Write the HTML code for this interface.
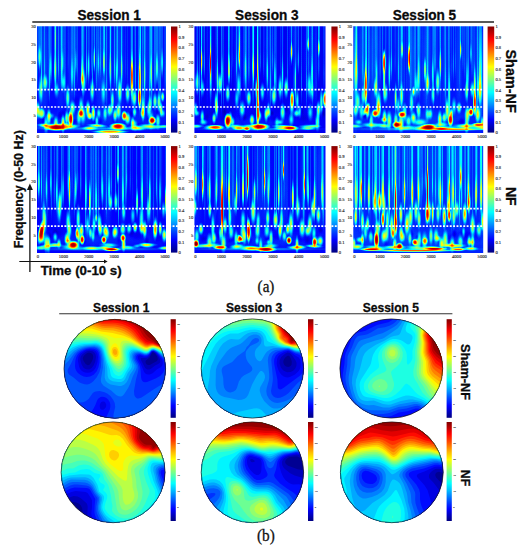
<!DOCTYPE html>
<html><head><meta charset="utf-8"><title>Figure</title>
<style>html,body{margin:0;padding:0;background:#fff;}body{width:529px;height:550px;overflow:hidden;font-family:"Liberation Sans",sans-serif;}svg{display:block;}text{font-family:"Liberation Sans",sans-serif;}.b{font-weight:bold;fill:#0a0a0a;stroke:#0a0a0a;stroke-width:0.3px;}.s{font-family:"Liberation Serif",serif;fill:#111;stroke:#111;stroke-width:.3px;}.t{font-family:"Liberation Serif",serif;fill:#222;font-size:4.6px;stroke:#333;stroke-width:.12px;}</style>
</head><body>
<svg width="529" height="550" viewBox="0 0 529 550">
<defs>
<radialGradient id="gw"><stop offset="0" stop-color="#fff" stop-opacity="1"/><stop offset="0.15" stop-color="#fff" stop-opacity="0.93"/><stop offset="0.3" stop-color="#fff" stop-opacity="0.76"/><stop offset="0.45" stop-color="#fff" stop-opacity="0.53"/><stop offset="0.6" stop-color="#fff" stop-opacity="0.32"/><stop offset="0.75" stop-color="#fff" stop-opacity="0.15"/><stop offset="0.9" stop-color="#fff" stop-opacity="0.04"/><stop offset="1" stop-color="#fff" stop-opacity="0"/></radialGradient>
<radialGradient id="gk"><stop offset="0" stop-color="#000" stop-opacity="1"/><stop offset="0.15" stop-color="#000" stop-opacity="0.93"/><stop offset="0.3" stop-color="#000" stop-opacity="0.76"/><stop offset="0.45" stop-color="#000" stop-opacity="0.53"/><stop offset="0.6" stop-color="#000" stop-opacity="0.32"/><stop offset="0.75" stop-color="#000" stop-opacity="0.15"/><stop offset="0.9" stop-color="#000" stop-opacity="0.04"/><stop offset="1" stop-color="#000" stop-opacity="0"/></radialGradient>
<radialGradient id="fw"><stop offset="0" stop-color="#fff" stop-opacity="1"/><stop offset="0.28" stop-color="#fff" stop-opacity="0.96"/><stop offset="0.42" stop-color="#fff" stop-opacity="0.82"/><stop offset="0.56" stop-color="#fff" stop-opacity="0.58"/><stop offset="0.7" stop-color="#fff" stop-opacity="0.34"/><stop offset="0.84" stop-color="#fff" stop-opacity="0.14"/><stop offset="1" stop-color="#fff" stop-opacity="0"/></radialGradient>
<radialGradient id="fk"><stop offset="0" stop-color="#000" stop-opacity="1"/><stop offset="0.28" stop-color="#000" stop-opacity="0.96"/><stop offset="0.42" stop-color="#000" stop-opacity="0.82"/><stop offset="0.56" stop-color="#000" stop-opacity="0.58"/><stop offset="0.7" stop-color="#000" stop-opacity="0.34"/><stop offset="0.84" stop-color="#000" stop-opacity="0.14"/><stop offset="1" stop-color="#000" stop-opacity="0"/></radialGradient>
<radialGradient id="tw"><stop offset="0" stop-color="#fff" stop-opacity="1"/><stop offset="0.55" stop-color="#fff" stop-opacity="0.96"/><stop offset="0.75" stop-color="#fff" stop-opacity="0.75"/><stop offset="0.88" stop-color="#fff" stop-opacity="0.4"/><stop offset="0.96" stop-color="#fff" stop-opacity="0.12"/><stop offset="1" stop-color="#fff" stop-opacity="0"/></radialGradient>
<radialGradient id="tk"><stop offset="0" stop-color="#000" stop-opacity="1"/><stop offset="0.55" stop-color="#000" stop-opacity="0.96"/><stop offset="0.75" stop-color="#000" stop-opacity="0.75"/><stop offset="0.88" stop-color="#000" stop-opacity="0.4"/><stop offset="0.96" stop-color="#000" stop-opacity="0.12"/><stop offset="1" stop-color="#000" stop-opacity="0"/></radialGradient>
<linearGradient id="cb" x1="0" y1="0" x2="0" y2="1"><stop offset="0" stop-color="rgb(128,0,0)"/><stop offset="0.06" stop-color="rgb(191,0,0)"/><stop offset="0.12" stop-color="rgb(255,0,0)"/><stop offset="0.19" stop-color="rgb(255,64,0)"/><stop offset="0.25" stop-color="rgb(255,128,0)"/><stop offset="0.31" stop-color="rgb(255,191,0)"/><stop offset="0.38" stop-color="rgb(255,255,0)"/><stop offset="0.44" stop-color="rgb(191,255,64)"/><stop offset="0.5" stop-color="rgb(128,255,128)"/><stop offset="0.56" stop-color="rgb(64,255,191)"/><stop offset="0.62" stop-color="rgb(0,255,255)"/><stop offset="0.69" stop-color="rgb(0,191,255)"/><stop offset="0.75" stop-color="rgb(0,128,255)"/><stop offset="0.81" stop-color="rgb(0,64,255)"/><stop offset="0.88" stop-color="rgb(0,0,255)"/><stop offset="0.94" stop-color="rgb(0,0,191)"/><stop offset="1" stop-color="rgb(0,0,128)"/></linearGradient>
<filter id="jet" x="-5%" y="-5%" width="110%" height="110%" color-interpolation-filters="sRGB"><feGaussianBlur stdDeviation="0.35"/><feComponentTransfer><feFuncR type="table" tableValues="0.000 0.000 0.000 0.000 0.000 0.000 0.000 0.000 0.000 0.000 0.000 0.000 0.000 0.125 0.250 0.375 0.500 0.625 0.750 0.875 1.000 1.000 1.000 1.000 1.000 1.000 1.000 1.000 1.000 0.875 0.750 0.625 0.500"/><feFuncG type="table" tableValues="0.000 0.000 0.000 0.000 0.000 0.125 0.250 0.375 0.500 0.625 0.750 0.875 1.000 1.000 1.000 1.000 1.000 1.000 1.000 1.000 1.000 0.875 0.750 0.625 0.500 0.375 0.250 0.125 0.000 0.000 0.000 0.000 0.000"/><feFuncB type="table" tableValues="0.500 0.625 0.750 0.875 1.000 1.000 1.000 1.000 1.000 1.000 1.000 1.000 1.000 0.875 0.750 0.625 0.500 0.375 0.250 0.125 0.000 0.000 0.000 0.000 0.000 0.000 0.000 0.000 0.000 0.000 0.000 0.000 0.000"/></feComponentTransfer></filter>
<filter id="jett" x="-5%" y="-5%" width="110%" height="110%" color-interpolation-filters="sRGB"><feGaussianBlur stdDeviation="2.2"/><feComponentTransfer><feFuncR type="discrete" tableValues="0.000 0.000 0.000 0.000 0.000 0.000 0.000 0.000 0.043 0.226 0.409 0.591 0.774 0.957 1.000 1.000 1.000 1.000 1.000 0.946 0.763 0.580"/><feFuncG type="discrete" tableValues="0.000 0.000 0.000 0.129 0.311 0.494 0.677 0.860 1.000 1.000 1.000 1.000 1.000 1.000 0.860 0.677 0.494 0.311 0.129 0.000 0.000 0.000"/><feFuncB type="discrete" tableValues="0.580 0.763 0.946 1.000 1.000 1.000 1.000 1.000 0.957 0.774 0.591 0.409 0.226 0.043 0.000 0.000 0.000 0.000 0.000 0.000 0.000 0.000"/></feComponentTransfer><feGaussianBlur stdDeviation="0.5"/></filter>
<filter id="b2" x="-30%" y="-30%" width="160%" height="160%"><feGaussianBlur stdDeviation="2"/></filter>
<filter id="b3" x="-30%" y="-30%" width="160%" height="160%"><feGaussianBlur stdDeviation="3"/></filter>
<filter id="b4" x="-30%" y="-30%" width="160%" height="160%"><feGaussianBlur stdDeviation="4"/></filter>
<filter id="b5" x="-30%" y="-30%" width="160%" height="160%"><feGaussianBlur stdDeviation="5"/></filter>
<filter id="b6" x="-30%" y="-30%" width="160%" height="160%"><feGaussianBlur stdDeviation="6"/></filter>
<filter id="b8" x="-30%" y="-30%" width="160%" height="160%"><feGaussianBlur stdDeviation="8"/></filter>
<clipPath id="cs0"><rect x="37" y="26.3" width="129" height="106.7"/></clipPath>
<clipPath id="cs1"><rect x="194.4" y="26.3" width="131.1" height="106.7"/></clipPath>
<clipPath id="cs2"><rect x="353.3" y="26.3" width="129.9" height="106.7"/></clipPath>
<clipPath id="cs3"><rect x="37" y="146" width="129" height="107"/></clipPath>
<clipPath id="cs4"><rect x="194.4" y="146" width="131.1" height="107"/></clipPath>
<clipPath id="cs5"><rect x="353.3" y="146" width="129.9" height="107"/></clipPath>
<clipPath id="ct0"><ellipse cx="114.85" cy="368.8" rx="50.75" ry="49.4"/></clipPath>
<clipPath id="ct1"><ellipse cx="252.4" cy="368.5" rx="51.2" ry="49.6"/></clipPath>
<clipPath id="ct2"><ellipse cx="391.3" cy="368.5" rx="51.4" ry="49.6"/></clipPath>
<clipPath id="ct3"><ellipse cx="113.1" cy="472.3" rx="52" ry="50.4"/></clipPath>
<clipPath id="ct4"><ellipse cx="252.4" cy="472.3" rx="51.2" ry="50.4"/></clipPath>
<clipPath id="ct5"><ellipse cx="391.8" cy="472.3" rx="51.4" ry="50.4"/></clipPath>
</defs>
<rect width="529" height="550" fill="#fff"/>
<line x1="32.3" y1="22" x2="494" y2="22" stroke="#222" stroke-width="1.5"/>
<g clip-path="url(#cs0)"><g filter="url(#jet)">
<rect x="31" y="20.3" width="141" height="118.7" fill="rgb(34,34,34)"/>
<ellipse cx="44.29" cy="58.31" rx="6.24" ry="80.03" fill="url(#fw)" opacity="0.06"/>
<ellipse cx="60.63" cy="58.31" rx="6.03" ry="80.03" fill="url(#fw)" opacity="0.04"/>
<ellipse cx="72.23" cy="58.31" rx="6.05" ry="80.03" fill="url(#fw)" opacity="0.05"/>
<ellipse cx="98.16" cy="58.31" rx="4.38" ry="80.03" fill="url(#fw)" opacity="0.03"/>
<ellipse cx="102.96" cy="58.31" rx="7.24" ry="80.03" fill="url(#fw)" opacity="0.05"/>
<ellipse cx="118.3" cy="58.31" rx="7.93" ry="80.03" fill="url(#fw)" opacity="0.06"/>
<ellipse cx="144.29" cy="58.31" rx="6.46" ry="80.03" fill="url(#fw)" opacity="0.03"/>
<ellipse cx="150.12" cy="58.31" rx="6.11" ry="80.03" fill="url(#fw)" opacity="0.02"/>
<ellipse cx="37.58" cy="29.69" rx="0.62" ry="67.82" fill="url(#tw)" opacity="0.06"/>
<ellipse cx="37.58" cy="73.77" rx="0.92" ry="22.38" fill="url(#gw)" opacity="0.05"/>
<ellipse cx="41.42" cy="30.07" rx="0.86" ry="75.34" fill="url(#tw)" opacity="0.12"/>
<ellipse cx="41.42" cy="79.04" rx="1.29" ry="24.86" fill="url(#gw)" opacity="0.11"/>
<ellipse cx="44.68" cy="29.29" rx="0.83" ry="59.89" fill="url(#tw)" opacity="0.1"/>
<ellipse cx="44.68" cy="68.22" rx="1.24" ry="19.76" fill="url(#gw)" opacity="0.09"/>
<ellipse cx="49.28" cy="30.21" rx="1.02" ry="78.22" fill="url(#tw)" opacity="0.14"/>
<ellipse cx="49.28" cy="81.06" rx="1.53" ry="25.81" fill="url(#gw)" opacity="0.13"/>
<ellipse cx="50.25" cy="28.85" rx="0.74" ry="51.01" fill="url(#tw)" opacity="0.05"/>
<ellipse cx="50.25" cy="62.01" rx="1.12" ry="16.83" fill="url(#gw)" opacity="0.05"/>
<ellipse cx="54.71" cy="29.53" rx="1.02" ry="64.51" fill="url(#tw)" opacity="0.07"/>
<ellipse cx="54.71" cy="71.46" rx="1.53" ry="21.29" fill="url(#gw)" opacity="0.07"/>
<ellipse cx="58.37" cy="29.15" rx="0.6" ry="56.97" fill="url(#tw)" opacity="0.12"/>
<ellipse cx="58.37" cy="66.18" rx="0.9" ry="18.8" fill="url(#gw)" opacity="0.11"/>
<ellipse cx="61.3" cy="29.55" rx="1.09" ry="64.98" fill="url(#tw)" opacity="0.08"/>
<ellipse cx="61.3" cy="71.78" rx="1.64" ry="21.44" fill="url(#gw)" opacity="0.07"/>
<ellipse cx="61.8" cy="29.28" rx="0.99" ry="59.53" fill="url(#tw)" opacity="0.1"/>
<ellipse cx="61.8" cy="67.97" rx="1.48" ry="19.64" fill="url(#gw)" opacity="0.09"/>
<ellipse cx="64.91" cy="30.32" rx="1.08" ry="80.37" fill="url(#tw)" opacity="0.07"/>
<ellipse cx="64.91" cy="82.56" rx="1.62" ry="26.52" fill="url(#gw)" opacity="0.06"/>
<ellipse cx="68.08" cy="28.83" rx="0.65" ry="50.57" fill="url(#tw)" opacity="0.06"/>
<ellipse cx="68.08" cy="61.7" rx="0.98" ry="16.69" fill="url(#gw)" opacity="0.05"/>
<ellipse cx="73.23" cy="29.66" rx="0.88" ry="67.11" fill="url(#tw)" opacity="0.05"/>
<ellipse cx="73.23" cy="73.28" rx="1.32" ry="22.15" fill="url(#gw)" opacity="0.05"/>
<ellipse cx="74.44" cy="30.07" rx="0.67" ry="75.49" fill="url(#tw)" opacity="0.11"/>
<ellipse cx="74.44" cy="79.14" rx="1" ry="24.91" fill="url(#gw)" opacity="0.1"/>
<ellipse cx="77.29" cy="29.28" rx="0.71" ry="59.53" fill="url(#tw)" opacity="0.08"/>
<ellipse cx="77.29" cy="67.97" rx="1.06" ry="19.64" fill="url(#gw)" opacity="0.07"/>
<ellipse cx="82.98" cy="30.59" rx="0.75" ry="85.78" fill="url(#tw)" opacity="0.12"/>
<ellipse cx="82.98" cy="86.35" rx="1.13" ry="28.31" fill="url(#gw)" opacity="0.11"/>
<ellipse cx="83.72" cy="30.07" rx="1.03" ry="75.41" fill="url(#tw)" opacity="0.07"/>
<ellipse cx="83.72" cy="79.09" rx="1.54" ry="24.88" fill="url(#gw)" opacity="0.07"/>
<ellipse cx="86.45" cy="29.25" rx="0.71" ry="59.04" fill="url(#tw)" opacity="0.14"/>
<ellipse cx="86.45" cy="67.63" rx="1.06" ry="19.48" fill="url(#gw)" opacity="0.13"/>
<ellipse cx="91.59" cy="28.86" rx="0.75" ry="51.15" fill="url(#tw)" opacity="0.07"/>
<ellipse cx="91.59" cy="62.1" rx="1.12" ry="16.88" fill="url(#gw)" opacity="0.06"/>
<ellipse cx="92.56" cy="29.98" rx="0.72" ry="73.68" fill="url(#tw)" opacity="0.09"/>
<ellipse cx="92.56" cy="77.87" rx="1.08" ry="24.31" fill="url(#gw)" opacity="0.09"/>
<ellipse cx="96.5" cy="29.73" rx="1.08" ry="68.66" fill="url(#tw)" opacity="0.08"/>
<ellipse cx="96.5" cy="74.36" rx="1.62" ry="22.66" fill="url(#gw)" opacity="0.07"/>
<ellipse cx="100.19" cy="29.03" rx="0.69" ry="54.59" fill="url(#tw)" opacity="0.12"/>
<ellipse cx="100.19" cy="64.52" rx="1.04" ry="18.02" fill="url(#gw)" opacity="0.11"/>
<ellipse cx="104.29" cy="29.11" rx="0.72" ry="56.12" fill="url(#tw)" opacity="0.12"/>
<ellipse cx="104.29" cy="65.58" rx="1.09" ry="18.52" fill="url(#gw)" opacity="0.11"/>
<ellipse cx="106.84" cy="30.73" rx="0.7" ry="88.57" fill="url(#tw)" opacity="0.13"/>
<ellipse cx="106.84" cy="88.3" rx="1.05" ry="29.23" fill="url(#gw)" opacity="0.12"/>
<ellipse cx="110.35" cy="28.92" rx="0.81" ry="52.45" fill="url(#tw)" opacity="0.1"/>
<ellipse cx="110.35" cy="63.01" rx="1.22" ry="17.31" fill="url(#gw)" opacity="0.09"/>
<ellipse cx="110.83" cy="30.2" rx="0.72" ry="78.09" fill="url(#tw)" opacity="0.13"/>
<ellipse cx="110.83" cy="80.96" rx="1.08" ry="25.77" fill="url(#gw)" opacity="0.12"/>
<ellipse cx="114.58" cy="29.33" rx="0.9" ry="60.54" fill="url(#tw)" opacity="0.12"/>
<ellipse cx="114.58" cy="68.68" rx="1.35" ry="19.98" fill="url(#gw)" opacity="0.11"/>
<ellipse cx="117.4" cy="29.19" rx="0.63" ry="57.76" fill="url(#tw)" opacity="0.11"/>
<ellipse cx="117.4" cy="66.73" rx="0.95" ry="19.06" fill="url(#gw)" opacity="0.1"/>
<ellipse cx="121.65" cy="29.3" rx="0.91" ry="59.97" fill="url(#tw)" opacity="0.12"/>
<ellipse cx="121.65" cy="68.28" rx="1.36" ry="19.79" fill="url(#gw)" opacity="0.11"/>
<ellipse cx="125.82" cy="29.28" rx="0.61" ry="59.5" fill="url(#tw)" opacity="0.05"/>
<ellipse cx="125.82" cy="67.95" rx="0.91" ry="19.64" fill="url(#gw)" opacity="0.05"/>
<ellipse cx="127.44" cy="29.49" rx="0.69" ry="63.75" fill="url(#tw)" opacity="0.04"/>
<ellipse cx="127.44" cy="70.93" rx="1.03" ry="21.04" fill="url(#gw)" opacity="0.03"/>
<ellipse cx="130.9" cy="30.6" rx="0.78" ry="86.04" fill="url(#tw)" opacity="0.04"/>
<ellipse cx="130.9" cy="86.53" rx="1.17" ry="28.39" fill="url(#gw)" opacity="0.04"/>
<ellipse cx="135.23" cy="29.95" rx="0.95" ry="72.96" fill="url(#tw)" opacity="0.1"/>
<ellipse cx="135.23" cy="77.37" rx="1.42" ry="24.08" fill="url(#gw)" opacity="0.09"/>
<ellipse cx="135.72" cy="30.64" rx="0.61" ry="86.86" fill="url(#tw)" opacity="0.03"/>
<ellipse cx="135.72" cy="87.1" rx="0.91" ry="28.66" fill="url(#gw)" opacity="0.03"/>
<ellipse cx="140.51" cy="30.06" rx="0.61" ry="75.17" fill="url(#tw)" opacity="0.13"/>
<ellipse cx="140.51" cy="78.92" rx="0.92" ry="24.81" fill="url(#gw)" opacity="0.12"/>
<ellipse cx="142.91" cy="30.83" rx="0.76" ry="90.67" fill="url(#tw)" opacity="0.11"/>
<ellipse cx="142.91" cy="89.77" rx="1.14" ry="29.92" fill="url(#gw)" opacity="0.1"/>
<ellipse cx="144.73" cy="30.62" rx="0.97" ry="86.44" fill="url(#tw)" opacity="0.09"/>
<ellipse cx="144.73" cy="86.8" rx="1.45" ry="28.52" fill="url(#gw)" opacity="0.08"/>
<ellipse cx="149.84" cy="30.65" rx="1" ry="87.07" fill="url(#tw)" opacity="0.11"/>
<ellipse cx="149.84" cy="87.25" rx="1.49" ry="28.73" fill="url(#gw)" opacity="0.1"/>
<ellipse cx="151.72" cy="30.56" rx="1.05" ry="85.19" fill="url(#tw)" opacity="0.1"/>
<ellipse cx="151.72" cy="85.94" rx="1.58" ry="28.11" fill="url(#gw)" opacity="0.1"/>
<ellipse cx="155" cy="29.92" rx="1.03" ry="72.46" fill="url(#tw)" opacity="0.12"/>
<ellipse cx="155" cy="77.02" rx="1.55" ry="23.91" fill="url(#gw)" opacity="0.11"/>
<ellipse cx="158.71" cy="30" rx="0.89" ry="74" fill="url(#tw)" opacity="0.07"/>
<ellipse cx="158.71" cy="78.1" rx="1.34" ry="24.42" fill="url(#gw)" opacity="0.07"/>
<ellipse cx="160.1" cy="30.58" rx="1.1" ry="85.56" fill="url(#tw)" opacity="0.1"/>
<ellipse cx="160.1" cy="86.2" rx="1.64" ry="28.24" fill="url(#gw)" opacity="0.09"/>
<ellipse cx="165.17" cy="29.94" rx="0.97" ry="72.81" fill="url(#tw)" opacity="0.07"/>
<ellipse cx="165.17" cy="77.27" rx="1.45" ry="24.03" fill="url(#gw)" opacity="0.07"/>
<ellipse cx="43.31" cy="120.26" rx="2.67" ry="5.38" fill="url(#gk)" opacity="0.31"/>
<ellipse cx="59.95" cy="115.68" rx="2.96" ry="5.25" fill="url(#gk)" opacity="0.42"/>
<ellipse cx="74.47" cy="121.31" rx="3.01" ry="3.53" fill="url(#gk)" opacity="0.38"/>
<ellipse cx="89.72" cy="112.12" rx="2.84" ry="5.76" fill="url(#gk)" opacity="0.46"/>
<ellipse cx="100.67" cy="120.94" rx="3.15" ry="5.16" fill="url(#gk)" opacity="0.35"/>
<ellipse cx="114.84" cy="119.85" rx="4.33" ry="5.7" fill="url(#gk)" opacity="0.4"/>
<ellipse cx="131.36" cy="113.58" rx="2.77" ry="4.74" fill="url(#gk)" opacity="0.51"/>
<ellipse cx="149.5" cy="118.63" rx="4.4" ry="4.19" fill="url(#gk)" opacity="0.34"/>
<ellipse cx="158.13" cy="113.05" rx="2.93" ry="4.53" fill="url(#gk)" opacity="0.46"/>
<ellipse cx="40.75" cy="89.86" rx="3.21" ry="17.86" fill="url(#gw)" opacity="0.36"/>
<ellipse cx="45.15" cy="82.59" rx="3.25" ry="10.33" fill="url(#gw)" opacity="0.43"/>
<ellipse cx="56.51" cy="89.7" rx="3.15" ry="10.15" fill="url(#gw)" opacity="0.28"/>
<ellipse cx="63.22" cy="82.42" rx="3.2" ry="11.9" fill="url(#gw)" opacity="0.29"/>
<ellipse cx="67.71" cy="97.9" rx="2.74" ry="15.04" fill="url(#gw)" opacity="0.41"/>
<ellipse cx="81.07" cy="106.33" rx="3.02" ry="11.59" fill="url(#gw)" opacity="0.37"/>
<ellipse cx="83.89" cy="82.06" rx="2.77" ry="15.71" fill="url(#gw)" opacity="0.29"/>
<ellipse cx="92.18" cy="90.64" rx="3.04" ry="14.16" fill="url(#gw)" opacity="0.4"/>
<ellipse cx="103.44" cy="91.86" rx="3.15" ry="17.25" fill="url(#gw)" opacity="0.27"/>
<ellipse cx="112.37" cy="100.28" rx="2.36" ry="13.63" fill="url(#gw)" opacity="0.41"/>
<ellipse cx="119.79" cy="91.43" rx="2.88" ry="17.03" fill="url(#gw)" opacity="0.45"/>
<ellipse cx="127.64" cy="93.66" rx="2.98" ry="11.64" fill="url(#gw)" opacity="0.43"/>
<ellipse cx="134.27" cy="98.21" rx="3.06" ry="11.71" fill="url(#gw)" opacity="0.47"/>
<ellipse cx="143.09" cy="106.81" rx="2.84" ry="16.33" fill="url(#gw)" opacity="0.33"/>
<ellipse cx="150.14" cy="103.7" rx="2.62" ry="10.66" fill="url(#gw)" opacity="0.36"/>
<ellipse cx="155" cy="101.46" rx="2.78" ry="10.23" fill="url(#gw)" opacity="0.45"/>
<ellipse cx="158.9" cy="102.27" rx="2.41" ry="12.68" fill="url(#gw)" opacity="0.45"/>
<ellipse cx="37.76" cy="110.09" rx="3.03" ry="10.34" fill="url(#gw)" opacity="0.57"/>
<ellipse cx="46.08" cy="124.55" rx="2.99" ry="11.69" fill="url(#gw)" opacity="0.35"/>
<ellipse cx="48.94" cy="116.95" rx="2.66" ry="10.37" fill="url(#gw)" opacity="0.51"/>
<ellipse cx="55.93" cy="122.69" rx="3.1" ry="7.87" fill="url(#gw)" opacity="0.43"/>
<ellipse cx="63.04" cy="123.73" rx="2.53" ry="11.1" fill="url(#gw)" opacity="0.61"/>
<ellipse cx="66.69" cy="117.79" rx="2.52" ry="9.22" fill="url(#gw)" opacity="0.47"/>
<ellipse cx="72.5" cy="107.9" rx="3.75" ry="9.1" fill="url(#gw)" opacity="0.44"/>
<ellipse cx="78.93" cy="117.6" rx="2.99" ry="10.15" fill="url(#gw)" opacity="0.34"/>
<ellipse cx="82.9" cy="114.9" rx="3.73" ry="11.54" fill="url(#gw)" opacity="0.4"/>
<ellipse cx="87.92" cy="109.7" rx="2.89" ry="10.89" fill="url(#gw)" opacity="0.59"/>
<ellipse cx="93.31" cy="113.15" rx="2.51" ry="9.71" fill="url(#gw)" opacity="0.6"/>
<ellipse cx="96.82" cy="121.53" rx="2.24" ry="7.16" fill="url(#gw)" opacity="0.39"/>
<ellipse cx="105.19" cy="113.23" rx="2.77" ry="9.72" fill="url(#gw)" opacity="0.35"/>
<ellipse cx="110.8" cy="109.62" rx="3.02" ry="7.5" fill="url(#gw)" opacity="0.38"/>
<ellipse cx="115.1" cy="115.31" rx="2.8" ry="8.48" fill="url(#gw)" opacity="0.48"/>
<ellipse cx="118.48" cy="111.1" rx="3.21" ry="9.83" fill="url(#gw)" opacity="0.48"/>
<ellipse cx="127.58" cy="118.49" rx="3.57" ry="7.4" fill="url(#gw)" opacity="0.54"/>
<ellipse cx="132.73" cy="123.77" rx="2.71" ry="7.89" fill="url(#gw)" opacity="0.6"/>
<ellipse cx="134.92" cy="125.5" rx="3.62" ry="6.8" fill="url(#gw)" opacity="0.39"/>
<ellipse cx="143.03" cy="112.1" rx="2.36" ry="10.99" fill="url(#gw)" opacity="0.45"/>
<ellipse cx="148.75" cy="109.68" rx="2.84" ry="10.11" fill="url(#gw)" opacity="0.33"/>
<ellipse cx="150.96" cy="119.77" rx="3.66" ry="11.81" fill="url(#gw)" opacity="0.35"/>
<ellipse cx="157.97" cy="121.14" rx="3" ry="10.11" fill="url(#gw)" opacity="0.38"/>
<ellipse cx="161" cy="109.32" rx="2.26" ry="9.31" fill="url(#gw)" opacity="0.47"/>
<ellipse cx="45.15" cy="125.54" rx="9.29" ry="2.44" fill="url(#gw)" opacity="0.56" transform="rotate(5.88 45.15 125.54)"/>
<ellipse cx="64.62" cy="125.35" rx="8.43" ry="3.34" fill="url(#gw)" opacity="0.47" transform="rotate(3.18 64.62 125.35)"/>
<ellipse cx="70.35" cy="126.74" rx="11.61" ry="2.72" fill="url(#gw)" opacity="0.5" transform="rotate(-5.84 70.35 126.74)"/>
<ellipse cx="90.05" cy="128.15" rx="9.27" ry="2.74" fill="url(#gw)" opacity="0.53" transform="rotate(-1.14 90.05 128.15)"/>
<ellipse cx="97.13" cy="125.61" rx="11.59" ry="2.22" fill="url(#gw)" opacity="0.57" transform="rotate(3.62 97.13 125.61)"/>
<ellipse cx="118.77" cy="128.21" rx="12.41" ry="2.69" fill="url(#gw)" opacity="0.5" transform="rotate(0.05 118.77 128.21)"/>
<ellipse cx="137.09" cy="128" rx="9.81" ry="3.29" fill="url(#gw)" opacity="0.54" transform="rotate(3.34 137.09 128)"/>
<ellipse cx="149.01" cy="126.51" rx="14.28" ry="3.26" fill="url(#gw)" opacity="0.52" transform="rotate(3.21 149.01 126.51)"/>
<ellipse cx="162.63" cy="126.51" rx="13.06" ry="2.28" fill="url(#gw)" opacity="0.44" transform="rotate(-0.37 162.63 126.51)"/>
<ellipse cx="39.59" cy="30.38" rx="1.74" ry="45.55" fill="url(#tw)" opacity="0.11"/>
<ellipse cx="39.59" cy="57.27" rx="2.45" ry="14.75" fill="url(#gw)" opacity="0.34"/>
<ellipse cx="50.82" cy="31.91" rx="1.3" ry="61.62" fill="url(#tw)" opacity="0.07"/>
<ellipse cx="50.82" cy="68.3" rx="1.84" ry="19.95" fill="url(#gw)" opacity="0.21"/>
<ellipse cx="55.41" cy="32.17" rx="1.3" ry="64.3" fill="url(#tw)" opacity="0.13"/>
<ellipse cx="55.41" cy="70.13" rx="1.84" ry="20.82" fill="url(#gw)" opacity="0.38"/>
<ellipse cx="55.41" cy="39.31" rx="1" ry="30.62" fill="url(#gw)" opacity="0.3"/>
<ellipse cx="62.56" cy="31.14" rx="1.52" ry="53.59" fill="url(#tw)" opacity="0.06"/>
<ellipse cx="62.56" cy="62.79" rx="2.14" ry="17.35" fill="url(#gw)" opacity="0.19"/>
<ellipse cx="72" cy="32.68" rx="1.3" ry="69.66" fill="url(#tw)" opacity="0.07"/>
<ellipse cx="72" cy="73.81" rx="1.84" ry="22.56" fill="url(#gw)" opacity="0.21"/>
<ellipse cx="75.83" cy="31.14" rx="1.08" ry="53.59" fill="url(#tw)" opacity="0.06"/>
<ellipse cx="75.83" cy="62.79" rx="1.53" ry="17.35" fill="url(#gw)" opacity="0.17"/>
<ellipse cx="82.21" cy="32.68" rx="1.3" ry="69.66" fill="url(#tw)" opacity="0.13"/>
<ellipse cx="82.21" cy="73.81" rx="1.84" ry="22.56" fill="url(#gw)" opacity="0.38"/>
<ellipse cx="82.21" cy="78.86" rx="1.99" ry="7.66" fill="url(#gw)" opacity="0.45"/>
<ellipse cx="88.59" cy="31.66" rx="1.3" ry="58.94" fill="url(#tw)" opacity="0.08"/>
<ellipse cx="88.59" cy="66.46" rx="1.84" ry="19.09" fill="url(#gw)" opacity="0.26"/>
<ellipse cx="94.2" cy="30.63" rx="0.87" ry="48.23" fill="url(#tw)" opacity="0.14"/>
<ellipse cx="94.2" cy="59.11" rx="1.22" ry="15.62" fill="url(#gw)" opacity="0.42"/>
<ellipse cx="98.28" cy="31.14" rx="1.08" ry="53.59" fill="url(#tw)" opacity="0.06"/>
<ellipse cx="98.28" cy="62.79" rx="1.53" ry="17.35" fill="url(#gw)" opacity="0.19"/>
<ellipse cx="103.9" cy="31.14" rx="0.87" ry="53.59" fill="url(#tw)" opacity="0.15"/>
<ellipse cx="103.9" cy="62.79" rx="1.22" ry="17.35" fill="url(#gw)" opacity="0.47"/>
<ellipse cx="110.27" cy="32.17" rx="1.52" ry="64.3" fill="url(#tw)" opacity="0.07"/>
<ellipse cx="110.27" cy="70.13" rx="2.14" ry="20.82" fill="url(#gw)" opacity="0.21"/>
<ellipse cx="116.65" cy="32.68" rx="1.08" ry="69.66" fill="url(#tw)" opacity="0.07"/>
<ellipse cx="116.65" cy="73.81" rx="1.53" ry="22.56" fill="url(#gw)" opacity="0.21"/>
<ellipse cx="121.76" cy="32.17" rx="1.08" ry="64.3" fill="url(#tw)" opacity="0.06"/>
<ellipse cx="121.76" cy="70.13" rx="1.53" ry="20.82" fill="url(#gw)" opacity="0.19"/>
<ellipse cx="131.96" cy="33.7" rx="1.52" ry="80.38" fill="url(#tw)" opacity="0.15"/>
<ellipse cx="131.96" cy="81.16" rx="2.14" ry="26.03" fill="url(#gw)" opacity="0.47"/>
<ellipse cx="131.96" cy="75.03" rx="1.66" ry="17.86" fill="url(#gw)" opacity="0.55"/>
<ellipse cx="139.62" cy="34.21" rx="1.52" ry="85.74" fill="url(#tw)" opacity="0.15"/>
<ellipse cx="139.62" cy="84.83" rx="2.14" ry="27.76" fill="url(#gw)" opacity="0.47"/>
<ellipse cx="139.62" cy="98" rx="2.14" ry="12.5" fill="url(#fw)" opacity="0.7"/>
<ellipse cx="144.72" cy="32.68" rx="1.08" ry="69.66" fill="url(#tw)" opacity="0.08"/>
<ellipse cx="144.72" cy="73.81" rx="1.53" ry="22.56" fill="url(#gw)" opacity="0.26"/>
<ellipse cx="151.1" cy="32.42" rx="1.08" ry="66.98" fill="url(#tw)" opacity="0.11"/>
<ellipse cx="151.1" cy="71.97" rx="1.53" ry="21.69" fill="url(#gw)" opacity="0.34"/>
<ellipse cx="156.97" cy="31.91" rx="1.08" ry="61.62" fill="url(#tw)" opacity="0.13"/>
<ellipse cx="156.97" cy="68.3" rx="1.53" ry="19.95" fill="url(#gw)" opacity="0.38"/>
<ellipse cx="162.07" cy="31.14" rx="1.3" ry="53.59" fill="url(#tw)" opacity="0.08"/>
<ellipse cx="162.07" cy="62.79" rx="1.84" ry="17.35" fill="url(#gw)" opacity="0.26"/>
<ellipse cx="162.58" cy="96.72" rx="2.32" ry="6.38" fill="url(#gw)" opacity="0.5"/>
<ellipse cx="101.34" cy="118.41" rx="99.52" ry="15.31" fill="url(#gw)" opacity="0.04"/>
<ellipse cx="101.34" cy="128.62" rx="92.88" ry="2.55" fill="url(#gw)" opacity="0.16"/>
<ellipse cx="63.07" cy="113.31" rx="5.97" ry="6.38" fill="url(#gk)" opacity="0.27"/>
<ellipse cx="94.96" cy="122.24" rx="8.29" ry="3.83" fill="url(#gk)" opacity="0.22"/>
<ellipse cx="137.07" cy="124.79" rx="9.95" ry="3.06" fill="url(#gk)" opacity="0.27"/>
<ellipse cx="158.76" cy="126.07" rx="6.63" ry="2.55" fill="url(#gk)" opacity="0.22"/>
<ellipse cx="75.83" cy="100.55" rx="4.98" ry="6.38" fill="url(#gk)" opacity="0.22"/>
<ellipse cx="55.41" cy="126.58" rx="23.22" ry="4.59" fill="url(#gw)" opacity="0.3"/>
<ellipse cx="98.79" cy="113.31" rx="2.65" ry="6.38" fill="url(#gw)" opacity="0.3"/>
<ellipse cx="109" cy="110.76" rx="2.65" ry="7.66" fill="url(#gw)" opacity="0.3"/>
<ellipse cx="134.52" cy="112.03" rx="2.65" ry="6.38" fill="url(#gw)" opacity="0.4"/>
<ellipse cx="142.17" cy="113.31" rx="2.65" ry="5.1" fill="url(#gw)" opacity="0.35"/>
<ellipse cx="162.58" cy="113.31" rx="3.32" ry="5.1" fill="url(#gw)" opacity="0.3"/>
<ellipse cx="50.31" cy="115.86" rx="4.98" ry="3.83" fill="url(#gw)" opacity="0.25"/>
<ellipse cx="131.96" cy="72.48" rx="1.33" ry="28.07" fill="url(#gw)" opacity="0.5"/>
<ellipse cx="139.62" cy="75.03" rx="1.33" ry="30.62" fill="url(#gw)" opacity="0.5"/>
<ellipse cx="41.38" cy="113.31" rx="4.29" ry="6.43" fill="url(#fw)" opacity="0.5"/>
<ellipse cx="56.69" cy="127.34" rx="13.57" ry="3.93" fill="url(#fw)" opacity="0.95"/>
<ellipse cx="70.72" cy="118.92" rx="3.22" ry="10" fill="url(#fw)" opacity="0.9"/>
<ellipse cx="80.93" cy="113.31" rx="3.22" ry="5" fill="url(#fw)" opacity="0.85"/>
<ellipse cx="89.86" cy="115.86" rx="2.86" ry="4.29" fill="url(#fw)" opacity="0.55"/>
<ellipse cx="117.93" cy="126.07" rx="9.29" ry="3.57" fill="url(#fw)" opacity="0.9"/>
<ellipse cx="124.31" cy="115.86" rx="3.22" ry="5.72" fill="url(#fw)" opacity="0.8"/>
<ellipse cx="152.38" cy="120.45" rx="4.29" ry="4.64" fill="url(#fw)" opacity="0.92"/>
<ellipse cx="110.27" cy="131.68" rx="19.65" ry="2.14" fill="url(#fw)" opacity="0.7"/>
</g></g>
<g clip-path="url(#cs1)"><g filter="url(#jet)">
<rect x="188.4" y="20.3" width="143.1" height="118.7" fill="rgb(28,28,28)"/>
<ellipse cx="210.1" cy="58.31" rx="4.56" ry="80.03" fill="url(#fw)" opacity="0.02"/>
<ellipse cx="227.15" cy="58.31" rx="4.74" ry="80.03" fill="url(#fw)" opacity="0.02"/>
<ellipse cx="237.85" cy="58.31" rx="5.38" ry="80.03" fill="url(#fw)" opacity="0.06"/>
<ellipse cx="247.36" cy="58.31" rx="7.84" ry="80.03" fill="url(#fw)" opacity="0.03"/>
<ellipse cx="269.8" cy="58.31" rx="7.73" ry="80.03" fill="url(#fw)" opacity="0.05"/>
<ellipse cx="291.48" cy="58.31" rx="6.83" ry="80.03" fill="url(#fw)" opacity="0.02"/>
<ellipse cx="307.17" cy="58.31" rx="6.36" ry="80.03" fill="url(#fw)" opacity="0.03"/>
<ellipse cx="312.23" cy="58.31" rx="7.4" ry="80.03" fill="url(#fw)" opacity="0.04"/>
<ellipse cx="197.33" cy="29.91" rx="1.08" ry="72.19" fill="url(#tw)" opacity="0.11"/>
<ellipse cx="197.33" cy="76.83" rx="1.62" ry="23.82" fill="url(#gw)" opacity="0.1"/>
<ellipse cx="199.7" cy="30.74" rx="0.73" ry="88.85" fill="url(#tw)" opacity="0.1"/>
<ellipse cx="199.7" cy="88.49" rx="1.09" ry="29.32" fill="url(#gw)" opacity="0.09"/>
<ellipse cx="201.62" cy="30.09" rx="1.08" ry="75.79" fill="url(#tw)" opacity="0.11"/>
<ellipse cx="201.62" cy="79.36" rx="1.62" ry="25.01" fill="url(#gw)" opacity="0.1"/>
<ellipse cx="204.21" cy="29.1" rx="0.93" ry="55.91" fill="url(#tw)" opacity="0.12"/>
<ellipse cx="204.21" cy="65.44" rx="1.4" ry="18.45" fill="url(#gw)" opacity="0.11"/>
<ellipse cx="207.04" cy="30.67" rx="0.62" ry="87.5" fill="url(#tw)" opacity="0.09"/>
<ellipse cx="207.04" cy="87.55" rx="0.92" ry="28.87" fill="url(#gw)" opacity="0.08"/>
<ellipse cx="211.59" cy="30.11" rx="0.8" ry="76.23" fill="url(#tw)" opacity="0.09"/>
<ellipse cx="211.59" cy="79.66" rx="1.21" ry="25.15" fill="url(#gw)" opacity="0.08"/>
<ellipse cx="215.99" cy="29.94" rx="0.79" ry="72.88" fill="url(#tw)" opacity="0.06"/>
<ellipse cx="215.99" cy="77.32" rx="1.18" ry="24.05" fill="url(#gw)" opacity="0.06"/>
<ellipse cx="217.18" cy="29.63" rx="0.87" ry="66.52" fill="url(#tw)" opacity="0.09"/>
<ellipse cx="217.18" cy="72.86" rx="1.31" ry="21.95" fill="url(#gw)" opacity="0.09"/>
<ellipse cx="221.47" cy="30.83" rx="0.64" ry="90.54" fill="url(#tw)" opacity="0.09"/>
<ellipse cx="221.47" cy="89.68" rx="0.97" ry="29.88" fill="url(#gw)" opacity="0.08"/>
<ellipse cx="223.6" cy="30.68" rx="0.8" ry="87.69" fill="url(#tw)" opacity="0.08"/>
<ellipse cx="223.6" cy="87.68" rx="1.2" ry="28.94" fill="url(#gw)" opacity="0.07"/>
<ellipse cx="228.59" cy="28.91" rx="0.8" ry="52.14" fill="url(#tw)" opacity="0.09"/>
<ellipse cx="228.59" cy="62.8" rx="1.2" ry="17.21" fill="url(#gw)" opacity="0.08"/>
<ellipse cx="231.53" cy="29.45" rx="0.87" ry="62.92" fill="url(#tw)" opacity="0.05"/>
<ellipse cx="231.53" cy="70.34" rx="1.31" ry="20.76" fill="url(#gw)" opacity="0.04"/>
<ellipse cx="232.88" cy="28.78" rx="0.7" ry="49.59" fill="url(#tw)" opacity="0.07"/>
<ellipse cx="232.88" cy="61.02" rx="1.04" ry="16.37" fill="url(#gw)" opacity="0.06"/>
<ellipse cx="236.65" cy="29.13" rx="0.92" ry="56.62" fill="url(#tw)" opacity="0.12"/>
<ellipse cx="236.65" cy="65.93" rx="1.39" ry="18.68" fill="url(#gw)" opacity="0.11"/>
<ellipse cx="240.27" cy="30.47" rx="0.81" ry="83.36" fill="url(#tw)" opacity="0.04"/>
<ellipse cx="240.27" cy="84.65" rx="1.21" ry="27.51" fill="url(#gw)" opacity="0.03"/>
<ellipse cx="244.1" cy="29.76" rx="1.02" ry="69.29" fill="url(#tw)" opacity="0.08"/>
<ellipse cx="244.1" cy="74.8" rx="1.53" ry="22.87" fill="url(#gw)" opacity="0.07"/>
<ellipse cx="245.98" cy="30.29" rx="1.1" ry="79.76" fill="url(#tw)" opacity="0.09"/>
<ellipse cx="245.98" cy="82.13" rx="1.64" ry="26.32" fill="url(#gw)" opacity="0.09"/>
<ellipse cx="248.94" cy="29.46" rx="0.92" ry="63.11" fill="url(#tw)" opacity="0.11"/>
<ellipse cx="248.94" cy="70.48" rx="1.38" ry="20.83" fill="url(#gw)" opacity="0.1"/>
<ellipse cx="253.03" cy="30.71" rx="0.9" ry="88.25" fill="url(#tw)" opacity="0.12"/>
<ellipse cx="253.03" cy="88.08" rx="1.36" ry="29.12" fill="url(#gw)" opacity="0.11"/>
<ellipse cx="253.76" cy="29.43" rx="0.92" ry="62.55" fill="url(#tw)" opacity="0.08"/>
<ellipse cx="253.76" cy="70.09" rx="1.38" ry="20.64" fill="url(#gw)" opacity="0.08"/>
<ellipse cx="257.36" cy="29.27" rx="0.82" ry="59.5" fill="url(#tw)" opacity="0.1"/>
<ellipse cx="257.36" cy="67.95" rx="1.23" ry="19.63" fill="url(#gw)" opacity="0.1"/>
<ellipse cx="260.08" cy="28.95" rx="0.78" ry="53.06" fill="url(#tw)" opacity="0.13"/>
<ellipse cx="260.08" cy="63.44" rx="1.16" ry="17.51" fill="url(#gw)" opacity="0.12"/>
<ellipse cx="263.75" cy="29.09" rx="1.03" ry="55.73" fill="url(#tw)" opacity="0.06"/>
<ellipse cx="263.75" cy="65.31" rx="1.55" ry="18.39" fill="url(#gw)" opacity="0.05"/>
<ellipse cx="267.06" cy="29.14" rx="0.83" ry="56.88" fill="url(#tw)" opacity="0.04"/>
<ellipse cx="267.06" cy="66.12" rx="1.25" ry="18.77" fill="url(#gw)" opacity="0.04"/>
<ellipse cx="270.39" cy="30.48" rx="1.06" ry="83.62" fill="url(#tw)" opacity="0.11"/>
<ellipse cx="270.39" cy="84.83" rx="1.59" ry="27.59" fill="url(#gw)" opacity="0.1"/>
<ellipse cx="272.56" cy="28.77" rx="1.02" ry="49.42" fill="url(#tw)" opacity="0.07"/>
<ellipse cx="272.56" cy="60.9" rx="1.54" ry="16.31" fill="url(#gw)" opacity="0.06"/>
<ellipse cx="276.19" cy="30.3" rx="0.79" ry="80.04" fill="url(#tw)" opacity="0.08"/>
<ellipse cx="276.19" cy="82.33" rx="1.19" ry="26.41" fill="url(#gw)" opacity="0.08"/>
<ellipse cx="280.92" cy="29.19" rx="0.72" ry="57.86" fill="url(#tw)" opacity="0.08"/>
<ellipse cx="280.92" cy="66.8" rx="1.09" ry="19.09" fill="url(#gw)" opacity="0.07"/>
<ellipse cx="282.63" cy="29.04" rx="0.93" ry="54.75" fill="url(#tw)" opacity="0.04"/>
<ellipse cx="282.63" cy="64.62" rx="1.4" ry="18.07" fill="url(#gw)" opacity="0.03"/>
<ellipse cx="287.7" cy="29.77" rx="0.63" ry="69.3" fill="url(#tw)" opacity="0.1"/>
<ellipse cx="287.7" cy="74.81" rx="0.94" ry="22.87" fill="url(#gw)" opacity="0.09"/>
<ellipse cx="289.93" cy="28.76" rx="0.84" ry="49.29" fill="url(#tw)" opacity="0.03"/>
<ellipse cx="289.93" cy="60.8" rx="1.27" ry="16.27" fill="url(#gw)" opacity="0.03"/>
<ellipse cx="293.56" cy="30.8" rx="0.92" ry="90.08" fill="url(#tw)" opacity="0.03"/>
<ellipse cx="293.56" cy="89.35" rx="1.37" ry="29.73" fill="url(#gw)" opacity="0.03"/>
<ellipse cx="296.93" cy="29" rx="0.87" ry="53.98" fill="url(#tw)" opacity="0.06"/>
<ellipse cx="296.93" cy="64.09" rx="1.3" ry="17.81" fill="url(#gw)" opacity="0.05"/>
<ellipse cx="298.48" cy="28.72" rx="1.01" ry="48.4" fill="url(#tw)" opacity="0.12"/>
<ellipse cx="298.48" cy="60.18" rx="1.51" ry="15.97" fill="url(#gw)" opacity="0.11"/>
<ellipse cx="301.71" cy="30.41" rx="0.69" ry="82.27" fill="url(#tw)" opacity="0.1"/>
<ellipse cx="301.71" cy="83.89" rx="1.03" ry="27.15" fill="url(#gw)" opacity="0.09"/>
<ellipse cx="306.44" cy="30.51" rx="0.78" ry="84.23" fill="url(#tw)" opacity="0.09"/>
<ellipse cx="306.44" cy="85.26" rx="1.17" ry="27.8" fill="url(#gw)" opacity="0.08"/>
<ellipse cx="308.37" cy="29.04" rx="0.74" ry="54.81" fill="url(#tw)" opacity="0.05"/>
<ellipse cx="308.37" cy="64.66" rx="1.11" ry="18.09" fill="url(#gw)" opacity="0.05"/>
<ellipse cx="312.51" cy="30.44" rx="0.95" ry="82.9" fill="url(#tw)" opacity="0.09"/>
<ellipse cx="312.51" cy="84.33" rx="1.42" ry="27.36" fill="url(#gw)" opacity="0.08"/>
<ellipse cx="316.05" cy="30.57" rx="0.8" ry="85.33" fill="url(#tw)" opacity="0.05"/>
<ellipse cx="316.05" cy="86.03" rx="1.2" ry="28.16" fill="url(#gw)" opacity="0.05"/>
<ellipse cx="318.51" cy="29.12" rx="0.93" ry="56.34" fill="url(#tw)" opacity="0.07"/>
<ellipse cx="318.51" cy="65.74" rx="1.39" ry="18.59" fill="url(#gw)" opacity="0.07"/>
<ellipse cx="319.76" cy="29.2" rx="0.79" ry="58.09" fill="url(#tw)" opacity="0.04"/>
<ellipse cx="319.76" cy="66.96" rx="1.18" ry="19.17" fill="url(#gw)" opacity="0.03"/>
<ellipse cx="323.99" cy="29.89" rx="0.68" ry="71.82" fill="url(#tw)" opacity="0.13"/>
<ellipse cx="323.99" cy="76.57" rx="1.01" ry="23.7" fill="url(#gw)" opacity="0.12"/>
<ellipse cx="207" cy="117.19" rx="3.55" ry="5.42" fill="url(#gk)" opacity="0.31"/>
<ellipse cx="222.78" cy="118.32" rx="4.11" ry="5.56" fill="url(#gk)" opacity="0.32"/>
<ellipse cx="224.5" cy="111.81" rx="3.51" ry="5.85" fill="url(#gk)" opacity="0.53"/>
<ellipse cx="244.1" cy="117.5" rx="3.98" ry="4.33" fill="url(#gk)" opacity="0.54"/>
<ellipse cx="266.39" cy="118.83" rx="4.3" ry="5.5" fill="url(#gk)" opacity="0.46"/>
<ellipse cx="271.91" cy="113.13" rx="2.98" ry="3.64" fill="url(#gk)" opacity="0.53"/>
<ellipse cx="286.15" cy="109.83" rx="3.13" ry="3.76" fill="url(#gk)" opacity="0.41"/>
<ellipse cx="301.21" cy="111.77" rx="3.45" ry="4.54" fill="url(#gk)" opacity="0.39"/>
<ellipse cx="322.78" cy="113.45" rx="3.58" ry="5.69" fill="url(#gk)" opacity="0.54"/>
<ellipse cx="197.13" cy="82.82" rx="3.34" ry="14.11" fill="url(#gw)" opacity="0.3"/>
<ellipse cx="202.62" cy="87.9" rx="2.57" ry="11.11" fill="url(#gw)" opacity="0.26"/>
<ellipse cx="216.21" cy="102.79" rx="2.34" ry="13.85" fill="url(#gw)" opacity="0.45"/>
<ellipse cx="219.92" cy="83.56" rx="2.61" ry="13.05" fill="url(#gw)" opacity="0.48"/>
<ellipse cx="227.78" cy="93.54" rx="2.96" ry="10.39" fill="url(#gw)" opacity="0.42"/>
<ellipse cx="236.7" cy="98.96" rx="2.63" ry="12.29" fill="url(#gw)" opacity="0.25"/>
<ellipse cx="238.7" cy="85.74" rx="2.74" ry="16.23" fill="url(#gw)" opacity="0.3"/>
<ellipse cx="248.82" cy="98.07" rx="2.96" ry="10.16" fill="url(#gw)" opacity="0.48"/>
<ellipse cx="256.93" cy="89.55" rx="2.49" ry="15.51" fill="url(#gw)" opacity="0.48"/>
<ellipse cx="262.41" cy="91.98" rx="2.87" ry="11.4" fill="url(#gw)" opacity="0.35"/>
<ellipse cx="273.92" cy="96.03" rx="3.19" ry="12.09" fill="url(#gw)" opacity="0.47"/>
<ellipse cx="280.22" cy="87.56" rx="2.84" ry="15.46" fill="url(#gw)" opacity="0.39"/>
<ellipse cx="286.18" cy="87.93" rx="2.86" ry="12.84" fill="url(#gw)" opacity="0.45"/>
<ellipse cx="291.8" cy="106.87" rx="2.9" ry="11.82" fill="url(#gw)" opacity="0.35"/>
<ellipse cx="297.3" cy="100.64" rx="2.26" ry="14.84" fill="url(#gw)" opacity="0.33"/>
<ellipse cx="309.31" cy="85.03" rx="3.02" ry="15.71" fill="url(#gw)" opacity="0.31"/>
<ellipse cx="311.88" cy="91.32" rx="2.98" ry="12.09" fill="url(#gw)" opacity="0.25"/>
<ellipse cx="321.43" cy="102.49" rx="2.39" ry="17.53" fill="url(#gw)" opacity="0.38"/>
<ellipse cx="195.57" cy="109.21" rx="2.79" ry="8.86" fill="url(#gw)" opacity="0.33"/>
<ellipse cx="202.3" cy="116.48" rx="2.61" ry="8.67" fill="url(#gw)" opacity="0.4"/>
<ellipse cx="214.05" cy="117.87" rx="2.57" ry="7.08" fill="url(#gw)" opacity="0.51"/>
<ellipse cx="216.62" cy="109.63" rx="2.31" ry="10.96" fill="url(#gw)" opacity="0.43"/>
<ellipse cx="230.26" cy="118.75" rx="2.74" ry="8.58" fill="url(#gw)" opacity="0.48"/>
<ellipse cx="232.5" cy="121.96" rx="2.85" ry="6.25" fill="url(#gw)" opacity="0.37"/>
<ellipse cx="242.18" cy="110.05" rx="3.65" ry="11.56" fill="url(#gw)" opacity="0.42"/>
<ellipse cx="251.97" cy="119.91" rx="3.06" ry="6.95" fill="url(#gw)" opacity="0.54"/>
<ellipse cx="259.36" cy="115.59" rx="2.82" ry="6.44" fill="url(#gw)" opacity="0.45"/>
<ellipse cx="266.18" cy="114.45" rx="2.66" ry="9.68" fill="url(#gw)" opacity="0.49"/>
<ellipse cx="268.47" cy="112.51" rx="3.23" ry="6.25" fill="url(#gw)" opacity="0.5"/>
<ellipse cx="276.81" cy="122.49" rx="2.93" ry="6.99" fill="url(#gw)" opacity="0.29"/>
<ellipse cx="282.63" cy="112.11" rx="3.41" ry="10.76" fill="url(#gw)" opacity="0.45"/>
<ellipse cx="291.32" cy="119.44" rx="3.37" ry="8.2" fill="url(#gw)" opacity="0.3"/>
<ellipse cx="299.78" cy="111.42" rx="2.5" ry="8.34" fill="url(#gw)" opacity="0.3"/>
<ellipse cx="310.19" cy="112.48" rx="3.64" ry="10.42" fill="url(#gw)" opacity="0.28"/>
<ellipse cx="317.48" cy="122.07" rx="3.04" ry="11.31" fill="url(#gw)" opacity="0.41"/>
<ellipse cx="318.4" cy="110.11" rx="2.7" ry="11.15" fill="url(#gw)" opacity="0.5"/>
<ellipse cx="196.12" cy="126.3" rx="8.78" ry="2.47" fill="url(#gw)" opacity="0.44" transform="rotate(-1.03 196.12 126.3)"/>
<ellipse cx="211.15" cy="127.45" rx="9.69" ry="3.27" fill="url(#gw)" opacity="0.47" transform="rotate(-0.84 211.15 127.45)"/>
<ellipse cx="234.69" cy="126.29" rx="9.8" ry="2.35" fill="url(#gw)" opacity="0.42" transform="rotate(-3.19 234.69 126.29)"/>
<ellipse cx="248.81" cy="126.32" rx="12.95" ry="2.53" fill="url(#gw)" opacity="0.37" transform="rotate(-2.34 248.81 126.32)"/>
<ellipse cx="258.39" cy="128.4" rx="9.4" ry="2.45" fill="url(#gw)" opacity="0.39" transform="rotate(-2.96 258.39 128.4)"/>
<ellipse cx="281.22" cy="128.48" rx="9.59" ry="2.26" fill="url(#gw)" opacity="0.47" transform="rotate(1.02 281.22 128.48)"/>
<ellipse cx="283.43" cy="126.56" rx="13.38" ry="2.2" fill="url(#gw)" opacity="0.53" transform="rotate(2.22 283.43 126.56)"/>
<ellipse cx="307.82" cy="126.82" rx="11.25" ry="2.82" fill="url(#gw)" opacity="0.38" transform="rotate(0.17 307.82 126.82)"/>
<ellipse cx="314.42" cy="126.2" rx="8.31" ry="2.39" fill="url(#gw)" opacity="0.36" transform="rotate(0.49 314.42 126.2)"/>
<ellipse cx="201.7" cy="30.89" rx="0.87" ry="50.91" fill="url(#tw)" opacity="0.18"/>
<ellipse cx="201.7" cy="60.95" rx="1.22" ry="16.48" fill="url(#gw)" opacity="0.53"/>
<ellipse cx="210.37" cy="31.4" rx="0.87" ry="56.26" fill="url(#tw)" opacity="0.21"/>
<ellipse cx="210.37" cy="64.62" rx="1.22" ry="18.22" fill="url(#gw)" opacity="0.64"/>
<ellipse cx="210.37" cy="62.28" rx="1" ry="15.31" fill="url(#gw)" opacity="0.4"/>
<ellipse cx="210.37" cy="33.7" rx="1.08" ry="80.38" fill="url(#tw)" opacity="0.07"/>
<ellipse cx="210.37" cy="81.16" rx="1.53" ry="26.03" fill="url(#gw)" opacity="0.21"/>
<ellipse cx="217.52" cy="33.7" rx="1.08" ry="80.38" fill="url(#tw)" opacity="0.09"/>
<ellipse cx="217.52" cy="81.16" rx="1.53" ry="26.03" fill="url(#gw)" opacity="0.27"/>
<ellipse cx="222.11" cy="32.42" rx="1.08" ry="66.98" fill="url(#tw)" opacity="0.07"/>
<ellipse cx="222.11" cy="71.97" rx="1.53" ry="21.69" fill="url(#gw)" opacity="0.21"/>
<ellipse cx="229" cy="32.17" rx="0.87" ry="64.3" fill="url(#tw)" opacity="0.18"/>
<ellipse cx="229" cy="70.13" rx="1.22" ry="20.82" fill="url(#gw)" opacity="0.53"/>
<ellipse cx="229" cy="72.48" rx="1" ry="7.66" fill="url(#gw)" opacity="0.3"/>
<ellipse cx="239.21" cy="30.38" rx="0.87" ry="45.55" fill="url(#tw)" opacity="0.21"/>
<ellipse cx="239.21" cy="57.27" rx="1.22" ry="14.75" fill="url(#gw)" opacity="0.64"/>
<ellipse cx="245.59" cy="31.91" rx="1.08" ry="61.62" fill="url(#tw)" opacity="0.08"/>
<ellipse cx="245.59" cy="68.3" rx="1.53" ry="19.95" fill="url(#gw)" opacity="0.23"/>
<ellipse cx="253.24" cy="31.66" rx="1.08" ry="58.94" fill="url(#tw)" opacity="0.14"/>
<ellipse cx="253.24" cy="66.46" rx="1.53" ry="19.09" fill="url(#gw)" opacity="0.42"/>
<ellipse cx="257.83" cy="34.46" rx="0.87" ry="88.42" fill="url(#tw)" opacity="0.21"/>
<ellipse cx="257.83" cy="86.67" rx="1.22" ry="28.63" fill="url(#gw)" opacity="0.64"/>
<ellipse cx="257.83" cy="110.76" rx="2.14" ry="21.43" fill="url(#fw)" opacity="0.8"/>
<ellipse cx="267.27" cy="32.68" rx="1.08" ry="69.66" fill="url(#tw)" opacity="0.08"/>
<ellipse cx="267.27" cy="73.81" rx="1.53" ry="22.56" fill="url(#gw)" opacity="0.23"/>
<ellipse cx="274.93" cy="33.19" rx="1.08" ry="75.02" fill="url(#tw)" opacity="0.09"/>
<ellipse cx="274.93" cy="77.48" rx="1.53" ry="24.29" fill="url(#gw)" opacity="0.27"/>
<ellipse cx="282.58" cy="33.19" rx="1.08" ry="75.02" fill="url(#tw)" opacity="0.08"/>
<ellipse cx="282.58" cy="77.48" rx="1.53" ry="24.29" fill="url(#gw)" opacity="0.23"/>
<ellipse cx="291.52" cy="29.61" rx="1.08" ry="37.51" fill="url(#tw)" opacity="0.18"/>
<ellipse cx="291.52" cy="51.76" rx="1.53" ry="12.15" fill="url(#gw)" opacity="0.53"/>
<ellipse cx="292.03" cy="99.27" rx="2.5" ry="10.72" fill="url(#fw)" opacity="0.7"/>
<ellipse cx="295.34" cy="33.7" rx="1.08" ry="80.38" fill="url(#tw)" opacity="0.11"/>
<ellipse cx="295.34" cy="81.16" rx="1.53" ry="26.03" fill="url(#gw)" opacity="0.32"/>
<ellipse cx="308.1" cy="28.59" rx="0.87" ry="26.79" fill="url(#tw)" opacity="0.18"/>
<ellipse cx="308.1" cy="44.41" rx="1.22" ry="8.68" fill="url(#gw)" opacity="0.53"/>
<ellipse cx="311.93" cy="32.68" rx="1.08" ry="69.66" fill="url(#tw)" opacity="0.08"/>
<ellipse cx="311.93" cy="73.81" rx="1.53" ry="22.56" fill="url(#gw)" opacity="0.23"/>
<ellipse cx="318.82" cy="29.1" rx="1.08" ry="32.15" fill="url(#tw)" opacity="0.16"/>
<ellipse cx="318.82" cy="48.09" rx="1.53" ry="10.41" fill="url(#gw)" opacity="0.48"/>
<ellipse cx="325.2" cy="99.27" rx="2.86" ry="10" fill="url(#fw)" opacity="0.8"/>
<ellipse cx="258.34" cy="122.24" rx="99.52" ry="11.48" fill="url(#gw)" opacity="0.04"/>
<ellipse cx="258.34" cy="129.13" rx="92.88" ry="2.3" fill="url(#gw)" opacity="0.16"/>
<ellipse cx="243.03" cy="115.86" rx="8.29" ry="6.38" fill="url(#gk)" opacity="0.22"/>
<ellipse cx="273.65" cy="118.41" rx="6.63" ry="5.1" fill="url(#gk)" opacity="0.22"/>
<ellipse cx="304.27" cy="118.41" rx="8.29" ry="6.38" fill="url(#gk)" opacity="0.22"/>
<ellipse cx="212.41" cy="113.31" rx="6.63" ry="6.38" fill="url(#gk)" opacity="0.22"/>
<ellipse cx="203.48" cy="122.24" rx="4.98" ry="3.83" fill="url(#gw)" opacity="0.3"/>
<ellipse cx="197.1" cy="113.31" rx="3.32" ry="3.83" fill="url(#gw)" opacity="0.28"/>
<ellipse cx="280.03" cy="122.24" rx="4.64" ry="3.57" fill="url(#gw)" opacity="0.28"/>
<ellipse cx="296.62" cy="113.31" rx="3.98" ry="4.59" fill="url(#gw)" opacity="0.4"/>
<ellipse cx="308.1" cy="128.62" rx="9.95" ry="2.04" fill="url(#gw)" opacity="0.35"/>
<ellipse cx="268.55" cy="108.21" rx="1.99" ry="7.66" fill="url(#gw)" opacity="0.25"/>
<ellipse cx="257.83" cy="75.03" rx="1" ry="48.48" fill="url(#gw)" opacity="0.45"/>
<ellipse cx="210.37" cy="59.72" rx="1" ry="28.07" fill="url(#gw)" opacity="0.4"/>
<ellipse cx="239.21" cy="46.97" rx="1" ry="20.41" fill="url(#gw)" opacity="0.4"/>
<ellipse cx="227.72" cy="120.96" rx="3.93" ry="8.57" fill="url(#fw)" opacity="0.97"/>
<ellipse cx="216.24" cy="127.34" rx="9.29" ry="2.86" fill="url(#fw)" opacity="0.75"/>
<ellipse cx="239.21" cy="128.11" rx="7.86" ry="2.5" fill="url(#fw)" opacity="0.65"/>
<ellipse cx="246.86" cy="128.62" rx="4.29" ry="2.5" fill="url(#fw)" opacity="0.8"/>
<ellipse cx="259.62" cy="126.58" rx="11.43" ry="3.57" fill="url(#fw)" opacity="0.92"/>
<ellipse cx="290.24" cy="128.11" rx="9.29" ry="2.86" fill="url(#fw)" opacity="0.88"/>
</g></g>
<g clip-path="url(#cs2)"><g filter="url(#jet)">
<rect x="347.3" y="20.3" width="141.9" height="118.7" fill="rgb(37,37,37)"/>
<ellipse cx="362.56" cy="58.31" rx="6.53" ry="80.03" fill="url(#fw)" opacity="0.05"/>
<ellipse cx="374.04" cy="58.31" rx="6.61" ry="80.03" fill="url(#fw)" opacity="0.06"/>
<ellipse cx="400.53" cy="58.31" rx="4.75" ry="80.03" fill="url(#fw)" opacity="0.05"/>
<ellipse cx="412.03" cy="58.31" rx="6.01" ry="80.03" fill="url(#fw)" opacity="0.06"/>
<ellipse cx="426.83" cy="58.31" rx="5.78" ry="80.03" fill="url(#fw)" opacity="0.06"/>
<ellipse cx="444.81" cy="58.31" rx="5.21" ry="80.03" fill="url(#fw)" opacity="0.03"/>
<ellipse cx="458.78" cy="58.31" rx="4.21" ry="80.03" fill="url(#fw)" opacity="0.04"/>
<ellipse cx="478.91" cy="58.31" rx="5.7" ry="80.03" fill="url(#fw)" opacity="0.05"/>
<ellipse cx="356.17" cy="28.95" rx="0.94" ry="53.02" fill="url(#tw)" opacity="0.09"/>
<ellipse cx="356.17" cy="63.41" rx="1.41" ry="17.5" fill="url(#gw)" opacity="0.08"/>
<ellipse cx="356.57" cy="29.16" rx="0.74" ry="57.12" fill="url(#tw)" opacity="0.14"/>
<ellipse cx="356.57" cy="66.28" rx="1.11" ry="18.85" fill="url(#gw)" opacity="0.12"/>
<ellipse cx="362.26" cy="29.39" rx="0.66" ry="61.74" fill="url(#tw)" opacity="0.11"/>
<ellipse cx="362.26" cy="69.52" rx="0.99" ry="20.38" fill="url(#gw)" opacity="0.1"/>
<ellipse cx="363.33" cy="29.82" rx="0.6" ry="70.41" fill="url(#tw)" opacity="0.06"/>
<ellipse cx="363.33" cy="75.59" rx="0.9" ry="23.23" fill="url(#gw)" opacity="0.05"/>
<ellipse cx="366.61" cy="28.94" rx="0.69" ry="52.71" fill="url(#tw)" opacity="0.07"/>
<ellipse cx="366.61" cy="63.2" rx="1.04" ry="17.4" fill="url(#gw)" opacity="0.07"/>
<ellipse cx="368.87" cy="29.9" rx="0.97" ry="71.9" fill="url(#tw)" opacity="0.12"/>
<ellipse cx="368.87" cy="76.63" rx="1.46" ry="23.73" fill="url(#gw)" opacity="0.11"/>
<ellipse cx="372.24" cy="29.38" rx="0.66" ry="61.53" fill="url(#tw)" opacity="0.05"/>
<ellipse cx="372.24" cy="69.37" rx="0.99" ry="20.3" fill="url(#gw)" opacity="0.04"/>
<ellipse cx="375.13" cy="29.11" rx="0.7" ry="56.25" fill="url(#tw)" opacity="0.06"/>
<ellipse cx="375.13" cy="65.67" rx="1.05" ry="18.56" fill="url(#gw)" opacity="0.05"/>
<ellipse cx="380.06" cy="29.46" rx="0.84" ry="63.3" fill="url(#tw)" opacity="0.08"/>
<ellipse cx="380.06" cy="70.61" rx="1.26" ry="20.89" fill="url(#gw)" opacity="0.07"/>
<ellipse cx="382.8" cy="28.85" rx="0.75" ry="51.01" fill="url(#tw)" opacity="0.11"/>
<ellipse cx="382.8" cy="62.01" rx="1.13" ry="16.83" fill="url(#gw)" opacity="0.11"/>
<ellipse cx="385.72" cy="28.94" rx="0.99" ry="52.75" fill="url(#tw)" opacity="0.07"/>
<ellipse cx="385.72" cy="63.23" rx="1.49" ry="17.41" fill="url(#gw)" opacity="0.07"/>
<ellipse cx="390.02" cy="29.65" rx="0.87" ry="66.95" fill="url(#tw)" opacity="0.03"/>
<ellipse cx="390.02" cy="73.16" rx="1.31" ry="22.09" fill="url(#gw)" opacity="0.03"/>
<ellipse cx="391.39" cy="29.05" rx="0.95" ry="54.98" fill="url(#tw)" opacity="0.13"/>
<ellipse cx="391.39" cy="64.79" rx="1.43" ry="18.14" fill="url(#gw)" opacity="0.12"/>
<ellipse cx="395.04" cy="28.89" rx="0.62" ry="51.75" fill="url(#tw)" opacity="0.1"/>
<ellipse cx="395.04" cy="62.52" rx="0.93" ry="17.08" fill="url(#gw)" opacity="0.09"/>
<ellipse cx="398.46" cy="29.6" rx="0.83" ry="66.03" fill="url(#tw)" opacity="0.11"/>
<ellipse cx="398.46" cy="72.52" rx="1.25" ry="21.79" fill="url(#gw)" opacity="0.1"/>
<ellipse cx="401.26" cy="30.75" rx="1.04" ry="89.06" fill="url(#tw)" opacity="0.06"/>
<ellipse cx="401.26" cy="88.64" rx="1.56" ry="29.39" fill="url(#gw)" opacity="0.05"/>
<ellipse cx="404.28" cy="30.41" rx="0.8" ry="82.29" fill="url(#tw)" opacity="0.03"/>
<ellipse cx="404.28" cy="83.9" rx="1.2" ry="27.16" fill="url(#gw)" opacity="0.03"/>
<ellipse cx="406.88" cy="30.22" rx="0.69" ry="78.39" fill="url(#tw)" opacity="0.04"/>
<ellipse cx="406.88" cy="81.17" rx="1.04" ry="25.87" fill="url(#gw)" opacity="0.04"/>
<ellipse cx="410.9" cy="30.32" rx="0.91" ry="80.48" fill="url(#tw)" opacity="0.06"/>
<ellipse cx="410.9" cy="82.64" rx="1.37" ry="26.56" fill="url(#gw)" opacity="0.06"/>
<ellipse cx="415.05" cy="30.43" rx="0.82" ry="82.57" fill="url(#tw)" opacity="0.12"/>
<ellipse cx="415.05" cy="84.1" rx="1.23" ry="27.25" fill="url(#gw)" opacity="0.11"/>
<ellipse cx="418.02" cy="29.95" rx="0.98" ry="73.05" fill="url(#tw)" opacity="0.12"/>
<ellipse cx="418.02" cy="77.44" rx="1.46" ry="24.11" fill="url(#gw)" opacity="0.11"/>
<ellipse cx="419.83" cy="30.24" rx="0.91" ry="78.8" fill="url(#tw)" opacity="0.12"/>
<ellipse cx="419.83" cy="81.46" rx="1.37" ry="26" fill="url(#gw)" opacity="0.11"/>
<ellipse cx="422.05" cy="29.95" rx="0.74" ry="72.91" fill="url(#tw)" opacity="0.04"/>
<ellipse cx="422.05" cy="77.34" rx="1.1" ry="24.06" fill="url(#gw)" opacity="0.04"/>
<ellipse cx="426.21" cy="30.73" rx="0.69" ry="88.57" fill="url(#tw)" opacity="0.05"/>
<ellipse cx="426.21" cy="88.3" rx="1.04" ry="29.23" fill="url(#gw)" opacity="0.05"/>
<ellipse cx="427.75" cy="29.92" rx="0.99" ry="72.5" fill="url(#tw)" opacity="0.13"/>
<ellipse cx="427.75" cy="77.05" rx="1.48" ry="23.92" fill="url(#gw)" opacity="0.12"/>
<ellipse cx="433.7" cy="30.7" rx="0.6" ry="88.1" fill="url(#tw)" opacity="0.1"/>
<ellipse cx="433.7" cy="87.97" rx="0.91" ry="29.07" fill="url(#gw)" opacity="0.09"/>
<ellipse cx="434.99" cy="29" rx="1.01" ry="53.91" fill="url(#tw)" opacity="0.13"/>
<ellipse cx="434.99" cy="64.04" rx="1.51" ry="17.79" fill="url(#gw)" opacity="0.12"/>
<ellipse cx="436.93" cy="30.39" rx="0.99" ry="81.79" fill="url(#tw)" opacity="0.03"/>
<ellipse cx="436.93" cy="83.56" rx="1.49" ry="26.99" fill="url(#gw)" opacity="0.03"/>
<ellipse cx="440.61" cy="30.41" rx="0.78" ry="82.13" fill="url(#tw)" opacity="0.04"/>
<ellipse cx="440.61" cy="83.79" rx="1.17" ry="27.1" fill="url(#gw)" opacity="0.04"/>
<ellipse cx="445.28" cy="30.31" rx="1.08" ry="80.23" fill="url(#tw)" opacity="0.12"/>
<ellipse cx="445.28" cy="82.46" rx="1.63" ry="26.47" fill="url(#gw)" opacity="0.11"/>
<ellipse cx="448.67" cy="30.54" rx="0.6" ry="84.83" fill="url(#tw)" opacity="0.03"/>
<ellipse cx="448.67" cy="85.68" rx="0.9" ry="27.99" fill="url(#gw)" opacity="0.03"/>
<ellipse cx="451.09" cy="29.41" rx="0.66" ry="62.2" fill="url(#tw)" opacity="0.07"/>
<ellipse cx="451.09" cy="69.84" rx="1" ry="20.53" fill="url(#gw)" opacity="0.06"/>
<ellipse cx="453.32" cy="29.13" rx="0.82" ry="56.65" fill="url(#tw)" opacity="0.08"/>
<ellipse cx="453.32" cy="65.95" rx="1.24" ry="18.69" fill="url(#gw)" opacity="0.08"/>
<ellipse cx="455.62" cy="28.91" rx="0.66" ry="52.29" fill="url(#tw)" opacity="0.05"/>
<ellipse cx="455.62" cy="62.91" rx="1" ry="17.26" fill="url(#gw)" opacity="0.05"/>
<ellipse cx="459.74" cy="29.86" rx="1" ry="71.27" fill="url(#tw)" opacity="0.04"/>
<ellipse cx="459.74" cy="76.19" rx="1.5" ry="23.52" fill="url(#gw)" opacity="0.04"/>
<ellipse cx="462.97" cy="28.75" rx="0.72" ry="49.01" fill="url(#tw)" opacity="0.1"/>
<ellipse cx="462.97" cy="60.61" rx="1.08" ry="16.17" fill="url(#gw)" opacity="0.09"/>
<ellipse cx="464.89" cy="29.24" rx="0.78" ry="58.8" fill="url(#tw)" opacity="0.07"/>
<ellipse cx="464.89" cy="67.46" rx="1.17" ry="19.4" fill="url(#gw)" opacity="0.06"/>
<ellipse cx="468.68" cy="29.66" rx="0.6" ry="67.18" fill="url(#tw)" opacity="0.12"/>
<ellipse cx="468.68" cy="73.33" rx="0.91" ry="22.17" fill="url(#gw)" opacity="0.11"/>
<ellipse cx="472.01" cy="29.18" rx="0.96" ry="57.59" fill="url(#tw)" opacity="0.06"/>
<ellipse cx="472.01" cy="66.62" rx="1.44" ry="19.01" fill="url(#gw)" opacity="0.06"/>
<ellipse cx="474.05" cy="29.44" rx="1.09" ry="62.77" fill="url(#tw)" opacity="0.05"/>
<ellipse cx="474.05" cy="70.24" rx="1.63" ry="20.71" fill="url(#gw)" opacity="0.04"/>
<ellipse cx="477.38" cy="30.74" rx="0.92" ry="88.84" fill="url(#tw)" opacity="0.13"/>
<ellipse cx="477.38" cy="88.49" rx="1.38" ry="29.32" fill="url(#gw)" opacity="0.12"/>
<ellipse cx="481.13" cy="29.21" rx="0.62" ry="58.15" fill="url(#tw)" opacity="0.12"/>
<ellipse cx="481.13" cy="67.01" rx="0.93" ry="19.19" fill="url(#gw)" opacity="0.11"/>
<ellipse cx="364.77" cy="116.13" rx="4.08" ry="4.46" fill="url(#gk)" opacity="0.52"/>
<ellipse cx="368.85" cy="117.51" rx="2.88" ry="4" fill="url(#gk)" opacity="0.52"/>
<ellipse cx="388.37" cy="119.93" rx="3.07" ry="5.33" fill="url(#gk)" opacity="0.53"/>
<ellipse cx="405.65" cy="112.53" rx="3.84" ry="5.88" fill="url(#gk)" opacity="0.5"/>
<ellipse cx="417.44" cy="114.64" rx="2.7" ry="5.42" fill="url(#gk)" opacity="0.34"/>
<ellipse cx="428.62" cy="109.95" rx="2.83" ry="4.46" fill="url(#gk)" opacity="0.42"/>
<ellipse cx="442.43" cy="114.96" rx="4.02" ry="3.74" fill="url(#gk)" opacity="0.33"/>
<ellipse cx="461.87" cy="121.1" rx="4.34" ry="4.92" fill="url(#gk)" opacity="0.32"/>
<ellipse cx="481.38" cy="122.24" rx="4.3" ry="4.83" fill="url(#gk)" opacity="0.4"/>
<ellipse cx="357.78" cy="102.03" rx="3.39" ry="13.95" fill="url(#gw)" opacity="0.38"/>
<ellipse cx="363.31" cy="95.62" rx="2.85" ry="12.26" fill="url(#gw)" opacity="0.36"/>
<ellipse cx="375.58" cy="87.83" rx="2.5" ry="12.44" fill="url(#gw)" opacity="0.46"/>
<ellipse cx="378.54" cy="102.96" rx="3.31" ry="17.01" fill="url(#gw)" opacity="0.45"/>
<ellipse cx="385.35" cy="93.32" rx="3.19" ry="11.97" fill="url(#gw)" opacity="0.4"/>
<ellipse cx="398.16" cy="105.69" rx="2.62" ry="10.95" fill="url(#gw)" opacity="0.26"/>
<ellipse cx="401.57" cy="95.8" rx="2.54" ry="16.59" fill="url(#gw)" opacity="0.41"/>
<ellipse cx="411.53" cy="102.96" rx="2.59" ry="15.2" fill="url(#gw)" opacity="0.34"/>
<ellipse cx="416.64" cy="84.72" rx="3.15" ry="17.2" fill="url(#gw)" opacity="0.26"/>
<ellipse cx="427.55" cy="83.38" rx="2.7" ry="12.53" fill="url(#gw)" opacity="0.48"/>
<ellipse cx="433.02" cy="94.86" rx="2.63" ry="12.04" fill="url(#gw)" opacity="0.31"/>
<ellipse cx="437.83" cy="82.15" rx="2.86" ry="15.91" fill="url(#gw)" opacity="0.42"/>
<ellipse cx="446.98" cy="107.09" rx="2.29" ry="13.45" fill="url(#gw)" opacity="0.33"/>
<ellipse cx="454.01" cy="106.39" rx="3.06" ry="11.05" fill="url(#gw)" opacity="0.29"/>
<ellipse cx="466.47" cy="91.32" rx="2.56" ry="12.37" fill="url(#gw)" opacity="0.33"/>
<ellipse cx="472.42" cy="89.76" rx="2.91" ry="10.51" fill="url(#gw)" opacity="0.38"/>
<ellipse cx="480.02" cy="89.97" rx="3.24" ry="17.43" fill="url(#gw)" opacity="0.41"/>
<ellipse cx="355.53" cy="110.4" rx="3.2" ry="7.73" fill="url(#gw)" opacity="0.37"/>
<ellipse cx="361.59" cy="111.02" rx="3.22" ry="10.56" fill="url(#gw)" opacity="0.32"/>
<ellipse cx="367.55" cy="110.87" rx="2.74" ry="10.34" fill="url(#gw)" opacity="0.61"/>
<ellipse cx="371.24" cy="121.08" rx="2.75" ry="11.64" fill="url(#gw)" opacity="0.37"/>
<ellipse cx="378.55" cy="108.89" rx="3.1" ry="10.46" fill="url(#gw)" opacity="0.59"/>
<ellipse cx="384.51" cy="117.36" rx="2.84" ry="9.78" fill="url(#gw)" opacity="0.51"/>
<ellipse cx="389.08" cy="120.34" rx="3.39" ry="11.62" fill="url(#gw)" opacity="0.51"/>
<ellipse cx="395.93" cy="120.82" rx="2.81" ry="10.81" fill="url(#gw)" opacity="0.43"/>
<ellipse cx="401.09" cy="123.34" rx="3.63" ry="11.46" fill="url(#gw)" opacity="0.53"/>
<ellipse cx="404.71" cy="112.63" rx="3.22" ry="11.36" fill="url(#gw)" opacity="0.43"/>
<ellipse cx="408.56" cy="121.13" rx="3.66" ry="7.24" fill="url(#gw)" opacity="0.36"/>
<ellipse cx="413.45" cy="117.4" rx="3.53" ry="7.49" fill="url(#gw)" opacity="0.56"/>
<ellipse cx="418.5" cy="111.19" rx="3.07" ry="10.55" fill="url(#gw)" opacity="0.47"/>
<ellipse cx="427.38" cy="113.91" rx="2.8" ry="9.13" fill="url(#gw)" opacity="0.32"/>
<ellipse cx="430.16" cy="113.76" rx="3.25" ry="7.18" fill="url(#gw)" opacity="0.39"/>
<ellipse cx="439.85" cy="119.2" rx="2.86" ry="10.7" fill="url(#gw)" opacity="0.53"/>
<ellipse cx="444.32" cy="117.53" rx="3.18" ry="6.58" fill="url(#gw)" opacity="0.45"/>
<ellipse cx="447.44" cy="112.04" rx="2.78" ry="11.32" fill="url(#gw)" opacity="0.39"/>
<ellipse cx="451.34" cy="113.46" rx="2.47" ry="6.14" fill="url(#gw)" opacity="0.59"/>
<ellipse cx="459.1" cy="107.87" rx="3.05" ry="7.04" fill="url(#gw)" opacity="0.46"/>
<ellipse cx="466.66" cy="125.14" rx="2.84" ry="10.7" fill="url(#gw)" opacity="0.47"/>
<ellipse cx="467.4" cy="114.66" rx="3.5" ry="10.67" fill="url(#gw)" opacity="0.54"/>
<ellipse cx="477.72" cy="114.29" rx="3.32" ry="10.91" fill="url(#gw)" opacity="0.6"/>
<ellipse cx="482.5" cy="123.23" rx="2.74" ry="8.27" fill="url(#gw)" opacity="0.51"/>
<ellipse cx="355.03" cy="126.15" rx="10.6" ry="2.45" fill="url(#gw)" opacity="0.4" transform="rotate(1.83 355.03 126.15)"/>
<ellipse cx="372.2" cy="125.21" rx="13.59" ry="3.34" fill="url(#gw)" opacity="0.41" transform="rotate(2.22 372.2 125.21)"/>
<ellipse cx="383.37" cy="125.82" rx="9.15" ry="2.97" fill="url(#gw)" opacity="0.49" transform="rotate(3.86 383.37 125.82)"/>
<ellipse cx="406.12" cy="127.82" rx="14.12" ry="2.9" fill="url(#gw)" opacity="0.41" transform="rotate(-4.05 406.12 127.82)"/>
<ellipse cx="423.4" cy="128.06" rx="12.52" ry="3.34" fill="url(#gw)" opacity="0.55" transform="rotate(-1.17 423.4 128.06)"/>
<ellipse cx="428.15" cy="126.59" rx="14.42" ry="3.27" fill="url(#gw)" opacity="0.35" transform="rotate(-5.91 428.15 126.59)"/>
<ellipse cx="446.35" cy="128.4" rx="14.15" ry="3.2" fill="url(#gw)" opacity="0.37" transform="rotate(-3.53 446.35 128.4)"/>
<ellipse cx="465.5" cy="126.64" rx="10.23" ry="3.35" fill="url(#gw)" opacity="0.35" transform="rotate(-0.16 465.5 126.64)"/>
<ellipse cx="481.5" cy="127.61" rx="14.22" ry="2.53" fill="url(#gw)" opacity="0.49" transform="rotate(5.75 481.5 127.61)"/>
<ellipse cx="356.1" cy="32.68" rx="1.95" ry="69.66" fill="url(#tw)" opacity="0.09"/>
<ellipse cx="356.1" cy="73.81" rx="2.76" ry="22.56" fill="url(#gw)" opacity="0.27"/>
<ellipse cx="365.8" cy="33.7" rx="1.3" ry="80.38" fill="url(#tw)" opacity="0.16"/>
<ellipse cx="365.8" cy="81.16" rx="1.84" ry="26.03" fill="url(#gw)" opacity="0.49"/>
<ellipse cx="365.8" cy="87.79" rx="2.14" ry="21.43" fill="url(#fw)" opacity="0.6"/>
<ellipse cx="376.52" cy="33.19" rx="1.3" ry="75.02" fill="url(#tw)" opacity="0.08"/>
<ellipse cx="376.52" cy="77.48" rx="1.84" ry="24.29" fill="url(#gw)" opacity="0.24"/>
<ellipse cx="384.17" cy="62.28" rx="1.79" ry="14.29" fill="url(#fw)" opacity="0.8"/>
<ellipse cx="384.17" cy="77.59" rx="1.66" ry="28.07" fill="url(#gw)" opacity="0.5"/>
<ellipse cx="389.28" cy="32.68" rx="1.08" ry="69.66" fill="url(#tw)" opacity="0.08"/>
<ellipse cx="389.28" cy="73.81" rx="1.53" ry="22.56" fill="url(#gw)" opacity="0.24"/>
<ellipse cx="395.65" cy="98" rx="1.66" ry="17.86" fill="url(#gw)" opacity="0.5"/>
<ellipse cx="402.03" cy="29.36" rx="0.87" ry="34.83" fill="url(#tw)" opacity="0.18"/>
<ellipse cx="402.03" cy="49.92" rx="1.22" ry="11.28" fill="url(#gw)" opacity="0.54"/>
<ellipse cx="409.18" cy="30.89" rx="1.08" ry="50.91" fill="url(#tw)" opacity="0.19"/>
<ellipse cx="409.18" cy="60.95" rx="1.53" ry="16.48" fill="url(#gw)" opacity="0.59"/>
<ellipse cx="409.18" cy="57.17" rx="1.43" ry="16.08" fill="url(#fw)" opacity="0.7"/>
<ellipse cx="413.52" cy="91.62" rx="1.99" ry="6.38" fill="url(#gw)" opacity="0.55"/>
<ellipse cx="418.62" cy="32.68" rx="1.08" ry="69.66" fill="url(#tw)" opacity="0.08"/>
<ellipse cx="418.62" cy="73.81" rx="1.53" ry="22.56" fill="url(#gw)" opacity="0.24"/>
<ellipse cx="425" cy="69.93" rx="1.66" ry="15.31" fill="url(#gw)" opacity="0.5"/>
<ellipse cx="432.65" cy="32.68" rx="1.08" ry="69.66" fill="url(#tw)" opacity="0.08"/>
<ellipse cx="432.65" cy="73.81" rx="1.53" ry="22.56" fill="url(#gw)" opacity="0.24"/>
<ellipse cx="440.31" cy="31.4" rx="1.08" ry="56.26" fill="url(#tw)" opacity="0.14"/>
<ellipse cx="440.31" cy="64.62" rx="1.53" ry="18.22" fill="url(#gw)" opacity="0.44"/>
<ellipse cx="449.24" cy="35.74" rx="1.3" ry="101.81" fill="url(#tw)" opacity="0.1"/>
<ellipse cx="449.24" cy="95.86" rx="1.84" ry="32.97" fill="url(#gw)" opacity="0.29"/>
<ellipse cx="460.72" cy="29.36" rx="0.87" ry="34.83" fill="url(#tw)" opacity="0.16"/>
<ellipse cx="460.72" cy="49.92" rx="1.22" ry="11.28" fill="url(#gw)" opacity="0.49"/>
<ellipse cx="467.1" cy="33.7" rx="1.3" ry="80.38" fill="url(#tw)" opacity="0.08"/>
<ellipse cx="467.1" cy="81.16" rx="1.84" ry="26.03" fill="url(#gw)" opacity="0.24"/>
<ellipse cx="474.76" cy="87.79" rx="1.66" ry="28.07" fill="url(#gw)" opacity="0.55"/>
<ellipse cx="474.76" cy="103.1" rx="2.14" ry="14.29" fill="url(#fw)" opacity="0.8"/>
<ellipse cx="479.86" cy="33.7" rx="1.52" ry="80.38" fill="url(#tw)" opacity="0.09"/>
<ellipse cx="479.86" cy="81.16" rx="2.14" ry="26.03" fill="url(#gw)" opacity="0.27"/>
<ellipse cx="470.93" cy="29.87" rx="1.08" ry="40.19" fill="url(#tw)" opacity="0.06"/>
<ellipse cx="470.93" cy="53.6" rx="1.53" ry="13.01" fill="url(#gw)" opacity="0.2"/>
<ellipse cx="422.45" cy="119.69" rx="99.52" ry="14.03" fill="url(#gw)" opacity="0.04"/>
<ellipse cx="417.34" cy="129.13" rx="92.88" ry="2.3" fill="url(#gw)" opacity="0.16"/>
<ellipse cx="453.07" cy="129.13" rx="43.12" ry="2.04" fill="url(#gw)" opacity="0.4"/>
<ellipse cx="414.79" cy="113.31" rx="7.3" ry="5.61" fill="url(#gk)" opacity="0.22"/>
<ellipse cx="460.72" cy="122.24" rx="8.29" ry="3.83" fill="url(#gk)" opacity="0.22"/>
<ellipse cx="379.07" cy="126.07" rx="6.63" ry="2.55" fill="url(#gk)" opacity="0.22"/>
<ellipse cx="358.66" cy="122.24" rx="4.64" ry="3.57" fill="url(#gw)" opacity="0.3"/>
<ellipse cx="384.17" cy="119.69" rx="3.98" ry="3.06" fill="url(#gw)" opacity="0.5"/>
<ellipse cx="366.31" cy="109.48" rx="2.86" ry="7.86" fill="url(#fw)" opacity="0.6" transform="rotate(25 366.31 109.48)"/>
<ellipse cx="375.24" cy="113.31" rx="3.93" ry="4.64" fill="url(#fw)" opacity="0.85"/>
<ellipse cx="396.93" cy="124.79" rx="5.36" ry="3.93" fill="url(#fw)" opacity="0.97"/>
<ellipse cx="402.03" cy="114.58" rx="4.64" ry="3.93" fill="url(#fw)" opacity="0.88"/>
<ellipse cx="428.83" cy="127.34" rx="9.65" ry="3.93" fill="url(#fw)" opacity="0.97"/>
<ellipse cx="440.31" cy="128.62" rx="8.93" ry="2.14" fill="url(#fw)" opacity="0.7"/>
<ellipse cx="450.52" cy="119.69" rx="3.22" ry="7.86" fill="url(#fw)" opacity="0.88"/>
<ellipse cx="470.93" cy="112.03" rx="3.22" ry="5" fill="url(#fw)" opacity="0.9"/>
<ellipse cx="478.58" cy="124.79" rx="7.86" ry="2.5" fill="url(#fw)" opacity="0.8"/>
<ellipse cx="355.59" cy="75.03" rx="3.32" ry="66.34" fill="url(#gw)" opacity="0.22"/>
<ellipse cx="480.62" cy="75.03" rx="2.99" ry="66.34" fill="url(#gw)" opacity="0.22"/>
<ellipse cx="419.9" cy="122.24" rx="9.95" ry="4.59" fill="url(#gw)" opacity="0.35"/>
<ellipse cx="441.58" cy="124.79" rx="8.29" ry="3.57" fill="url(#gw)" opacity="0.4"/>
<ellipse cx="465.83" cy="126.07" rx="16.59" ry="3.06" fill="url(#gw)" opacity="0.4"/>
<ellipse cx="458.17" cy="129.38" rx="33.17" ry="1.53" fill="url(#gw)" opacity="0.5"/>
</g></g>
<g clip-path="url(#cs3)"><g filter="url(#jet)">
<rect x="31" y="140" width="141" height="119" fill="rgb(32,32,32)"/>
<ellipse cx="43.59" cy="178.1" rx="6.17" ry="80.25" fill="url(#fw)" opacity="0.05"/>
<ellipse cx="55.97" cy="178.1" rx="4.9" ry="80.25" fill="url(#fw)" opacity="0.02"/>
<ellipse cx="71.13" cy="178.1" rx="4.04" ry="80.25" fill="url(#fw)" opacity="0.03"/>
<ellipse cx="93.66" cy="178.1" rx="7.96" ry="80.25" fill="url(#fw)" opacity="0.05"/>
<ellipse cx="107.6" cy="178.1" rx="5.62" ry="80.25" fill="url(#fw)" opacity="0.05"/>
<ellipse cx="122.88" cy="178.1" rx="4.29" ry="80.25" fill="url(#fw)" opacity="0.05"/>
<ellipse cx="143.7" cy="178.1" rx="4.45" ry="80.25" fill="url(#fw)" opacity="0.02"/>
<ellipse cx="151.4" cy="178.1" rx="7.84" ry="80.25" fill="url(#fw)" opacity="0.02"/>
<ellipse cx="38.92" cy="149.23" rx="0.62" ry="64.67" fill="url(#tw)" opacity="0.13"/>
<ellipse cx="38.92" cy="191.27" rx="0.93" ry="21.34" fill="url(#gw)" opacity="0.12"/>
<ellipse cx="41.54" cy="148.96" rx="0.69" ry="59.21" fill="url(#tw)" opacity="0.13"/>
<ellipse cx="41.54" cy="187.45" rx="1.04" ry="19.54" fill="url(#gw)" opacity="0.12"/>
<ellipse cx="43.9" cy="150.16" rx="0.94" ry="83.1" fill="url(#tw)" opacity="0.04"/>
<ellipse cx="43.9" cy="204.17" rx="1.41" ry="27.42" fill="url(#gw)" opacity="0.03"/>
<ellipse cx="47.55" cy="149.98" rx="0.96" ry="79.7" fill="url(#tw)" opacity="0.03"/>
<ellipse cx="47.55" cy="201.79" rx="1.44" ry="26.3" fill="url(#gw)" opacity="0.03"/>
<ellipse cx="51.29" cy="149.76" rx="1.02" ry="75.14" fill="url(#tw)" opacity="0.07"/>
<ellipse cx="51.29" cy="198.6" rx="1.52" ry="24.8" fill="url(#gw)" opacity="0.06"/>
<ellipse cx="54.17" cy="149.38" rx="0.72" ry="67.65" fill="url(#tw)" opacity="0.09"/>
<ellipse cx="54.17" cy="193.35" rx="1.07" ry="22.32" fill="url(#gw)" opacity="0.08"/>
<ellipse cx="57.87" cy="150.16" rx="0.77" ry="83.23" fill="url(#tw)" opacity="0.1"/>
<ellipse cx="57.87" cy="204.26" rx="1.16" ry="27.47" fill="url(#gw)" opacity="0.1"/>
<ellipse cx="61.08" cy="148.89" rx="0.68" ry="57.7" fill="url(#tw)" opacity="0.03"/>
<ellipse cx="61.08" cy="186.39" rx="1.02" ry="19.04" fill="url(#gw)" opacity="0.03"/>
<ellipse cx="61.62" cy="149.57" rx="0.92" ry="71.4" fill="url(#tw)" opacity="0.11"/>
<ellipse cx="61.62" cy="195.98" rx="1.39" ry="23.56" fill="url(#gw)" opacity="0.1"/>
<ellipse cx="67.7" cy="148.65" rx="0.7" ry="52.92" fill="url(#tw)" opacity="0.07"/>
<ellipse cx="67.7" cy="183.05" rx="1.05" ry="17.46" fill="url(#gw)" opacity="0.06"/>
<ellipse cx="68.76" cy="148.53" rx="0.9" ry="50.69" fill="url(#tw)" opacity="0.12"/>
<ellipse cx="68.76" cy="181.48" rx="1.36" ry="16.73" fill="url(#gw)" opacity="0.11"/>
<ellipse cx="72.12" cy="148.67" rx="0.91" ry="53.39" fill="url(#tw)" opacity="0.04"/>
<ellipse cx="72.12" cy="183.37" rx="1.37" ry="17.62" fill="url(#gw)" opacity="0.03"/>
<ellipse cx="74.41" cy="149.73" rx="1.02" ry="74.67" fill="url(#tw)" opacity="0.1"/>
<ellipse cx="74.41" cy="198.27" rx="1.53" ry="24.64" fill="url(#gw)" opacity="0.09"/>
<ellipse cx="77.83" cy="148.42" rx="0.74" ry="48.44" fill="url(#tw)" opacity="0.1"/>
<ellipse cx="77.83" cy="179.91" rx="1.1" ry="15.98" fill="url(#gw)" opacity="0.09"/>
<ellipse cx="80.84" cy="148.82" rx="0.91" ry="56.39" fill="url(#tw)" opacity="0.1"/>
<ellipse cx="80.84" cy="185.48" rx="1.37" ry="18.61" fill="url(#gw)" opacity="0.1"/>
<ellipse cx="85.65" cy="150.46" rx="0.74" ry="89.28" fill="url(#tw)" opacity="0.12"/>
<ellipse cx="85.65" cy="208.49" rx="1.11" ry="29.46" fill="url(#gw)" opacity="0.11"/>
<ellipse cx="86.95" cy="150.26" rx="0.86" ry="85.17" fill="url(#tw)" opacity="0.04"/>
<ellipse cx="86.95" cy="205.62" rx="1.28" ry="28.11" fill="url(#gw)" opacity="0.03"/>
<ellipse cx="91.06" cy="149.02" rx="0.84" ry="60.31" fill="url(#tw)" opacity="0.09"/>
<ellipse cx="91.06" cy="188.22" rx="1.27" ry="19.9" fill="url(#gw)" opacity="0.08"/>
<ellipse cx="93.21" cy="150.43" rx="0.87" ry="88.5" fill="url(#tw)" opacity="0.07"/>
<ellipse cx="93.21" cy="207.95" rx="1.31" ry="29.21" fill="url(#gw)" opacity="0.07"/>
<ellipse cx="95.58" cy="149.81" rx="1.07" ry="76.28" fill="url(#tw)" opacity="0.06"/>
<ellipse cx="95.58" cy="199.4" rx="1.61" ry="25.17" fill="url(#gw)" opacity="0.05"/>
<ellipse cx="98.66" cy="150.36" rx="0.93" ry="87.18" fill="url(#tw)" opacity="0.08"/>
<ellipse cx="98.66" cy="207.03" rx="1.39" ry="28.77" fill="url(#gw)" opacity="0.07"/>
<ellipse cx="101.76" cy="149" rx="0.99" ry="60.07" fill="url(#tw)" opacity="0.13"/>
<ellipse cx="101.76" cy="188.05" rx="1.48" ry="19.82" fill="url(#gw)" opacity="0.12"/>
<ellipse cx="106.21" cy="149.91" rx="0.72" ry="78.17" fill="url(#tw)" opacity="0.12"/>
<ellipse cx="106.21" cy="200.72" rx="1.08" ry="25.8" fill="url(#gw)" opacity="0.11"/>
<ellipse cx="109.36" cy="149.29" rx="0.74" ry="65.8" fill="url(#tw)" opacity="0.04"/>
<ellipse cx="109.36" cy="192.06" rx="1.1" ry="21.71" fill="url(#gw)" opacity="0.03"/>
<ellipse cx="111.14" cy="148.9" rx="0.73" ry="58.07" fill="url(#tw)" opacity="0.13"/>
<ellipse cx="111.14" cy="186.65" rx="1.09" ry="19.16" fill="url(#gw)" opacity="0.12"/>
<ellipse cx="115.62" cy="149.1" rx="0.76" ry="62.08" fill="url(#tw)" opacity="0.09"/>
<ellipse cx="115.62" cy="189.45" rx="1.14" ry="20.49" fill="url(#gw)" opacity="0.08"/>
<ellipse cx="118.38" cy="150.36" rx="0.64" ry="87.19" fill="url(#tw)" opacity="0.13"/>
<ellipse cx="118.38" cy="207.03" rx="0.96" ry="28.77" fill="url(#gw)" opacity="0.12"/>
<ellipse cx="122.81" cy="149.23" rx="1" ry="64.5" fill="url(#tw)" opacity="0.1"/>
<ellipse cx="122.81" cy="191.15" rx="1.5" ry="21.29" fill="url(#gw)" opacity="0.1"/>
<ellipse cx="125.96" cy="149.37" rx="0.94" ry="67.37" fill="url(#tw)" opacity="0.11"/>
<ellipse cx="125.96" cy="193.16" rx="1.42" ry="22.23" fill="url(#gw)" opacity="0.1"/>
<ellipse cx="126.75" cy="148.42" rx="0.97" ry="48.37" fill="url(#tw)" opacity="0.1"/>
<ellipse cx="126.75" cy="179.86" rx="1.45" ry="15.96" fill="url(#gw)" opacity="0.1"/>
<ellipse cx="130.1" cy="148.68" rx="0.71" ry="53.69" fill="url(#tw)" opacity="0.09"/>
<ellipse cx="130.1" cy="183.58" rx="1.06" ry="17.72" fill="url(#gw)" opacity="0.08"/>
<ellipse cx="132.79" cy="149.25" rx="0.66" ry="64.9" fill="url(#tw)" opacity="0.03"/>
<ellipse cx="132.79" cy="191.43" rx="0.99" ry="21.42" fill="url(#gw)" opacity="0.03"/>
<ellipse cx="136.83" cy="148.68" rx="0.75" ry="53.64" fill="url(#tw)" opacity="0.1"/>
<ellipse cx="136.83" cy="183.55" rx="1.13" ry="17.7" fill="url(#gw)" opacity="0.09"/>
<ellipse cx="141.18" cy="149.88" rx="0.94" ry="77.64" fill="url(#tw)" opacity="0.1"/>
<ellipse cx="141.18" cy="200.35" rx="1.41" ry="25.62" fill="url(#gw)" opacity="0.09"/>
<ellipse cx="142.42" cy="149.8" rx="0.76" ry="76.09" fill="url(#tw)" opacity="0.09"/>
<ellipse cx="142.42" cy="199.27" rx="1.14" ry="25.11" fill="url(#gw)" opacity="0.09"/>
<ellipse cx="147.01" cy="148.66" rx="1" ry="53.16" fill="url(#tw)" opacity="0.03"/>
<ellipse cx="147.01" cy="183.21" rx="1.5" ry="17.54" fill="url(#gw)" opacity="0.03"/>
<ellipse cx="147.62" cy="150.24" rx="0.88" ry="84.86" fill="url(#tw)" opacity="0.04"/>
<ellipse cx="147.62" cy="205.4" rx="1.32" ry="28" fill="url(#gw)" opacity="0.03"/>
<ellipse cx="153.49" cy="150.42" rx="0.81" ry="88.46" fill="url(#tw)" opacity="0.05"/>
<ellipse cx="153.49" cy="207.92" rx="1.22" ry="29.19" fill="url(#gw)" opacity="0.04"/>
<ellipse cx="156.44" cy="149" rx="0.72" ry="59.91" fill="url(#tw)" opacity="0.12"/>
<ellipse cx="156.44" cy="187.93" rx="1.09" ry="19.77" fill="url(#gw)" opacity="0.11"/>
<ellipse cx="157.24" cy="150.11" rx="0.8" ry="82.26" fill="url(#tw)" opacity="0.06"/>
<ellipse cx="157.24" cy="203.58" rx="1.2" ry="27.14" fill="url(#gw)" opacity="0.05"/>
<ellipse cx="161.88" cy="149.37" rx="0.69" ry="67.43" fill="url(#tw)" opacity="0.05"/>
<ellipse cx="161.88" cy="193.2" rx="1.03" ry="22.25" fill="url(#gw)" opacity="0.04"/>
<ellipse cx="165.66" cy="149.88" rx="0.99" ry="77.63" fill="url(#tw)" opacity="0.08"/>
<ellipse cx="165.66" cy="200.34" rx="1.49" ry="25.62" fill="url(#gw)" opacity="0.07"/>
<ellipse cx="49.58" cy="235.83" rx="3.26" ry="4.64" fill="url(#gk)" opacity="0.5"/>
<ellipse cx="55.33" cy="231.94" rx="4.17" ry="4.7" fill="url(#gk)" opacity="0.46"/>
<ellipse cx="68.16" cy="229.99" rx="2.95" ry="4.57" fill="url(#gk)" opacity="0.31"/>
<ellipse cx="83.91" cy="241.57" rx="3.37" ry="3.51" fill="url(#gk)" opacity="0.5"/>
<ellipse cx="98.66" cy="231.68" rx="3.78" ry="5.16" fill="url(#gk)" opacity="0.38"/>
<ellipse cx="118.85" cy="240.7" rx="3.18" ry="4.74" fill="url(#gk)" opacity="0.3"/>
<ellipse cx="131.48" cy="233.21" rx="3.8" ry="5.4" fill="url(#gk)" opacity="0.39"/>
<ellipse cx="146.9" cy="241.56" rx="2.84" ry="5.49" fill="url(#gk)" opacity="0.42"/>
<ellipse cx="165.19" cy="230.4" rx="3.27" ry="3.91" fill="url(#gk)" opacity="0.36"/>
<ellipse cx="43.75" cy="215.27" rx="2.63" ry="17.7" fill="url(#gw)" opacity="0.26"/>
<ellipse cx="44.73" cy="221.36" rx="2.87" ry="16.66" fill="url(#gw)" opacity="0.37"/>
<ellipse cx="59.34" cy="210.16" rx="2.47" ry="17.07" fill="url(#gw)" opacity="0.38"/>
<ellipse cx="59.99" cy="201.9" rx="2.22" ry="15.84" fill="url(#gw)" opacity="0.41"/>
<ellipse cx="68.21" cy="222.1" rx="3.13" ry="15.05" fill="url(#gw)" opacity="0.39"/>
<ellipse cx="78.24" cy="219.42" rx="2.67" ry="17.42" fill="url(#gw)" opacity="0.4"/>
<ellipse cx="87.64" cy="225.41" rx="3.38" ry="14.26" fill="url(#gw)" opacity="0.28"/>
<ellipse cx="94.1" cy="225.23" rx="2.45" ry="12.04" fill="url(#gw)" opacity="0.32"/>
<ellipse cx="99.47" cy="222.5" rx="2.84" ry="10.68" fill="url(#gw)" opacity="0.38"/>
<ellipse cx="110.58" cy="202.32" rx="2.44" ry="10.11" fill="url(#gw)" opacity="0.42"/>
<ellipse cx="115.92" cy="201.99" rx="2.5" ry="11.54" fill="url(#gw)" opacity="0.39"/>
<ellipse cx="123.71" cy="212.45" rx="2.6" ry="10.31" fill="url(#gw)" opacity="0.33"/>
<ellipse cx="132.87" cy="215.44" rx="2.91" ry="11.27" fill="url(#gw)" opacity="0.26"/>
<ellipse cx="141.43" cy="219.96" rx="2.99" ry="17.7" fill="url(#gw)" opacity="0.33"/>
<ellipse cx="148.79" cy="209.05" rx="2.92" ry="17.25" fill="url(#gw)" opacity="0.36"/>
<ellipse cx="155.49" cy="227" rx="2.79" ry="11.91" fill="url(#gw)" opacity="0.49"/>
<ellipse cx="163.53" cy="210.01" rx="2.53" ry="10.18" fill="url(#gw)" opacity="0.27"/>
<ellipse cx="42.26" cy="237.49" rx="3.45" ry="7.44" fill="url(#gw)" opacity="0.57"/>
<ellipse cx="46.17" cy="243.24" rx="2.98" ry="11.51" fill="url(#gw)" opacity="0.49"/>
<ellipse cx="48.53" cy="243.85" rx="2.68" ry="11.54" fill="url(#gw)" opacity="0.48"/>
<ellipse cx="55.28" cy="236.77" rx="2.8" ry="6.47" fill="url(#gw)" opacity="0.33"/>
<ellipse cx="58.95" cy="243.75" rx="2.76" ry="6.14" fill="url(#gw)" opacity="0.44"/>
<ellipse cx="67.29" cy="238.86" rx="3.66" ry="8.1" fill="url(#gw)" opacity="0.61"/>
<ellipse cx="69.31" cy="230.2" rx="2.98" ry="9.88" fill="url(#gw)" opacity="0.45"/>
<ellipse cx="78.84" cy="237.25" rx="2.2" ry="8.34" fill="url(#gw)" opacity="0.51"/>
<ellipse cx="81.39" cy="230.7" rx="3.23" ry="8.76" fill="url(#gw)" opacity="0.62"/>
<ellipse cx="90.49" cy="232.91" rx="2.25" ry="7.07" fill="url(#gw)" opacity="0.45"/>
<ellipse cx="93.03" cy="235.18" rx="2.34" ry="7.8" fill="url(#gw)" opacity="0.44"/>
<ellipse cx="100.18" cy="229.43" rx="3.21" ry="8.28" fill="url(#gw)" opacity="0.55"/>
<ellipse cx="105.16" cy="230.8" rx="3.33" ry="8.22" fill="url(#gw)" opacity="0.57"/>
<ellipse cx="106.99" cy="233.02" rx="3.03" ry="7.76" fill="url(#gw)" opacity="0.44"/>
<ellipse cx="115.35" cy="231.66" rx="3.57" ry="7.71" fill="url(#gw)" opacity="0.53"/>
<ellipse cx="122.79" cy="229.13" rx="3.6" ry="7.05" fill="url(#gw)" opacity="0.46"/>
<ellipse cx="123.64" cy="244.2" rx="2.7" ry="9.09" fill="url(#gw)" opacity="0.61"/>
<ellipse cx="129.16" cy="228.74" rx="3.31" ry="6.27" fill="url(#gw)" opacity="0.36"/>
<ellipse cx="135.12" cy="227.52" rx="2.75" ry="6.34" fill="url(#gw)" opacity="0.6"/>
<ellipse cx="141.87" cy="227.89" rx="3.4" ry="7.43" fill="url(#gw)" opacity="0.58"/>
<ellipse cx="144.69" cy="229.53" rx="2.79" ry="10.94" fill="url(#gw)" opacity="0.6"/>
<ellipse cx="155.06" cy="231.07" rx="2.8" ry="11.12" fill="url(#gw)" opacity="0.56"/>
<ellipse cx="160.3" cy="228.8" rx="2.26" ry="8.41" fill="url(#gw)" opacity="0.57"/>
<ellipse cx="164.32" cy="234.87" rx="3.29" ry="8.66" fill="url(#gw)" opacity="0.57"/>
<ellipse cx="41.12" cy="247.79" rx="9.07" ry="2.91" fill="url(#gw)" opacity="0.43" transform="rotate(-1.95 41.12 247.79)"/>
<ellipse cx="55.16" cy="245.09" rx="8.66" ry="3.01" fill="url(#gw)" opacity="0.52" transform="rotate(1.9 55.16 245.09)"/>
<ellipse cx="71.86" cy="247.18" rx="13.56" ry="3.38" fill="url(#gw)" opacity="0.45" transform="rotate(2.97 71.86 247.18)"/>
<ellipse cx="91.63" cy="248.14" rx="12.69" ry="2.47" fill="url(#gw)" opacity="0.55" transform="rotate(0.72 91.63 248.14)"/>
<ellipse cx="104.96" cy="247.76" rx="9.45" ry="2.29" fill="url(#gw)" opacity="0.55" transform="rotate(2 104.96 247.76)"/>
<ellipse cx="108.91" cy="245.15" rx="10.96" ry="2.98" fill="url(#gw)" opacity="0.38" transform="rotate(2.34 108.91 245.15)"/>
<ellipse cx="127.93" cy="247.4" rx="9.91" ry="2.48" fill="url(#gw)" opacity="0.39" transform="rotate(2.24 127.93 247.4)"/>
<ellipse cx="146.26" cy="245.24" rx="8.79" ry="3.2" fill="url(#gw)" opacity="0.42" transform="rotate(5.14 146.26 245.24)"/>
<ellipse cx="165.67" cy="248.01" rx="8.97" ry="2.32" fill="url(#gw)" opacity="0.56" transform="rotate(-1 165.67 248.01)"/>
<ellipse cx="38.83" cy="151.14" rx="1.3" ry="53.59" fill="url(#tw)" opacity="0.1"/>
<ellipse cx="38.83" cy="182.79" rx="1.84" ry="17.35" fill="url(#gw)" opacity="0.29"/>
<ellipse cx="46.48" cy="151.91" rx="1.08" ry="61.62" fill="url(#tw)" opacity="0.08"/>
<ellipse cx="46.48" cy="188.3" rx="1.53" ry="19.95" fill="url(#gw)" opacity="0.24"/>
<ellipse cx="50.82" cy="151.14" rx="1.08" ry="53.59" fill="url(#tw)" opacity="0.07"/>
<ellipse cx="50.82" cy="182.79" rx="1.53" ry="17.35" fill="url(#gw)" opacity="0.22"/>
<ellipse cx="56.69" cy="152.68" rx="1.08" ry="69.66" fill="url(#tw)" opacity="0.08"/>
<ellipse cx="56.69" cy="193.81" rx="1.53" ry="22.56" fill="url(#gw)" opacity="0.24"/>
<ellipse cx="63.07" cy="152.17" rx="1.08" ry="64.3" fill="url(#tw)" opacity="0.07"/>
<ellipse cx="63.07" cy="190.13" rx="1.53" ry="20.82" fill="url(#gw)" opacity="0.22"/>
<ellipse cx="69.45" cy="152.42" rx="1.08" ry="66.98" fill="url(#tw)" opacity="0.16"/>
<ellipse cx="69.45" cy="191.97" rx="1.53" ry="21.69" fill="url(#gw)" opacity="0.49"/>
<ellipse cx="69.45" cy="182.28" rx="1.33" ry="14.03" fill="url(#gw)" opacity="0.4"/>
<ellipse cx="75.83" cy="151.91" rx="1.08" ry="61.62" fill="url(#tw)" opacity="0.11"/>
<ellipse cx="75.83" cy="188.3" rx="1.53" ry="19.95" fill="url(#gw)" opacity="0.34"/>
<ellipse cx="86.03" cy="152.68" rx="1.08" ry="69.66" fill="url(#tw)" opacity="0.08"/>
<ellipse cx="86.03" cy="193.81" rx="1.53" ry="22.56" fill="url(#gw)" opacity="0.24"/>
<ellipse cx="89.86" cy="201.41" rx="1.33" ry="25.52" fill="url(#gw)" opacity="0.65"/>
<ellipse cx="96.24" cy="153.7" rx="1.08" ry="80.38" fill="url(#tw)" opacity="0.08"/>
<ellipse cx="96.24" cy="201.16" rx="1.53" ry="26.03" fill="url(#gw)" opacity="0.24"/>
<ellipse cx="96.24" cy="218" rx="1.66" ry="5.1" fill="url(#gw)" opacity="0.45"/>
<ellipse cx="102.62" cy="152.17" rx="1.08" ry="64.3" fill="url(#tw)" opacity="0.07"/>
<ellipse cx="102.62" cy="190.13" rx="1.53" ry="20.82" fill="url(#gw)" opacity="0.22"/>
<ellipse cx="109" cy="152.42" rx="1.08" ry="66.98" fill="url(#tw)" opacity="0.08"/>
<ellipse cx="109" cy="191.97" rx="1.53" ry="21.69" fill="url(#gw)" opacity="0.24"/>
<ellipse cx="117.93" cy="149.87" rx="0.87" ry="40.19" fill="url(#tw)" opacity="0.18"/>
<ellipse cx="117.93" cy="173.6" rx="1.22" ry="13.01" fill="url(#gw)" opacity="0.54"/>
<ellipse cx="123.03" cy="152.93" rx="1.08" ry="72.34" fill="url(#tw)" opacity="0.07"/>
<ellipse cx="123.03" cy="195.65" rx="1.53" ry="23.42" fill="url(#gw)" opacity="0.22"/>
<ellipse cx="137.07" cy="202.69" rx="1.66" ry="17.86" fill="url(#gw)" opacity="0.5"/>
<ellipse cx="142.17" cy="152.68" rx="1.08" ry="69.66" fill="url(#tw)" opacity="0.08"/>
<ellipse cx="142.17" cy="193.81" rx="1.53" ry="22.56" fill="url(#gw)" opacity="0.24"/>
<ellipse cx="149.83" cy="152.68" rx="1.08" ry="69.66" fill="url(#tw)" opacity="0.11"/>
<ellipse cx="149.83" cy="193.81" rx="1.53" ry="22.56" fill="url(#gw)" opacity="0.34"/>
<ellipse cx="160.03" cy="152.68" rx="1.08" ry="69.66" fill="url(#tw)" opacity="0.08"/>
<ellipse cx="160.03" cy="193.81" rx="1.53" ry="22.56" fill="url(#gw)" opacity="0.24"/>
<ellipse cx="166.16" cy="200.14" rx="1.66" ry="17.86" fill="url(#gw)" opacity="0.7"/>
<ellipse cx="101.34" cy="239.69" rx="99.52" ry="12.76" fill="url(#gw)" opacity="0.04"/>
<ellipse cx="101.34" cy="249.13" rx="92.88" ry="2.3" fill="url(#gw)" opacity="0.16"/>
<ellipse cx="57.97" cy="233.31" rx="7.3" ry="6.38" fill="url(#gk)" opacity="0.22"/>
<ellipse cx="93.69" cy="233.31" rx="5.97" ry="5.61" fill="url(#gk)" opacity="0.22"/>
<ellipse cx="137.07" cy="235.86" rx="9.95" ry="6.38" fill="url(#gk)" opacity="0.22"/>
<ellipse cx="157.48" cy="238.41" rx="8.29" ry="5.1" fill="url(#gk)" opacity="0.19"/>
<ellipse cx="68.17" cy="240.96" rx="3.98" ry="3.06" fill="url(#gw)" opacity="0.5"/>
<ellipse cx="147.27" cy="244.79" rx="11.61" ry="2.3" fill="url(#gw)" opacity="0.4"/>
<ellipse cx="47.76" cy="246.07" rx="8.29" ry="2.3" fill="url(#gw)" opacity="0.4"/>
<ellipse cx="137.07" cy="246.07" rx="4.98" ry="2.3" fill="url(#gw)" opacity="0.25"/>
<ellipse cx="114.1" cy="233.31" rx="2.65" ry="6.38" fill="url(#gw)" opacity="0.3"/>
<ellipse cx="41.38" cy="232.03" rx="3.57" ry="13.57" fill="url(#fw)" opacity="0.95" transform="rotate(10 41.38 232.03)"/>
<ellipse cx="73.28" cy="244.79" rx="6.79" ry="4.64" fill="url(#fw)" opacity="0.97"/>
<ellipse cx="82.21" cy="239.69" rx="2.86" ry="5.72" fill="url(#fw)" opacity="0.88"/>
<ellipse cx="77.1" cy="233.31" rx="2.14" ry="7.14" fill="url(#fw)" opacity="0.7"/>
<ellipse cx="103.9" cy="239.69" rx="3.22" ry="4.64" fill="url(#fw)" opacity="0.9"/>
<ellipse cx="123.03" cy="237.9" rx="3.22" ry="4.64" fill="url(#fw)" opacity="0.85"/>
<ellipse cx="111.55" cy="249.38" rx="9.65" ry="2.14" fill="url(#fw)" opacity="0.95"/>
</g></g>
<g clip-path="url(#cs4)"><g filter="url(#jet)">
<rect x="188.4" y="140" width="143.1" height="119" fill="rgb(33,33,33)"/>
<ellipse cx="195.88" cy="178.1" rx="7.8" ry="80.25" fill="url(#fw)" opacity="0.03"/>
<ellipse cx="222.9" cy="178.1" rx="7.36" ry="80.25" fill="url(#fw)" opacity="0.05"/>
<ellipse cx="232.12" cy="178.1" rx="5.41" ry="80.25" fill="url(#fw)" opacity="0.05"/>
<ellipse cx="259.39" cy="178.1" rx="6.65" ry="80.25" fill="url(#fw)" opacity="0.04"/>
<ellipse cx="266.31" cy="178.1" rx="5.62" ry="80.25" fill="url(#fw)" opacity="0.05"/>
<ellipse cx="283.37" cy="178.1" rx="6.14" ry="80.25" fill="url(#fw)" opacity="0.05"/>
<ellipse cx="303.09" cy="178.1" rx="4.16" ry="80.25" fill="url(#fw)" opacity="0.03"/>
<ellipse cx="320.68" cy="178.1" rx="6.28" ry="80.25" fill="url(#fw)" opacity="0.05"/>
<ellipse cx="194.56" cy="150.01" rx="0.85" ry="80.12" fill="url(#tw)" opacity="0.06"/>
<ellipse cx="194.56" cy="202.08" rx="1.28" ry="26.44" fill="url(#gw)" opacity="0.05"/>
<ellipse cx="198.13" cy="149.06" rx="0.81" ry="61.23" fill="url(#tw)" opacity="0.11"/>
<ellipse cx="198.13" cy="188.86" rx="1.21" ry="20.21" fill="url(#gw)" opacity="0.1"/>
<ellipse cx="203.23" cy="149.07" rx="1.07" ry="61.44" fill="url(#tw)" opacity="0.04"/>
<ellipse cx="203.23" cy="189.01" rx="1.6" ry="20.28" fill="url(#gw)" opacity="0.04"/>
<ellipse cx="204.9" cy="150.21" rx="0.83" ry="84.2" fill="url(#tw)" opacity="0.05"/>
<ellipse cx="204.9" cy="204.94" rx="1.25" ry="27.79" fill="url(#gw)" opacity="0.05"/>
<ellipse cx="207.58" cy="149.05" rx="0.82" ry="61.06" fill="url(#tw)" opacity="0.09"/>
<ellipse cx="207.58" cy="188.75" rx="1.23" ry="20.15" fill="url(#gw)" opacity="0.08"/>
<ellipse cx="210.41" cy="149.41" rx="0.81" ry="68.25" fill="url(#tw)" opacity="0.11"/>
<ellipse cx="210.41" cy="193.78" rx="1.21" ry="22.52" fill="url(#gw)" opacity="0.1"/>
<ellipse cx="215.01" cy="150.31" rx="1.01" ry="86.28" fill="url(#tw)" opacity="0.04"/>
<ellipse cx="215.01" cy="206.39" rx="1.51" ry="28.47" fill="url(#gw)" opacity="0.04"/>
<ellipse cx="217.04" cy="149.05" rx="0.95" ry="60.92" fill="url(#tw)" opacity="0.12"/>
<ellipse cx="217.04" cy="188.64" rx="1.42" ry="20.1" fill="url(#gw)" opacity="0.11"/>
<ellipse cx="220.21" cy="149.37" rx="0.81" ry="67.46" fill="url(#tw)" opacity="0.04"/>
<ellipse cx="220.21" cy="193.22" rx="1.21" ry="22.26" fill="url(#gw)" opacity="0.04"/>
<ellipse cx="224.01" cy="148.67" rx="0.87" ry="53.49" fill="url(#tw)" opacity="0.08"/>
<ellipse cx="224.01" cy="183.44" rx="1.31" ry="17.65" fill="url(#gw)" opacity="0.08"/>
<ellipse cx="226.32" cy="148.78" rx="0.84" ry="55.61" fill="url(#tw)" opacity="0.09"/>
<ellipse cx="226.32" cy="184.93" rx="1.25" ry="18.35" fill="url(#gw)" opacity="0.08"/>
<ellipse cx="229.6" cy="149.96" rx="1" ry="79.26" fill="url(#tw)" opacity="0.14"/>
<ellipse cx="229.6" cy="201.48" rx="1.5" ry="26.16" fill="url(#gw)" opacity="0.12"/>
<ellipse cx="232.97" cy="149.61" rx="0.95" ry="72.19" fill="url(#tw)" opacity="0.08"/>
<ellipse cx="232.97" cy="196.54" rx="1.43" ry="23.82" fill="url(#gw)" opacity="0.07"/>
<ellipse cx="236.98" cy="148.84" rx="0.96" ry="56.71" fill="url(#tw)" opacity="0.03"/>
<ellipse cx="236.98" cy="185.7" rx="1.43" ry="18.71" fill="url(#gw)" opacity="0.03"/>
<ellipse cx="239.12" cy="149.28" rx="1.07" ry="65.51" fill="url(#tw)" opacity="0.09"/>
<ellipse cx="239.12" cy="191.86" rx="1.61" ry="21.62" fill="url(#gw)" opacity="0.08"/>
<ellipse cx="243.24" cy="148.94" rx="1.07" ry="58.75" fill="url(#tw)" opacity="0.05"/>
<ellipse cx="243.24" cy="187.13" rx="1.6" ry="19.39" fill="url(#gw)" opacity="0.05"/>
<ellipse cx="246.03" cy="149.36" rx="0.95" ry="67.22" fill="url(#tw)" opacity="0.1"/>
<ellipse cx="246.03" cy="193.05" rx="1.42" ry="22.18" fill="url(#gw)" opacity="0.09"/>
<ellipse cx="249.48" cy="149.6" rx="1.09" ry="72.05" fill="url(#tw)" opacity="0.03"/>
<ellipse cx="249.48" cy="196.43" rx="1.64" ry="23.78" fill="url(#gw)" opacity="0.03"/>
<ellipse cx="252.44" cy="149.78" rx="0.84" ry="75.65" fill="url(#tw)" opacity="0.06"/>
<ellipse cx="252.44" cy="198.95" rx="1.26" ry="24.96" fill="url(#gw)" opacity="0.05"/>
<ellipse cx="254.99" cy="150.28" rx="0.7" ry="85.55" fill="url(#tw)" opacity="0.04"/>
<ellipse cx="254.99" cy="205.88" rx="1.05" ry="28.23" fill="url(#gw)" opacity="0.04"/>
<ellipse cx="257.47" cy="148.88" rx="0.96" ry="57.62" fill="url(#tw)" opacity="0.09"/>
<ellipse cx="257.47" cy="186.33" rx="1.43" ry="19.01" fill="url(#gw)" opacity="0.08"/>
<ellipse cx="262.47" cy="148.85" rx="1.07" ry="56.92" fill="url(#tw)" opacity="0.08"/>
<ellipse cx="262.47" cy="185.84" rx="1.61" ry="18.78" fill="url(#gw)" opacity="0.07"/>
<ellipse cx="264.4" cy="149.32" rx="0.74" ry="66.39" fill="url(#tw)" opacity="0.07"/>
<ellipse cx="264.4" cy="192.48" rx="1.1" ry="21.91" fill="url(#gw)" opacity="0.06"/>
<ellipse cx="267.53" cy="149.1" rx="1.03" ry="62.08" fill="url(#tw)" opacity="0.07"/>
<ellipse cx="267.53" cy="189.45" rx="1.55" ry="20.49" fill="url(#gw)" opacity="0.07"/>
<ellipse cx="269.49" cy="148.46" rx="0.82" ry="49.22" fill="url(#tw)" opacity="0.11"/>
<ellipse cx="269.49" cy="180.46" rx="1.23" ry="16.24" fill="url(#gw)" opacity="0.1"/>
<ellipse cx="274.79" cy="150.16" rx="0.93" ry="83.23" fill="url(#tw)" opacity="0.11"/>
<ellipse cx="274.79" cy="204.26" rx="1.39" ry="27.47" fill="url(#gw)" opacity="0.1"/>
<ellipse cx="276.4" cy="150.25" rx="0.78" ry="84.92" fill="url(#tw)" opacity="0.12"/>
<ellipse cx="276.4" cy="205.44" rx="1.17" ry="28.02" fill="url(#gw)" opacity="0.11"/>
<ellipse cx="281.8" cy="149.98" rx="0.81" ry="79.6" fill="url(#tw)" opacity="0.09"/>
<ellipse cx="281.8" cy="201.72" rx="1.22" ry="26.27" fill="url(#gw)" opacity="0.08"/>
<ellipse cx="284.05" cy="149.17" rx="0.64" ry="63.37" fill="url(#tw)" opacity="0.08"/>
<ellipse cx="284.05" cy="190.36" rx="0.96" ry="20.91" fill="url(#gw)" opacity="0.08"/>
<ellipse cx="287.05" cy="150.37" rx="0.8" ry="87.37" fill="url(#tw)" opacity="0.03"/>
<ellipse cx="287.05" cy="207.16" rx="1.21" ry="28.83" fill="url(#gw)" opacity="0.03"/>
<ellipse cx="290.27" cy="149.63" rx="0.67" ry="72.61" fill="url(#tw)" opacity="0.06"/>
<ellipse cx="290.27" cy="196.83" rx="1" ry="23.96" fill="url(#gw)" opacity="0.05"/>
<ellipse cx="293.08" cy="150.53" rx="0.86" ry="90.6" fill="url(#tw)" opacity="0.06"/>
<ellipse cx="293.08" cy="209.42" rx="1.29" ry="29.9" fill="url(#gw)" opacity="0.06"/>
<ellipse cx="296.31" cy="149.42" rx="0.63" ry="68.45" fill="url(#tw)" opacity="0.09"/>
<ellipse cx="296.31" cy="193.92" rx="0.95" ry="22.59" fill="url(#gw)" opacity="0.08"/>
<ellipse cx="297.48" cy="149.69" rx="0.86" ry="73.87" fill="url(#tw)" opacity="0.13"/>
<ellipse cx="297.48" cy="197.71" rx="1.29" ry="24.38" fill="url(#gw)" opacity="0.12"/>
<ellipse cx="302.65" cy="149.9" rx="1.01" ry="78.06" fill="url(#tw)" opacity="0.03"/>
<ellipse cx="302.65" cy="200.64" rx="1.52" ry="25.76" fill="url(#gw)" opacity="0.03"/>
<ellipse cx="303.87" cy="150.53" rx="1.03" ry="90.53" fill="url(#tw)" opacity="0.13"/>
<ellipse cx="303.87" cy="209.37" rx="1.55" ry="29.87" fill="url(#gw)" opacity="0.12"/>
<ellipse cx="307.06" cy="148.95" rx="0.99" ry="59.03" fill="url(#tw)" opacity="0.13"/>
<ellipse cx="307.06" cy="187.32" rx="1.48" ry="19.48" fill="url(#gw)" opacity="0.12"/>
<ellipse cx="310.14" cy="149.58" rx="0.63" ry="71.59" fill="url(#tw)" opacity="0.1"/>
<ellipse cx="310.14" cy="196.11" rx="0.95" ry="23.62" fill="url(#gw)" opacity="0.09"/>
<ellipse cx="315.53" cy="149.3" rx="0.77" ry="66" fill="url(#tw)" opacity="0.07"/>
<ellipse cx="315.53" cy="192.2" rx="1.15" ry="21.78" fill="url(#gw)" opacity="0.07"/>
<ellipse cx="316.49" cy="150.16" rx="0.88" ry="83.18" fill="url(#tw)" opacity="0.04"/>
<ellipse cx="316.49" cy="204.23" rx="1.32" ry="27.45" fill="url(#gw)" opacity="0.03"/>
<ellipse cx="322.35" cy="150.16" rx="0.75" ry="83.12" fill="url(#tw)" opacity="0.04"/>
<ellipse cx="322.35" cy="204.19" rx="1.13" ry="27.43" fill="url(#gw)" opacity="0.04"/>
<ellipse cx="323.29" cy="150.25" rx="1.07" ry="84.92" fill="url(#tw)" opacity="0.11"/>
<ellipse cx="323.29" cy="205.44" rx="1.61" ry="28.02" fill="url(#gw)" opacity="0.1"/>
<ellipse cx="203.49" cy="238.81" rx="4.21" ry="3.85" fill="url(#gk)" opacity="0.38"/>
<ellipse cx="219.66" cy="235.6" rx="4.04" ry="5.94" fill="url(#gk)" opacity="0.48"/>
<ellipse cx="232.13" cy="238.75" rx="4.35" ry="3.75" fill="url(#gk)" opacity="0.31"/>
<ellipse cx="249.63" cy="240.41" rx="3.82" ry="4.64" fill="url(#gk)" opacity="0.37"/>
<ellipse cx="267" cy="238.51" rx="4.47" ry="5.15" fill="url(#gk)" opacity="0.51"/>
<ellipse cx="270.59" cy="238.73" rx="2.69" ry="4.32" fill="url(#gk)" opacity="0.41"/>
<ellipse cx="289.42" cy="242.22" rx="3.76" ry="3.77" fill="url(#gk)" opacity="0.5"/>
<ellipse cx="307.43" cy="240.12" rx="4.37" ry="5.45" fill="url(#gk)" opacity="0.43"/>
<ellipse cx="320.62" cy="230.17" rx="3.25" ry="4.52" fill="url(#gk)" opacity="0.48"/>
<ellipse cx="194.88" cy="206.92" rx="2.49" ry="11.6" fill="url(#gw)" opacity="0.42"/>
<ellipse cx="209.78" cy="210.07" rx="2.28" ry="10.14" fill="url(#gw)" opacity="0.49"/>
<ellipse cx="212.86" cy="226.99" rx="2.5" ry="17.79" fill="url(#gw)" opacity="0.38"/>
<ellipse cx="225.07" cy="225.58" rx="2.68" ry="10.71" fill="url(#gw)" opacity="0.46"/>
<ellipse cx="229.76" cy="217.99" rx="2.37" ry="16.71" fill="url(#gw)" opacity="0.39"/>
<ellipse cx="235.41" cy="203.57" rx="2.23" ry="13.59" fill="url(#gw)" opacity="0.33"/>
<ellipse cx="243.05" cy="220.58" rx="3.11" ry="13.56" fill="url(#gw)" opacity="0.36"/>
<ellipse cx="253.22" cy="211.52" rx="3.38" ry="16.12" fill="url(#gw)" opacity="0.51"/>
<ellipse cx="258.18" cy="221.34" rx="2.71" ry="12.03" fill="url(#gw)" opacity="0.33"/>
<ellipse cx="267.75" cy="218.31" rx="2.51" ry="10.77" fill="url(#gw)" opacity="0.45"/>
<ellipse cx="275.59" cy="220.19" rx="3.24" ry="11.33" fill="url(#gw)" opacity="0.54"/>
<ellipse cx="281.46" cy="220.73" rx="2.48" ry="16.08" fill="url(#gw)" opacity="0.39"/>
<ellipse cx="290.98" cy="224.25" rx="3.12" ry="16.07" fill="url(#gw)" opacity="0.53"/>
<ellipse cx="297.82" cy="208.08" rx="3.19" ry="14.67" fill="url(#gw)" opacity="0.37"/>
<ellipse cx="309.94" cy="224.61" rx="3.16" ry="13.69" fill="url(#gw)" opacity="0.5"/>
<ellipse cx="313.15" cy="209.08" rx="3.18" ry="14.85" fill="url(#gw)" opacity="0.49"/>
<ellipse cx="318.37" cy="215.07" rx="2.7" ry="10.32" fill="url(#gw)" opacity="0.51"/>
<ellipse cx="196.87" cy="236.04" rx="3.12" ry="9.73" fill="url(#gw)" opacity="0.36"/>
<ellipse cx="200.95" cy="229.1" rx="3.22" ry="7.02" fill="url(#gw)" opacity="0.53"/>
<ellipse cx="209.64" cy="240.93" rx="3.77" ry="9.11" fill="url(#gw)" opacity="0.48"/>
<ellipse cx="213.95" cy="238.31" rx="3.03" ry="7.55" fill="url(#gw)" opacity="0.53"/>
<ellipse cx="220.42" cy="233.62" rx="2.36" ry="9.52" fill="url(#gw)" opacity="0.39"/>
<ellipse cx="223.5" cy="243.26" rx="3.47" ry="11.72" fill="url(#gw)" opacity="0.49"/>
<ellipse cx="231.14" cy="231.82" rx="3.2" ry="9.3" fill="url(#gw)" opacity="0.38"/>
<ellipse cx="236.12" cy="238.92" rx="2.49" ry="10.69" fill="url(#gw)" opacity="0.4"/>
<ellipse cx="242.96" cy="232.36" rx="3.62" ry="10.49" fill="url(#gw)" opacity="0.41"/>
<ellipse cx="244.43" cy="236.52" rx="2.79" ry="9.65" fill="url(#gw)" opacity="0.47"/>
<ellipse cx="249.2" cy="232.6" rx="3.07" ry="10.15" fill="url(#gw)" opacity="0.39"/>
<ellipse cx="257.48" cy="230.92" rx="3.4" ry="9.78" fill="url(#gw)" opacity="0.41"/>
<ellipse cx="260.68" cy="245.24" rx="2.48" ry="9.4" fill="url(#gw)" opacity="0.37"/>
<ellipse cx="266.92" cy="230.7" rx="3.59" ry="9.09" fill="url(#gw)" opacity="0.35"/>
<ellipse cx="271.09" cy="238.22" rx="2.59" ry="10.64" fill="url(#gw)" opacity="0.5"/>
<ellipse cx="279.98" cy="230.54" rx="2.55" ry="10.73" fill="url(#gw)" opacity="0.62"/>
<ellipse cx="284.4" cy="235.79" rx="2.98" ry="6.66" fill="url(#gw)" opacity="0.37"/>
<ellipse cx="287.77" cy="229.12" rx="2.76" ry="7.01" fill="url(#gw)" opacity="0.61"/>
<ellipse cx="297.02" cy="244.89" rx="2.24" ry="10.89" fill="url(#gw)" opacity="0.55"/>
<ellipse cx="302.12" cy="228.28" rx="3.75" ry="11.92" fill="url(#gw)" opacity="0.51"/>
<ellipse cx="307.52" cy="230.98" rx="3.55" ry="6.54" fill="url(#gw)" opacity="0.5"/>
<ellipse cx="313.96" cy="233.03" rx="2.93" ry="9.98" fill="url(#gw)" opacity="0.32"/>
<ellipse cx="315.64" cy="241.69" rx="3.73" ry="6.81" fill="url(#gw)" opacity="0.37"/>
<ellipse cx="320.27" cy="241.02" rx="3.77" ry="6.2" fill="url(#gw)" opacity="0.55"/>
<ellipse cx="202.55" cy="245.83" rx="12.78" ry="2.78" fill="url(#gw)" opacity="0.4" transform="rotate(-3.27 202.55 245.83)"/>
<ellipse cx="212.78" cy="245.36" rx="10.65" ry="3.02" fill="url(#gw)" opacity="0.37" transform="rotate(-0.08 212.78 245.36)"/>
<ellipse cx="237.13" cy="246.62" rx="8.72" ry="3.14" fill="url(#gw)" opacity="0.56" transform="rotate(-4.71 237.13 246.62)"/>
<ellipse cx="249.98" cy="248.26" rx="13.02" ry="3.33" fill="url(#gw)" opacity="0.54" transform="rotate(2.45 249.98 248.26)"/>
<ellipse cx="254.7" cy="248.35" rx="13.96" ry="2.62" fill="url(#gw)" opacity="0.48" transform="rotate(2.58 254.7 248.35)"/>
<ellipse cx="270.14" cy="246.2" rx="9.48" ry="3.24" fill="url(#gw)" opacity="0.43" transform="rotate(-4.75 270.14 246.2)"/>
<ellipse cx="294.79" cy="247.75" rx="9.41" ry="2.2" fill="url(#gw)" opacity="0.46" transform="rotate(4.51 294.79 247.75)"/>
<ellipse cx="298.86" cy="246.74" rx="8.04" ry="2.63" fill="url(#gw)" opacity="0.49" transform="rotate(3.12 298.86 246.74)"/>
<ellipse cx="313.77" cy="246.17" rx="10.62" ry="2.22" fill="url(#gw)" opacity="0.54" transform="rotate(3.06 313.77 246.17)"/>
<ellipse cx="195.83" cy="151.14" rx="1.3" ry="53.59" fill="url(#tw)" opacity="0.17"/>
<ellipse cx="195.83" cy="182.79" rx="1.84" ry="17.35" fill="url(#gw)" opacity="0.51"/>
<ellipse cx="202.72" cy="151.4" rx="1.08" ry="56.26" fill="url(#tw)" opacity="0.23"/>
<ellipse cx="202.72" cy="184.62" rx="1.53" ry="18.22" fill="url(#gw)" opacity="0.7"/>
<ellipse cx="209.35" cy="152.17" rx="1.08" ry="64.3" fill="url(#tw)" opacity="0.15"/>
<ellipse cx="209.35" cy="190.13" rx="1.53" ry="20.82" fill="url(#gw)" opacity="0.45"/>
<ellipse cx="216.24" cy="152.42" rx="1.08" ry="66.98" fill="url(#tw)" opacity="0.11"/>
<ellipse cx="216.24" cy="191.97" rx="1.53" ry="21.69" fill="url(#gw)" opacity="0.32"/>
<ellipse cx="222.11" cy="155.23" rx="1.08" ry="96.45" fill="url(#tw)" opacity="0.25"/>
<ellipse cx="222.11" cy="212.18" rx="1.53" ry="31.23" fill="url(#gw)" opacity="0.76"/>
<ellipse cx="222.11" cy="207.79" rx="1.79" ry="35.72" fill="url(#fw)" opacity="0.7"/>
<ellipse cx="229" cy="152.68" rx="1.08" ry="69.66" fill="url(#tw)" opacity="0.19"/>
<ellipse cx="229" cy="193.81" rx="1.53" ry="22.56" fill="url(#gw)" opacity="0.57"/>
<ellipse cx="236.65" cy="152.42" rx="1.08" ry="66.98" fill="url(#tw)" opacity="0.15"/>
<ellipse cx="236.65" cy="191.97" rx="1.53" ry="21.69" fill="url(#gw)" opacity="0.45"/>
<ellipse cx="243.03" cy="152.17" rx="1.08" ry="64.3" fill="url(#tw)" opacity="0.19"/>
<ellipse cx="243.03" cy="190.13" rx="1.53" ry="20.82" fill="url(#gw)" opacity="0.57"/>
<ellipse cx="247.63" cy="151.14" rx="1.08" ry="53.59" fill="url(#tw)" opacity="0.27"/>
<ellipse cx="247.63" cy="182.79" rx="1.53" ry="17.35" fill="url(#gw)" opacity="0.83"/>
<ellipse cx="247.63" cy="169.52" rx="1.43" ry="17.86" fill="url(#fw)" opacity="0.6"/>
<ellipse cx="248.65" cy="230.76" rx="2.14" ry="14.29" fill="url(#fw)" opacity="0.8"/>
<ellipse cx="254.52" cy="192.48" rx="1.66" ry="17.86" fill="url(#gw)" opacity="0.5"/>
<ellipse cx="264.72" cy="150.89" rx="0.87" ry="50.91" fill="url(#tw)" opacity="0.21"/>
<ellipse cx="264.72" cy="180.95" rx="1.22" ry="16.48" fill="url(#gw)" opacity="0.64"/>
<ellipse cx="268.55" cy="152.42" rx="1.08" ry="66.98" fill="url(#tw)" opacity="0.11"/>
<ellipse cx="268.55" cy="191.97" rx="1.53" ry="21.69" fill="url(#gw)" opacity="0.32"/>
<ellipse cx="278.76" cy="152.68" rx="1.08" ry="69.66" fill="url(#tw)" opacity="0.15"/>
<ellipse cx="278.76" cy="193.81" rx="1.53" ry="22.56" fill="url(#gw)" opacity="0.45"/>
<ellipse cx="283.35" cy="149.36" rx="0.87" ry="34.83" fill="url(#tw)" opacity="0.25"/>
<ellipse cx="283.35" cy="169.92" rx="1.22" ry="11.28" fill="url(#gw)" opacity="0.76"/>
<ellipse cx="292.79" cy="197.59" rx="1.66" ry="20.41" fill="url(#gw)" opacity="0.6"/>
<ellipse cx="304.27" cy="151.4" rx="0.87" ry="56.26" fill="url(#tw)" opacity="0.23"/>
<ellipse cx="304.27" cy="184.62" rx="1.22" ry="18.22" fill="url(#gw)" opacity="0.7"/>
<ellipse cx="308.1" cy="152.42" rx="1.08" ry="66.98" fill="url(#tw)" opacity="0.11"/>
<ellipse cx="308.1" cy="191.97" rx="1.53" ry="21.69" fill="url(#gw)" opacity="0.32"/>
<ellipse cx="314.48" cy="153.19" rx="1.08" ry="75.02" fill="url(#tw)" opacity="0.15"/>
<ellipse cx="314.48" cy="197.48" rx="1.53" ry="24.29" fill="url(#gw)" opacity="0.45"/>
<ellipse cx="322.14" cy="152.42" rx="1.3" ry="66.98" fill="url(#tw)" opacity="0.12"/>
<ellipse cx="322.14" cy="191.97" rx="1.84" ry="21.69" fill="url(#gw)" opacity="0.36"/>
<ellipse cx="258.34" cy="240.96" rx="99.52" ry="11.48" fill="url(#gw)" opacity="0.04"/>
<ellipse cx="258.34" cy="249.13" rx="92.88" ry="2.04" fill="url(#gw)" opacity="0.16"/>
<ellipse cx="209.86" cy="238.41" rx="6.63" ry="5.1" fill="url(#gk)" opacity="0.22"/>
<ellipse cx="230.28" cy="240.96" rx="5.97" ry="3.83" fill="url(#gk)" opacity="0.22"/>
<ellipse cx="276.21" cy="237.14" rx="8.29" ry="5.61" fill="url(#gk)" opacity="0.22"/>
<ellipse cx="301.72" cy="238.41" rx="7.3" ry="5.61" fill="url(#gk)" opacity="0.22"/>
<ellipse cx="207.31" cy="246.07" rx="6.63" ry="2.04" fill="url(#gw)" opacity="0.3"/>
<ellipse cx="257.07" cy="240.96" rx="2.65" ry="5.1" fill="url(#gw)" opacity="0.3"/>
<ellipse cx="299.17" cy="247.34" rx="9.95" ry="1.79" fill="url(#gw)" opacity="0.3"/>
<ellipse cx="268.55" cy="242.24" rx="2.65" ry="3.83" fill="url(#gw)" opacity="0.3"/>
<ellipse cx="222.11" cy="195.03" rx="1.33" ry="43.38" fill="url(#gw)" opacity="0.42"/>
<ellipse cx="247.63" cy="174.62" rx="1.33" ry="28.07" fill="url(#gw)" opacity="0.45"/>
<ellipse cx="247.63" cy="228.21" rx="1.33" ry="15.31" fill="url(#gw)" opacity="0.45"/>
<ellipse cx="195.83" cy="244.03" rx="2.86" ry="2.86" fill="url(#fw)" opacity="0.9"/>
<ellipse cx="240.48" cy="238.41" rx="2.5" ry="5" fill="url(#fw)" opacity="0.8" transform="rotate(-35 240.48 238.41)"/>
<ellipse cx="195.83" cy="243.52" rx="3.93" ry="4.64" fill="url(#fw)" opacity="0.97"/>
<ellipse cx="220.07" cy="247.34" rx="7.86" ry="2.5" fill="url(#fw)" opacity="0.85"/>
<ellipse cx="239.21" cy="239.69" rx="2.86" ry="3.57" fill="url(#fw)" opacity="0.7"/>
<ellipse cx="266" cy="249.38" rx="11.43" ry="2.86" fill="url(#fw)" opacity="0.97"/>
<ellipse cx="288.96" cy="240.45" rx="3.22" ry="4.64" fill="url(#fw)" opacity="0.97"/>
<ellipse cx="314.48" cy="242.24" rx="2.86" ry="5.72" fill="url(#fw)" opacity="0.85"/>
</g></g>
<g clip-path="url(#cs5)"><g filter="url(#jet)">
<rect x="347.3" y="140" width="141.9" height="119" fill="rgb(41,41,41)"/>
<ellipse cx="354.45" cy="178.1" rx="5.74" ry="80.25" fill="url(#fw)" opacity="0.03"/>
<ellipse cx="376.77" cy="178.1" rx="5.02" ry="80.25" fill="url(#fw)" opacity="0.05"/>
<ellipse cx="394.88" cy="178.1" rx="6.98" ry="80.25" fill="url(#fw)" opacity="0.06"/>
<ellipse cx="410.05" cy="178.1" rx="5.87" ry="80.25" fill="url(#fw)" opacity="0.03"/>
<ellipse cx="430.98" cy="178.1" rx="4.28" ry="80.25" fill="url(#fw)" opacity="0.03"/>
<ellipse cx="437.2" cy="178.1" rx="6.91" ry="80.25" fill="url(#fw)" opacity="0.04"/>
<ellipse cx="458.92" cy="178.1" rx="6.11" ry="80.25" fill="url(#fw)" opacity="0.05"/>
<ellipse cx="482.87" cy="178.1" rx="5.48" ry="80.25" fill="url(#fw)" opacity="0.06"/>
<ellipse cx="355.4" cy="148.85" rx="1.09" ry="56.94" fill="url(#tw)" opacity="0.14"/>
<ellipse cx="355.4" cy="185.86" rx="1.63" ry="18.79" fill="url(#gw)" opacity="0.13"/>
<ellipse cx="357.19" cy="149.03" rx="0.75" ry="60.61" fill="url(#tw)" opacity="0.11"/>
<ellipse cx="357.19" cy="188.43" rx="1.13" ry="20" fill="url(#gw)" opacity="0.11"/>
<ellipse cx="359.79" cy="150.28" rx="1.09" ry="85.66" fill="url(#tw)" opacity="0.17"/>
<ellipse cx="359.79" cy="205.96" rx="1.63" ry="28.27" fill="url(#gw)" opacity="0.16"/>
<ellipse cx="364.5" cy="149.27" rx="0.76" ry="65.42" fill="url(#tw)" opacity="0.11"/>
<ellipse cx="364.5" cy="191.8" rx="1.13" ry="21.59" fill="url(#gw)" opacity="0.1"/>
<ellipse cx="365.16" cy="149.3" rx="0.84" ry="65.91" fill="url(#tw)" opacity="0.07"/>
<ellipse cx="365.16" cy="192.14" rx="1.26" ry="21.75" fill="url(#gw)" opacity="0.06"/>
<ellipse cx="369.99" cy="150.22" rx="0.65" ry="84.46" fill="url(#tw)" opacity="0.12"/>
<ellipse cx="369.99" cy="205.12" rx="0.97" ry="27.87" fill="url(#gw)" opacity="0.11"/>
<ellipse cx="372.27" cy="149.19" rx="0.79" ry="63.85" fill="url(#tw)" opacity="0.11"/>
<ellipse cx="372.27" cy="190.7" rx="1.18" ry="21.07" fill="url(#gw)" opacity="0.1"/>
<ellipse cx="376.68" cy="150.37" rx="0.69" ry="87.43" fill="url(#tw)" opacity="0.18"/>
<ellipse cx="376.68" cy="207.2" rx="1.04" ry="28.85" fill="url(#gw)" opacity="0.16"/>
<ellipse cx="379.31" cy="150.33" rx="0.74" ry="86.58" fill="url(#tw)" opacity="0.16"/>
<ellipse cx="379.31" cy="206.61" rx="1.11" ry="28.57" fill="url(#gw)" opacity="0.14"/>
<ellipse cx="381.59" cy="149.51" rx="0.62" ry="70.26" fill="url(#tw)" opacity="0.11"/>
<ellipse cx="381.59" cy="195.18" rx="0.93" ry="23.19" fill="url(#gw)" opacity="0.1"/>
<ellipse cx="383.34" cy="149.14" rx="1.03" ry="62.85" fill="url(#tw)" opacity="0.09"/>
<ellipse cx="383.34" cy="189.99" rx="1.55" ry="20.74" fill="url(#gw)" opacity="0.08"/>
<ellipse cx="388.18" cy="149.26" rx="0.66" ry="65.18" fill="url(#tw)" opacity="0.1"/>
<ellipse cx="388.18" cy="191.63" rx="0.99" ry="21.51" fill="url(#gw)" opacity="0.09"/>
<ellipse cx="389.22" cy="149.9" rx="0.94" ry="77.97" fill="url(#tw)" opacity="0.07"/>
<ellipse cx="389.22" cy="200.58" rx="1.41" ry="25.73" fill="url(#gw)" opacity="0.07"/>
<ellipse cx="392.22" cy="148.62" rx="0.87" ry="52.43" fill="url(#tw)" opacity="0.15"/>
<ellipse cx="392.22" cy="182.7" rx="1.3" ry="17.3" fill="url(#gw)" opacity="0.13"/>
<ellipse cx="394.93" cy="150.17" rx="1.06" ry="83.42" fill="url(#tw)" opacity="0.14"/>
<ellipse cx="394.93" cy="204.4" rx="1.58" ry="27.53" fill="url(#gw)" opacity="0.13"/>
<ellipse cx="399.36" cy="148.54" rx="0.97" ry="50.82" fill="url(#tw)" opacity="0.06"/>
<ellipse cx="399.36" cy="181.57" rx="1.46" ry="16.77" fill="url(#gw)" opacity="0.06"/>
<ellipse cx="402.84" cy="149.44" rx="1.09" ry="68.74" fill="url(#tw)" opacity="0.07"/>
<ellipse cx="402.84" cy="194.12" rx="1.63" ry="22.69" fill="url(#gw)" opacity="0.06"/>
<ellipse cx="404.13" cy="149.91" rx="0.73" ry="78.29" fill="url(#tw)" opacity="0.07"/>
<ellipse cx="404.13" cy="200.81" rx="1.1" ry="25.84" fill="url(#gw)" opacity="0.06"/>
<ellipse cx="407.24" cy="148.77" rx="0.98" ry="55.35" fill="url(#tw)" opacity="0.06"/>
<ellipse cx="407.24" cy="184.74" rx="1.46" ry="18.26" fill="url(#gw)" opacity="0.06"/>
<ellipse cx="409.89" cy="148.93" rx="0.67" ry="58.63" fill="url(#tw)" opacity="0.08"/>
<ellipse cx="409.89" cy="187.04" rx="1.01" ry="19.35" fill="url(#gw)" opacity="0.07"/>
<ellipse cx="412.55" cy="149.25" rx="0.66" ry="64.94" fill="url(#tw)" opacity="0.06"/>
<ellipse cx="412.55" cy="191.46" rx="0.99" ry="21.43" fill="url(#gw)" opacity="0.05"/>
<ellipse cx="418.02" cy="148.76" rx="0.88" ry="55.13" fill="url(#tw)" opacity="0.16"/>
<ellipse cx="418.02" cy="184.59" rx="1.31" ry="18.19" fill="url(#gw)" opacity="0.15"/>
<ellipse cx="421" cy="149.61" rx="0.86" ry="72.15" fill="url(#tw)" opacity="0.09"/>
<ellipse cx="421" cy="196.51" rx="1.29" ry="23.81" fill="url(#gw)" opacity="0.08"/>
<ellipse cx="422.43" cy="148.64" rx="1.05" ry="52.78" fill="url(#tw)" opacity="0.08"/>
<ellipse cx="422.43" cy="182.95" rx="1.57" ry="17.42" fill="url(#gw)" opacity="0.08"/>
<ellipse cx="425.16" cy="148.45" rx="0.74" ry="49.04" fill="url(#tw)" opacity="0.14"/>
<ellipse cx="425.16" cy="180.33" rx="1.11" ry="16.18" fill="url(#gw)" opacity="0.13"/>
<ellipse cx="427.35" cy="149.18" rx="0.86" ry="63.69" fill="url(#tw)" opacity="0.15"/>
<ellipse cx="427.35" cy="190.58" rx="1.29" ry="21.02" fill="url(#gw)" opacity="0.13"/>
<ellipse cx="432.55" cy="148.85" rx="0.7" ry="57" fill="url(#tw)" opacity="0.14"/>
<ellipse cx="432.55" cy="185.9" rx="1.05" ry="18.81" fill="url(#gw)" opacity="0.12"/>
<ellipse cx="435.64" cy="149.18" rx="0.88" ry="63.65" fill="url(#tw)" opacity="0.11"/>
<ellipse cx="435.64" cy="190.55" rx="1.31" ry="21" fill="url(#gw)" opacity="0.1"/>
<ellipse cx="438.74" cy="149.28" rx="1.01" ry="65.53" fill="url(#tw)" opacity="0.13"/>
<ellipse cx="438.74" cy="191.87" rx="1.52" ry="21.63" fill="url(#gw)" opacity="0.12"/>
<ellipse cx="440.93" cy="149.05" rx="0.66" ry="60.99" fill="url(#tw)" opacity="0.06"/>
<ellipse cx="440.93" cy="188.69" rx="0.99" ry="20.13" fill="url(#gw)" opacity="0.06"/>
<ellipse cx="442.72" cy="149.6" rx="0.71" ry="71.97" fill="url(#tw)" opacity="0.17"/>
<ellipse cx="442.72" cy="196.38" rx="1.07" ry="23.75" fill="url(#gw)" opacity="0.16"/>
<ellipse cx="447.4" cy="149.92" rx="1.05" ry="78.5" fill="url(#tw)" opacity="0.12"/>
<ellipse cx="447.4" cy="200.95" rx="1.57" ry="25.9" fill="url(#gw)" opacity="0.11"/>
<ellipse cx="449.99" cy="150.27" rx="0.75" ry="85.34" fill="url(#tw)" opacity="0.07"/>
<ellipse cx="449.99" cy="205.74" rx="1.13" ry="28.16" fill="url(#gw)" opacity="0.07"/>
<ellipse cx="451.85" cy="150.51" rx="0.92" ry="90.25" fill="url(#tw)" opacity="0.15"/>
<ellipse cx="451.85" cy="209.17" rx="1.38" ry="29.78" fill="url(#gw)" opacity="0.14"/>
<ellipse cx="455.29" cy="149.92" rx="1.01" ry="78.32" fill="url(#tw)" opacity="0.18"/>
<ellipse cx="455.29" cy="200.82" rx="1.52" ry="25.84" fill="url(#gw)" opacity="0.16"/>
<ellipse cx="459.46" cy="150.16" rx="0.82" ry="83.21" fill="url(#tw)" opacity="0.14"/>
<ellipse cx="459.46" cy="204.25" rx="1.24" ry="27.46" fill="url(#gw)" opacity="0.13"/>
<ellipse cx="461.67" cy="149.56" rx="0.97" ry="71.18" fill="url(#tw)" opacity="0.12"/>
<ellipse cx="461.67" cy="195.83" rx="1.46" ry="23.49" fill="url(#gw)" opacity="0.11"/>
<ellipse cx="465.17" cy="149.37" rx="1.05" ry="67.34" fill="url(#tw)" opacity="0.12"/>
<ellipse cx="465.17" cy="193.13" rx="1.57" ry="22.22" fill="url(#gw)" opacity="0.11"/>
<ellipse cx="467.88" cy="148.69" rx="1.07" ry="53.89" fill="url(#tw)" opacity="0.06"/>
<ellipse cx="467.88" cy="183.72" rx="1.61" ry="17.78" fill="url(#gw)" opacity="0.05"/>
<ellipse cx="469.62" cy="149.86" rx="1.01" ry="77.12" fill="url(#tw)" opacity="0.09"/>
<ellipse cx="469.62" cy="199.99" rx="1.51" ry="25.45" fill="url(#gw)" opacity="0.08"/>
<ellipse cx="472.65" cy="150.27" rx="0.84" ry="85.39" fill="url(#tw)" opacity="0.06"/>
<ellipse cx="472.65" cy="205.77" rx="1.26" ry="28.18" fill="url(#gw)" opacity="0.06"/>
<ellipse cx="476.9" cy="149.03" rx="1.09" ry="60.52" fill="url(#tw)" opacity="0.09"/>
<ellipse cx="476.9" cy="188.37" rx="1.64" ry="19.97" fill="url(#gw)" opacity="0.09"/>
<ellipse cx="480.09" cy="149.72" rx="0.62" ry="74.42" fill="url(#tw)" opacity="0.07"/>
<ellipse cx="480.09" cy="198.1" rx="0.93" ry="24.56" fill="url(#gw)" opacity="0.06"/>
<ellipse cx="481.17" cy="148.83" rx="0.85" ry="56.69" fill="url(#tw)" opacity="0.13"/>
<ellipse cx="481.17" cy="185.68" rx="1.27" ry="18.71" fill="url(#gw)" opacity="0.12"/>
<ellipse cx="366.36" cy="229.72" rx="3.1" ry="4.93" fill="url(#gk)" opacity="0.45"/>
<ellipse cx="372.42" cy="233.03" rx="2.86" ry="5.56" fill="url(#gk)" opacity="0.4"/>
<ellipse cx="385.16" cy="240.78" rx="4.06" ry="5.7" fill="url(#gk)" opacity="0.44"/>
<ellipse cx="410.86" cy="234.73" rx="4.3" ry="5.9" fill="url(#gk)" opacity="0.45"/>
<ellipse cx="418.36" cy="237.51" rx="3.89" ry="4.11" fill="url(#gk)" opacity="0.55"/>
<ellipse cx="436.01" cy="241.46" rx="4.22" ry="3.98" fill="url(#gk)" opacity="0.31"/>
<ellipse cx="443.58" cy="239.72" rx="4.4" ry="4.1" fill="url(#gk)" opacity="0.39"/>
<ellipse cx="454.44" cy="233.92" rx="2.8" ry="5.1" fill="url(#gk)" opacity="0.45"/>
<ellipse cx="481.95" cy="230.99" rx="3.07" ry="4.07" fill="url(#gk)" opacity="0.46"/>
<ellipse cx="355.7" cy="217.33" rx="2.21" ry="11.69" fill="url(#gw)" opacity="0.56"/>
<ellipse cx="362.46" cy="221.74" rx="2.38" ry="14.28" fill="url(#gw)" opacity="0.47"/>
<ellipse cx="367.64" cy="224.31" rx="2.4" ry="10.42" fill="url(#gw)" opacity="0.5"/>
<ellipse cx="374.31" cy="202.43" rx="2.32" ry="13.07" fill="url(#gw)" opacity="0.52"/>
<ellipse cx="379.63" cy="201.97" rx="3.33" ry="12.36" fill="url(#gw)" opacity="0.69"/>
<ellipse cx="384.03" cy="205.73" rx="2.42" ry="17.87" fill="url(#gw)" opacity="0.48"/>
<ellipse cx="387.44" cy="220.94" rx="2.57" ry="17.73" fill="url(#gw)" opacity="0.44"/>
<ellipse cx="391.69" cy="226.16" rx="2.73" ry="16.17" fill="url(#gw)" opacity="0.49"/>
<ellipse cx="400.88" cy="214.3" rx="2.35" ry="13.88" fill="url(#gw)" opacity="0.57"/>
<ellipse cx="407.11" cy="224.73" rx="3.3" ry="15.65" fill="url(#gw)" opacity="0.63"/>
<ellipse cx="410.51" cy="217.11" rx="3.08" ry="14.08" fill="url(#gw)" opacity="0.52"/>
<ellipse cx="415.99" cy="211.05" rx="2.67" ry="13.68" fill="url(#gw)" opacity="0.47"/>
<ellipse cx="419.04" cy="219.28" rx="2.41" ry="12.04" fill="url(#gw)" opacity="0.49"/>
<ellipse cx="426.71" cy="212.21" rx="2.37" ry="15.25" fill="url(#gw)" opacity="0.61"/>
<ellipse cx="429.11" cy="211.79" rx="2.54" ry="15.05" fill="url(#gw)" opacity="0.55"/>
<ellipse cx="438.07" cy="213.75" rx="2.51" ry="11.73" fill="url(#gw)" opacity="0.42"/>
<ellipse cx="444.35" cy="216.86" rx="2.62" ry="14.72" fill="url(#gw)" opacity="0.68"/>
<ellipse cx="448.65" cy="206.24" rx="2.31" ry="13.07" fill="url(#gw)" opacity="0.65"/>
<ellipse cx="453.81" cy="216.42" rx="2.21" ry="15.3" fill="url(#gw)" opacity="0.49"/>
<ellipse cx="456.83" cy="209.47" rx="2.66" ry="10.24" fill="url(#gw)" opacity="0.45"/>
<ellipse cx="464.78" cy="213.98" rx="2.99" ry="13.5" fill="url(#gw)" opacity="0.7"/>
<ellipse cx="468.76" cy="202.81" rx="2.51" ry="11.98" fill="url(#gw)" opacity="0.68"/>
<ellipse cx="472.59" cy="226.71" rx="3.35" ry="15.76" fill="url(#gw)" opacity="0.51"/>
<ellipse cx="482.82" cy="221.86" rx="2.67" ry="14.2" fill="url(#gw)" opacity="0.56"/>
<ellipse cx="353.92" cy="243.18" rx="2.29" ry="6.49" fill="url(#gw)" opacity="0.53"/>
<ellipse cx="362.42" cy="239.85" rx="2.28" ry="8.32" fill="url(#gw)" opacity="0.58"/>
<ellipse cx="365.56" cy="230.81" rx="2.63" ry="11.22" fill="url(#gw)" opacity="0.4"/>
<ellipse cx="370.83" cy="236.33" rx="3.04" ry="8.31" fill="url(#gw)" opacity="0.37"/>
<ellipse cx="377.65" cy="227.91" rx="3.67" ry="10.13" fill="url(#gw)" opacity="0.48"/>
<ellipse cx="383.92" cy="236.25" rx="3.66" ry="9.13" fill="url(#gw)" opacity="0.55"/>
<ellipse cx="386.5" cy="234.38" rx="3.09" ry="10.73" fill="url(#gw)" opacity="0.37"/>
<ellipse cx="394.75" cy="244.3" rx="2.67" ry="8.77" fill="url(#gw)" opacity="0.5"/>
<ellipse cx="401.16" cy="233.79" rx="2.9" ry="10.55" fill="url(#gw)" opacity="0.55"/>
<ellipse cx="402.76" cy="236.95" rx="3.17" ry="6.28" fill="url(#gw)" opacity="0.43"/>
<ellipse cx="409.88" cy="237.33" rx="2.47" ry="9.84" fill="url(#gw)" opacity="0.44"/>
<ellipse cx="416.99" cy="243.47" rx="3.34" ry="6.68" fill="url(#gw)" opacity="0.45"/>
<ellipse cx="419.3" cy="239.64" rx="2.71" ry="10.96" fill="url(#gw)" opacity="0.4"/>
<ellipse cx="424.51" cy="241.42" rx="3.53" ry="11.71" fill="url(#gw)" opacity="0.37"/>
<ellipse cx="431" cy="235.83" rx="2.62" ry="10.74" fill="url(#gw)" opacity="0.43"/>
<ellipse cx="436.03" cy="236.44" rx="3.3" ry="9.85" fill="url(#gw)" opacity="0.41"/>
<ellipse cx="441.81" cy="243.43" rx="3.48" ry="7.96" fill="url(#gw)" opacity="0.56"/>
<ellipse cx="445.4" cy="239.6" rx="3.57" ry="11.69" fill="url(#gw)" opacity="0.54"/>
<ellipse cx="452.1" cy="244.36" rx="3.22" ry="10.08" fill="url(#gw)" opacity="0.48"/>
<ellipse cx="460.46" cy="240.93" rx="3.6" ry="8.81" fill="url(#gw)" opacity="0.43"/>
<ellipse cx="463.57" cy="232.57" rx="2.35" ry="6.7" fill="url(#gw)" opacity="0.46"/>
<ellipse cx="469.25" cy="240.71" rx="2.67" ry="7.31" fill="url(#gw)" opacity="0.54"/>
<ellipse cx="472.55" cy="241.61" rx="2.56" ry="9.1" fill="url(#gw)" opacity="0.58"/>
<ellipse cx="479.01" cy="230.18" rx="3.53" ry="8.97" fill="url(#gw)" opacity="0.42"/>
<ellipse cx="357.29" cy="246.84" rx="8.25" ry="3.35" fill="url(#gw)" opacity="0.56" transform="rotate(-3.36 357.29 246.84)"/>
<ellipse cx="375.57" cy="247.87" rx="13.19" ry="3.05" fill="url(#gw)" opacity="0.51" transform="rotate(4.7 375.57 247.87)"/>
<ellipse cx="392.38" cy="247.22" rx="11.91" ry="2.31" fill="url(#gw)" opacity="0.49" transform="rotate(-0.38 392.38 247.22)"/>
<ellipse cx="399.06" cy="247.06" rx="8.03" ry="2.68" fill="url(#gw)" opacity="0.59" transform="rotate(-0 399.06 247.06)"/>
<ellipse cx="415.82" cy="247.66" rx="13.2" ry="2.62" fill="url(#gw)" opacity="0.36" transform="rotate(4.92 415.82 247.66)"/>
<ellipse cx="430.76" cy="248.36" rx="13.67" ry="3.1" fill="url(#gw)" opacity="0.6" transform="rotate(-0.56 430.76 248.36)"/>
<ellipse cx="449.52" cy="245.31" rx="11.78" ry="2.54" fill="url(#gw)" opacity="0.55" transform="rotate(-0.3 449.52 245.31)"/>
<ellipse cx="456.78" cy="246.05" rx="11.13" ry="2.69" fill="url(#gw)" opacity="0.49" transform="rotate(-2.6 456.78 246.05)"/>
<ellipse cx="470.78" cy="248.52" rx="8.59" ry="2.49" fill="url(#gw)" opacity="0.57" transform="rotate(1.77 470.78 248.52)"/>
<ellipse cx="356.1" cy="153.19" rx="1.95" ry="75.02" fill="url(#tw)" opacity="0.12"/>
<ellipse cx="356.1" cy="197.48" rx="2.76" ry="24.29" fill="url(#gw)" opacity="0.37"/>
<ellipse cx="361.21" cy="152.42" rx="1.08" ry="66.98" fill="url(#tw)" opacity="0.22"/>
<ellipse cx="361.21" cy="191.97" rx="1.53" ry="21.69" fill="url(#gw)" opacity="0.68"/>
<ellipse cx="361.21" cy="186.1" rx="1.33" ry="10.21" fill="url(#gw)" opacity="0.35"/>
<ellipse cx="368.86" cy="152.68" rx="1.3" ry="69.66" fill="url(#tw)" opacity="0.16"/>
<ellipse cx="368.86" cy="193.81" rx="1.84" ry="22.56" fill="url(#gw)" opacity="0.49"/>
<ellipse cx="375.24" cy="153.19" rx="1.08" ry="75.02" fill="url(#tw)" opacity="0.18"/>
<ellipse cx="375.24" cy="197.48" rx="1.53" ry="24.29" fill="url(#gw)" opacity="0.55"/>
<ellipse cx="382.9" cy="152.42" rx="1.08" ry="66.98" fill="url(#tw)" opacity="0.18"/>
<ellipse cx="382.9" cy="191.97" rx="1.53" ry="21.69" fill="url(#gw)" opacity="0.55"/>
<ellipse cx="382.9" cy="219.27" rx="2.14" ry="10" fill="url(#fw)" opacity="0.75"/>
<ellipse cx="389.28" cy="153.19" rx="1.08" ry="75.02" fill="url(#tw)" opacity="0.12"/>
<ellipse cx="389.28" cy="197.48" rx="1.53" ry="24.29" fill="url(#gw)" opacity="0.37"/>
<ellipse cx="395.65" cy="153.7" rx="1.08" ry="80.38" fill="url(#tw)" opacity="0.24"/>
<ellipse cx="395.65" cy="201.16" rx="1.53" ry="26.03" fill="url(#gw)" opacity="0.74"/>
<ellipse cx="395.65" cy="223.1" rx="2.14" ry="15" fill="url(#fw)" opacity="0.85"/>
<ellipse cx="404.59" cy="152.42" rx="1.08" ry="66.98" fill="url(#tw)" opacity="0.18"/>
<ellipse cx="404.59" cy="191.97" rx="1.53" ry="21.69" fill="url(#gw)" opacity="0.55"/>
<ellipse cx="412.24" cy="152.68" rx="1.3" ry="69.66" fill="url(#tw)" opacity="0.17"/>
<ellipse cx="412.24" cy="193.81" rx="1.84" ry="22.56" fill="url(#gw)" opacity="0.52"/>
<ellipse cx="418.62" cy="152.68" rx="1.3" ry="69.66" fill="url(#tw)" opacity="0.15"/>
<ellipse cx="418.62" cy="193.81" rx="1.84" ry="22.56" fill="url(#gw)" opacity="0.47"/>
<ellipse cx="427.55" cy="153.19" rx="1.08" ry="75.02" fill="url(#tw)" opacity="0.24"/>
<ellipse cx="427.55" cy="197.48" rx="1.53" ry="24.29" fill="url(#gw)" opacity="0.74"/>
<ellipse cx="427.55" cy="182.28" rx="1.43" ry="17.86" fill="url(#fw)" opacity="0.6"/>
<ellipse cx="427.55" cy="215.45" rx="2.14" ry="8.93" fill="url(#fw)" opacity="0.7"/>
<ellipse cx="432.65" cy="212.9" rx="1.66" ry="15.31" fill="url(#gw)" opacity="0.6"/>
<ellipse cx="440.31" cy="152.93" rx="1.3" ry="72.34" fill="url(#tw)" opacity="0.16"/>
<ellipse cx="440.31" cy="195.65" rx="1.84" ry="23.42" fill="url(#gw)" opacity="0.49"/>
<ellipse cx="449.24" cy="152.17" rx="1.08" ry="64.3" fill="url(#tw)" opacity="0.22"/>
<ellipse cx="449.24" cy="190.13" rx="1.53" ry="20.82" fill="url(#gw)" opacity="0.68"/>
<ellipse cx="449.24" cy="215.45" rx="2.14" ry="7.86" fill="url(#fw)" opacity="0.8"/>
<ellipse cx="453.07" cy="152.68" rx="1.08" ry="69.66" fill="url(#tw)" opacity="0.17"/>
<ellipse cx="453.07" cy="193.81" rx="1.53" ry="22.56" fill="url(#gw)" opacity="0.52"/>
<ellipse cx="460.72" cy="150.38" rx="1.08" ry="45.55" fill="url(#tw)" opacity="0.22"/>
<ellipse cx="460.72" cy="177.27" rx="1.53" ry="14.75" fill="url(#gw)" opacity="0.68"/>
<ellipse cx="468.38" cy="152.68" rx="1.08" ry="69.66" fill="url(#tw)" opacity="0.18"/>
<ellipse cx="468.38" cy="193.81" rx="1.53" ry="22.56" fill="url(#gw)" opacity="0.55"/>
<ellipse cx="476.03" cy="152.93" rx="1.3" ry="72.34" fill="url(#tw)" opacity="0.15"/>
<ellipse cx="476.03" cy="195.65" rx="1.84" ry="23.42" fill="url(#gw)" opacity="0.47"/>
<ellipse cx="481.14" cy="152.93" rx="1.3" ry="72.34" fill="url(#tw)" opacity="0.15"/>
<ellipse cx="481.14" cy="195.65" rx="1.84" ry="23.42" fill="url(#gw)" opacity="0.47"/>
<ellipse cx="417.34" cy="239.69" rx="99.52" ry="14.03" fill="url(#gw)" opacity="0.04"/>
<ellipse cx="417.34" cy="249.13" rx="92.88" ry="2.04" fill="url(#gw)" opacity="0.16"/>
<ellipse cx="368.86" cy="230.76" rx="5.97" ry="5.61" fill="url(#gk)" opacity="0.22"/>
<ellipse cx="386.72" cy="243.52" rx="4.64" ry="3.83" fill="url(#gk)" opacity="0.22"/>
<ellipse cx="408.41" cy="233.31" rx="4.98" ry="6.38" fill="url(#gk)" opacity="0.22"/>
<ellipse cx="449.24" cy="238.41" rx="5.97" ry="6.38" fill="url(#gk)" opacity="0.24"/>
<ellipse cx="463.27" cy="233.31" rx="4.98" ry="5.61" fill="url(#gk)" opacity="0.19"/>
<ellipse cx="359.93" cy="239.69" rx="4.64" ry="3.57" fill="url(#gw)" opacity="0.4"/>
<ellipse cx="437.76" cy="238.41" rx="3.98" ry="3.83" fill="url(#gw)" opacity="0.45"/>
<ellipse cx="470.93" cy="242.24" rx="4.64" ry="3.06" fill="url(#gw)" opacity="0.35"/>
<ellipse cx="425" cy="240.96" rx="3.57" ry="4.29" fill="url(#fw)" opacity="0.6"/>
<ellipse cx="465.83" cy="235.86" rx="24.88" ry="8.93" fill="url(#gk)" opacity="0.3"/>
<ellipse cx="395.65" cy="202.69" rx="1.33" ry="33.17" fill="url(#gw)" opacity="0.5"/>
<ellipse cx="427.55" cy="189.93" rx="1.33" ry="33.17" fill="url(#gw)" opacity="0.5"/>
<ellipse cx="414.79" cy="250.66" rx="48.23" ry="1.43" fill="url(#fw)" opacity="0.75"/>
<ellipse cx="376.52" cy="239.69" rx="3.22" ry="10.72" fill="url(#fw)" opacity="0.97"/>
<ellipse cx="371.41" cy="249.38" rx="12.86" ry="1.79" fill="url(#fw)" opacity="0.88"/>
<ellipse cx="399.48" cy="246.07" rx="3.93" ry="3.93" fill="url(#fw)" opacity="0.92"/>
<ellipse cx="393.1" cy="233.31" rx="2.14" ry="6.43" fill="url(#fw)" opacity="0.7"/>
<ellipse cx="414.79" cy="242.24" rx="3.22" ry="3.93" fill="url(#fw)" opacity="0.85"/>
<ellipse cx="435.21" cy="248.87" rx="12.86" ry="1.79" fill="url(#fw)" opacity="0.9"/>
<ellipse cx="458.17" cy="249.38" rx="8.93" ry="1.79" fill="url(#fw)" opacity="0.75"/>
</g></g>
<rect x="171" y="26.5" width="6.4" height="106.1" fill="url(#cb)"/>
<rect x="171" y="146.1" width="6.4" height="106.5" fill="url(#cb)"/>
<rect x="331.4" y="26.5" width="6.2" height="106.1" fill="url(#cb)"/>
<rect x="331.4" y="146.1" width="6.2" height="106.5" fill="url(#cb)"/>
<rect x="487.6" y="26.5" width="6.6" height="106.1" fill="url(#cb)"/>
<rect x="487.6" y="146.1" width="6.6" height="106.5" fill="url(#cb)"/>
<line x1="37.4" y1="89.6" x2="483.2" y2="89.6" stroke="#fff" stroke-width="1.7" stroke-dasharray="1.9 1.48"/>
<line x1="37.4" y1="107" x2="483.2" y2="107" stroke="#fff" stroke-width="1.7" stroke-dasharray="1.9 1.48"/>
<line x1="37.4" y1="208.6" x2="483.2" y2="208.6" stroke="#fff" stroke-width="1.7" stroke-dasharray="1.9 1.48"/>
<line x1="37.4" y1="226.2" x2="483.2" y2="226.2" stroke="#fff" stroke-width="1.7" stroke-dasharray="1.9 1.48"/>
<text class="t" x="178.6" y="28.1">1</text>
<text class="t" x="178.6" y="38.71">0.9</text>
<text class="t" x="178.6" y="49.32">0.8</text>
<text class="t" x="178.6" y="59.93">0.7</text>
<text class="t" x="178.6" y="70.54">0.6</text>
<text class="t" x="178.6" y="81.15">0.5</text>
<text class="t" x="178.6" y="91.76">0.4</text>
<text class="t" x="178.6" y="102.37">0.3</text>
<text class="t" x="178.6" y="112.98">0.2</text>
<text class="t" x="178.6" y="123.59">0.1</text>
<text class="t" x="178.6" y="134.2">0</text>
<text class="t" x="178.6" y="147.7">1</text>
<text class="t" x="178.6" y="158.35">0.9</text>
<text class="t" x="178.6" y="169">0.8</text>
<text class="t" x="178.6" y="179.65">0.7</text>
<text class="t" x="178.6" y="190.3">0.6</text>
<text class="t" x="178.6" y="200.95">0.5</text>
<text class="t" x="178.6" y="211.6">0.4</text>
<text class="t" x="178.6" y="222.25">0.3</text>
<text class="t" x="178.6" y="232.9">0.2</text>
<text class="t" x="178.6" y="243.55">0.1</text>
<text class="t" x="178.6" y="254.2">0</text>
<text class="t" x="338.8" y="28.1">1</text>
<text class="t" x="338.8" y="38.71">0.9</text>
<text class="t" x="338.8" y="49.32">0.8</text>
<text class="t" x="338.8" y="59.93">0.7</text>
<text class="t" x="338.8" y="70.54">0.6</text>
<text class="t" x="338.8" y="81.15">0.5</text>
<text class="t" x="338.8" y="91.76">0.4</text>
<text class="t" x="338.8" y="102.37">0.3</text>
<text class="t" x="338.8" y="112.98">0.2</text>
<text class="t" x="338.8" y="123.59">0.1</text>
<text class="t" x="338.8" y="134.2">0</text>
<text class="t" x="338.8" y="147.7">1</text>
<text class="t" x="338.8" y="158.35">0.9</text>
<text class="t" x="338.8" y="169">0.8</text>
<text class="t" x="338.8" y="179.65">0.7</text>
<text class="t" x="338.8" y="190.3">0.6</text>
<text class="t" x="338.8" y="200.95">0.5</text>
<text class="t" x="338.8" y="211.6">0.4</text>
<text class="t" x="338.8" y="222.25">0.3</text>
<text class="t" x="338.8" y="232.9">0.2</text>
<text class="t" x="338.8" y="243.55">0.1</text>
<text class="t" x="338.8" y="254.2">0</text>
<text class="t" x="495.4" y="28.1">1</text>
<text class="t" x="495.4" y="38.71">0.9</text>
<text class="t" x="495.4" y="49.32">0.8</text>
<text class="t" x="495.4" y="59.93">0.7</text>
<text class="t" x="495.4" y="70.54">0.6</text>
<text class="t" x="495.4" y="81.15">0.5</text>
<text class="t" x="495.4" y="91.76">0.4</text>
<text class="t" x="495.4" y="102.37">0.3</text>
<text class="t" x="495.4" y="112.98">0.2</text>
<text class="t" x="495.4" y="123.59">0.1</text>
<text class="t" x="495.4" y="134.2">0</text>
<text class="t" x="495.4" y="147.7">1</text>
<text class="t" x="495.4" y="158.35">0.9</text>
<text class="t" x="495.4" y="169">0.8</text>
<text class="t" x="495.4" y="179.65">0.7</text>
<text class="t" x="495.4" y="190.3">0.6</text>
<text class="t" x="495.4" y="200.95">0.5</text>
<text class="t" x="495.4" y="211.6">0.4</text>
<text class="t" x="495.4" y="222.25">0.3</text>
<text class="t" x="495.4" y="232.9">0.2</text>
<text class="t" x="495.4" y="243.55">0.1</text>
<text class="t" x="495.4" y="254.2">0</text>
<text class="t" x="35.8" y="28.1" text-anchor="end">30</text>
<text class="t" x="35.8" y="45.88" text-anchor="end">25</text>
<text class="t" x="35.8" y="63.67" text-anchor="end">20</text>
<text class="t" x="35.8" y="81.45" text-anchor="end">15</text>
<text class="t" x="35.8" y="99.23" text-anchor="end">10</text>
<text class="t" x="35.8" y="117.02" text-anchor="end">5</text>
<text class="t" x="38" y="137.6" text-anchor="middle">0</text>
<text class="t" x="63.4" y="137.6" text-anchor="middle">1000</text>
<text class="t" x="88.8" y="137.6" text-anchor="middle">2000</text>
<text class="t" x="114.2" y="137.6" text-anchor="middle">3000</text>
<text class="t" x="139.6" y="137.6" text-anchor="middle">4000</text>
<text class="t" x="165" y="137.6" text-anchor="middle">5000</text>
<text class="t" x="193.2" y="28.1" text-anchor="end">30</text>
<text class="t" x="193.2" y="45.88" text-anchor="end">25</text>
<text class="t" x="193.2" y="63.67" text-anchor="end">20</text>
<text class="t" x="193.2" y="81.45" text-anchor="end">15</text>
<text class="t" x="193.2" y="99.23" text-anchor="end">10</text>
<text class="t" x="193.2" y="117.02" text-anchor="end">5</text>
<text class="t" x="195.4" y="137.6" text-anchor="middle">0</text>
<text class="t" x="221.22" y="137.6" text-anchor="middle">1000</text>
<text class="t" x="247.04" y="137.6" text-anchor="middle">2000</text>
<text class="t" x="272.86" y="137.6" text-anchor="middle">3000</text>
<text class="t" x="298.68" y="137.6" text-anchor="middle">4000</text>
<text class="t" x="324.5" y="137.6" text-anchor="middle">5000</text>
<text class="t" x="352.1" y="28.1" text-anchor="end">30</text>
<text class="t" x="352.1" y="45.88" text-anchor="end">25</text>
<text class="t" x="352.1" y="63.67" text-anchor="end">20</text>
<text class="t" x="352.1" y="81.45" text-anchor="end">15</text>
<text class="t" x="352.1" y="99.23" text-anchor="end">10</text>
<text class="t" x="352.1" y="117.02" text-anchor="end">5</text>
<text class="t" x="354.3" y="137.6" text-anchor="middle">0</text>
<text class="t" x="379.88" y="137.6" text-anchor="middle">1000</text>
<text class="t" x="405.46" y="137.6" text-anchor="middle">2000</text>
<text class="t" x="431.04" y="137.6" text-anchor="middle">3000</text>
<text class="t" x="456.62" y="137.6" text-anchor="middle">4000</text>
<text class="t" x="482.2" y="137.6" text-anchor="middle">5000</text>
<text class="t" x="35.8" y="147.8" text-anchor="end">30</text>
<text class="t" x="35.8" y="165.63" text-anchor="end">25</text>
<text class="t" x="35.8" y="183.47" text-anchor="end">20</text>
<text class="t" x="35.8" y="201.3" text-anchor="end">15</text>
<text class="t" x="35.8" y="219.13" text-anchor="end">10</text>
<text class="t" x="35.8" y="236.97" text-anchor="end">5</text>
<text class="t" x="38" y="257.6" text-anchor="middle">0</text>
<text class="t" x="63.4" y="257.6" text-anchor="middle">1000</text>
<text class="t" x="88.8" y="257.6" text-anchor="middle">2000</text>
<text class="t" x="114.2" y="257.6" text-anchor="middle">3000</text>
<text class="t" x="139.6" y="257.6" text-anchor="middle">4000</text>
<text class="t" x="165" y="257.6" text-anchor="middle">5000</text>
<text class="t" x="193.2" y="147.8" text-anchor="end">30</text>
<text class="t" x="193.2" y="165.63" text-anchor="end">25</text>
<text class="t" x="193.2" y="183.47" text-anchor="end">20</text>
<text class="t" x="193.2" y="201.3" text-anchor="end">15</text>
<text class="t" x="193.2" y="219.13" text-anchor="end">10</text>
<text class="t" x="193.2" y="236.97" text-anchor="end">5</text>
<text class="t" x="195.4" y="257.6" text-anchor="middle">0</text>
<text class="t" x="221.22" y="257.6" text-anchor="middle">1000</text>
<text class="t" x="247.04" y="257.6" text-anchor="middle">2000</text>
<text class="t" x="272.86" y="257.6" text-anchor="middle">3000</text>
<text class="t" x="298.68" y="257.6" text-anchor="middle">4000</text>
<text class="t" x="324.5" y="257.6" text-anchor="middle">5000</text>
<text class="t" x="352.1" y="147.8" text-anchor="end">30</text>
<text class="t" x="352.1" y="165.63" text-anchor="end">25</text>
<text class="t" x="352.1" y="183.47" text-anchor="end">20</text>
<text class="t" x="352.1" y="201.3" text-anchor="end">15</text>
<text class="t" x="352.1" y="219.13" text-anchor="end">10</text>
<text class="t" x="352.1" y="236.97" text-anchor="end">5</text>
<text class="t" x="354.3" y="257.6" text-anchor="middle">0</text>
<text class="t" x="379.88" y="257.6" text-anchor="middle">1000</text>
<text class="t" x="405.46" y="257.6" text-anchor="middle">2000</text>
<text class="t" x="431.04" y="257.6" text-anchor="middle">3000</text>
<text class="t" x="456.62" y="257.6" text-anchor="middle">4000</text>
<text class="t" x="482.2" y="257.6" text-anchor="middle">5000</text>
<text class="b" x="77.4" y="19.6" font-size="14.6" textLength="63.5" lengthAdjust="spacingAndGlyphs">Session 1</text>
<text class="b" x="235.1" y="19.6" font-size="14.6" textLength="63.5" lengthAdjust="spacingAndGlyphs">Session 3</text>
<text class="b" x="392.7" y="19.6" font-size="14.6" textLength="63.5" lengthAdjust="spacingAndGlyphs">Session 5</text>
<g transform="translate(505.6 49.5) rotate(90)">
<text class="b" x="0" y="0" font-size="14.6" textLength="63.2" lengthAdjust="spacingAndGlyphs">Sham-NF</text>
</g>
<g transform="translate(506.4 186.9) rotate(90)">
<text class="b" x="0" y="0" font-size="14.6" textLength="18.8" lengthAdjust="spacingAndGlyphs">NF</text>
</g>
<path d="M29.9 272V187" stroke="#111" stroke-width="1.3" fill="none"/>
<path d="M29.9 183.6l-3 6.4h6z" fill="#111"/>
<path d="M19.3 261.5H104.5" stroke="#111" stroke-width="1.2" fill="none"/>
<path d="M107.6 261.5l-3.6-2v4z" fill="#111"/>
<g transform="translate(23.4 248.2) rotate(-90)">
<text class="b" x="0" y="0" font-size="13.6" textLength="118" lengthAdjust="spacingAndGlyphs">Frequency (0-50 Hz)</text>
</g>
<text class="b" x="40.7" y="274.6" font-size="12.8" textLength="81" lengthAdjust="spacingAndGlyphs">Time (0-10 s)</text>
<text class="s" x="257.6" y="292.4" font-size="16.5" textLength="16.8" lengthAdjust="spacingAndGlyphs">(a)</text>
<line x1="59.2" y1="313.7" x2="452.4" y2="313.7" stroke="#333" stroke-width="1.1"/>
<text class="b" x="93.1" y="312" font-size="12.6" textLength="56.3" lengthAdjust="spacingAndGlyphs">Session 1</text>
<text class="b" x="226" y="312" font-size="12.6" textLength="56.3" lengthAdjust="spacingAndGlyphs">Session 3</text>
<text class="b" x="362.7" y="312" font-size="12.6" textLength="56.3" lengthAdjust="spacingAndGlyphs">Session 5</text>
<g clip-path="url(#ct0)">
<ellipse cx="114.8" cy="368.8" rx="51.8" ry="50.4" fill="rgb(0,0,147)"/>
<path fill="rgb(0,0,186)" fill-rule="evenodd" d="M120.1 419.5l-10.5 0l-0.5-0.5l-3 0l-0.5-0.6l-2 0l-0.5-0.5l-2 0l-0.5-0.5l-1 0l-0.5-0.5l-2.5-0.5l-0.5-0.5l-1 0l-2.5-1.5l-5.5-2.4l-2.5-2l-0.5 0l-1.5-1.5l-0.5 0l-4.5-4l-4.6-5.1l0-0.5l-3-4l-0.5-1.5l-1-1l-1-2.5l-0.5-0.5l0-1l-1-1.5l-0.5-2.5l-0.5-0.5l0-1l-0.5-0.5l0-1l-0.5-0.5l0-2l-0.5-0.5l0-2.5l-0.5-0.5l0-13.5l0.5-0.5l0-2.5l0.5-0.5l0-1.5l0.5-0.5l0-1.5l0.5-0.5l0-1l0.5-0.5l0-1l1-1.5l0-1l1.5-2.5l1.5-3.5l1-1l0-0.5l1-1l0-0.5l1-1l-0.1-0.5l2-2l0-0.5l6.2-6.2l0.5 0l2-2l0.5 0l2.5-2l0.5 0l1-1l3.5-1.5l3.5-2l1 0l0.5-0.5l1 0l0.5-0.5l1 0l0.5-0.5l1 0l0.5-0.5l3.5-0.5l0.5-0.5l2.5 0l0.5-0.5l14.5 0l0.5 0.5l2.5 0l0.5 0.5l1.5 0l0.5 0.5l1.5 0l0.5 0.5l1 0l0.5 0.5l2.5 0.5l0.5 0.5l1 0l2.5 1.5l4.5 2l2.5 2l0.5 0l1 1l0.5 0l2 2l0.5 0l6.2 6.2l0 0.5l2 2l0 0.5l3 4l2.5 5.5l0.5 0.5l0 1l1 1.5l0.4 2.5l0.5 0.5l0 1.5l0.5 0.5l0 1.5l0.5 0.5l0 2.5l0.5 0.5l0 13.5l-0.5 0.5l0 2.5l-0.5 0.5l0 2l-0.5 0.5l0 1l-0.5 0.5l0 1l-0.5 0.5l-0.5 2.5l-1 1.5l0 1l-0.5 0.5l-1 2.5l-1 1l-0.5 1.5l-1 1l0 0.5l-1 1l0 0.5l-1 1l0 0.5l-6.1 6.6l-0.5 0l-2.5 2.5l-0.5 0l-1.5 1.5l-0.5 0l-1 1l-0.5 0l-1 1l-3.5 1.5l-4.5 2.5l-1 0l-0.5 0.5l-1 0l-0.5 0.5l-1 0l-0.5 0.5l-1 0l-0.5 0.5l-2 0l-0.5 0.5l-2 0l-0.5 0.5l-3 0zM149.7 364.9l6.9-3.6l1.1-1.4l0-2l-0.8-2l-1.8-2.4l-1.5-1.1l-1-0.1l-0.5 0.4l-2.5 4.7l-3.6 3l-0.5 1l0.2 1.5l1 1.5l1.4 0.7zM89.2 364.9l1.4-1.4l1.5-2.6l0.9-2.5l0.2-2l-0.3-1.5l-0.8-1.2l-1.4-0.8l-1.6-0.3l-2 0.4l-2.5 1.9l-1.5 2l-0.3 1.5l0.8 2.6l2 2.9l2 1.4z"/>
<path fill="rgb(0,0,226)" fill-rule="evenodd" d="M120.1 419.5l-10.5-0.1l-0.5-0.5l-3 0l-0.5-0.5l-2 0l-0.5-0.5l-2 0l-0.5-0.5l-1 0l-0.5-0.5l-2.5-0.5l-0.5-0.5l-1 0l-2.5-1.5l-5.5-2.5l-2.5-2l-0.5 0l-1.5-1.5l-0.5 0l-4.5-4l-1.5-1.5l0-0.5l-3-3l-0.1-0.5l-3-4l-0.5-1.5l-1-1l-1-2.5l-0.5-0.5l0-1l-1-1.5l-0.5-2.5l-0.5-0.5l0-1l-0.5-0.5l0-1l-0.5-0.5l0-2l-0.5-0.5l0-2.5l-0.5-0.5l0-13.5l0.5-0.5l0-2.5l0.5-0.5l0-1.5l0.5-0.5l0-1.5l0.5-0.5l0-1l0.5-0.5l0-1l1-1.5l0-1l1.5-2.5l1.5-3.5l1-1l0-0.5l1-1l0-0.5l1-1l0-0.5l2-2l0-0.5l6.1-6.2l0.5 0l2-2l0.5 0l2.5-2l0.5 0l1-1l3.5-1.5l3.5-2l1 0l0.5-0.5l1 0l0.5-0.5l1 0l0.5-0.5l1 0l0.5-0.5l3.5-0.5l0.5-0.5l2.5 0l0.5-0.5l14.5 0l0.5 0.5l2.5 0l0.5 0.5l1.5 0l0.5 0.5l1.5 0l0.5 0.5l1 0l0.5 0.5l2.5 0.5l0.5 0.5l1 0l2.5 1.5l4.5 2l2.5 2l0.5 0l1 1l0.5 0l2 2l0.5 0l6.2 6.2l0 0.5l2 2l0 0.5l3 4l2.5 5.5l0.5 0.5l0 1l0.9 1.5l0.5 2.5l0.5 0.5l0 1.5l0.5 0.5l0 1.5l0.5 0.5l-0.1 2.5l0.6 0.5l-0.1 13.5l-0.5 0.5l0 2.5l-0.5 0.5l0.1 2l-0.6 0.5l0.1 1l-0.5 0.5l0 1l-0.5 0.5l-0.5 2.5l-1 1.5l0 1l-0.5 0.5l-1 2.5l-1 1l-0.5 1.5l-1 1l0 0.5l-1 1l0 0.5l-1 1l0 0.5l-6.1 6.6l-0.5 0l-2.5 2.5l-0.5 0l-1.5 1.5l-0.5 0l-1 1l-0.5 0l-1 1l-3.5 1.5l-4.5 2.5l-1 0l-0.5 0.5l-1 0l-0.5 0.5l-1 0l-0.5 0.5l-1 0l-0.5 0.5l-2 0l-0.5 0.5l-2 0l-0.5 0.5l-3 0zM89.2 369.4l2.4-1.3l2-2.5l1.7-4.2l0.7-4.5l-0.4-2.5l-1.2-2l-1.8-1.1l-3.5-0.5l-2.7 0.6l-3.7 2.5l-2 2.5l-0.5 2.5l1.2 5l1.9 3.5l1.3 1.1l1.5 0.8zM149.5 369.4l2.1-1.1l3.5-2.9l4-2l0.9-1l0.3-1l-0.5-2.5l-2.1-3.5l-2.2-2.5l-2.4-1.3l-1.2 0.3l-2.3 3.8l-2 1.7l-2.5 0.7l-4-0.2l-0.5 0.5l0.6 2l3.9 7.6l2 1.4z"/>
<path fill="rgb(0,10,255)" fill-rule="evenodd" d="M120.1 419.4l-10.5 0l-0.5-0.5l-3 0l-0.5-0.5l-2 0l-0.5-0.5l-2 0l-0.5-0.5l-1 0l-0.5-0.5l-2.5-0.5l-0.5-0.5l-1 0l-2.5-1.5l-5.5-2.5l-2.5-2l-0.5 0l-1.5-1.5l-0.5 0l-4.5-4l-1.5-1.5l0-0.5l-3-3l0-0.5l-3-4l-0.5-1.5l-1-1l-1-2.5l-0.5-0.5l0-1l-1-1.5l-0.5-2.5l-0.5-0.5l0-1l-0.5-0.5l0-1l-0.5-0.5l0-2l-0.5-0.5l0-2.5l-0.5-0.5l-0.1-13.5l0.5-0.5l0-2.5l0.5-0.5l0-1.5l0.5-0.5l0-1.5l0.5-0.5l0-1l0.5-0.5l0-1l1-1.5l0-1l1.5-2.5l1.5-3.5l1-1l0-0.5l1-1l0-0.5l1-1l0-0.5l2-2l0-0.5l6.1-6.2l0.5 0l2-2l0.5 0l2.5-2l0.5 0l1-1l3.5-1.5l3.5-2l1 0l0.5-0.5l1 0l0.5-0.5l1 0l0.5-0.5l1 0l0.5-0.5l3.5-0.5l0.5-0.5l2.5 0l0.5-0.5l14.5 0l0.5 0.5l2.5 0l0.5 0.5l1.5 0l0.5 0.5l1.5 0l0.5 0.5l1 0l0.5 0.5l2.5 0.5l0.5 0.5l1 0l2.5 1.5l4.5 2l1 1l0.5 0l2.5 2l0.5 0l2 2l0.5 0l6.2 6.2l0 0.5l2 2l0 0.5l3 4l2.5 5.5l0.5 0.5l-0.1 1l1 1.5l0.5 2.5l0.5 0.5l0 1.5l0.5 0.5l0 1.5l0.5 0.5l-0.1 2.5l0.5 0.5l0 13.5l-0.5 0.5l0 2.5l-0.5 0.5l0 2l-0.5 0.5l0 1l-0.5 0.5l0 1l-0.5 0.5l-0.5 2.5l-1 1.5l0 1l-0.5 0.5l-1 2.5l-1 1l-0.5 1.5l-1 1l0 0.5l-1 1l0 0.5l-1 1l0 0.5l-6 6.5l-0.5 0l-2.5 2.5l-0.5 0l-1.5 1.5l-0.5 0l-1 1l-0.5 0l-1 1l-3.5 1.5l-4.5 2.5l-1 0l-0.5 0.5l-1 0l-0.5 0.5l-1 0l-0.5 0.5l-1 0l-0.5 0.5l-2 0l-0.5 0.5l-2 0l-0.5 0.5l-3 0zM90.1 372.4l3-1.5l1.5-1.6l1.2-1.9l1.7-5.5l0.5-5l-0.7-3.5l-1.7-2.5l-2.5-1l-4-0.3l-2 0.3l-2 0.7l-4.5 3l-1.4 1.8l-0.8 1.5l-0.5 3.5l1.3 6.5l0.9 2l1.3 1.5l1.7 1.3l2 0.8l2.5 0.2zM149.8 374.4l2.8-1.2l4.5-4l4-2.3l1.2-1.5l0.5-2l-0.2-2.5l-1.4-2.5l-4.8-5.5l-1.8-1.3l-1.5-0.5l-1.5 0.5l-2.5 3.5l-2 1.3l-3 0.3l-4-1.5l-1.5 0.5l-0.8 1.2l0.3 2.1l2.7 4.9l3.3 8.1l1 1.3l1.5 1l1.5 0.3zM103.8 409.4l1.9-2l0.5-1.5l0-1.5l-1.1-2.1l-1-0.7l-1.5-0.1l-1.5 0.8l-0.8 1.1l-0.5 1.5l0 2l0.4 1.5l0.9 1l1.5 0.4z"/>
<path fill="rgb(0,49,255)" fill-rule="evenodd" d="M120.1 419.4l-10.5 0l-0.5-0.5l-3 0l-0.4-0.5l4.1-9l0.5-2.5l0-2.5l-0.6-2.5l-1.6-2.5l-2-1.7l-2-0.8l-2-0.2l-1.5 0.3l-2.5 1.7l-1 1.7l-1.7 4.5l-1.8 3.6l-3.4 4.9l-3.1-1.5l-2.5-2l-0.5 0l-1.5-1.5l-0.5 0l-4.5-4l-1.5-1.5l0-0.5l-3-3l0-0.5l-3-4l-0.5-1.5l-1-1l-1-2.5l-0.5-0.5l0-1l-1-1.5l-0.5-2.5l-0.5-0.5l0-1l-0.5-0.5l0-1l-0.5-0.5l0-2l-0.5-0.5l0-2.5l-0.5-0.5l0-13.5l0.5-0.5l-0.1-2.5l0.5-0.5l0-1.5l0.5-0.5l0-1.5l0.5-0.5l0-1l0.5-0.5l0-1l1-1.5l0-1l1.5-2.5l1.5-3.5l1-1l0-0.5l1-1l0-0.5l1-1l0-0.5l2-2l0-0.5l6.1-6.1l0.5 0l2-2.1l0.5 0l2.5-2l0.5 0l1-1l3.5-1.5l3.5-2l1 0l0.5-0.5l1 0l0.5-0.5l1 0l0.5-0.5l1 0l0.5-0.5l3.5-0.5l0.5-0.5l2.5 0l0.5-0.5l14.5 0l0.5 0.5l2.5 0l0.5 0.5l1.5 0l0.5 0.5l1.5 0l0.5 0.5l1 0l0.5 0.5l2.5 0.5l0.5 0.5l1 0l2.5 1.5l4.5 2l1 1l0.5 0l2.5 2l0.5 0l2 2l0.5 0l6.2 6.2l0 0.5l2 2l0 0.5l1 1l0 0.5l1 1l0 0.5l1 1l2.5 5.5l0.5 0.5l-0.1 1l1 1.5l0.5 2.5l0.5 0.5l0 1.5l0.5 0.5l-0.1 1.5l0.5 0.5l0 2.5l0.5 0.5l0 13.5l-0.5 0.5l0 2.5l-0.5 0.5l0 2l-0.5 0.5l0 1l-0.5 0.5l0 1l-0.5 0.5l-0.5 2.5l-1 1.5l0 1l-0.5 0.5l-1 2.5l-1 1l-0.5 1.5l-1 1l0 0.5l-1 1l0 0.5l-1 1l0 0.5l-6 6.5l-0.5 0l-2.5 2.5l-0.5 0l-1.5 1.5l-0.5 0l-1 1l-0.5 0l-1 1l-3.5 1.5l-4.5 2.5l-1 0l-0.5 0.5l-1 0l-0.5 0.5l-1 0l-0.5 0.5l-1 0l-0.5 0.5l-2 0l-0.5 0.5l-2 0l-0.5 0.5l-3 0zM90.1 376.4l3.5-1.7l3-3.3l1.8-4l1.1-5l0.1-5.5l-1-4.5l-0.8-1.5l-1.2-1.2l-3-1l-4-0.2l-2.9 0.4l-2.7 1l-3.4 1.9l-2 1.6l-1.5 2l-1.1 2.5l-0.7 3l-0.3 5l0.3 2.5l1.1 2.5l1.5 2l2.7 2.2l3 1.4l3 0.4zM147.1 381.9l8.5-3.3l4.5-2.6l3-3.2l1.8-4.4l0.2-4.5l-0.6-2.5l-0.9-2l-6.4-6.5l-2-1.5l-1.6-0.7l-1 0l-1 0.4l-2.5 3.2l-2 1.3l-2.5 0.2l-4-1.4l-1.5-0.2l-1.9 0.7l-1 1.5l0.1 2.5l2.8 5l0.9 2.5l0.6 3.5l0.5 7.7l0.5 2.1l1 1.5l1 0.7l1.5 0.3z"/>
<path fill="rgb(0,88,255)" fill-rule="evenodd" d="M120.1 419.4l-6.6 0l0-5l1.7-7.5l-0.5-4l-1.4-3l-2.7-3.6l-3-2.6l-3-1.5l-5-1.2l-4 0.4l-1.5 0.7l-1.5 1.2l-4 5.8l-3 2.2l-2.5 0.9l-2.5 0.4l-3.5-0.2l-1.5-0.5l-2.5-2.5l0-0.5l-3-4l-0.5-1.5l-1-1l-1-2.5l-0.5-0.5l0-1l-1-1.5l-0.5-2.5l-0.5-0.5l0-1l-0.5-0.5l0-1l-0.5-0.5l0-2l-0.5-0.5l0-2.5l-0.5-0.5l0-13.5l0.5-0.5l0-2.5l0.5-0.5l0-1.5l0.5-0.5l0-1.5l0.5-0.5l-0.1-1l0.5-0.5l0-1l1-1.5l0-1l1.5-2.5l1.5-3.5l1-1l0-0.5l1-1l0-0.5l1-1l0-0.5l2-2l0-0.5l6.1-6.1l0.5 0l2-2l0.5 0l2.5-2l0.5 0l1-1l3.5-1.6l3.5-2l1 0l0.5-0.5l1 0l0.5-0.5l1 0l0.5-0.5l1 0l0.5-0.5l3.5-0.5l0.5-0.5l2.5 0l0.5-0.5l14.5 0l0.5 0.5l2.5 0l0.5 0.5l1.5 0l0.5 0.5l1.5 0l0.5 0.5l1 0l0.5 0.5l2.5 0.5l0.5 0.5l1 0l2.5 1.5l4.5 2l1 1l0.5 0l2.5 2l0.5 0l2 2l0.5 0l6.2 6.2l0 0.5l2 2l0 0.5l1 1l0 0.5l1 1l0 0.5l1 1l2.4 5.5l0.5 0.5l0 1l1 1.5l0.5 2.5l0.5 0.5l-0.1 1.5l0.5 0.5l0 1.5l0.5 0.5l0 2.6l-1.2-2.1l-1.8-2l-6.4-5.5l-3.1-1.5l-2 0.3l-3 3.3l-2 1l-2 0l-4-1.4l-2-0.2l-2 0.4l-1.4 1.1l-0.7 1.5l0.2 2l0.7 2l2.4 4l0.7 3.5l-0.4 3.5l-2.1 8l-2 11.5l0.3 4l0.8 1.8l1 1.1l1 0.6l1.5 0.2l3-1l11.5-7.9l8-4.9l2.5-2.4l2-2.9l0 1.4l-0.5 0.5l0 1l-0.5 0.5l0 1l-0.5 0.5l-0.5 2.5l-1 1.5l0 1l-0.5 0.5l-1 2.5l-1 1l-0.5 1.5l-1 1l0 0.5l-1 1l0 0.5l-1 1l0 0.5l-6 6.5l-0.5 0l-2.5 2.5l-0.5 0l-1.5 1.5l-0.5 0l-1 1l-0.5 0l-1 1l-3.5 1.5l-4.5 2.5l-1 0l-0.5 0.5l-1 0l-0.5 0.5l-1 0l-0.5 0.5l-1 0l-0.5 0.5l-2 0l-0.5 0.5l-2 0l-0.5 0.5l-3 0zM89.2 383.9l1.9-1l2-1.5l3.5-3.9l2.7-5.1l1.6-5.5l0.3-8l-1.1-6.4l-1-2.1l-1-1.2l-1.5-1l-2-0.6l-5 0l-4 0.6l-4.5 1.8l-3.5 2.2l-1.6 1.7l-1.7 2.5l-3.2 7l-3.1 5.5l-0.4 1.5l0.2 2l1.2 2l4.6 3.2l5.5 4.6l3 1.4l2.5 0.7l2.5 0.1zM166.6 362.7l-0.3-0.8l0.3 0z"/>
<path fill="rgb(0,128,255)" fill-rule="evenodd" d="M121.1 396.4l-2.5-0.1l-2.5-1.2l-4.9-4.7l-7.6-4.7l-2.2-2.8l-0.5-2l0-2l2.1-11.5l-0.4-8.5l-0.8-4.5l-1-3.5l-1.3-2l-1.9-1.5l-3.5-0.8l-7 0.3l-3.5 0.8l-5.3 2.2l-3.8 3l-5.9 7.8l-5.5 5.2l0-4l0.5-0.5l0-2.5l0.5-0.5l0-1.5l0.5-0.5l0-1.5l0.5-0.5l0-1l0.5-0.5l0-1l1-1.5l0-1l1.4-2.5l1.5-3.5l1-1l0-0.5l1-1l0-0.5l1-1l0-0.5l2-2l0-0.5l6.1-6.1l0.5 0l2-2l0.5 0l2.5-2l0.5 0l1-1l3.5-1.5l3.5-2.1l1 0l0.5-0.5l1 0l0.5-0.5l1 0l0.5-0.5l1 0l0.5-0.5l3.5-0.5l0.5-0.5l2.5 0l0.5-0.5l14.5 0l0.5 0.5l2.5 0l0.5 0.5l3.5 0.5l0.5 0.5l1 0l0.5 0.5l2.5 0.5l0.5 0.5l1 0l2.5 1.5l4.5 2l1 1l0.5 0l2.5 2l0.5 0l2 2l0.5 0l6.2 6.2l0 0.5l2 2l0 0.5l1 1l0 0.5l2 2.5l2.4 5.5l0.5 0.5l0 1l1 1.5l0.5 2.5l0.4 0.5l0 1.5l0.5 0.5l0 1.8l-8.2-6.8l-2.3-1.4l-1.5-0.5l-2.2 0.4l-2.8 3l-2 0.9l-2 0l-4-1.4l-2.5-0.4l-2.5 0.4l-1.5 0.9l-0.9 1.6l-0.1 2.5l0.8 2.5l2.7 5l0.1 2l-0.5 2l-3.5 7l-2.4 7l-2.2 4.5l-4 6.4l-1.5 1.4zM166.1 359.4l-0.4-0.5l0.4 0z"/>
<path fill="rgb(0,167,255)" fill-rule="evenodd" d="M121.1 386l-2 0l-8.5-1.6l-3-1.6l-2-2.3l-0.9-3.1l0.4-9.5l-1.6-11l-1.2-5l-1-2.5l-1.2-1.6l-2-1.4l-3.5-0.8l-7.5 0.4l-3 0.5l-5.5 1.7l-4.7 2.7l-5.8 6.1l-4.5 3.5l0-1.6l0.5-0.5l0-1.5l0.5-0.5l0-1.5l0.5-0.5l0-1l0.5-0.5l0-1l1-1.5l0-1l1.5-2.5l1.4-3.5l1-1l0-0.5l1-1l0-0.5l1-1l0-0.5l2-2l0-0.5l6.1-6.1l0.5 0l2-2l0.5 0l2.5-2l0.5 0l1-1l3.5-1.5l3.5-2l1 0l0.5-0.6l1 0l0.5-0.5l1 0l0.5-0.5l1 0l0.5-0.5l3.5-0.5l0.5-0.5l2.5 0l0.5-0.5l14.5 0l0.5 0.5l2.5 0l0.5 0.5l1.5 0l0.5 0.5l1.5 0l0.5 0.5l1 0l0.5 0.5l2.5 0.5l0.5 0.5l1 0l2.5 1.5l4.5 2l1 1l0.5 0l2.5 2l0.5 0l2 2l0.5 0l6.2 6.2l0 0.5l2 2l0 0.5l1 1l0 0.5l2 2.5l2.4 5.5l0.5 0.5l0 1l1 1.5l0 1l0.5 0.5l-0.1 1l0.5 0.5l0 1.5l0.5 0.5l0 0.6l-8.1-6.1l-1.9-1.1l-2-0.6l-1.5 0l-1 0.5l-2.5 2.6l-2 1l-2-0.1l-4.5-1.6l-2.5-0.4l-3 0.2l-1.8 1l-1.1 2l-0.1 2.5l0.7 3l2.3 5l-0.3 2.5l-1.2 2.3l-3.1 4.2l-1.9 5.1l-1.5 2.8l-2.5 2.5z"/>
<path fill="rgb(0,206,255)" fill-rule="evenodd" d="M121.1 381.9l-3 0.2l-5.5-0.9l-2.5-1.2l-1.5-1.6l-0.9-2.5l-0.5-8l-4.1-16.7l-1.5-3.3l-1.4-1.5l-1.6-1l-2-0.6l-2-0.2l-8 0.4l-8.5 1.8l-2.8 1.1l-2.5 1.5l-8.2 6.5l0-1l0.5-0.5l0-1l0.5-0.5l0-1l1-1.5l0-1l1.5-2.5l1.5-3.5l1-1l0-0.5l0.9-1l0-0.5l1-1l0-0.5l2-2l0-0.5l6.1-6.1l0.5 0l2-2l0.5 0l2.5-2l0.5 0l1-1l3.5-1.5l3.5-2l1 0l0.5-0.5l1 0l0.5-0.5l1 0l0.5-0.5l1-0.1l0.5-0.5l3.5-0.5l0.5-0.5l2.5 0l0.5-0.5l14.5 0l0.5 0.5l2.5 0l0.5 0.5l3.5 0.5l0.5 0.5l1 0l0.5 0.5l2.5 0.5l0.5 0.5l1 0l2.5 1.5l4.5 2l1 1l0.5 0l1 1l0.5 0l1 1l0.5 0l2 2l0.5 0l6.2 6.2l0 0.5l2 2l0 0.5l1 1l0 0.5l2 2.5l2.4 5.5l0.5 0.5l0 1l1 1.5l0.4 2.5l0.5 0.5l0 1.2l-8-5.4l-3.5-1.4l-2.5 0.5l-2.5 2.5l-2 0.9l-2-0.1l-5-1.8l-3-0.6l-3 0.1l-2.1 1.1l-1.2 2l-0.3 2.5l0.5 3l1.4 5l0 2.5l-1 2l-3.1 4l-2.7 6.2l-1.7 1.8z"/>
<path fill="rgb(0,245,255)" fill-rule="evenodd" d="M120.6 379l-2.5 0.1l-3-0.5l-2.5-1.2l-1.4-1.5l-0.6-1.9l-0.9-5.1l-2.7-7l-3.5-12.5l-1.7-3l-2.7-2l-2.5-0.8l-2.5-0.1l-9.5 0.6l-6 0.9l-5.5 1.9l-7 4.5l0.5-1l0-1l1.5-2.5l1.5-3.5l1-1l0-0.5l1-1l0-0.5l1-1l0-0.5l5.4-6l5.1-4.6l0.5 0l2.5-2l0.5 0l1-1l3.5-1.5l3.5-2l1 0l0.5-0.5l1 0l0.5-0.5l1 0l0.5-0.5l1 0l0.5-0.5l3.5-0.5l0.5-0.5l2.5 0l0.5-0.6l14.5 0l0.5 0.5l2.5 0l0.5 0.5l1.5 0l0.5 0.5l1.5 0l0.5 0.5l1 0l0.5 0.5l2.5 0.5l0.5 0.5l1 0l2.5 1.5l4.5 2l1 1l0.5 0l2.5 2l0.5 0l2 2l0.5 0l6.2 6.2l0 0.5l2 2l0 0.5l1 1l0 0.5l2 2.5l2.4 5.5l0.5 0.5l0 1l1 1.5l-0.1 1l0.5 0.5l0 1l0.5 0.9l-7.8-4.9l-3.2-1.3l-1.5-0.1l-1.4 0.4l-3.1 2.8l-2 0.5l-2-0.3l-4.5-1.8l-3.5-0.8l-3-0.3l-2 0.6l-1.8 1.8l-0.7 2.5l0.1 3l1.1 6.5l-0.3 2.5l-3.7 6l-2.2 4.5l-1.5 1.5z"/>
<path fill="rgb(29,255,226)" fill-rule="evenodd" d="M118.6 375.9l-3-0.9l-1.9-2.1l-2-5l-3.7-6.5l-4.3-14l-1.6-2.3l-2-1.5l-2.5-0.9l-2.5-0.3l-5 0.5l-5.5-0.1l-4.5 0.4l-6 1.2l-6 2.7l0-0.7l1-1.5l0.5-1.5l1-1l0-0.5l1-1l0-0.5l1-1l0-0.5l2-2l0-0.5l6-6.1l0.5 0l2-2l0.5 0l2.5-2l0.5 0l1-1l3.5-1.5l3.5-2l1 0l0.5-0.5l1 0l0.5-0.5l1 0l0.5-0.5l1 0l0.5-0.5l3.5-0.5l0.5-0.5l2.5 0l0.5-0.5l14.5 0l0.5 0.5l2.5 0l0.5 0.5l1.5 0l0.5 0.5l1.5 0l0.5 0.5l1 0l0.5 0.5l2.5 0.5l0.5 0.5l1-0.1l2.5 1.5l4.5 2l2.5 2l0.5 0l1 1l0.5 0l2 2l0.5 0l6.2 6.2l0 0.5l2 2l0 0.5l3 4l2.4 5.5l0.5 0.5l0 1l0.9 1.5l0.5 2.3l-7.4-4.3l-3.1-1.2l-1.5 0l-1.5 0.4l-3 2.6l-2 0.5l-2-0.4l-5-2l-4-1.2l-3-0.3l-2 0.4l-2 1.7l-0.9 2.5l0 3l0.7 7l-0.7 3.5l-5.1 7.9l-1.5 1.2z"/>
<path fill="rgb(69,255,186)" fill-rule="evenodd" d="M120.1 372l-2 0.2l-2-1.1l-5.7-7.7l-2.3-4.8l-3.7-12.2l-1.8-2.5l-2-1.5l-2.5-0.9l-2.5-0.4l-6 0.5l-8-0.2l-5.5 0.5l-6.5 1.8l0-0.3l1-1l0-0.5l1-1l0-0.5l1-1l0-0.5l2-2l0-0.5l6-6.1l0.5 0l2-2l0.5 0l2.5-2l0.5 0l1-1l3.5-1.5l3.5-2l1 0l0.5-0.5l1 0l0.5-0.5l1 0l0.5-0.5l1 0l0.5-0.5l3.5-0.5l0.5-0.5l2.5 0l0.5-0.5l14.5 0l0.5 0.5l2.5 0l0.5 0.5l3.5 0.5l0.5 0.5l1 0l0.5 0.5l2.5 0.5l0.5 0.5l1 0l2.5 1.5l4.5 2l2.5 2l0.5 0l1 1l0.5 0l2 2l0.5 0l6.1 6.1l0 0.5l2 2l0 0.5l3 4l2.5 5.5l0.5 0.5l0 1l0.9 1.5l0 1.4l-7.2-3.9l-2.8-1l-1.5-0.1l-1.5 0.4l-3 2.5l-2 0.5l-2-0.5l-6-2.5l-4.5-1.5l-2.5-0.3l-2.1 0.5l-2.1 1.5l-1.1 2.5l-0.1 2.5l0.5 8l-0.6 3.3l-2.5 4.2l-1.5 1.6zM164.6 353.6l-0.3-0.2z"/>
<path fill="rgb(108,255,147)" fill-rule="evenodd" d="M119.1 369l-1.5-0.4l-1.5-1l-3.5-3.5l-2-2.6l-2.9-6.6l-2.4-9.5l-1.7-2.4l-2-1.5l-3-1.3l-3-0.4l-6.5 0.3l-10-0.4l-7.5 1l0-0.3l3-3.5l0-0.5l6-6l0.5 0l2-2.1l0.5 0l2.5-2l0.5 0l1-1l3.5-1.5l3.5-2l1 0l0.5-0.5l1 0l0.5-0.5l1 0l0.5-0.5l1 0l0.5-0.5l3.5-0.5l0.5-0.5l2.5 0l0.5-0.5l14.5 0l0.5 0.5l2.5 0l0.5 0.5l3.5 0.5l0.5 0.5l1 0l0.5 0.5l2.5 0.5l0.5 0.5l1 0l2.5 1.5l4.5 2l2.5 2l0.5 0l1 1l0.5 0l2 2l0.5 0l6.1 6.1l0 0.5l2 2l0 0.5l3 4l2.5 5.5l0.5 0.5l-0.1 1l1 1.5l0 0.8l-7-3.6l-3-1l-3 0.3l-3.5 2.5l-1.5 0.2l-2.5-0.7l-10.5-4.4l-2.5-0.3l-2.5 0.3l-1.5 0.7l-1 1l-1.3 2.7l0.3 9.5l-0.6 4l-2.2 3.5l-1.2 1z"/>
<path fill="rgb(147,255,108)" fill-rule="evenodd" d="M120.1 365.5l-1.5 0.4l-2-0.5l-3-2.2l-2.1-2.3l-1.7-3l-1.4-3.5l-2.1-10l-1.6-2.5l-2.1-1.6l-3.5-1.5l-3.5-0.6l-6.5 0.1l-9-0.6l-6.5 0.2l1-1l0-0.5l3.5-3.5l5-4.5l0.5 0l2.5-2.1l0.5 0l1-1l3.5-1.5l3.5-2l1 0l0.5-0.5l1 0l0.5-0.5l1 0l0.5-0.5l1 0l0.5-0.5l3.5-0.5l0.5-0.5l2.5 0l0.5-0.5l14.5 0l0.5 0.5l2.5 0l0.5 0.5l1.5 0l0.5 0.5l1.5 0l0.5 0.5l1 0l0.5 0.5l2.5 0.5l0.5 0.5l1 0l2.5 1.5l4.5 2l2.5 2l0.5 0l1 1l0.5 0l2 2l0.5 0l6.1 6.1l0 0.5l2 2l0 0.5l3 4l2.5 5.5l0.4 0.5l0.5 2.4l-7-3.3l-3-0.8l-2.5 0.3l-3.5 2.2l-2 0.2l-2-0.6l-11-5l-3.5-0.5l-2.5 0.3l-2 1.3l-1.3 2.5l-0.5 2.5l0.5 6l-0.2 3.5l-1.1 3zM164.1 352.1l-0.3-0.2z"/>
<path fill="rgb(186,255,69)" fill-rule="evenodd" d="M118.1 363.4l-1.5-0.1l-2-1l-2-1.9l-1.7-2.5l-2.1-5.5l-1.1-9l-1.1-2.1l-2-1.9l-4-1.9l-4.5-1l-14.5-0.9l-6 0.1l0-0.3l5-5l0.5 0l2-2l0.5 0l2.5-2l0.5 0l1-1l3.5-1.6l3.5-2l1 0l0.5-0.5l1 0l0.5-0.5l1 0l0.5-0.5l1 0l0.5-0.5l3.5-0.5l0.5-0.5l2.5 0l0.5-0.5l14.5 0l0.5 0.5l2.5 0l0.5 0.5l3.5 0.5l0.5 0.5l1 0l0.5 0.5l2.5 0.5l0.5 0.5l1 0l2.5 1.5l4.5 2l2.5 2l0.5 0l1 1l0.5 0l2 2l0.5 0l6.1 6.1l0 0.5l2 2l0 0.5l3 4l2.4 5.5l0.5 0.5l0 1l0.5 0.5l0 0.4l-7-3.2l-3-0.8l-2.5 0.3l-4 2.2l-2-0.1l-13-6.1l-3.5-0.8l-3.2 0.1l-1.3 0.5l-1 1l-1.1 2.5l-0.4 4l0.4 6l-0.7 3.5l-1.2 2z"/>
<path fill="rgb(226,255,29)" fill-rule="evenodd" d="M118.1 361.1l-1.5 0.2l-2-0.8l-2-1.9l-1.7-2.7l-1-2.5l-0.5-2.5l0.2-9l-0.9-2l-1.6-1.6l-4.5-2.1l-6.5-1.7l-7.5-0.9l-10.5-0.4l0-0.3l5-4.5l0.5 0l2.5-2l0.5 0l1-1l3.5-1.5l3.5-2.1l1 0l0.5-0.5l1 0l0.5-0.5l1 0l0.5-0.5l1 0l0.5-0.5l3.5-0.5l0.5-0.5l2.5 0l0.5-0.5l14.5 0l0.5 0.5l2.5 0l0.5 0.5l3.5 0.5l0.5 0.5l1 0l0.5 0.5l2.5 0.5l0.5 0.5l1 0l2.5 1.5l4.5 2l1 1l0.5 0l2.5 2l0.5 0l2 2l0.5 0l6.1 6.1l0 0.5l2 2l0 0.5l2 2.5l0 0.5l1 1l2.4 5.5l0.5 0.5l0 1.1l-7-2.9l-3-0.7l-2 0.3l-4 1.9l-2 0l-14-7.1l-4.5-1.2l-3.5 0l-1.9 1.1l-0.7 1.5l-0.2 2.5l0.4 10.5l-0.9 3z"/>
<path fill="rgb(255,245,0)" fill-rule="evenodd" d="M163.1 350l-7-2.8l-2.5-0.6l-2.5 0.2l-4 1.7l-2-0.1l-2.5-1.1l-10.5-6.1l-6.5-2.6l-4-0.8l-6.5 0.4l-7.1-2.8l-15.4-4l-4-0.5l-8-0.1l0-0.4l0.5 0l2-2l0.5 0l2.5-2l0.5 0l1-1l3.5-1.5l3.5-2.1l1 0l0.5-0.5l1 0l0.5-0.5l1 0l0.5-0.5l1 0l0.5-0.5l3.5-0.5l0.5-0.5l2.5 0l0.5-0.5l14.5 0l0.5 0.5l2.5 0l0.5 0.5l3.5 0.5l0.5 0.5l1 0l0.5 0.5l2.5 0.5l0.5 0.5l1 0l2.5 1.5l4.5 2l2.5 2l0.5 0l1 1l0.5 0l2 2l0.5 0l6.1 6.1l0 0.5l2 2l0 0.5l2 2.5l0 0.5l1 1l2.4 5.5l0.5 0.5zM117.1 359.1l-2-0.2l-2-1.5l-1.7-2.5l-0.9-3l0.1-3l0.7-2.5l1.3-2l2-1.2l1.5 0.4l1.5 1.6l1.1 2.2l0.7 3l0.3 3l-0.3 2.5l-0.8 2z"/>
<path fill="rgb(255,206,0)" fill-rule="evenodd" d="M162.6 349.3l-9-3.1l-2.5 0.2l-4 1.5l-2-0.2l-2.8-1.3l-12.2-7.8l-6.5-2.9l-11-2.7l-11.5-1.5l-9.5-2.9l-7.5-0.4l0-0.3l2-1.5l0.5 0l1-1l3.5-1.5l3.5-2l1 0l0.5-0.5l1 0l0.5-0.6l1 0l0.5-0.5l1 0l0.5-0.5l3.5-0.5l0.5-0.5l2.5 0l0.5-0.5l14.5 0l0.5 0.5l2.5 0l0.5 0.5l1.5 0l0.5 0.5l1.5 0l0.5 0.5l1 0l0.5 0.5l2.5 0.5l0.5 0.5l1 0l2.5 1.5l4.5 2l2.5 2l0.5 0l1 1l0.5 0l2 2l0.5 0l6.1 6.1l0 0.5l2 2l0 0.5l1 1l0 0.5l2 2.5l1.9 4.5l0.5 0.5zM116.6 356.9l-1.5 0.1l-1.5-1l-1-1.2l-0.8-1.9l-0.2-2l0.4-2l1.1-1.5l1-0.5l1.5 0l1 0.6l1 1.2l0.7 1.7l0.3 2l-0.2 2l-0.8 1.7z"/>
<path fill="rgb(255,167,0)" fill-rule="evenodd" d="M162.6 348.8l-7.5-2.7l-2-0.4l-2 0.2l-4 1.3l-2-0.2l-3.7-2.1l-12.3-8.7l-7-3.4l-9-2.4l-7.5-0.3l-4-0.5l-9.5-3.3l-4.5-0.5l0-0.4l3.5-1.5l3.5-2l1 0l0.5-0.5l1 0l0.5-0.5l1 0l0.5-0.5l1 0l0.5-0.6l3.5-0.5l0.5-0.5l2.5 0l0.5-0.5l14.5 0l0.5 0.5l2.5 0l0.5 0.5l1.5 0l0.5 0.5l1.5 0l0.5 0.5l1 0l0.5 0.5l2.5 0.5l0.5 0.5l1 0l2.5 1.5l4.5 2l2.5 2l0.5 0l1 1l0.5 0l2 2l0.5 0l6.1 6.1l0 0.5l2 2l0 0.5l1 1l0 0.5l2 2.5zM115.6 355l-1.6-0.6l-1.1-2l0.2-2.1l0.5-0.7l1-0.5l1.5 0.4l1.1 1.9l-0.2 2.5z"/>
<path fill="rgb(255,128,0)" fill-rule="evenodd" d="M162.1 348.1l-9-2.8l-2 0.1l-4 1.1l-2.5-0.5l-7.3-5.1l-8.2-6.7l-4.5-2.6l-4-1.6l-7-1.7l-8.5-0.2l-3.5-0.5l-11-3.7l2.5-1l1.5-1l1 0l0.5-0.5l1 0l0.5-0.5l1 0l0.5-0.5l1 0l0.5-0.5l3.5-0.5l0.5-0.5l2.5 0l0.5-0.6l14.5 0l0.5 0.5l2.5 0l0.5 0.5l1.5 0l0.5 0.5l1.5 0l0.5 0.5l1 0l0.5 0.5l2.5 0.5l0.5 0.5l1 0l2.5 1.5l4.5 2l2.5 2l0.5 0l1 1l0.5 0l2 2l0.5 0l6.1 6.1l0 0.5l2 2l0 0.5l1 1l0 0.5l2 2.5l1.4 3.5l0.5 0.5z"/>
<path fill="rgb(255,88,0)" fill-rule="evenodd" d="M162.1 347.6l-9-2.8l-2 0l-3.5 1l-2.5-0.5l-7.4-5.4l-5.1-5.1l-3-2.5l-3.5-2.2l-4-1.8l-3.5-1.1l-4-0.7l-9.5-0.3l-3.5-0.4l-8.1-2.9l0.1-0.5l0.5 0l0.5-0.5l1 0l0.5-0.5l1 0l0.5-0.5l1 0l0.5-0.5l1 0l0.5-0.5l3.5-0.5l0.5-0.5l2.5 0l0.5-0.5l14.5 0l0.5 0.5l2.5 0l0.5 0.5l1.5 0l0.5 0.5l1.5 0l0.5 0.5l1-0.1l0.5 0.6l2.5 0.4l0.5 0.5l1 0l2.5 1.5l4.5 2l1 1l0.5 0l2.5 2l0.5 0l2 2l0.5 0l6.1 6.1l0 0.5l2 2l0 0.5l3 4z"/>
<path fill="rgb(255,49,0)" fill-rule="evenodd" d="M161.6 347l-8.5-2.7l-2-0.1l-3.5 0.7l-2.5-0.7l-6.7-5.3l-4.7-5.5l-2.6-2.5l-3.5-2.4l-4-1.9l-4-1.2l-4-0.8l-13.5-0.5l-6.1-2.2l0.1-0.5l2.5-0.5l0.5-0.5l1 0l0.5-0.5l3.5-0.5l0.5-0.5l2.5 0l0.5-0.5l14.5 0l0.5 0.5l2.5 0l0.5 0.5l1.5 0l0.5 0.5l1.5 0l0.5 0.5l1 0l0.5 0.5l2.5 0.5l0.5 0.5l1 0l2.5 1.5l4.5 2l1 1l0.5 0l1 1l0.5 0l1 1l0.5 0l2 2l0.5 0l6 6l0 0.5l2 2l0 0.5l3 4l1 2.5l0.5 0.5z"/>
<path fill="rgb(255,10,0)" fill-rule="evenodd" d="M161.6 346.5l-3.5-0.8l-5-2.1l-2-0.2l-3.5 0.4l-2.4-0.9l-5.2-4.5l-4.5-6l-2.4-2.5l-3.5-2.6l-4.5-2.3l-3.5-1.2l-4-0.8l-5-0.5l-9.5-0.1l-4.8-1.5l0.8-0.5l1 0l0.5-0.5l3.5-0.5l0.5-0.5l2.5 0l0.5-0.5l14.5 0l0.5 0.5l2.5 0l0.5 0.5l1.5 0l0.5 0.5l1.5 0l0.5 0.5l1 0l0.5 0.5l2.5 0.5l0.5 0.5l1 0l2.5 1.5l4.5 2l1 1l0.5 0l2.5 2l0.5 0l2 2l0.5 0l6 6l0 0.5l2 2l0 0.5l3 4z"/>
<path fill="rgb(226,0,0)" fill-rule="evenodd" d="M161.1 345.9l-3-0.7l-5-2.3l-5.5-0.6l-2-0.9l-4.1-4l-4-6l-2.2-2.5l-3.7-2.9l-4.5-2.4l-4.5-1.5l-4.5-1l-5-0.5l-8.5-0.1l-3.3-0.6l0.8 0l0.5-0.5l1.5 0l0.5-0.5l2.5 0l0.5-0.5l14.5 0l0.5 0.5l2.5 0l0.5 0.5l1.5 0l0.5 0.5l1.5 0l0.5 0.5l1 0l0.5 0.5l2.5 0.5l0.5 0.5l1 0l2.5 1.5l4.5 2l1 1l0.5 0l2.5 2l0.5 0l2 2l0.5 0l6 6l0 0.5l2 2l0 0.5l3 4z"/>
<path fill="rgb(186,0,0)" fill-rule="evenodd" d="M160.6 345.3l-2.5-0.6l-4.5-2.5l-5.4-1.8l-1.6-0.9l-3-3.1l-3.5-5.8l-1.8-2.2l-3.7-3l-4.2-2.5l-4.8-2l-5-1.3l-5-0.7l-8-0.5l14.5 0l0.5 0.5l2.5 0l0.5 0.5l3.5 0.5l0.5 0.5l1 0l0.5 0.5l2.5 0.5l0.5 0.5l1 0l2.5 1.5l4.5 2l1 1l0.5 0l2.5 2l0.5 0l2 2l0.5 0l6 6l0 0.5l2 2l0 0.5l3 4l0 0.5l0.5 0.5z"/>
<path fill="rgb(147,0,0)" fill-rule="evenodd" d="M129.1 320.1l-0.4-0.2zM130.6 320.7l-0.7-0.3l0.7 0zM160.6 344.7l-2-0.5l-1.6-0.8l-8.9-6.5l-2.5-2.6l-3.4-5.4l-1.4-1.5l-4.5-3.5l-5.3-3l1.1 0l0.5 0.5l2.5 0.5l2.5 1.5l4.5 2l1 1l0.5 0l2.5 2l0.5 0l2 2l0.5 0l6 6l0 0.5l2 2l0 0.5l1 1l0 0.5l1 1l0 0.5l1 1z"/>
</g>
<ellipse cx="114.8" cy="368.8" rx="50.8" ry="49.4" fill="none" stroke="#1a1a1a" stroke-width="0.7"/>
<g clip-path="url(#ct1)">
<ellipse cx="252.4" cy="368.5" rx="52.2" ry="50.6" fill="rgb(0,0,147)"/>
<path fill="rgb(0,0,186)" fill-rule="evenodd" d="M256.7 419.5l-8.5 0l-0.5-0.5l-3.5 0l-0.5-0.5l-2.5 0l-0.5-0.5l-1.5 0l-0.5-0.5l-1.5 0l-0.5-0.5l-2.5-0.5l-1.5-1l-1 0l-4.5-2.5l-2.5-1l-4-3l-0.5 0l-2-2l-0.5 0l-6.1-6.1l0-0.5l-2-2l0-0.5l-1-1l0-0.5l-2-2.5l-1-2.5l-2-3.5l0-1l-1-1.5l0-1l-0.5-0.5l0-1l-0.5-0.5l0-1.5l-0.5-0.5l0-1.5l-0.5-0.5l0-2.5l-0.5-0.5l0-13.5l0.5-0.5l0-2.5l0.5-0.5l0-2l0.5-0.5l0-1l0.5-0.5l0-1l0.5-0.5l0-1l0.5-0.5l0-1l1-1.5l0-1l1-1.5l0.5-1.5l1-1l0.5-1.5l3-4l0-0.5l6.1-6.6l0.5 0l4.5-4l0.5 0l1-1l0.5 0l1-1l1.5-0.5l1-1.1l0.5 0l2.5-1.5l1 0l1.5-1l1 0l1.5-1l1 0l0.5-0.5l3.5-0.5l0.5-0.5l1.5 0l0.5-0.5l2.5 0l0.5-0.5l14.5 0l0.5 0.5l2.5 0l0.5 0.5l1.5 0l0.5 0.5l1.5 0l0.5 0.5l2.5 0.5l0.5 0.5l2.5 0.5l1.5 1l6.5 3l1 1l0.5 0l1 1l0.5 0l1.5 1.5l0.5 0l4 4l0.5 0l0.7 0.7l0 0.5l3.5 3.5l0 0.5l1.5 1.5l0 0.5l2 2.5l2.9 6.5l0.5 0.5l0 1l1 1.5l0 1l0.5 0.5l0 1.5l0.5 0.5l0 1l0.5 0.5l0 2l0.5 0.5l0 2.5l0.5 0.5l0 12l-0.5 0.5l0 3l-0.5 0.5l-0.5 3.5l-0.5 0.5l0 1l-0.5 0.5l-0.5 2.5l-1 1.5l0 1l-1.5 2.5l-0.5 1.5l-1 1l-0.5 1.5l-2.5 3l0 0.5l-2 2l0 0.5l-5.1 5.1l-0.5 0l-2 2l-0.5 0l-1.5 1.5l-0.5 0l-2.5 2l-3.5 1.5l-3.5 2l-1 0l-1.5 1l-1 0l-0.5 0.5l-1.5 0l-0.5 0.5l-1 0l-0.5 0.5l-1.5 0l-0.5 0.5l-2.5 0l-0.5 0.5l-3.5 0zM289.8 366.4l1.2-1l0.6-1l0.2-3l-1-3l-1.1-1.9l-1-0.7l-1-0.1l-2 1.4l-1.5 1.8l-0.9 2l0.1 2l0.9 2l1.8 1.5l2.1 0.5z"/>
<path fill="rgb(0,0,226)" fill-rule="evenodd" d="M256.7 419.5l-8.5 0l-0.5-0.5l-3.5 0l-0.5-0.5l-2.5 0l-0.5-0.5l-1.5 0l-0.5-0.5l-1.5 0l-0.5-0.5l-2.5-0.5l-1.5-1l-1 0l-4.5-2.5l-2.5-1l-4-3l-0.5 0l-2-2l-0.5 0l-6.1-6.1l0-0.5l-2-2l0-0.5l-1-1l0-0.5l-2-2.5l-1-2.5l-2-3.5l0-1l-1-1.5l0-1l-0.5-0.5l0-1l-0.5-0.5l0-1.5l-0.5-0.5l0-1.5l-0.5-0.5l0-2.5l-0.5-0.5l0-13.5l0.5-0.5l0-2.5l0.5-0.5l0-2l0.5-0.5l0-1l0.5-0.5l0-1l0.5-0.5l0-1l0.5-0.5l0-1l1-1.5l0-1l1-1.5l0.5-1.5l1-1l0.5-1.5l3-4l0-0.5l6.1-6.6l0.5 0l4.5-4l0.5 0l1-1l0.5 0l1-1l1.5-0.5l1-1l0.5 0l2.5-1.5l1 0l1.5-1l1 0l1.5-1l1 0l0.5-0.5l3.5-0.5l0.5-0.6l1.5 0.1l0.5-0.6l2.5 0l0.5-0.5l14.5 0l0.5 0.5l2.5 0l0.5 0.5l1.5 0l0.5 0.5l1.5 0l0.5 0.5l2.5 0.5l0.5 0.5l2.5 0.5l1.5 1l6.5 3l1 1l0.5 0l1 1l0.5 0l1.5 1.5l0.5 0l4 4l0.5 0l0.7 0.7l0 0.5l3.5 3.5l0 0.5l1.5 1.5l0 0.5l2 2.5l2.9 6.5l0.5 0.5l0 1l1 1.5l0 1l0.5 0.5l0 1.5l0.5 0.5l-0.1 1l0.5 0.5l0 2l0.5 0.5l0 2.5l0.5 0.5l0 12l-0.5 0.5l0 3l-0.5 0.5l-0.4 3.5l-0.5 0.5l0 1l-0.5 0.5l-0.5 2.5l-1 1.5l0 1l-1.5 2.5l-0.5 1.5l-1 1l-0.5 1.5l-2.5 3l0 0.5l-2 2l0 0.5l-5.1 5.1l-0.5 0l-2 2l-0.5 0l-1.5 1.5l-0.5 0l-2.5 2l-3.5 1.5l-3.5 2l-1 0l-1.5 1l-1 0l-0.5 0.5l-1.5 0l-0.5 0.5l-1 0l-0.5 0.5l-1.5 0l-0.5 0.5l-2.5 0l-0.5 0.5l-3.5 0zM290.6 371.9l2.6-1.2l2.1-2.3l1.1-2.5l0.2-3l-0.7-2l-4-6l-2.2-2l-2-0.5l-2.3 1l-4.2 3.5l-1.5 3l-0.2 3.5l1.4 4l1.3 1.9l1.5 1.4l1.5 0.9l2 0.6z"/>
<path fill="rgb(0,10,255)" fill-rule="evenodd" d="M256.7 419.5l-8.5 0l-0.5-0.5l-3.5 0l-0.5-0.5l-2.5 0l-0.5-0.5l-1.5 0l-0.5-0.5l-1.5 0l-0.5-0.5l-2.5-0.5l-1.5-1l-1 0l-4.5-2.5l-2.5-1l-4-3l-0.5 0l-2-2l-0.5 0l-6.1-6.1l0-0.5l-2-2l0-0.5l-1-1l0-0.5l-2-2.5l-1-2.5l-2-3.5l0-1l-1-1.5l0-1l-0.5-0.5l0-1l-0.5-0.5l0-1.5l-0.5-0.5l0-1.5l-0.5-0.5l0-2.5l-0.5-0.5l0-13.5l0.5-0.5l0-2.5l0.5-0.5l0-2l0.5-0.5l0-1l0.5-0.5l0-1l0.5-0.5l0-1l0.5-0.5l0-1l1-1.5l0-1l1-1.5l0.5-1.5l1-1l0.5-1.5l3-4l0-0.5l6.1-6.6l0.5 0l4.5-4l0.5 0l1-1l0.5 0l1-1l1.5-0.5l1-1l0.5 0l2.5-1.5l1 0l1.5-1l1 0l1.5-1l1 0l0.5-0.5l3.5-0.5l0.5-0.5l1.5 0l0.5-0.5l2.5 0l0.5-0.5l14.5 0l0.5 0.5l2.5 0l0.5 0.5l1.5 0l0.5 0.5l1.5 0l0.5 0.5l2.5 0.4l0.5 0.5l2.5 0.5l1.5 1l6.5 3l1 1l0.5 0l1 1l0.5 0l1.5 1.5l0.5 0l4 4l0.5 0l0.7 0.7l0 0.5l3.5 3.5l0 0.5l1.5 1.5l0 0.5l2 2.5l2.9 6.5l0.5 0.5l0 1l1 1.5l0 1l0.5 0.5l-0.1 1.5l0.5 0.5l0 1l0.5 0.5l0 2l0.5 0.5l0 2.5l0.5 0.5l0 12l-0.5 0.5l0 3l-0.5 0.5l-0.5 3.5l-0.5 0.5l0 1l-0.5 0.5l-0.5 2.5l-1 1.5l0 1l-1.5 2.5l-0.5 1.5l-1 1l-0.4 1.5l-2.5 3l0 0.5l-2 2l0 0.5l-5.1 5.1l-0.5 0l-2 2l-0.5 0l-1.5 1.5l-0.5 0l-2.5 2l-3.5 1.5l-3.5 2l-1 0l-1.5 1l-1 0l-0.5 0.5l-1.5 0l-0.5 0.5l-1 0l-0.5 0.5l-1.5 0l-0.5 0.5l-2.5 0l-0.5 0.5l-3.5 0zM289.9 376.9l5.1-2.5l3.7-3.4l1.2-2.1l0.7-2l0.1-4.5l-0.6-3l-1.4-2l-3.5-1.9l-5.5-4.1l-2-0.4l-4.2 1.4l-2.7 1.5l-1.8 1.5l-1.1 1.5l-0.8 2l-0.4 4.5l0.5 3l1.2 3.5l1.6 3l1.7 2.2l2 1.5l2 0.7l2 0.1z"/>
<path fill="rgb(0,49,255)" fill-rule="evenodd" d="M256.7 419.5l-8.5 0l-0.5-0.5l-3.5 0l-0.5-0.5l-2.5 0l-0.5-0.5l-1.5 0l-0.5-0.5l-1.5 0l-0.5-0.5l-2.5-0.5l-1.5-1l-1 0l-4.5-2.5l-2.5-1l-4-3l-0.5 0l-2-2l-0.5 0l-6.1-6.1l0-0.5l-2-2l0-0.5l-1-1l0-0.5l-2-2.5l-1-2.5l-2-3.5l0-1l-1-1.5l0-1l-0.5-0.5l0-1l-0.5-0.5l0-1.5l-0.5-0.5l0-1.5l-0.5-0.5l0-2.5l-0.5-0.5l0-13.5l0.5-0.5l0-2.5l0.5-0.5l0-2l0.5-0.5l0-1l0.5-0.5l0-1l0.5-0.5l0-1l0.5-0.5l0-1l1-1.5l0-1l1-1.5l0.5-1.5l1-1l0.5-1.5l3-4l0-0.5l6.1-6.6l0.5 0l4.5-4l0.5 0l1-1l0.5 0l1-1l1.5-0.5l1-1l0.5 0l2.5-1.5l1 0l1.5-1l1 0l1.5-1l1 0l0.5-0.5l3.5-0.5l0.5-0.5l1.5 0l0.5-0.5l2.5 0l0.5-0.5l14.5 0l0.5 0.5l2.5 0l0.5 0.5l1.5 0l0.5 0.5l1.5 0l0.5 0.5l2.5 0.5l0.5 0.5l2.5 0.5l1.5 0.9l6.5 3l1 1l0.5 0l1 1l0.5 0l1.5 1.5l0.5 0l4 4l0.5 0l0.7 0.7l0 0.5l3.5 3.5l0 0.5l1.5 1.5l0 0.5l2 2.5l2.9 6.5l0.5 0.5l0 1l1 1.5l-0.1 1l0.5 0.5l0 1.5l0.5 0.5l0 1l0.5 0.5l0 2l0.5 0.5l0 2.5l0.5 0.5l0 12l-0.5 0.5l0 3l-0.5 0.5l-0.5 3.5l-0.5 0.5l0 1l-0.5 0.5l-0.5 2.5l-1 1.5l0 1l-1.5 2.5l-0.5 1.5l-1 1l-0.5 1.5l-2.5 3l0 0.5l-2 2l0 0.5l-5 5l-0.5 0l-2 2l-0.5 0l-1.5 1.6l-0.5 0l-2.5 2l-3.5 1.5l-3.5 2l-1 0l-1.5 1l-1 0l-0.5 0.5l-1.5 0l-0.5 0.5l-1 0l-0.5 0.5l-1.5 0l-0.5 0.5l-2.5 0l-0.5 0.5l-3.5 0zM280.3 389.4l1.4-0.4l2-1.2l16.5-12.4l2.6-3l1.6-4l0.2-3l-0.5-3.5l-1.1-3l-1.7-2.5l-2.1-1.7l-4-1.1l-6.5-3.4l-4 0.4l-6.1 2.3l-2.8 2.5l-1.5 3.5l-0.2 2.5l0.2 3l3.1 15l0.4 8l0.9 1.6z"/>
<path fill="rgb(0,88,255)" fill-rule="evenodd" d="M256.7 419.5l-8.5 0l-0.5-0.5l-3.5 0l-0.5-0.5l-2.5 0l-0.5-0.5l-1.5-0.1l-0.5-0.5l-1.5 0l-0.5-0.5l-2.5-0.5l-1.5-1l-1 0l-4.5-2.5l-2.5-1l-4-3l-0.5 0l-2-2l-0.5 0l-6-6l0-0.5l-2-2l0-0.5l-1-1l0-0.5l-2-2.5l-1-2.5l-2-3.5l0-1l-1.1-1.5l0-1l-0.5-0.5l0-1l-0.5-0.5l0-1.5l-0.5-0.5l0-1.5l-0.5-0.5l0-2.5l-0.5-0.5l0-13.5l0.5-0.5l0-2.5l0.5-0.5l0-2l0.5-0.5l0-1l0.5-0.5l0-1l0.5-0.5l0-1l0.5-0.5l0-1l1-1.5l0-1l1-1.5l0.5-1.5l1-1l0.5-1.5l3-4l0-0.5l6.1-6.6l0.5 0l4.5-4l0.5 0l1-1l0.5 0l1-1l1.5-0.5l1-1l0.5 0l2.5-1.5l1 0l1.5-1l1 0l1.5-1l1 0l0.5-0.5l3.5-0.5l0.5-0.5l1.5 0l0.5-0.5l2.5 0l0.5-0.5l14.5 0l0.5 0.5l2.5 0l0.5 0.5l3.5 0.5l0.5 0.5l2.5 0.5l0.5 0.5l2.5 0.5l1.5 1l6.5 2.9l1 1l0.5 0l1 1l0.5 0l1.5 1.5l0.5 0l4 4l0.5 0l0.7 0.7l0 0.5l3.5 3.5l0 0.5l1.5 1.5l0 0.5l2 2.5l2.9 6.5l0.5 0.5l0 1l0.9 1.5l0 1l0.5 0.5l0 1.5l0.5 0.5l0 0.7l-3.5-2.6l-4.5-0.9l-5.5-2.8l-2-0.5l-4.2 0.6l-5.8 1.3l-2.5 1.2l-2.1 2l-1.3 2.5l-0.5 3l1.6 18l-0.2 3.5l-1.7 9.5l0.6 3l1.6 2.3l2 1.3l2.5 0.6l2.5-0.4l3-1.2l2.8-1.6l2.6-2l9.1-9.9l6-4.7l-0.5 3.6l-0.5 0.5l0 1l-0.5 0.5l-0.5 2.5l-1 1.5l0 1l-1.5 2.5l-0.5 1.5l-1 1l-0.5 1.5l-2.5 3l0 0.5l-2 2l0 0.5l-5 5l-0.5 0l-2 2l-0.5 0l-1.5 1.5l-0.5 0l-2.5 2l-3.5 1.5l-3.5 2l-1 0l-1.5 1l-1 0l-0.5 0.5l-1.5 0l-0.5 0.5l-1 0l-0.5 0.5l-1.5 0l-0.5 0.5l-2.5 0.1l-0.5 0.5l-3.5 0z"/>
<path fill="rgb(0,128,255)" fill-rule="evenodd" d="M256.7 419.4l-8.5 0l-0.5-0.5l-3.5 0l-0.5-0.5l-2.5 0l-0.5-0.5l-1.5 0l-0.5-0.5l-1.5 0l-0.5-0.5l-2.5-0.5l-1.5-1l-1 0l-4.5-2.5l-2.5-1l-4-3l-0.5 0l-2-2l-0.5 0l-6-6l0-0.5l-2-2l0-0.5l-1-1l0-0.5l-2-2.5l-1-2.5l-2-3.5l0-1l-1-1.5l0-1l-0.5-0.5l0-1l-0.5-0.5l0-1.5l-0.5-0.5l0-1.5l-0.5-0.5l0-2.5l-0.5-0.5l-0.1-13.5l0.5-0.5l0-2.5l0.5-0.5l0-2l0.5-0.5l0-1l0.5-0.5l0-1l0.5-0.5l0-1l0.5-0.5l0-1l1-1.5l0-1l1-1.5l0.5-1.5l1-1l0.5-1.5l3-4l0-0.5l6.1-6.6l0.5 0l4.5-4l0.5 0l1-1l0.5 0l1-1l1.5-0.5l1-1l0.5 0l2.5-1.5l1 0l1.5-1l1 0l1.5-1l1 0l0.5-0.5l3.5-0.5l0.5-0.5l1.5 0l0.5-0.5l2.5 0l0.5-0.5l14.5 0l0.5 0.5l2.5 0l0.5 0.5l3.5 0.5l0.5 0.5l2.5 0.5l0.5 0.5l2.5 0.5l1.5 1l6.5 2.9l1 1l0.5 0l1 1l0.5 0l1.5 1.5l0.5 0l4 4l0.5 0l0.7 0.7l0 0.5l3.5 3.5l0 0.5l1.5 1.5l0 0.5l2 2.5l2.9 6.5l0.5 0.5l0 1l0.9 1.5l0 1l0.5 0.5l0 0.7l-3-1.5l-5-1l-5.5-2.7l-2-0.2l-12 1.3l-3 1.4l-2.7 2.5l-1.2 3l-0.5 3.5l1.4 13.5l0 4l-0.5 3.2l-2 6.8l-0.4 3l0.6 4l2.2 4l2.6 2.4l2.5 1.3l3 0.5l3.5-0.5l5-1.6l4.4-2.1l4.3-3l4.8-4.8l0 0.8l-1.5 2l-0.5 1.5l-1 1l0 0.5l-3.5 4l0 0.5l-5 5l-0.5 0l-2 2l-0.5 0l-1.5 1.5l-0.5 0l-2.5 2l-3.5 1.5l-3.5 2l-1 0l-1.5 1l-1 0l-0.5 0.5l-1.5 0l-0.5 0.5l-1 0l-0.5 0.5l-1.5 0l-0.5 0.5l-2.5 0l-0.5 0.5l-3.5 0zM230.5 392.4l3.2-0.8l2.1-1.7l1.1-2l2-6.5l2.8-4.2l2.5-2l6-2.9l1.8-1.9l0.4-1.5l-0.5-2l-4-5l-1.5-3l-0.7-3.5l0.1-3.5l0.7-1.5l3.8-4.5l6.4-2.9l1.6-1.1l0.7-1l0.2-1l-0.5-0.9l-1-0.8l-2.5-0.2l-2.6 1.4l-1.3 1.5l-2.5 4l-2.1 2l-2 4l-7 5.1l-5.5 6.1l-7.5 3.6l-1.5 1.1l-1 1.3l-0.5 1.3l0 2l1.5 6.5l0.3 6.5l0.6 3l1 2l1.6 1.8l2 1zM299.7 390.9l-0.3 0l0.3-0.3z"/>
<path fill="rgb(0,167,255)" fill-rule="evenodd" d="M256.7 419.4l-8.5 0l-0.5-0.5l-3.5 0l-0.5-0.5l-2.5 0l-0.5-0.5l-1.5 0l-0.5-0.5l-1.5 0l-0.5-0.5l-2.5-0.5l-1.5-1l-1 0l-4.5-2.5l-2.5-1l-4-3l-0.5 0l-2-2l-0.5 0l-6-6l0-0.5l-2-2l0-0.5l-1-1l0-0.5l-2-2.5l-1-2.5l-2-3.5l0-1l-1-1.5l0-1l-0.5-0.5l0-1l-0.5-0.5l0-1.5l-0.5-0.5l0-1.5l-0.5-0.5l0-2.5l-0.5-0.5l0-13.5l0.5-0.5l0-2.5l0.5-0.5l0-2l0.5-0.5l0-1l0.5-0.5l0-1l0.5-0.5l0-1l0.5-0.5l0-1l1-1.5l0-1l1-1.5l0.5-1.5l1-1l0.5-1.5l3-4l-0.1-0.5l6.1-6.6l0.5 0l4.5-4l0.5 0l1-1l0.5 0l1-1l1.5-0.5l1-1l0.5 0l2.5-1.5l1 0l1.5-1l1 0l1.5-1l1 0l0.5-0.5l3.5-0.5l0.5-0.5l1.5 0l0.5-0.5l2.5 0l0.5-0.5l14.5 0l0.5 0.5l2.5 0l0.5 0.5l3.5 0.5l0.5 0.5l2.5 0.5l0.5 0.5l2.5 0.5l1.5 1l6.5 2.9l1 1l0.5 0l1 1l0.5 0l1.5 1.5l0.5 0l4 4l0.5 0l0.7 0.7l0 0.5l3.5 3.5l0 0.5l1.5 1.5l0 0.5l2 2.5l2.9 6.5l0.5 0.5l-0.1 1l1 1.5l0 0.8l-2.3-0.8l-4.2-0.7l-7.5-3l-12.5-0.2l-2.5 0.3l-3.1 1.1l-3 2l-2 2.5l-3.4 6.1l-1 0.9l-1.5 0.3l-2-1.3l-1.4-2l-0.9-2.5l-0.1-2.5l0.4-2l0.9-2l3.6-3.7l1.2-1.8l0.6-2.5l-0.1-2l-0.9-2l-1.8-1.6l-2.5-0.8l-2.5 0.1l-2.5 0.6l-2.5 1.3l-6 5.7l-2.5 1.8l-8 3.2l-2.8 1.7l-2.7 2.7l-7.5 10.2l-2.2 4.1l-1.1 4l-0.3 15l0.4 3.5l1 3l1.7 2.5l2 1.7l3.5 1.5l6.5 1.1l7.5 1.7l3.5-0.1l3-1l1.7-1.4l1.7-2.5l4-10.5l4.6-8.5l3-4.1l1-0.7l1-0.1l1.5 0.9l1 1.5l0.7 2l0.1 2l-0.8 2.8l-3.9 6.7l-0.5 2l-0.1 2l1.6 5l2.8 5l5.1 5.2l2.5 1.6l2 0.8l4 0.1l10-2.5l-2.5 2.3l-0.5 0l-1.5 1.5l-0.5 0l-2.5 2l-3.5 1.5l-3.5 2l-1 0l-1.5 1l-1 0l-0.5 0.5l-1.5 0l-0.5 0.5l-1 0l-0.5 0.5l-1.5 0l-0.5 0.5l-2.5 0l-0.5 0.5l-3.5 0z"/>
<path fill="rgb(0,206,255)" fill-rule="evenodd" d="M207.2 394.4l-3.5-6.5l0-1l-1-1.5l0-1l-0.5-0.5l0-1l-0.5-0.5l0-1.5l-0.5-0.5l0-1.5l-0.5-0.5l0-2.5l-0.5-0.5l0-13.5l0.5-0.5l0-2.5l0.5-0.5l0-2l0.5-0.5l0-1l0.5-0.5l0-1l0.5-0.5l0-1l0.5-0.5l0-1l1-1.5l0-1l1-1.5l0.5-1.5l1-1l0.5-1.5l3-4l0-0.5l6-6.5l0.5 0l4.5-4.1l0.5 0.1l1-1.1l0.5 0l1-1l1.5-0.5l1-1l0.5 0l2.5-1.5l1 0l1.5-1l1 0l1.5-1l1 0l0.5-0.5l3.5-0.5l0.5-0.5l1.5 0l0.5-0.5l2.5 0l0.5-0.5l14.5 0l0.5 0.5l2.5 0l0.5 0.5l1.5 0l0.5 0.5l1.5 0l0.5 0.5l2.5 0.5l0.5 0.5l2.5 0.5l1.5 1l6.5 3l1 0.9l0.5 0l1 1l0.5 0l1.5 1.5l0.5 0l4 4l0.5 0l0.7 0.7l0 0.5l3.5 3.5l0 0.5l1.5 1.5l0 0.5l1.9 2.5l3 6.5l0.4 0.5l0.5 2.3l-6.5-1.3l-6.5-2.6l-7-0.3l-9-1.6l-5 0.6l-2-0.1l-1-0.7l-0.5-1l-0.7-6.8l-1.1-2.5l-2.2-2.1l-3.5-1.3l-4.5 0l-4.5 1.2l-3 1.7l-4.5 3.8l-1.5 0.8l-2 0.1l-5.5-0.6l-2 0.4l-2 1l-4 2.9l-3 3.6l-2.5 4.6l-6.5 14.4l-1.2 5l-0.5 6.5l-1.8 10.5l-0.1 6.5zM256.7 419.4l-8.5 0l-0.5-0.5l-3.5 0l-0.5-0.5l-2.5 0l-0.5-0.5l-1.5 0l-0.5-0.5l-1.5 0l-0.5-0.5l-2.5-0.5l-1.5-1l-0.9 0l2.9-2.2l3.1-1.3l15.9-3.4l3-0.3l2.5 0.6l2.5 1.5l6.2 6.6l-0.7 0.5l-1 0l-0.5 0.5l-1.5 0l-0.5 0.5l-2.5 0l-0.5 0.5l-3.5 0z"/>
<path fill="rgb(0,245,255)" fill-rule="evenodd" d="M200.2 375.4l0-13.5l0.5-0.5l0-2.5l0.5-0.5l0-2l0.5-0.5l0-1l0.5-0.5l0-1l0.5-0.5l0-1l0.5-0.5l0-1l1-1.5l0-1l1-1.5l0.5-1.5l1-1l0.5-1.5l3-4l0-0.5l6-6.5l0.5 0l2.5-2.5l0.5 0l1.5-1.5l0.5 0l1-1l0.5 0l1-1l1.5-0.5l1-1l0.5 0l2.5-1.6l1 0l1.5-1l1 0l1.5-1l1 0l0.5-0.5l1.5 0l0.5-0.5l1.5 0l0.5-0.5l1.5 0l0.5-0.5l2.5 0l0.5-0.5l14.5 0l0.5 0.5l2.5 0l0.5 0.5l3.5 0.5l0.5 0.5l2.5 0.5l0.5 0.5l2.5 0.5l1.5 1l6.5 3l1 1l0.5 0l1 1l0.5 0l1.5 1.4l0.5 0l4 4l0.5 0l0.7 0.7l0 0.5l3.5 3.5l0 0.5l1.5 1.5l0 0.5l1.9 2.5l2.9 6.5l0.5 0.5l0 1l0.5 0.5l-6.5-1l-6.1-2.5l-5.4-0.4l-4-0.7l-11-4.6l-1.6-1.3l-1.4-4.5l-2-3l-2-1.7l-3-1.1l-4-0.6l-4.5 0.2l-4.5 1l-7.5 2.8l-8 0.1l-3.6 1.3l-4.4 2.5l-3.6 3l-2.9 3.3l-3.1 5.2l-9.2 18z"/>
<path fill="rgb(29,255,226)" fill-rule="evenodd" d="M201.7 355.8l0.5-2.4l0.5-0.5l0-1l0.5-0.5l0-1l1-1.5l0-1l1-1.5l0.5-1.5l1-1l0.5-1.5l2-2.5l0-0.5l1-1l0-0.5l6-6.5l0.5 0l2.5-2.5l0.5 0l1.5-1.5l0.5 0l1-1l0.5 0l1-1l1.5-0.5l1-1l0.5 0l2.5-1.5l1 0l1.5-1l1 0l1.5-1l1 0l0.5-0.5l3.5-0.5l0.5-0.6l1.5 0.1l0.5-0.6l2.5 0l0.5-0.5l14.5 0l0.5 0.5l2.5 0l0.5 0.5l3.5 0.5l0.5 0.5l2.5 0.5l0.5 0.5l2.5 0.5l1.5 1l6.5 3l1 1l0.5 0l1 1l0.5 0l1.5 1.5l0.5 0l4 3.9l0.5 0l0.7 0.7l0 0.5l3.5 3.5l0 0.5l1.4 1.5l0 0.5l2 2.5l2.9 6.5l0.5 0.5l0 0.9l-4.5-0.6l-7.5-2.7l-5.5-0.5l-4.5-1.3l-3-1.8l-4-3.5l-2-2.5l-3.8-6l-2.2-2l-2.5-1l-4-0.7l-7.5-0.4l-5 0.7l-7.5 1.9l-9.5 1.1l-4.5 1.4l-4.1 2l-4.2 3l-3.4 3.5l-4.6 6z"/>
<path fill="rgb(69,255,186)" fill-rule="evenodd" d="M301.2 349.7l-5.5-0.7l-6.5-2.3l-6.5-1.1l-4.1-1.7l-2.3-2l-2.9-3.5l-5.7-10l-2-1.3l-3-0.9l-9.5-1.1l-7 0.3l-10.5 2l-11 1.6l-5 1.5l-4.5 2.2l0-0.3l6-5l0.5 0l1-1l0.5 0l1-1l1.5-0.5l1-1l0.5 0l2.5-1.5l1 0l1.5-1l1 0l1.5-1l1 0l0.5-0.5l3.5-0.5l0.5-0.5l1.5 0l0.5-0.5l2.5 0l0.5-0.5l14.5 0l0.5 0.5l2.5 0l0.5 0.5l3.5 0.5l0.5 0.5l2.5 0.4l0.5 0.5l2.5 0.5l1.5 1l6.5 3l1 1l0.5 0l1 1l0.5 0l1.5 1.5l0.5 0l4 4l0.5 0l0.6 0.6l0 0.5l3.5 3.5l0 0.5l1.5 1.5l0 0.5l2 2.5z"/>
<path fill="rgb(108,255,147)" fill-rule="evenodd" d="M300.7 349.1l-4.5-0.5l-7-2.2l-5-0.9l-5-2.2l-1.7-1.4l-2.9-4l-2.7-5l-2.3-5.5l-1.9-1.7l-2.5-1.1l-9.5-1.4l-6.5-0.2l-6.5 0.6l-11.5 2l-7.5 0.7l0-0.4l6-3.5l1 0l1.5-1l1 0l1.5-1l1 0l0.5-0.5l1.5 0l0.5-0.5l1.5 0l0.5-0.5l1.5 0l0.5-0.5l2.5 0l0.5-0.5l14.5 0l0.5 0.5l2.5 0l0.5 0.5l1.5 0l0.5 0.5l1.5 0l0.5 0.5l2.5 0.5l0.5 0.5l2.5 0.4l1.5 1l6.5 3l1 1l0.5 0l1 1l0.5 0l1.5 1.5l0.5 0l4 4l0.5 0l0.6 0.6l0 0.5l3.5 3.5l0 0.5l1.5 1.5l0 0.5l2 2.5l0 0.5l2.9 5.5zM222.7 326.5l0.5-0.1z"/>
<path fill="rgb(147,255,108)" fill-rule="evenodd" d="M300.7 348.5l-5-0.5l-6.5-2l-4.5-0.8l-5-2.4l-1.6-1.4l-2.3-3.5l-3-6l-2.1-5.6l-2-2l-3-1.5l-4.5-1l-11.5-1l-7 0.4l-11.5 1.7l-2.5 0l0.5 0l0.5-0.5l1 0l1.5-1l1 0l1.5-1l1 0l0.5-0.5l3.5-0.5l0.5-0.5l1.5 0l0.5-0.5l2.5 0l0.5-0.5l14.5 0l0.5 0.5l2.5 0l0.5 0.5l1.5 0l0.5 0.5l1.5 0l0.5 0.5l2.5 0.5l0.5 0.5l2.5 0.5l1.5 0.9l6.5 3l1 1l0.5 0l1 1l0.5 0l1.5 1.5l0.5 0l4 4l0.5 0l0.6 0.6l0 0.5l3.5 3.5l0 0.5l1.5 1.5l0 0.5l2 2.5z"/>
<path fill="rgb(186,255,69)" fill-rule="evenodd" d="M300.2 347.9l-5-0.5l-10-2.6l-5.5-2.8l-2.8-3.6l-3.4-7.5l-2-5.5l-1.8-2.1l-2.5-1.7l-4-1.4l-8-1.2l-6-0.5l-7 0.3l0-0.4l2.5 0l0.5-0.5l14.5 0l0.5 0.5l2.5 0l0.5 0.5l3.5 0.5l0.5 0.5l2.5 0.5l0.5 0.5l2.5 0.5l1.5 1l6.5 2.9l1 1l0.5 0l1 1l0.5 0l1.5 1.5l0.5 0l4 4l0.5 0l0.6 0.6l0 0.5l3.5 3.5l0 0.5l1.5 1.5l0 0.5l2 2.5zM240.7 318.9l-0.5 0.1l0.7-0.1z"/>
<path fill="rgb(226,255,29)" fill-rule="evenodd" d="M266.7 319.5l-0.2-0.1zM268.2 320.3l-0.7-0.4l0.7 0zM299.7 347.4l-6-0.7l-8.5-2.3l-5.2-3l-2.3-3l-1.4-4l-2.1-4.2l-2-5.7l-1.5-2l-2.4-2.1l1.4 0l0.5 0.5l1 0l0.5 0.5l1 0l1.5 1l6.5 2.9l1 1l0.5 0l1 1l0.5 0l1.5 1.5l0.5 0l4 4l0.5 0l0.6 0.6l0 0.5l3.5 3.5l0 0.5l1.5 1.5l0 0.5l2 2.5l0 0.5l1.9 3.5z"/>
<path fill="rgb(255,245,0)" fill-rule="evenodd" d="M271.2 321.1l-0.2-0.2zM299.7 346.8l-6.5-0.6l-7.5-2.1l-1.6-0.7l-3.9-2.6l-1.8-2.4l-1.1-4l-2.3-4.5l-1.7-5.5l-1.8-3l1.2 0l1.5 1l6.5 2.9l1 1l0.5 0l1 1l0.5 0l1.5 1.5l0.5 0l4 4l0.5 0l0.6 0.6l0 0.5l3.5 3.5l0 0.5l1.5 1.5l0 0.5l2 2.5z"/>
<path fill="rgb(255,206,0)" fill-rule="evenodd" d="M299.2 346.2l-7-0.6l-6.5-1.9l-1.6-0.8l-3.9-3l-1.1-1.5l-0.7-4l-2.7-5l-1.4-5l-1.1-2.5l7.5 3.4l1 1l0.5 0l1 1l0.5 0l1.5 1.5l0.5 0l4 4l0.5 0l0.6 0.6l0 0.5l3.5 3.5l0 0.5l1.5 1.5l0 0.5l2 2.5l-0.1 0.5l1.5 2.5z"/>
<path fill="rgb(255,167,0)" fill-rule="evenodd" d="M299.2 345.5l-5.5-0.1l-3.1-0.5l-5.5-2l-4.4-3.4l-1.1-1.6l-0.4-4l-2.8-5l-1.5-6l0.8 0l0.5 0.5l4.5 2l1 0.9l0.5 0l1 1l0.5 0l1.5 1.5l0.5 0l4 4l0.5 0l0.6 0.6l0 0.5l3.5 3.5l0 0.5l1.5 1.5l0 0.5l1.9 2.5z"/>
<path fill="rgb(255,128,0)" fill-rule="evenodd" d="M296.2 344.9l-5-0.1l-5.5-2.2l-5-4.2l-0.4-1l-0.2-3.5l-2.9-5.5l-1.1-5l0.6 0l0.5 0.5l3.5 1.5l1 1l0.5 0l1 1l0.5 0l1.5 1.4l0.5 0l4 4l0.5 0l0.6 0.6l0 0.5l3.5 3.5l0 0.5l1.5 1.5l0 0.5l1.9 2.5l0 0.5l1 1.5l0 0.4z"/>
<path fill="rgb(255,88,0)" fill-rule="evenodd" d="M294.7 344.4l-4-0.1l-5-2.4l-3.9-4l-0.9-4.5l-2.6-5l-0.9-4.5l3.3 1.5l1 1l0.5 0l1 1l0.5 0l1.5 1.5l0.5 0l4 3.9l0.5 0l0.6 0.6l0 0.5l3.5 3.5l0 0.5l1.4 1.5l0 0.5l1 1l0 0.5l1.5 2l0 0.6z"/>
<path fill="rgb(255,49,0)" fill-rule="evenodd" d="M294.2 343.9l-2.5 0.2l-2.1-0.7l-2.6-2l-0.8-2.3l-3-2l-1.7-4.7l-2.1-4l-0.8-4l2.1 1l1 1l0.5 0l1 1l0.5 0l1.5 1.5l0.5 0l4 4l0.5 0l0.5 0.5l0 0.5l3.5 3.5l0 0.5l1.5 1.5l0 0.5l2 2.5l0 0.8z"/>
<path fill="rgb(255,10,0)" fill-rule="evenodd" d="M293.7 343.5l-2.5 0.2l-1.6-0.8l-1-1l-0.6-1l-0.3-2.5l-3.5-2.9l-3-5.6l-0.8-2l-0.3-2.5l0.6 0l1 1l0.5 0l1 1l0.5 0l1.5 1.5l0.5 0l4 4l0.5 0l0.5 0.5l0 0.5l3.5 3.5l0 0.5l2.5 3l0.5 1.5z"/>
<path fill="rgb(226,0,0)" fill-rule="evenodd" d="M293.2 343l-2 0.2l-1.7-1.3l-1.2-4.5l-3.2-3l-2.8-4.5l-0.5-1.5l-0.1-2l0.5 0l1 1l0.5 0l1.5 1.5l0.5 0l4 4l0.5 0l0.5 0.5l0 0.5l3.5 3.5l0 0.5l1.5 1.5l0 0.5l1 1l0 0.5z"/>
<path fill="rgb(186,0,0)" fill-rule="evenodd" d="M292.7 342.4l-1.5 0.2l-0.8-0.7l-1-4.5l-4.5-5.5l-1.6-3l0.4-1.1l1.5 1.1l0.5 0l4 4l0.5 0l0.5 0.5l0 0.5l3.5 3.5l0 0.5l1.5 1.5l0.5 1z"/>
<path fill="rgb(147,0,0)" fill-rule="evenodd" d="M292.7 340.9l-1.2 0l-1-4l-3.8-5l-0.5-2.5l3.5 3.5l0.5 0l0.5 0.5l0 0.5l3.5 3.5l0 0.5l1 1l0.1 0.5z"/>
</g>
<ellipse cx="252.4" cy="368.5" rx="51.2" ry="49.6" fill="none" stroke="#1a1a1a" stroke-width="0.7"/>
<g clip-path="url(#ct2)">
<ellipse cx="391.3" cy="368.5" rx="52.4" ry="50.6" fill="rgb(0,0,226)"/>
<path fill="rgb(0,10,255)" fill-rule="evenodd" d="M391.9 419.4l-5 0l-0.5-0.5l-3.5 0l-0.5-0.5l-2 0l-0.5-0.5l-2 0l-0.5-0.5l-1 0l-0.5-0.5l-1.5 0l-0.5-0.5l-1 0l-1.5-1l-1 0l-6.5-3.5l-0.5 0l-2.5-2l-0.5 0l-1.5-1.5l-0.5 0l-1.5-1.5l-0.5 0l-6-6l0-0.5l-1.5-1.5l0-0.5l-1.5-1.5l0-0.5l-2-2.5l-1.5-3.5l-1.5-2.5l0-1l-1-1.5l-0.5-2.5l-0.5-0.5l0-1.5l-0.5-0.8l-0.1-5.7l2-12.5l0.5-7l1.1-4.3l3.6-9.7l0.9-1l0-0.5l1.5-1.5l0-0.5l5-5.5l0.5 0l3-3l7-2.4l11.5-4.9l8.5-2.6l2.4-1.1l11.1 0l0.5 0.5l2.5 0l0.5 0.4l2 0l0.5 0.5l1.5 0l0.5 0.5l1 0l0.5 0.5l1 0l0.5 0.5l1 0l1.5 1l1 0l3.5 2l1.5 0.5l1 1l1.5 0.5l1 1l0.5 0l1 0.9l0.5 0l2 2l0.5 0l6.7 6.7l0 0.5l2 2l0 0.5l2 2.5l0.5 1.5l1 1l1.5 3.5l0.5 0.5l0 1l1 1.5l0 1l0.5 0.5l0 1l0.5 0.5l0 1l0.5 0.5l0 1.5l0.5 0.5l0 2l0.5 0.5l0 3l0.5 0.5l0 10.5l-0.5 0.5l0 2.5l-0.5 0.5l0 2l-0.5 0.5l0 1.5l-0.5 0.5l0 1.5l-0.5 0.5l0 1l-1 1.5l0 1l-3.6 6.5l0 0.5l-2 2.5l0 0.5l-1.5 1.5l0 0.5l-5.1 5.6l-0.5 0l-3 2.9l-0.5 0l-1.5 1.5l-0.5 0l-2.5 2l-2 0.9l-3 0l-6.5 2.2l-7.8 1.4z"/>
<path fill="rgb(0,49,255)" fill-rule="evenodd" d="M383.9 417.4l-6 0.5l-0.5-0.5l-1 0l-0.5-0.5l-1.5 0l-0.5-0.5l-1 0l-1.5-1l-1 0l-6.5-3.5l-0.5 0l-2.5-2l-0.5 0l-1.5-1.5l-0.5 0l-1.5-1.5l-0.5 0l-6-6l0-0.5l-3-3.5l0-0.5l-1-1.5l-2.7-9.5l-1.1-6.5l0.1-4.5l1.8-11l0.4-7.5l0.8-3l3-6.5l2.7-7.5l1.8-3l2.2-2.1l3-1.4l7-1.6l11.5-5.8l11.5-2.7l3.5-2l2.4-2.4l4.1 0l0.5 0.5l2.5 0l0.5 0.5l2 0l0.5 0.4l1.5 0l0.5 0.5l1 0l0.5 0.5l1 0l0.5 0.5l1 0l1.5 1l1 0l3.5 2l1.5 0.5l1 1l1.5 0.5l1 1l0.5 0l1 1l0.5 0l2 1.9l0.5 0l6.7 6.7l0 0.5l2 2l0 0.5l1 1l0 0.5l1 1l0.5 1.5l1 1l0 0.5l2 3.5l0 1l1 1.5l0 1l0.5 0.5l0 1l0.5 0.5l0 1l0.5 0.5l0 1.5l0.5 0.5l0 2l0.5 0.5l0 3l0.5 0.5l0 10.5l-0.5 0.5l0 2.5l-0.5 0.5l0 2l-0.5 0.5l0 1.5l-0.5 0.5l0 1.5l-0.5 0.5l0 1l-1 1.5l-0.1 1l-3.5 6.5l0 0.5l-2 2.5l0 0.5l-1.5 1.5l0 0.5l-3 3l0 0.5l-7.6 6.5l-0.5 0l-1 1l-3-1.9l-2.8-0.1l-8.2 2.8l-8.5 1.2l-7.5 3.5z"/>
<path fill="rgb(0,88,255)" fill-rule="evenodd" d="M383.4 413.9l-11.5 0.3l-3.5-0.6l-3-0.9l-3.5-1.8l-3.5-2.6l-4.5-4.9l-2.2-3l-1.6-3l-1.3-3.5l-2.5-9.5l-0.8-4.5l0-4l1.7-11l0.4-8.5l1.1-3l3.2-6l2.8-7.5l1.3-2l1.4-1.3l2-0.9l5-0.6l3-0.9l3.5-1.7l7-4.3l7-1l4.5-1.5l3.5-1.8l2.5-1.8l2-2.1l1-2l0.5 0.4l2.5 0l0.5 0.5l2 0l0.5 0.5l1.5 0l0.5 0.5l1-0.1l0.5 0.5l1 0l0.5 0.5l1 0l1.5 1l1 0l3.5 2l1.5 0.5l1 1l1.5 0.5l1 1l0.5 0l1 1l0.5 0l2 1.9l0.5 0l6.7 6.7l0 0.5l2 2l0 0.5l2 2.5l0 0.5l1.5 2l1 2.5l1 1.5l0 1l1 1.5l0 1l0.5 0.5l0 1l0.5 0.5l0 1l0.5 0.5l0 1.5l0.5 0.5l0 2l0.5 0.5l0 3l0.5 0.5l0 10.5l-0.5 0.5l0 2.5l-0.5 0.5l0 2l-0.5 0.5l-0.6 3.5l-0.5 0.5l0 1l-1 1.5l0 1l-3.5 6.5l0 0.5l-2 2.5l0 0.5l-1.5 1.5l0 0.5l-3 3l0 0.5l-2.1 2l-0.5 0l-3 3l-0.5 0l-1 1l-4-2.6l-2-0.5l-2 0.1l-9 2.5l-8.5 1.3l-8.5 3.4z"/>
<path fill="rgb(0,128,255)" fill-rule="evenodd" d="M387.9 410.4l-17-0.1l-3.5-0.7l-4-1.6l-3.5-2.1l-2.5-2.1l-2.9-3.4l-1.6-3l-1.5-4l-2.1-8l-0.7-4.5l0-4l1.8-10.5l0.5-8.5l0.9-3l5.1-10.2l1.3-2.3l1.4-1.5l1.8-1l8-2.1l8.5-3.3l4.5-1.3l4.5-2.1l7-4.1l2.8-2.1l2.7-3l2-3.5l0.5 0.5l2 0l0.5 0.5l1.5 0l0.5 0.5l1 0l0.5 0.5l1 0l0.5 0.5l1-0.1l1.5 1l1 0l3.5 2l1.5 0.5l1 1l1.5 0.5l1 1l0.5 0l1 1l0.5 0l2 2l0.5 0l6.7 6.6l0 0.5l2 2l0 0.5l2 2.5l0.5 1.5l1 1l0 0.5l2 3.5l0 1l1 1.5l0 1l0.5 0.5l0 1l0.5 0.5l0 1l0.5 0.5l0 1.5l0.5 0.5l0 2l0.5 0.5l0 3l0.5 0.5l0 10.5l-0.5 0.5l0 2.5l-0.6 0.5l0 2l-0.5 0.5l0 1.5l-0.5 0.5l0 1.5l-0.5 0.5l0 1l-1 1.5l0 1l-3.5 6.5l0 0.5l-2 2.5l0 0.5l-1.5 1.5l0 0.5l-3 3l0 0.5l-5.1 4.5l-0.5 0.3l-3-2.2l-2.5-1.1l-2.5-0.5l-2.4 0l-8.6 2l-7.5 1.2l-7 2.5z"/>
<path fill="rgb(0,167,255)" fill-rule="evenodd" d="M389.4 407.5l-3 0.1l-3-0.2l-9.5-2.5l-5 0.3l-3-0.2l-4-1.3l-3.5-2.1l-1.4-1.7l-1.3-2.5l-2.2-6.5l-1.6-8l0.3-5.5l2.3-10l0.8-7.5l0.7-3l2.4-5.8l2.5-3.8l2.5-2.2l3-1.5l9-3l7-1.9l2-0.9l13.5-9.6l3-3.9l2.7-5.4l0.3 0l0.5 0.5l1.5 0l0.5 0.5l1 0l0.5 0.5l1 0l0.5 0.5l1 0l1.5 1l1 0l3.5 1.9l1.5 0.5l1 1l1.5 0.5l1 1l0.5 0l1 1l0.5 0l2 2l0.5 0l6.7 6.6l0 0.5l2 2l0 0.5l2 2.5l0.5 1.5l1 1l0 0.5l2 3.5l0 1l1 1.5l0 1l0.5 0.5l0 1l0.5 0.5l0 1l0.5 0.5l0 1.5l0.5 0.5l0 2l0.5 0.5l0 3l0.5 0.5l-0.1 10.5l-0.5 0.5l0 2.5l-0.5 0.5l0 2l-0.5 0.5l0 1.5l-0.5 0.5l0 1.5l-0.5 0.5l0 1l-1 1.5l0 1l-3.5 6.5l0 0.5l-2 2.5l0 0.5l-1.5 1.5l0 0.5l-3.1 3l0 0.5l-4 3.5l-3.5-2.3l-2.5-1.2l-3-0.8l-3.5-0.3l-14.5 2.5z"/>
<path fill="rgb(0,206,255)" fill-rule="evenodd" d="M428.4 404.9l-1 0l-4-2.6l-3-1.3l-7.5-1.6l-4 0.1l-8 1.5l-10 3.4l-2.5 0.4l-5.5-0.8l-9-3.5l-6.5 0.5l-3-0.3l-2.5-0.8l-2-1.5l-1.8-3l-1.3-4l-1.2-6.5l0.4-5l4.2-12l2.7-10.8l2-4l3.6-3.7l7.4-4.7l8.5-4l6.5-3.7l3-1.1l4-0.7l1.5-0.8l1-1.5l2-5.5l3.5-7.6l1.5 0.1l0.5 0.5l1 0l0.5 0.5l1 0l1.5 1l1 0l3.5 1.9l1.5 0.5l1 1l1.5 0.5l1 1l0.5 0l1 1l0.5 0l2 2l0.5 0l6.7 6.6l0 0.5l2 2l0 0.5l2 2.5l0.5 1.5l1 1l0 0.5l2 3.5l0 1l1 1.5l0 1l0.5 0.5l0 1l0.5 0.5l0 1l0.5 0.5l0 1.5l0.5 0.5l0 2l0.5 0.5l0 3l0.5 0.5l-0.1 10.5l-0.5 0.5l0 2.5l-0.5 0.5l0 2l-0.5 0.5l-0.5 3.5l-0.5 0.5l0 1l-1 1.5l0 1l-3.5 6.5l0 0.5l-2 2.5l0 0.5l-1.5 1.5l0 0.5z"/>
<path fill="rgb(0,245,255)" fill-rule="evenodd" d="M429.4 403.9l-5-3.2l-3-1.5l-8.5-3l-4-0.7l-3 0.1l-3.5 0.8l-12.5 4.9l-2.5 0.2l-3-0.3l-9.5-3l-7.5-1l-2.8-0.8l-1.5-1l-1.2-1.3l-1.8-4.2l-0.5-5l0.3-2.5l0.9-2.5l9.3-14.5l1-2.5l1.1-5.5l1-3l2.3-4l2.6-3l3.1-2.5l6.2-3.7l3-1.4l2.5-0.7l3 0l4.5 0.9l2.5 1.2l3.5 2.5l1.5 0.7l1.5-0.2l1.5-1.4l1.5-3.8l0.2-1.6l-0.3-1.5l-1.3-1.5l-4.1-2.2l-0.9-1.3l-0.4-1.5l0.3-2.5l2.6-6.5l0.9 0.5l1 0l1.5 1l1 0l3.5 2l1.5 0.5l1 0.9l1.5 0.5l1 1l0.5 0l1 1l0.5 0l2 2l0.5 0l6.7 6.6l0 0.5l2 2l0 0.5l2 2.5l0.5 1.5l1 1l1.5 3.5l0.5 0.5l0 1l1 1.5l0 1l0.5 0.5l0 1l0.5 0.5l0 1l0.5 0.5l0 1.5l0.5 0.5l0 2l0.5 0.5l-0.1 3l0.5 0.5l0 10.5l-0.5 0.5l0 2.5l-0.5 0.5l0 2l-0.5 0.5l-0.5 3.5l-0.5 0.5l0 1l-1 1.5l0 1l-3.5 6.5l0 0.5l-2 2.5l0 0.5l-1.6 1.5l0 0.5l-3 3l0 0.5z"/>
<path fill="rgb(29,255,226)" fill-rule="evenodd" d="M430.4 402.4l-6-4.2l-6.4-3.8l-2.7-2.5l-5.4-6.2l-3-2l-1 0.1l-1 0.7l-4.4 5.4l-5 4.5l-4.1 2.5l-4 1.2l-2.5 0l-3-0.4l-13-3.6l-3.2-2.2l-1-1.5l-0.7-2l-0.3-2l0.3-2.5l0.7-2l1.6-2.5l4.1-5l7-5.3l1.4-1.7l0.3-2.5l-0.9-5.5l-0.1-3l0.5-3l1.2-3l3.2-4l4.4-3.1l3.5-1.6l3.5-0.4l3.5 0.8l3 1.8l3.3 4l2 4l0.6 3l0.1 7.9l0.5 1.6l1 0l2-2l1.5-2.5l0.6-2l-0.1-7l2.5-9.5l0.6-5.5l-0.2-1.5l-0.9-2l-3.5-4l-0.5-1l0.1-2l0.7-4l0.7 0.5l1 0l3.5 2l1.5 0.5l1 1l1.5 0.5l1 0.9l0.5 0l1 1l0.5 0l2 2l0.5 0l6.7 6.6l0 0.5l2 2l0 0.5l2 2.5l0.5 1.5l1 1l0 0.5l2 3.5l0 1l1 1.5l0 1l0.5 0.5l0 1l0.5 0.5l0 1l0.5 0.5l-0.1 1.5l0.5 0.5l0 2l0.5 0.5l0 3l0.5 0.5l0 10.5l-0.5 0.5l0 2.5l-0.5 0.5l0 2l-0.5 0.5l-0.5 3.5l-0.5 0.5l0 1l-1 1.5l0 1l-3.5 6.5l0 0.5l-2.1 2.5l0 0.5l-1.5 1.5l0 0.5z"/>
<path fill="rgb(69,255,186)" fill-rule="evenodd" d="M431.9 400.9l-5.1-4l-4.5-4.5l-4.5-8.5l-2.9-4.5l-1.4-3.5l-0.3-5l2.2-11l-0.3-9l1.6-9l0.3-6l-0.4-3l-2-6.5l-0.5-3.5l0.8 0l1.5 1l1.5 0.5l1 1l1.5 0.5l1 1l0.5 0l1 0.9l0.5 0l2 2l0.5 0l6.6 6.6l0 0.5l2 2l0 0.5l2 2.5l0.5 1.5l1 1l1 2.5l1 1.5l0 1l1 1.5l0 1l0.5 0.5l0 1l0.5 0.5l0 1l0.5 0.5l0 1.5l0.5 0.5l0 2l0.5 0.5l0 3l0.5 0.5l0 10.5l-0.5 0.5l0 2.5l-0.5 0.5l0 2l-0.5 0.5l-0.5 3.5l-0.5 0.5l0 1l-1 1.5l0 1l-3.6 6.5l0 0.5l-2 2.5l0 0.5l-1.5 1.5l0 0.5zM383.9 394.9l-3-0.2l-4-0.8l-3.5-1.2l-2.5-1.3l-1.7-1.5l-0.9-1.5l-0.4-2l0.2-2l1.7-3.5l3.4-3.5l3.2-2l8.2-3.5l1.6-1.5l0.2-1l-0.3-1.5l-2.9-6.5l-1.1-3.5l-0.2-3.5l0.5-3l2-3.5l3-2.7l4-1.7l3.5-0.1l3.5 1.6l1.6 1.4l1.4 2l1.4 4l-0.2 4.5l-1.2 3.8l-2 3.2l-2.5 2.7l-4.8 3.8l-1 1.5l0.2 2l2.7 9l0 3l-0.9 3l-1.6 2.5l-2.1 1.8l-2.5 1.2z"/>
<path fill="rgb(108,255,147)" fill-rule="evenodd" d="M433.4 399.4l-3.1-2.5l-3.3-4l-3.5-6.5l-5.1-7.5l-1.6-4l-0.4-4.5l1.1-10l-0.6-9l1.3-11l-0.4-9l-1.1-7.5l1.2 0.5l1 1l1.5 0.5l1 1l0.5 0l1 1l0.5-0.1l2 2l0.5 0l6.6 6.6l0 0.5l2 2l0 0.5l2 2.5l0.5 1.5l1 1l0 0.5l2 3.5l0 1l1 1.5l0 1l0.5 0.5l0 1l0.5 0.5l0 1l0.5 0.5l0 1.5l0.5 0.5l0 2l0.5 0.5l0 3l0.5 0.5l0 10.5l-0.5 0.5l0 2.5l-0.5 0.5l0 2l-0.5 0.5l-0.5 3.5l-0.5 0.5l0 1l-1 1.5l0 1l-3.6 6.5l0 0.5l-2 2.5l0 0.5l-1.5 1.5zM392.4 362.9l-3-0.5l-2.6-2l-1.5-3l-0.6-4.5l0.8-3l1.9-2.4l2.5-1.7l3-0.7l2.5 0.6l2.5 1.7l1.9 3l0.5 3l-0.5 3l-1.9 3.5l-2.5 2.2zM382.9 391.5l-2.5 0.2l-3-0.5l-2.8-1.3l-1.7-1.6l-0.8-1.9l0.3-2l1.1-2l1.9-1.7l3-1.4l3-0.3l2.9 0.9l2.1 2l1.3 3l-0.4 3l-1.9 2.4z"/>
<path fill="rgb(147,255,108)" fill-rule="evenodd" d="M434.9 397.4l-2-1.5l-2.4-3l-4.1-7.5l-5.5-7l-1.8-4.5l-0.3-3.5l0.6-8.5l-1.1-9.5l1.1-10l-0.5-17l1.5 0.5l1 1l0.5 0l1 1l0.5 0l2 1.9l0.5 0l6.6 6.6l0 0.5l2 2l0 0.5l1 1l0 0.5l1 1l0.5 1.5l1 1l0 0.5l2 3.5l0 1l1 1.5l0 1l0.5 0.5l0 1l0.5 0.5l0 1l0.5 0.5l0 1.5l0.5 0.5l0 2l0.5 0.5l0 3l0.5 0.5l0 10.5l-0.5 0.5l0 2.5l-0.5 0.5l0 2l-0.5 0.5l-0.5 3.5l-0.5 0.5l0 1l-1.1 1.5l0 1l-3.5 6.5l0 0.5l-1 1l0 0.5l-1 1zM392.9 359.5l-2-0.2l-2-1.2l-1.3-2.2l-0.6-2.5l0.4-2.5l1-1.7l2-1.6l2-0.6l2 0.4l2 1.4l1.2 2.1l0.4 2l-0.5 2.5l-1.1 2l-1.5 1.3zM379.9 386.9l-1.1 0l-0.1-1l0.7-0.4l0.5 0.2l0.3 0.7z"/>
<path fill="rgb(186,255,69)" fill-rule="evenodd" d="M436.4 394.9l-0.4 0l-2.1-2.3l-5.5-8.2l-5-6l-1.2-2l-1-2.5l-0.3-3l0.3-8.5l-1.6-10l1-9.5l-0.7-8l0.6-8.5l1.4 0.5l3.5 2.9l0.5 0l6.6 6.6l0 0.5l2 2l0 0.5l1 1l0 0.5l1 1l0.5 1.5l1 1l0 0.5l2 3.5l0 1l1 1.5l0 1l0.5 0.5l0 1l0.5 0.5l0 1l0.5 0.5l0 1.5l0.5 0.5l0 2l0.5 0.5l0 3l0.5 0.5l0 10.5l-0.5 0.5l0 2.5l-0.5 0.5l0 2l-0.5 0.5l0 1.5l-0.6 0.5l0 1.5l-0.5 0.5l0 1l-1 1.5l0 1l-2 3.5l0 0.5zM392.9 356.5l-1.5-0.1l-1-0.6l-0.7-0.9l-0.5-1.5l0.1-1.5l0.6-1.1l1-0.9l1.5-0.5l2 0.8l0.9 1.2l0.3 1l-0.5 2.5l-0.9 1z"/>
<path fill="rgb(226,255,29)" fill-rule="evenodd" d="M437.9 392.4l-12.5-14.5l-1.5-2.3l-0.8-2.2l-0.4-3l0.3-8l-1.9-7.5l-0.3-2.5l0.9-10l-1-8l1.1-7.5l1.1 1l0.5 0l2 2l0.5 0l6.6 6.5l0 0.5l2 2l0 0.5l1 1l0 0.5l1 1l0.5 1.5l1 1l1.5 3.5l0.5 0.5l0 1l1 1.5l0 1l0.5 0.5l0 1l0.5 0.5l0 1l0.5 0.5l0 1.5l0.5 0.5l0 2l0.5 0.5l0 3l0.5 0.5l0 10.5l-0.5 0.5l0 2.5l-0.5 0.5l-0.1 2l-0.5 0.5l-0.5 3.5l-0.5 0.5l0 1l-1 1.5l0 1l-0.5 0.5z"/>
<path fill="rgb(255,245,0)" fill-rule="evenodd" d="M439.4 389.4l-0.3 0l-11.2-11.5l-2-2.7l-1-2.3l-0.3-11l-2.2-7l-0.4-2.5l0.7-9.5l-1.2-8l1.4-7l0.5 0l2 2l0.5 0l6.6 6.5l0 0.5l2 2l0 0.5l1 1l0 0.5l1 1l0.5 1.5l1 1l0 0.5l2 3.5l0 1l1 1.5l0 1l0.5 0.5l0 1l0.5 0.5l0 1l0.5 0.5l0 1.5l0.5 0.5l0 2l0.5 0.5l0 3l0.5 0.5l0 10.5l-0.6 0.5l0 2.5l-0.5 0.5l0 2l-0.5 0.5l-0.5 3.5l-0.5 0.5l0 1l-1 1.5l0 1l-0.5 0.5z"/>
<path fill="rgb(255,206,0)" fill-rule="evenodd" d="M440.4 386.4l-10-8.9l-2.2-2.6l-1.2-2.5l-0.4-2.5l-0.4-8.5l-2.3-6l-0.7-3l0.4-9.5l-1.4-8l1.7-6.5l4 3.4l4.6 4.6l0 0.5l2 2l0 0.5l2 2.5l0.5 1.5l1 1l1.5 3.5l0.5 0.5l0 1l1 1.5l0 1l0.5 0.5l0 1l0.5 0.5l0 1l0.5 0.5l0 1.5l0.5 0.5l0 2l0.5 0.5l0 3l0.5 0.5l-0.1 10.5l-0.5 0.5l0 2.5l-0.5 0.5l0 2l-0.5 0.5l-0.5 3.5l-0.5 0.5l0 1z"/>
<path fill="rgb(255,167,0)" fill-rule="evenodd" d="M441.9 383.4l-9.5-7.2l-2.3-2.8l-1.1-2.5l-1.4-10l-2.4-5.5l-0.8-3l0.1-9.5l-1.5-7.5l0.3-2l1.3-4l1.3 0.5l6.6 6.5l0 0.5l2 2l0 0.5l2 2.5l0.5 1.5l1 1l0 0.5l2 3.5l0 1l1 1.5l0 1l0.5 0.5l0 1l0.5 0.5l0 1l0.5 0.5l0 1.5l0.5 0.5l0 2l0.5 0.5l0 3l0.5 0.5l-0.1 10.5l-0.5 0.5l0 2.5l-0.5 0.5l0 2l-0.5 0.5z"/>
<path fill="rgb(255,128,0)" fill-rule="evenodd" d="M442.9 379.4l-0.5 0.4l-8.1-5.9l-2.2-2.5l-1.5-3l-1.8-8l-2.5-5.5l-0.7-3l-0.1-8.5l-1.7-8l0.2-1.5l1.4-4l0.5 0l6.5 6.4l0.1 0.6l2 2l0 0.5l2 2.5l0.5 1.5l1 1l0 0.5l2 3.5l0 1l1 1.5l0 1l0.5 0.5l0 1l0.5 0.5l0 1l0.5 0.5l0 1.5l0.5 0.5l0 2l0.5 0.5l-0.1 3l0.5 0.5l0 10.5l-0.5 0.5l0 2.5l-0.5 0.5z"/>
<path fill="rgb(255,88,0)" fill-rule="evenodd" d="M443.4 376.5l-8-5.9l-2.5-2.7l-1.5-3l-1.6-5.5l-2.5-5.5l-0.7-3l-0.2-8l-1.7-7.5l0.2-1.5l1.4-3.5l6.2 6l0 0.5l2 2l0 0.5l2 2.5l0.5 1.5l1 1l0 0.5l2 3.5l0 1l1 1.5l0 1l0.5 0.5l0 1l0.5 0.5l0 1l0.5 0.5l0 1.5l0.5 0.5l-0.1 2l0.5 0.5l0 3l0.5 0.5l0 10.5l-0.5 0.5z"/>
<path fill="rgb(255,49,0)" fill-rule="evenodd" d="M443.9 372.7l-3-2.6l-5-3l-2-2l-1.1-1.7l-1.7-4.5l-2.5-5l-0.8-3l-0.4-8l-1.6-7l0.1-1.6l1.1-2.9l0.4 0l5 5l0 0.5l2 2l0 0.5l2 2.5l0.5 1.5l1 1l1.5 3.5l0.5 0.5l0 1l1 1.5l0 1l0.5 0.5l0 1l0.5 0.5l0 1l0.5 0.5l0 1.5l0.5 0.5l0 2l0.5 0.5l0 3l0.5 0.5z"/>
<path fill="rgb(255,10,0)" fill-rule="evenodd" d="M443.9 368.8l-6.5-4.2l-2-1.7l-5.8-10l-0.7-2.5l-0.4-7l-1.5-7.5l0.1-1.5l0.8-2.3l4.5 4.3l0 0.5l2 2l0 0.5l2 2.5l0.5 1.5l1 1l0 0.5l2 3.5l0 1l1 1.5l0 1l0.5 0.5l0 1l0.5 0.5l0 1l0.5 0.5l0 1.5l0.5 0.5l0 2l0.5 0.5l0 3l0.5 0.5z"/>
<path fill="rgb(226,0,0)" fill-rule="evenodd" d="M443.9 365.5l-5-3.4l-2.5-2.1l-3-3.8l-2.5-3.8l-0.7-2l-0.4-6l-1.4-7.5l0-2l0.5-1.9l3.5 3.4l0 0.5l2 2l0 0.5l1 1l0 0.5l1 1l0.5 1.5l1 1l1.5 3.5l0.5 0.5l0 1l1 1.5l0 1l0.5 0.5l0 1l0.5 0.5l0 1l0.5 0.5l0 1.5l0.5 0.5l0 2l0.5 0.5l0 3l0.5 0.5z"/>
<path fill="rgb(186,0,0)" fill-rule="evenodd" d="M443.4 362l-7-5.5l-2.5-2.8l-1.5-2.3l-0.7-2l-1.7-11l0-4l0.4 0l2 2l0 0.5l2 2l0 0.5l1 1l0 0.5l1 1l0.5 1.5l1 1l0 0.5l2 3.5l0 1l1 1.5l0 1l0.5 0.5l0 1l0.5 0.5l0 1l0.5 0.5l0 1.5l0.5 0.5l0 2l0.5 0.5z"/>
<path fill="rgb(147,0,0)" fill-rule="evenodd" d="M442.9 358.5l-5.7-4.6l-3.1-4l-0.9-2.5l-1.3-6.1l-0.5-5.4l1 0.5l0 0.5l2 2l0 0.5l1 1l0 0.5l1 1l0.5 1.5l1 1l0 0.5l2 3.5l0 1l1 1.5l0 1l0.5 0.5l0 1l0.5 0.5l0 1l0.5 0.5l0 1.5l0.5 0.5z"/>
</g>
<ellipse cx="391.3" cy="368.5" rx="51.4" ry="49.6" fill="none" stroke="#1a1a1a" stroke-width="0.7"/>
<g clip-path="url(#ct3)">
<ellipse cx="113.1" cy="472.3" rx="53" ry="51.4" fill="rgb(0,0,147)"/>
<path fill="rgb(0,0,186)" fill-rule="evenodd" d="M118.6 524l-11 0l-0.5-0.5l-3 0l-0.5-0.5l-2 0l-0.5-0.5l-1.5 0l-0.5-0.5l-1.5-0.1l-0.5-0.5l-1 0l-0.5-0.5l-2.5-0.5l-2.5-1.5l-1 0l-1.5-1l-0.5 0l-1-1l-2.5-1l-1-1l-1-7l-1.6-3l-1.9-1.5l-2.5-1l-2.5-0.3l-4 0.3l0-0.5l-1-1l0-0.5l-2-2.5l-1.5-3.5l-1.6-2.5l0-1l-1-1.5l0-1l-0.5-0.5l0-1.5l-0.5-0.5l0-1l-0.5-0.5l0-2l-0.5-0.5l0-2.5l-0.5-0.5l0-13.5l0.5-0.5l0-2.5l0.4-0.5l0.5-3.5l0.5-0.5l0-1l0.5-0.5l0.5-2.5l1.5-2.5l0-1l0.5-0.5l0-0.5l1-1l1-2.5l1-1l0-0.5l1-1l0-0.5l1.5-1.5l0-0.5l2-2l0-0.5l4.2-4.2l0.5 0l2.5-2.5l0.5 0l1.5-1.5l0.5 0l2.5-2l0.5 0l7.5-4l2.5-0.5l0.5-0.5l1 0l0.5-0.5l1 0l0.5-0.5l1.5 0l0.5-0.5l2 0l0.5-0.5l2.5 0l0.5-0.5l6.5 0l0.5-0.5l0.5 0.5l6.5 0l0.5 0.5l2.5 0l0.5 0.5l2 0l0.5 0.5l1.5 0l0.5 0.5l1 0l0.5 0.5l1 0l0.5 0.5l1 0l0.5 0.5l1 0l0.5 0.5l7.5 3.5l1 1l0.5 0l1 1l0.5 0l4.5 4l0.5 0l4.2 4.2l0 0.5l2 2l0 0.5l1.5 1.5l0 0.5l2 2.5l1 2.5l1 1l0 0.5l0.5 0.5l0 1l1.5 2.5l0.5 2.5l0.5 0.5l0 1l0.5 0.5l0.4 3.5l0.5 0.5l0 2.5l0.5 0.5l-0.1 13.5l-0.5 0.5l0 2.5l-0.5 0.5l0.1 2l-0.5 0.5l0 1l-0.5 0.5l0 1.5l-0.5 0.5l0 1l-1 1.5l0 1l-3 5.5l0 0.5l-3 4l0 0.5l-1.5 1.5l0 0.5l-7.6 7.6l-0.5 0l-3.5 3l-0.5 0l-1 1l-2.5 1l-1 1l-0.5 0l-1.5 1l-1 0l-2.5 1.5l-2.5 0.5l-0.5 0.5l-1 0l-0.5 0.5l-3.5 0.5l-0.5 0.5l-2 0l-0.5 0.5l-3 0z"/>
<path fill="rgb(0,0,226)" fill-rule="evenodd" d="M118.6 524l-11 0l-0.5-0.5l-3 0l-0.5-0.5l-2-0.1l-0.5-0.5l-1.5 0l-0.5-0.5l-1.5 0l-0.5-0.5l-2.5-0.5l-0.5-0.5l-1 0l-2.5-1.5l-1 0l-0.5-0.5l-0.5 0l-1.3-4l0.4-7.5l-0.3-2l-0.8-1.7l-6-5.3l-3-1.5l-4-0.3l-6.5 2.1l-0.5-0.3l-1.5-3.5l-1.5-2.5l0-1l-1-1.5l-0.1-1l-0.5-0.5l0-1.5l-0.5-0.5l0-1l-0.5-0.5l0-2l-0.5-0.5l0-2.5l-0.5-0.5l0-13.5l0.5-0.5l0-2.5l0.5-0.5l0.5-3.5l0.5-0.5l0-1l0.5-0.5l0.5-2.5l1.5-2.5l0-1l0.5-0.5l0-0.5l0.9-1l1-2.5l1-1l0-0.5l1-1l0-0.5l1.5-1.5l0-0.5l2-2l0-0.5l4.2-4.2l0.5 0l2.5-2.5l0.5 0l1.5-1.5l0.5 0l2.5-2l0.5 0l7.5-4l2.5-0.5l0.5-0.5l1 0l0.5-0.5l1 0l0.5-0.5l1.5 0l0.5-0.5l2 0l0.5-0.5l2.5 0l0.5-0.5l6.5 0l0.5-0.5l0.5 0.5l6.5 0l0.5 0.5l2.5 0l0.5 0.5l2 0l0.5 0.5l1.5 0l0.5 0.5l1 0l0.5 0.5l1 0l0.5 0.5l1 0l0.5 0.5l1 0l0.5 0.5l7.5 3.5l1 1l0.5 0l1 1l0.5 0l4.5 4l0.5 0l4.2 4.2l0 0.5l2 2l0 0.5l1.5 1.5l0 0.5l2 2.5l1 2.5l1 1l0 0.5l0.5 0.5l0 1l1.5 2.5l0.5 2.5l0.4 0.5l0 1l0.5 0.5l0.5 3.5l0.5 0.5l0 2.5l0.5 0.5l-0.1 13.5l-0.5 0.5l0 2.5l-0.5 0.5l0 2l-0.5 0.5l0 1l-0.4 0.5l0 1.5l-0.5 0.5l0 1l-1 1.5l0 1l-3 5.5l0 0.5l-3 4l0 0.5l-1.5 1.5l0 0.5l-7.6 7.6l-0.5 0l-3.5 3l-0.5 0l-1 1l-2.5 1l-1 1l-0.5 0l-1.5 1l-1 0l-2.5 1.5l-2.5 0.5l-0.5 0.5l-1 0l-0.5 0.5l-3.5 0.5l-0.5 0.5l-2 0l-0.5 0.5l-3 0z"/>
<path fill="rgb(0,10,255)" fill-rule="evenodd" d="M118.6 524l-11 0l-0.5-0.5l-3-0.1l-0.5-0.5l-2 0l-0.5-0.5l-3.5-0.5l-0.5-0.5l-1 0l-0.5-0.5l-1 0l-0.5-0.5l-0.5 0l-1.7-4l-0.6-2.5l0.7-7.5l0-6l-0.8-2l-3.6-5.4l-2-1.1l-10-1l-4.2 1l-6.3 2.9l-1.5-2.9l0-1l-1-1.5l0-1l-0.5-0.5l0-1.5l-0.6-0.5l0-1l-0.5-0.5l0-2l-0.5-0.5l0-2.5l-0.5-0.5l0-13.5l0.5-0.5l0-2.5l0.5-0.5l0.5-3.5l0.5-0.5l0-1l0.5-0.5l0.5-2.5l1.5-2.5l0-1l0.5-0.5l0-0.5l1-1l1-2.5l1-1l0-0.5l1-1l0-0.5l1.5-1.5l0-0.5l2-2l0-0.5l4.1-4.2l0.5 0l2.5-2.5l0.5 0l1.5-1.5l0.5 0l2.5-2l0.5 0l7.5-4l2.5-0.5l0.5-0.5l1 0l0.5-0.5l1 0l0.5-0.5l1.5 0l0.5-0.5l2 0l0.5-0.5l2.5 0l0.5-0.5l6.5 0l0.5-0.5l0.5 0.5l6.5 0l0.5 0.5l2.5 0l0.5 0.5l2 0l0.5 0.5l1.5 0l0.5 0.5l1 0l0.5 0.5l1 0l0.5 0.5l1 0l0.5 0.5l1 0l0.5 0.5l7.5 3.5l1 1l0.5 0l1 1l0.5 0l4.5 4l0.5 0l4.2 4.2l0 0.5l2 2l0 0.5l1.5 1.5l0 0.5l2 2.5l1 2.5l1 1l0 0.5l0.5 0.5l0 1l1.5 2.5l0.4 2.5l0.5 0.5l0 1l0.5 0.5l0.5 3.5l0.5 0.5l0 2.5l0.5 0.5l-0.1 6.7l-1.5 0.5l-0.6 1.3l0.6 2.3l1.4 2.7l-0.4 0.5l0 2.5l-0.5 0.5l0 2l-0.5 0.5l0 1l-0.5 0.5l0 1.5l-0.5 0.5l0 1l-0.9 1.5l0 1l-3 5.5l0 0.5l-3 4l0 0.5l-1.5 1.5l0 0.5l-7.6 7.6l-0.5 0l-3.5 3l-0.5 0l-1 1l-2.5 1l-1 1l-0.5 0l-1.5 1l-1 0l-2.5 1.5l-2.5 0.5l-0.5 0.5l-1 0l-0.5 0.5l-3.5 0.5l-0.5 0.5l-2 0l-0.5 0.5l-3 0z"/>
<path fill="rgb(0,49,255)" fill-rule="evenodd" d="M118.6 524l-11-0.1l-0.5-0.5l-3 0l-0.5-0.5l-2 0l-0.5-0.5l-1.5 0l-0.5-0.5l-1.3 0l-2.7-6.5l-0.7-3l0.2-6.5l0.7-7l-5.4-9.5l-1.3-0.9l-2-0.6l-12-0.5l-4 1.1l-7 3.4l0-1l-1-1.5l0-1l-0.5-0.5l0-1.5l-0.5-0.5l0-1l-0.5-0.5l-0.1-2l-0.5-0.5l0-2.5l-0.5-0.5l0-13.5l0.5-0.5l0-2.5l0.5-0.5l0.5-3.5l0.5-0.5l0-1l0.5-0.5l0.5-2.5l1.5-2.5l0-1l0.5-0.5l0-0.5l1-1l1-2.5l1-1l0-0.5l1-1l0-0.5l1.5-1.5l0-0.5l2-2l0-0.5l4.1-4.1l0.5 0l2.5-2.5l0.5 0l1.5-1.5l0.5 0l2.5-2.1l0.5 0l7.5-4l2.5-0.5l0.5-0.5l1 0l0.5-0.5l1 0l0.5-0.5l1.5 0l0.5-0.5l2 0l0.5-0.5l2.5 0l0.5-0.5l6.5 0l0.5-0.5l0.5 0.5l6.5 0l0.5 0.5l2.5 0l0.5 0.5l2 0l0.5 0.5l1.5 0l0.5 0.5l1 0l0.5 0.5l1 0l0.5 0.5l1 0l0.5 0.5l1 0l0.5 0.5l7.5 3.5l1 1l0.5 0l1 1l0.5 0l4.5 4l0.5 0l4.2 4.2l0 0.5l2 2l0 0.5l1.5 1.5l0 0.5l2 2.5l1 2.5l1 1l0 0.5l0.5 0.5l0 1l1.4 2.5l0.5 2.5l0.5 0.5l0 1l0.5 0.5l0.5 3.5l0.5 0.5l-0.1 2.5l0.5 0.5l0 3.9l-2.3 0.1l-1.7 0.5l-1 0.7l-0.5 1.3l0.3 2l1.2 3.5l3 5.6l0 1.4l-0.5 0.5l0 1l-0.5 0.5l0 1.5l-0.5 0.5l0 1l-1 1.5l0 1l-2.9 5.5l0 0.5l-3 4l0 0.5l-1.5 1.5l0 0.5l-7.6 7.6l-0.5 0l-3.5 3l-0.5 0l-1 1l-2.5 1l-1 1l-0.5 0l-1.5 1l-1 0l-2.5 1.5l-2.5 0.5l-0.5 0.5l-1 0l-0.5 0.5l-3.5 0.5l-0.5 0.5l-2 0l-0.5 0.5l-3 0z"/>
<path fill="rgb(0,88,255)" fill-rule="evenodd" d="M118.6 524l-11-0.1l-0.5-0.5l-3 0l-0.5-0.5l-2 0l-0.6-0.5l-3.8-8.5l-0.8-3l-0.1-4.5l1.2-6.5l0-2l-3.1-4l-2.8-5.2l-1.5-1.7l-2-1.1l-2-0.5l-8.5-0.8l-3.5 0l-4 0.9l-7.5 3.9l0-1l-0.5-0.5l0-1.5l-0.5-0.5l0-1l-0.5-0.5l0-2l-0.5-0.5l-0.1-2.5l-0.5-0.5l0-13.5l0.5-0.5l0-2.5l0.5-0.5l0.5-3.5l0.5-0.5l0-1l0.5-0.5l0.5-2.5l1.5-2.5l0-1l0.5-0.5l0-0.5l1-1l1-2.5l1-1l0-0.5l1-1l0-0.5l1.5-1.5l0-0.5l2-2l0-0.5l4.1-4.1l0.5 0l2.5-2.5l0.5 0l1.5-1.5l0.5 0l2.5-2l0.5 0l7.5-4l2.5-0.5l0.5-0.5l1 0l0.5-0.5l1 0l0.5-0.6l1.5 0l0.5-0.5l2 0l0.5-0.5l2.5 0l0.5-0.5l6.5 0l0.5-0.5l0.5 0.5l6.5 0l0.5 0.5l2.5 0l0.5 0.5l2 0l0.5 0.5l1.5 0l0.5 0.5l1 0l0.5 0.5l1 0l0.5 0.5l1 0l0.5 0.5l1 0l0.5 0.5l7.5 3.5l1 1l0.5 0l1 1l0.5 0l4.5 4l0.5 0l4.2 4.2l0 0.5l2 2l0 0.5l1.5 1.5l0 0.5l2 2.5l1 2.5l1 1l0 0.5l0.5 0.5l0 1l1.4 2.5l0.5 2.5l0.5 0.5l0 1l0.5 0.5l0.5 3.5l0.5 0.5l-0.1 2.5l0.5 0.5l0 2.1l-3 0.2l-2 0.6l-1.4 1.1l-0.7 1.5l-0.1 2l0.9 3.5l1.8 5l2.5 4.5l0 2l-0.5 0.5l0 1l-1 1.5l0 1l-2.9 5.5l0 0.5l-3 4l0 0.5l-1.5 1.5l0 0.5l-7.6 7.6l-0.5 0l-3.5 3l-0.5 0l-1 1l-2.5 1l-1 1l-0.5 0l-1.5 1l-1 0l-2.5 1.5l-2.5 0.5l-0.5 0.5l-1 0l-0.5 0.5l-3.5 0.5l-0.5 0.5l-2 0l-0.5 0.5l-3 0z"/>
<path fill="rgb(0,128,255)" fill-rule="evenodd" d="M118.6 523.9l-11 0l-0.5-0.5l-2.5 0l-0.5-0.7l-2-3.2l-2.8-5.6l-1.2-3.5l-0.2-4l1.2-6.5l-0.2-2.5l-3.4-4.5l-3.2-6l-2.2-2.2l-2.5-1.4l-2.5-0.7l-7.5-0.6l-5 0l-3.5 0.8l-7 4l-0.5-0.9l0-1l-0.5-0.5l0-2l-0.5-0.5l0-2.5l-0.5-0.5l-0.1-13.5l0.5-0.5l0-2.5l0.5-0.5l0.5-3.5l0.5-0.5l0-1l0.5-0.5l0.5-2.5l1.5-2.5l0-1l0.5-0.5l0-0.5l1-1l1-2.5l1-1l0-0.5l1-1l0-0.5l1.5-1.5l0-0.5l2-2l0-0.5l4.1-4.1l0.5 0l2.5-2.5l0.5 0l1.5-1.5l0.5 0l2.5-2l0.5 0l7.5-4l2.5-0.5l0.5-0.5l1 0l0.5-0.5l1 0l0.5-0.5l1.5 0l0.5-0.5l2 0l0.5-0.5l2.5 0l0.5-0.5l6.5 0l0.5-0.5l0.5 0.5l6.5-0.1l0.5 0.5l2.5 0l0.5 0.5l2 0l0.5 0.5l1.5 0l0.5 0.5l1 0l0.5 0.5l1 0l0.5 0.5l1 0l0.5 0.5l1 0l0.5 0.5l7.5 3.5l1 1l0.5 0l1 1l0.5 0l4.5 4l0.5 0l4.2 4.2l0 0.5l2 2l0 0.5l1.5 1.5l0 0.5l2 2.5l1 2.5l1 1l0 0.5l0.5 0.5l-0.1 1l1.5 2.5l0.5 2.5l0.5 0.5l0 1l0.5 0.5l0.4 3.5l0.5 0.5l0 2.5l0.5 0.5l0 0.6l-3.5 0.3l-2.5 0.7l-1.8 1.4l-0.8 1.5l-0.1 3l1.7 7l2 5.1l2.5 4.4l-1 1.5l0 1l-3 5.5l0 0.5l-3 4l0 0.5l-1.5 1.5l0 0.5l-7.5 7.6l-0.5 0l-3.5 3l-0.5 0l-1 1l-2.5 1l-1 1l-0.5 0l-1.5 1l-1 0l-2.5 1.5l-2.5 0.5l-0.5 0.5l-1 0l-0.5 0.5l-3.5 0.5l-0.5 0.5l-2 0l-0.5 0.4l-3 0z"/>
<path fill="rgb(0,167,255)" fill-rule="evenodd" d="M118.6 523.9l-10.1 0l-4.4-4.9l-3.5-6.1l-1.2-3.5l-0.1-3.5l1.3-6.5l-0.4-2.5l-3.6-4.6l-3.5-7.1l-3-3.1l-2.5-1.5l-3-0.8l-13.5-0.2l-3 0.8l-5.5 3.4l-1.5 0.6l0-2l-0.5-0.5l0-2.5l-0.5-0.5l-0.1-13.5l0.5-0.5l0-2.5l0.5-0.5l0.5-3.5l0.5-0.5l0-1l0.5-0.5l0.5-2.5l1.5-2.5l0-1l0.5-0.5l0-0.5l1-1l1-2.5l1-1l0-0.5l1-1l0-0.5l1.5-1.5l0-0.5l2-2l0-0.5l4.1-4.1l0.5 0l2.5-2.5l0.5 0l1.5-1.5l0.5 0l2.5-2l0.5 0l7.5-4l2.5-0.5l0.5-0.5l1 0l0.5-0.5l1 0l0.5-0.5l1.5 0l0.5-0.5l2 0l0.5-0.5l2.5 0l0.5-0.5l6.5 0l0.5-0.5l0.5 0.5l6.5 0l0.5 0.5l2.5 0l0.5 0.5l2 0l0.5 0.5l1.5-0.1l0.5 0.5l1 0l0.5 0.5l1 0l0.5 0.5l1 0l0.5 0.5l1 0l0.5 0.5l7.5 3.5l1 1l0.5 0l1 1l0.5 0l4.5 4l0.5 0l4.2 4.2l0 0.5l2 2l0 0.5l1.5 1.5l0 0.5l2 2.5l1 2.5l0.9 1l0 0.5l0.5 0.5l0 1l1.5 2.5l0.5 2.5l0.5 0.5l0 1l0.5 0.5l0.4 3.5l0.5 0.5l0 2.3l-4 0.4l-3 0.8l-2 1.5l-1 2l0 3l2.1 9l2.2 5.5l2.7 5l-3 5.5l0 0.5l-3 4l0 0.5l-1.5 1.5l0 0.5l-7.5 7.5l-0.5 0l-3.5 3l-0.5 0l-1 1l-2.5 1l-1 1l-0.5 0l-1.5 1l-1 0l-2.5 1.5l-2.5 0.5l-0.5 0.5l-1 0l-0.5 0.5l-3.5 0.5l-0.5 0.5l-2 0l-0.5 0.5l-3 0z"/>
<path fill="rgb(0,206,255)" fill-rule="evenodd" d="M118.6 523.9l-5.7 0l-5.3-4.1l-4-4.8l-2.2-4.1l-0.7-3l0.1-2.5l1.3-6l-0.2-2.5l-0.9-1.5l-3.2-3.5l-2-5.5l-1.3-2.5l-1.9-2.6l-2-1.9l-2.5-1.5l-3-0.6l-14 0.1l-3.5 0.8l-7 3.4l0-2.2l-0.5-0.5l-0.1-13.5l0.5-0.5l0-2.5l0.5-0.5l0.5-3.5l0.5-0.5l0-1l0.5-0.5l0.5-2.5l1.5-2.5l0-1l0.5-0.5l0-0.5l1-1l1-2.5l1-1l0-0.5l1-1l0-0.5l1.5-1.5l0-0.5l2-2l0-0.5l4.1-4.1l0.5 0l2.5-2.5l0.5 0l1.5-1.5l0.5 0l2.5-2l0.5 0l7.5-4l2.5-0.5l0.5-0.5l1 0l0.5-0.5l1 0l0.5-0.5l1.5 0l0.5-0.5l2 0l0.5-0.5l2.5 0l0.5-0.5l6.5 0l0.5-0.5l0.5 0.5l6.5 0l0.5 0.5l2.5 0l0.5 0.5l2 0l0.5 0.5l1.5 0l0.5 0.5l1 0l0.5 0.5l1 0l0.5 0.5l1 0l0.5 0.5l1-0.1l0.5 0.5l7.5 3.5l1 1l0.5 0l1 1l0.5 0l4.5 4l0.5 0l4.2 4.2l0 0.5l2 2l0 0.5l1.5 1.5l0 0.5l2 2.5l0.9 2.5l1 1l0 0.5l0.5 0.5l0 1l1.5 2.5l0.5 2.5l0.5 0.5l0 1l0.5 0.5l0.4 3.5l0.5 0.5l0 1l-6.5 0.7l-3.5 0.8l-1.4 1l-0.8 1.5l-0.1 3.5l1.3 4.5l1.2 6l5.4 12.5l-0.1 1l-1.5 2.5l0 0.5l-3 4l0 0.5l-1.5 1.5l0 0.5l-7.5 7.5l-0.5 0l-3.5 3l-0.5 0l-1 1l-2.5 1l-1 1l-0.5 0l-1.5 1l-1 0l-2.5 1.5l-2.5 0.5l-0.5 0.5l-1 0l-0.5 0.5l-3.5 0.5l-0.5 0.5l-2 0l-0.5 0.5l-3 0z"/>
<path fill="rgb(0,245,255)" fill-rule="evenodd" d="M122.1 523.4l-3 0l-0.5 0.3l-2.5-1.3l-7.5-4.9l-2.5-2.3l-1.4-1.8l-1.9-3.5l-0.6-2.5l0.4-3l1.5-6l-0.1-2l-0.9-1.5l-4-3.5l-1.1-5l-0.7-2l-3.7-6.3l-2.5-2.5l-1.5-0.8l-1.5-0.4l-7.5-0.1l-11.5 1.3l-9 2.8l0-13l0.5-0.5l0-2.5l0.5-0.5l0.4-3.5l0.5-0.5l0-1l0.5-0.5l0.5-2.5l1.5-2.5l0-1l0.5-0.5l0-0.5l1-1l1-2.5l1-1l0-0.5l1-1l0-0.5l1.5-1.5l0-0.5l2-2l0-0.5l4.1-4.1l0.5 0l2.5-2.5l0.5 0l1.5-1.5l0.5 0l2.5-2l0.5 0l7.5-4l2.5-0.5l0.5-0.5l1 0l0.5-0.5l1 0l0.5-0.5l1.5 0l0.5-0.5l2 0l0.5-0.5l2.5 0l0.5-0.5l6.5 0l0.5-0.5l0.5 0.5l6.5 0l0.5 0.5l2.5 0l0.5 0.5l2 0l0.5 0.5l1.5 0l0.5 0.5l1 0l0.5 0.5l1 0l0.5 0.5l1 0l0.5 0.5l1 0l0.5 0.5l7.5 3.4l1 1l0.5 0l1 1l0.5 0l1.5 1.5l0.5 0l2.5 2.5l0.5 0l4.2 4.2l0 0.5l3.5 4l0 0.5l2 2.5l0.9 2.5l1.5 2l0 1l1.5 2.5l0.5 2.5l0.5 0.5l0 1l0.4 0.5l0 1.5l0.5 0.5l0 1.9l-5.5 0.3l-5-0.1l-1.5 0.2l-1.5 1.4l-1.1 2.8l0.1 4l2.8 10l3.8 9l2 6.5l0.2 1.5l-0.8 1l0 0.5l-1 1l0 0.5l-1 1l0 0.5l-1.5 1.5l0 0.5l-7.5 7.5l-0.5 0l-1.5 1.5l-0.5 0l-3 2.5l-2.5 1l-2 1.5l-0.5 0l-0.5 0.5l-1 0l-2.5 1.5l-2.5 0.5l-0.5 0.5l-1 0l-0.5 0.5l-3.5 0.5l-0.5 0.5l-2 0z"/>
<path fill="rgb(29,255,226)" fill-rule="evenodd" d="M128.6 521.9l-1.5 0l-0.5 0.3l-3-0.2l-5.5-1.8l-8.5-5.3l-2-1.8l-1.5-2l-1.4-2.7l-0.1-2l0.8-3.5l1.7-4.5l0.2-3l-1.2-2.4l-3.1-3.1l1.6-3l0-1.5l-0.8-1l-3.2-1.6l-1.9-2.9l0-1l1.4-2l0.3-1l-0.2-1l-0.6-0.6l-5.1-1.4l-4.9-3.5l-3-0.4l-6 0.8l-5.5 2.7l-5.5 0.4l-5 1.5l-4.5 0.6l0-9.6l0.5-0.5l0-2.5l0.5-0.5l0.5-3.5l0.5-0.5l0-1l0.5-0.5l0.5-2.5l1.5-2.5l0-1l0.5-0.5l0-0.5l0.9-1l1-2.5l1-1l0-0.5l1-1l0-0.5l1.5-1.5l0-0.5l2-2l0-0.5l4.1-4.1l0.5 0l2.5-2.5l0.5 0l1.5-1.5l0.5 0l2.5-2l0.5 0l7.5-4l2.5-0.5l0.5-0.5l1 0l0.5-0.5l1 0l0.5-0.5l1.5 0l0.5-0.5l2 0l0.5-0.5l2.5 0l0.5-0.5l6.5 0l0.5-0.5l0.5 0.5l6.5 0l0.5 0.5l2.5 0l0.5 0.5l2 0l0.5 0.5l1.5 0l0.5 0.5l1 0l0.5 0.5l1 0l0.5 0.5l1 0l0.5 0.5l1 0l0.5 0.5l7.5 3.5l1 0.9l0.5 0l1 1l0.5 0l4.5 4l0.5 0l4.2 4.2l0 0.5l2 2l0 0.5l1.5 1.5l0 0.5l1.9 2.5l1 2.5l1 1l0 0.5l0.5 0.5l0 1l1.5 2.5l0 1l0.5 0.5l0.4 2.5l0.5 0.5l0 1.5l0.5 0.5l0 0.8l-5 0.2l-6.5-0.8l-1.5 0.3l-1.5 0.9l-1.2 1.6l-1.8 4.5l-0.1 3l0.7 3.5l2.7 8l3.7 7l0.4 1.5l0.4 5l-0.9 3.5l-8 11.5l-4.4 5l-2.5 1l-1 1l-0.5 0l-1.5 1l-1 0l-2.5 1.5l-2.5 0.5l-0.5 0.5l-1 0z"/>
<path fill="rgb(69,255,186)" fill-rule="evenodd" d="M128.1 518.4l-4.5 0.1l-4.5-1.3l-3.8-2.3l-2.7-3l-0.7-2l0.6-4l-1-4.5l-0.5-6l-2.5-9.5l-1.2-2.5l-3-4l-1.7-5.5l-2-2.1l-5-2.3l-3.6-2.6l-2.4-1.3l-3-0.8l-3-0.4l-5 1l-5.5 3l-5.5 0.1l-4 2.1l-3.5 0.6l0-5.8l0.5-0.5l0-2.5l0.5-0.5l0.5-3.5l0.5-0.5l0-1l0.5-0.5l0.5-2.5l1.5-2.5l0-1l1.5-2l1-2.5l1-1l0-0.5l1-1l0-0.5l3.4-4l0-0.5l7.1-6.6l0.5 0l1.5-1.5l0.5 0l2.5-2l0.5 0l7.5-4l2.5-0.5l0.5-0.5l1 0l0.5-0.5l1 0l0.5-0.5l1.5 0l0.5-0.5l2 0l0.5-0.5l2.5 0l0.5-0.5l6.5 0l0.5-0.5l0.5 0.5l6.5 0l0.5 0.5l2.5 0l0.5 0.5l2 0l0.5 0.5l1.5 0l0.5 0.5l1 0l0.5 0.5l1 0l0.5 0.5l1 0l0.5 0.5l1 0l0.5 0.5l7.5 3.5l1 1l0.5 0l1 1l0.5 0l4.5 4l0.5 0l4.1 4.1l0 0.5l2 2l0 0.5l1.5 1.5l0 0.5l2 2.5l1 2.5l1 1l0 0.5l0.5 0.5l0 1l1.5 2.5l0.4 2.5l0.5 0.5l0 1l0.5 0.5l0 1.7l-4.5 0.2l-6.5-0.9l-2.5 0.3l-2.5 1.7l-3.2 5l-1.5 4l0 3.5l2 7l3.5 8.5l0.3 2l-0.4 2l-4.3 10.5l-2.3 4l-2.1 3l-3 3l-3 2.1l-3 1.5z"/>
<path fill="rgb(108,255,147)" fill-rule="evenodd" d="M127.6 514.5l-3 0.3l-2.5-0.4l-2.4-1l-1.6-1.5l-1.3-3l-2.6-17l-2.7-7l-4.2-6.5l-2.2-4.5l-1.5-2.2l-2-1.9l-8-5.8l-2.5-1.4l-3.5-1.4l-3-0.7l-3-0.1l-4.5 0.7l-5.5 1.9l-5.5 1l-6 2.1l0-0.7l0.5-0.5l0-2.5l0.5-0.5l0.5-3.5l0.5-0.5l0-1l0.5-0.5l0.5-2.5l1.5-2.5l0-1l0.5-0.5l0-0.5l1-1l1-2.5l1-1l0-0.5l1-1l0-0.5l1.5-1.5l0-0.5l2-2l0-0.5l7-6.5l0.5 0l1.5-1.6l0.5 0l2.5-2l0.5 0l7.5-4l2.5-0.5l0.5-0.5l1 0l0.5-0.5l1 0l0.5-0.5l1.5 0l0.5-0.5l2 0l0.5-0.5l2.5 0l0.5-0.5l6.5 0l0.5-0.5l0.5 0.5l6.5 0l0.5 0.5l2.5 0l0.5 0.5l2 0l0.5 0.5l1.5 0l0.5 0.5l1 0l0.5 0.5l1 0l0.5 0.5l1 0l0.5 0.5l1 0l0.5 0.5l7.5 3.5l1 1l0.5 0l1 1l0.5 0l4.5 4l0.5 0l4.1 4.1l0 0.5l2 2l0 0.5l1.5 1.5l0 0.5l2 2.5l1 2.5l1 1l0 0.5l0.5 0.5l0 1l1.5 2.5l-0.1 1l0.5 0.5l0 1l0.5 0.5l0 1l0.5 0.5l0 0.6l-4 0.3l-8-1l-3 0.5l-2.2 1.6l-7.4 8.5l-0.8 2l-0.1 2.5l3.5 18l-0.2 3.5l-0.7 4l-2.4 6l-2.8 4l-4.4 3.7z"/>
<path fill="rgb(147,255,108)" fill-rule="evenodd" d="M127.6 510l-2 0.4l-2-0.4l-1.5-0.8l-1-1.2l-1.5-4.2l-1.3-12.4l-1.5-4l-11.1-16.5l-5.8-5.5l-4.8-5.1l-3.5-2.3l-3.5-1.6l-4-1.2l-4-0.5l-3.5 0.1l-4.5 0.7l-5 1.3l-5.5 1.8l0.5-0.7l0-1l0.5-0.5l0-1l0.5-0.5l0-1l1.5-2.5l0-1l0.5-0.5l0-0.5l1-1l1-2.5l1-1l0-0.5l1-1l0-0.5l3.5-4l0-0.5l4-4l0.5 0l4.5-4l0.5 0l2.5-2l0.5 0l7.5-4.1l2.5-0.5l0.5-0.5l1 0l0.5-0.5l1 0l0.5-0.5l1.5 0l0.5-0.5l2 0l0.5-0.5l2.5 0l0.5-0.5l6.5 0l0.5-0.5l0.5 0.5l6.5 0l0.5 0.5l2.5 0l0.5 0.5l2 0l0.5 0.5l1.5 0l0.5 0.5l1 0l0.5 0.5l1 0l0.5 0.5l1 0l0.5 0.5l1 0l0.5 0.5l7.5 3.5l1 1l0.5 0l1 1l0.5 0l4.5 4l0.5 0l4.1 4.1l0 0.5l2 2l0 0.5l1.5 1.5l0 0.5l2 2.5l1 2.5l1 1l0 0.5l0.5 0.5l0 1l1.4 2.5l0.5 2.5l0.5 0.5l0 1.1l-3.5 0.3l-8.5-1l-3.5 0.4l-1.9 1.2l-3.6 3.3l-6.4 4.2l-1.9 2l-0.4 1l0 2l1.7 8.5l0.5 7.5l1.5 5.5l-0.1 4.5l-1.6 4.5l-2.2 3.5l-3.1 2.8z"/>
<path fill="rgb(186,255,69)" fill-rule="evenodd" d="M128.1 504.5l-1.5 0.3l-1.4-0.4l-1.6-2.3l-0.9-4.7l-0.1-7.5l-1.4-3.5l-8.6-10.3l-4.7-6.2l-5.4-5.5l-5.4-8.4l-2-2.3l-2.5-1.8l-3.5-1.7l-5-1.8l-4.5-1.1l-3-0.4l-3 0.2l-7.5 1.8l0-1l0.5-0.5l0.5-1.5l1-1l0-0.5l1-1l0-0.5l1.5-1.5l0-0.5l2-2l0-0.5l4-4l0.5 0l2.5-2.5l0.5 0l1.5-1.5l0.5 0l2.5-2l0.5 0l7.5-4l2.5-0.5l0.5-0.5l1 0l0.5-0.5l1 0l0.5-0.5l1.5 0l0.5-0.6l2 0l0.5-0.5l2.5 0l0.5-0.5l6.5 0l0.5-0.5l0.5 0.5l6.5 0l0.5 0.5l2.5 0l0.5 0.5l2 0l0.5 0.5l1.5 0l0.5 0.5l1 0l0.5 0.5l1 0l0.5 0.5l1 0l0.5 0.5l1 0l0.5 0.5l7.5 3.5l1 1l0.5 0l1 1l0.5 0l4.5 4l0.5 0l4.1 4.1l0 0.5l2 2l0 0.5l1.5 1.5l0 0.5l2 2.5l1 2.5l1.5 2l0 1l1.4 2.5l0 1l0.5 0.5l0 1l0.4 0.5l-3.4 0.3l-9.5-0.9l-3 0.3l-1.9 0.8l-4.6 3l-6.7 3l-1.8 1.4l-1.2 1.6l-0.8 2.5l-0.1 3.5l1.3 8l0.2 6.5l1.8 6.5l0.1 3l-0.7 2.5l-1.5 2.5l-2.1 2zM65.6 449l0.4-0.1z"/>
<path fill="rgb(226,255,29)" fill-rule="evenodd" d="M126.1 480.7l-1 0.1l-1.5-0.5l-5.5-3.7l-12.5-12.7l-2.7-4.5l-3-8.5l-1.8-2.5l-2-1.8l-3.5-2.2l-8-3.4l-6-1.4l-6.5 0.1l0.5-1.3l4-4l0.5 0l2.5-2.5l0.5 0l1.5-1.5l0.5 0l2.5-2l0.5 0l7.5-4l2.5-0.5l0.5-0.5l1 0l0.5-0.5l1 0l0.5-0.5l1.5 0l0.5-0.5l2 0l0.5-0.5l2.5 0l0.5-0.5l6.5 0l0.5-0.5l0.5 0.5l6.5-0.1l0.5 0.5l2.5 0l0.5 0.5l2 0l0.5 0.5l1.5 0l0.5 0.5l1 0l0.5 0.5l1 0l0.5 0.5l1 0l0.5 0.5l1 0l0.5 0.5l7.5 3.5l1 1l0.5 0l1 1l0.5 0l1.5 1.5l0.5 0l7.1 6.6l0 0.5l3.5 4l0 0.5l2 2.5l1 2.5l1 1l0 0.5l0.5 0.5l-0.1 1l1.5 2.5l0 1l0.5 0.9l-3.5 0.3l-12-0.7l-7 2.7l-7 1.7l-2.6 1.1l-2 2l-1.3 3l-0.7 4.5l-0.5 8.5l-0.4 1.3z"/>
<path fill="rgb(255,245,0)" fill-rule="evenodd" d="M121.6 471l-1.5 0l-2.2-1.1l-7.8-6l-2.8-3l-1.2-2.3l-0.8-2.7l-1.3-11l-0.9-2l-1.9-2l-3.6-2.3l-5.6-2.2l-6.9-2.3l-6.5-1.2l6-4.5l0.5 0l7.5-4l2.5-0.5l0.5-0.5l1 0l0.5-0.5l1 0l0.5-0.5l1.5 0l0.5-0.5l2 0l0.5-0.5l2.5 0l0.5-0.5l6.5 0l0.5-0.5l0.5 0.5l6.5 0l0.5 0.5l2.5 0l0.5 0.5l2-0.1l0.5 0.5l1.5 0l0.5 0.5l1 0l0.5 0.5l1 0l0.5 0.5l1 0l0.5 0.5l1 0l0.5 0.5l7.5 3.5l1 1l0.5 0l1 1l0.5 0l1.5 1.5l0.5 0l2.5 2.5l0.5 0l4.1 4.1l0 0.5l2 2l0 0.5l2.5 3l0 0.5l1 1l1 2.5l1.4 2l0 1l1.5 2.5l0 0.8l-8 0.3l-6.5-0.6l-9 1.8l-8.5-0.6l-2.5 0.4l-2.5 1.7l-2.3 3.2l-0.6 2.5l0 5.5l-0.6 1.3zM120.5 446.4l1-1l0.2-1.5l-0.7-2l-1.3-1.5l-1.6-0.8l-1.5-0.1l-1.5 0.5l-1.2 0.9l-0.6 1l-0.1 1l1.4 2l3 1.5l1.5 0.2z"/>
<path fill="rgb(255,206,0)" fill-rule="evenodd" d="M159.6 453.9l-5.5 0.3l-6-0.6l-7.5 0.7l-4-0.7l-2.5-1.2l-2.3-2l-4.7-5.2l-4.5-6.8l-3-2.5l-3-0.9l-5 0.2l-2.5-0.4l-9-3l-14.5-3.9l6.5-3l0.5-0.5l2.5-0.5l0.5-0.5l1 0l0.5-0.5l1 0l0.5-0.5l1.5 0l0.5-0.5l2 0l0.5-0.5l2.5 0l0.5-0.5l6.5 0l0.5-0.5l0.5 0.5l6.5 0l0.5 0.5l2.5 0l0.5 0.5l2 0l0.5 0.5l1.5 0l0.5 0.5l1 0l0.5 0.5l1-0.1l0.5 0.5l1 0l0.5 0.5l1 0l0.5 0.5l7.5 3.5l1 1l0.5 0l1 1l0.5 0l4.5 4l0.5 0l4.1 4.1l0 0.5l2 2l0 0.5l1.5 1.5l0 0.5l2 2.5l1 2.5l0.9 1l0 0.5l0.5 0.5l0 1l1 1.5l0 0.7zM115.1 460.4l-1.5 0.1l-2-0.9l-1.5-1.6l-0.7-1.6l-0.3-2l0.3-2l1.1-1.5l1.1-0.6l2-0.2l2.5 0.8l2 1.4l0.9 1.6l0.1 1.5l-0.7 2l-1.6 2z"/>
<path fill="rgb(255,167,0)" fill-rule="evenodd" d="M155.1 453.4l-2.5 0l-4.5-0.6l-6.5 0l-4-1l-2.8-1.9l-5.4-6l-5.8-8.6l-3.5-3.3l-3-1.5l-12-4.3l-10.1-2.3l0.6-0.5l1 0l0.5-0.5l1 0l0.5-0.5l1.5 0l0.5-0.5l2 0l0.5-0.5l2.5 0l0.5-0.5l6.5 0l0.5-0.5l0.5 0.5l6.5 0l0.5 0.5l2.5 0l0.5 0.5l2 0l0.5 0.5l1.5 0l0.5 0.5l1 0l0.5 0.5l1 0l0.5 0.5l1 0l0.5 0.5l1 0l0.5 0.4l7.5 3.5l1 1l0.5 0l1 1l0.5 0l1.5 1.5l0.5 0l7.1 6.6l0 0.5l3.5 4l0 0.5l2 2.5l0.9 2.5l1 1l1 3.1z"/>
<path fill="rgb(255,128,0)" fill-rule="evenodd" d="M156.1 452.5l-3 0.3l-5-0.8l-5.5-0.3l-2.5-0.6l-2.5-1.2l-2.4-2l-5.1-6l-5-9.4l-2.5-3.2l-2.5-2.1l-3-1.8l-9.5-4.5l5 0l0.5-0.5l0.5 0.5l6.5 0l0.5 0.5l2.5 0l0.5 0.5l2 0l0.5 0.5l1.5 0l0.5 0.5l1 0l0.5 0.5l1 0l0.5 0.5l1 0l0.5 0.5l1 0l0.5 0.5l7.5 3.4l1 1l0.5 0l1 1l0.5 0l1.5 1.5l0.5 0l2.5 2.5l0.5 0l4.1 4.1l0 0.5l2 2l0 0.5l1.5 1.5l0 0.5l2 2.5l0.9 2.5l1.5 2l0 1z"/>
<path fill="rgb(255,88,0)" fill-rule="evenodd" d="M155.1 451.9l-2.5 0.2l-4.5-0.9l-5.5-0.7l-3-1l-2.3-1.6l-4.1-4.5l-2.1-3l-1.6-3.5l-2.4-6.8l-1.5-2.7l-3-3.3l-4.2-3.2l1.7 0l0.5 0.5l2.5 0l0.5 0.5l2 0l0.5 0.5l1.5 0l0.5 0.5l1 0l0.5 0.5l1 0l0.5 0.5l1 0l0.5 0.5l1 0l0.5 0.5l7.5 3.4l1 1l0.5 0l1 1l0.5 0l1.5 1.5l0.5 0l2.5 2.5l0.5 0l4.1 4.1l0 0.5l2 2l0 0.5l1.5 1.5l0 0.5l1.9 2.5l1 2.5l1 1l0 0.9z"/>
<path fill="rgb(255,49,0)" fill-rule="evenodd" d="M153.6 451.4l-11.5-2.1l-2.7-1.4l-2.8-2.5l-2.6-3l-1.7-3l-1.2-3.5l-1.7-8l-1.3-2.7l-2-2.8l1.5 0l0.5 0.5l1 0l0.5 0.5l1 0l0.5 0.5l1 0l0.5 0.5l1 0l0.5 0.5l7.5 3.5l1 1l0.5 0l1 1l0.5 0l1.5 1.5l0.5 0l2.5 2.5l0.5 0l4 4l0 0.5l3.5 4l0 0.5l2 2.5l1 2.5l0.5 0.5l0 0.4z"/>
<path fill="rgb(255,10,0)" fill-rule="evenodd" d="M155.1 450.4l-1.5 0.4l-1.5-0.1l-4-1.4l-5.1-0.9l-2.9-1.5l-3.2-3l-2.3-3l-1.2-3l-0.6-3l-0.6-7l-1.3-4l2.7 0.5l0.5 0.5l7.5 3.5l1 1l0.5 0l1 1l0.5 0l1.5 1.5l0.5 0l2.5 2.5l0.5 0l4 4l0 0.5l3.5 4l0 0.5l2 2.5l0.5 1.5l0.5 0.5l0 0.3z"/>
<path fill="rgb(226,0,0)" fill-rule="evenodd" d="M154.1 450l-2-0.1l-3.5-1.8l-3.5-0.3l-2-0.6l-3-2l-3.2-3.3l-1.2-2l-0.8-3l-0.1-8.5l-0.5-3.5l7.3 3.5l1 1l0.5 0l1 1l0.5 0l4.5 4l0.5 0l4 4l0 0.5l2 2l0 0.5l1.5 1.5l0 0.5l2 2.5l0.5 1.3z"/>
<path fill="rgb(186,0,0)" fill-rule="evenodd" d="M154.1 449.1l-1 0.2l-1-0.3l-2-2.4l-5-0.1l-1.5-0.6l-2.7-2l-2.8-3l-1-2l-0.4-2.5l0.7-10l4.2 2l1 1l0.5 0l1 1l0.5 0l1.5 1.5l0.5 0l2.5 2.5l0.5 0l4 4l0 0.5l3.5 4l0 0.5l2 2.5z"/>
<path fill="rgb(147,0,0)" fill-rule="evenodd" d="M153.6 447.9l-0.6 0l-0.9-2l-1-0.9l-1.5-0.3l-3.5 0l-2-0.7l-2-1.7l-2-2.4l-0.9-2l-0.1-2l1.1-5l0.3-3l1.1 0.5l1 1l0.5 0l1 1l0.5 0l4.5 4l0.5 0l4 4l0 0.5l2 2l0 0.5l2.5 3z"/>
</g>
<ellipse cx="113.1" cy="472.3" rx="52" ry="50.4" fill="none" stroke="#1a1a1a" stroke-width="0.7"/>
<g clip-path="url(#ct4)">
<ellipse cx="252.4" cy="472.3" rx="52.2" ry="51.4" fill="rgb(0,0,147)"/>
<path fill="rgb(0,0,186)" fill-rule="evenodd" d="M257.7 524l-10.5 0l-0.5-0.5l-3.5 0l-0.5-0.5l-2 0l-0.5-0.5l-1.5 0l-0.5-0.5l-1 0l-0.5-0.5l-1 0l-0.5-0.5l-2.5-0.5l-2.5-1.5l-1 0l-0.5-0.5l-0.5 0l-1-1l-2.5-1l-2.5-2l-0.5 0l-1.5-1.5l-0.5 0l-2-2l-0.5 0l-4.6-4.6l0-0.5l-2-2l0-0.5l-1.5-1.5l0-0.5l-1-1l0-0.5l-1-1l-1.5-3.5l-2-3.5l0-1l-1-1.5l0-1l-0.5-0.5l0-1l-0.5-0.5l0-1.5l-0.5-0.5l0-2l-0.5-0.5l0-2l-0.5-0.5l0-14l0.5-0.5l0-2.5l0.5-0.5l0-1.5l0.5-0.5l0-1.5l0.5-0.5l0-1l0.5-0.5l0.5-2.5l0.9-1.5l0-1l1.5-2.5l0.5-1.5l1-1l0.5-1.5l1-1l0-0.5l1-1l0-0.5l2-2l0-0.5l7.2-7.2l0.5 0l1.5-1.5l0.5 0l4-3l3.5-1.5l3.5-2l1 0l0.5-0.5l1 0l0.5-0.5l1 0l0.5-0.5l1 0l0.5-0.5l3.5-0.5l0.5-0.5l2.5 0l0.5-0.5l14 0l0.5 0.5l2.5 0l0.5 0.5l2 0l0.5 0.5l1.5 0l0.5 0.5l1 0l0.5 0.5l2.5 0.5l1.5 1l1 0l2.5 1.5l2.5 1l1 1l1.5 0.5l1 1l0.5 0l3.5 3l0.5 0l6.2 6.2l0 0.5l2 2l0 0.5l3 4l2.4 5.5l1 1.5l-0.1 1l1 1.5l0 1l0.5 0.5l0 1.5l0.5 0.5l0 1.3l-2.8-2.3l-3.2-1.4l-2-0.1l-5.5 0.7l-2 0.8l-2 2l-0.6 2l0.5 1.5l1.1 1.4l1.5 0.9l9.5 3.6l4 0.7l3-0.5l0 8.9l-0.5 0.5l0 2.5l-0.5 0.5l0 2l-0.5 0.5l0 1.5l-0.5 0.5l-0.5 2.5l-0.5 0.5l0 1l-1 1.5l0 1l-1.5 2.5l-0.9 2.5l-1 1l-0.5 1.5l-1.5 1.5l0 0.5l-1 1l0 0.5l-3 3l0 0.5l-2.6 2.6l-0.5 0l-3 3l-0.5 0l-1.5 1.5l-0.5 0l-1 1l-1.5 0.5l-1 1l-0.5 0l-5.5 3l-1 0l-1.5 1l-2.5 0.5l-0.5 0.5l-3.5 0.5l-0.5 0.5l-2 0l-0.5 0.5l-3 0z"/>
<path fill="rgb(0,0,226)" fill-rule="evenodd" d="M257.7 524l-10.5 0l-0.5-0.5l-3.5 0l-0.5-0.5l-2 0l-0.5-0.5l-1.5 0l-0.5-0.5l-1 0l-0.5-0.5l-1 0l-0.5-0.5l-2.5-0.5l-2.5-1.5l-1 0l-0.5-0.5l-0.5 0l-1-1l-2.5-1l-2.5-2l-0.5 0l-1.5-1.5l-0.5 0l-2-2l-0.5 0l-4.6-4.6l0-0.5l-2-2l0-0.5l-1.5-1.5l0-0.5l-0.9-1l0-0.5l-1-1l-1.5-3.5l-2.1-3.5l0-1l-1-1.5l0-1l-0.5-0.5l0-1l-0.5-0.5l0-1.5l-0.5-0.5l0-2l-0.5-0.5l0-2l-0.5-0.5l0-14l0.5-0.5l0-2.5l0.5-0.5l0-1.5l0.5-0.5l0-1.5l0.5-0.5l0-1l0.5-0.5l0.5-2.5l1-1.5l0-1l1.5-2.5l0.5-1.5l0.9-1l0.5-1.5l1-1l0-0.5l1-1l0-0.5l2-2l0-0.5l7.2-7.2l0.5 0l1.5-1.5l0.5 0l4-3l3.5-1.5l3.5-2l1 0l0.5-0.5l1 0l0.5-0.5l1 0l0.5-0.5l1 0l0.5-0.5l1.5 0l0.5-0.5l1.5 0l0.5-0.5l2.5 0l0.5-0.5l14 0l0.5 0.5l2.5 0l0.5 0.5l2 0l0.5 0.5l1.5 0l0.5 0.5l1 0l0.5 0.5l2.5 0.5l1.5 1l1 0l0.5 0.5l4.5 2l1 1l1.5 0.5l3 2.5l0.5 0l1.5 1.5l0.5 0l6.2 6.2l0 0.5l2 2l0 0.5l2.9 4l2.5 5.5l0.9 1.5l0 1l1 1.5l0 1l-3.5-1.4l-2.5-0.3l-8 1.3l-2.1 0.9l-2.1 1.5l-1.3 1.5l-0.8 2l0.3 3l1.5 2.8l1.5 1.6l5 3.9l4.5 2.4l9.6 2.8l-0.1 3l-0.5 0.5l0 2l-0.5 0.5l0 1.5l-0.5 0.5l-0.5 2.5l-0.5 0.5l0 1l-1 1.5l0 1l-1.5 2.5l-1 2.5l-1 1l-0.5 1.5l-1.5 1.5l0 0.5l-0.9 1l0 0.5l-5.5 6l-0.6 0.1l-3 3l-0.5 0l-3 2.5l-1.5 0.5l-1 1l-0.5 0l-2.5 1.5l-0.5 0l-2.5 1.5l-1 0l-1.5 1l-2.5 0.5l-0.5 0.5l-1.5 0l-0.5 0.5l-1.5 0l-0.5 0.5l-2 0l-0.5 0.5l-3 0zM253.7 461.9l1.2-0.5l-0.4-1l-2.2-1.5l-1.7 0l-0.4 1.5l0.9 1.5l1.1 0.4z"/>
<path fill="rgb(0,10,255)" fill-rule="evenodd" d="M257.7 524l-10.5 0l-0.5-0.5l-3.5 0l-0.5-0.5l-2 0l-0.5-0.5l-1.5 0l-0.5-0.5l-1 0l-0.5-0.5l-1 0l-0.5-0.5l-2.5-0.5l-2.5-1.5l-1 0l-0.5-0.5l-0.5 0l-1-1l-2.5-1l-2.5-2l-0.5 0l-1.5-1.5l-0.5 0l-2-2l-0.5 0l-4.5-4.6l0-0.5l-2-2l0-0.5l-1.5-1.5l0-0.5l-1-1l0-0.5l-1-1l-1.5-3.5l-2-3.5l0-1l-1.1-1.5l0-1l-0.5-0.5l0-1l-0.5-0.5l0-1.5l-0.5-0.5l0-2l-0.5-0.5l0-2l-0.5-0.5l0-14l0.5-0.5l0-2.5l0.5-0.5l0-1.5l0.5-0.5l0-1.5l0.5-0.5l0-1l0.5-0.5l0.5-2.5l1-1.5l0-1l1.5-2.5l0.5-1.5l1-1l0.5-1.5l1-1l-0.1-0.5l1-1l0-0.5l2-2l0-0.5l7.2-7.2l0.5 0l1.5-1.5l0.5 0l4-3l3.5-1.5l3.5-2l1 0l0.5-0.5l1 0l0.5-0.5l1 0l0.5-0.5l1 0l0.5-0.5l1.5 0l0.5-0.5l1.5 0l0.5-0.5l2.5 0l0.5-0.5l14 0l0.5 0.5l2.5 0l0.5 0.5l2 0l0.5 0.5l1.5 0l0.5 0.5l1 0l0.5 0.5l1 0l0.5 0.5l1 0l1.5 1l1 0l2.5 1.5l2.5 1l1 1l1.5 0.5l1 1l0.5 0l3.5 3l0.5 0l6.2 6.2l0 0.5l2 2l0 0.5l2.9 4l2.4 5.5l1 1.5l0 1.5l-5-0.9l-8 1.5l-2.9 0.9l-2.6 1.5l-1.6 1.5l-1.3 2l-0.5 2l0.3 4l1.6 5.7l2 4.4l2.5 3.3l3 2.5l2.5 1.3l2 0.4l6-0.2l1.5 0.6l2 1.8l0 0.7l-0.5 0.5l0 1l-0.5 0.5l0 1l-1 1.5l0 1l-1.5 2.5l-1 2.5l-1 1l-0.5 1.5l-1.5 1.5l0 0.5l-1 1l0 0.5l-5.4 6l-0.6 0.1l-3 3l-0.5 0l-3 2.5l-1.5 0.5l-1 1l-0.5 0l-2.5 1.5l-0.5 0l-2.5 1.5l-1 0l-1.5 1l-2.5 0.5l-0.5 0.5l-1.5 0l-0.5 0.5l-1.5 0l-0.5 0.5l-2 0l-0.5 0.5l-3 0zM301.7 454.5l-0.3-0.1zM258.5 474.9l1.9-1.5l0.8-2.5l0.5-7.5l-0.3-2l-0.6-1.5l-1.6-1.4l-6.4-2.1l-2.1-0.4l-1.5 0.3l-1.6 1.6l-0.7 2.5l0.3 3.5l1.4 3.5l2.1 3.1l3 2.9l2.5 1.5z"/>
<path fill="rgb(0,49,255)" fill-rule="evenodd" d="M257.7 524l-10.5 0l-0.5-0.5l-3.5 0l-0.5-0.5l-2 0l-0.5-0.5l-1.5 0l-0.5-0.5l-1 0l-0.5-0.5l-1 0l-0.5-0.5l-2.5-0.5l-2.5-1.5l-1 0l-0.5-0.5l-0.5 0l-1-1l-2.5-1l-2.5-2l-0.5 0l-1.5-1.5l-0.5 0l-2-2l-0.5 0l-4.5-4.6l0-0.5l-2-2l0-0.5l-1.5-1.5l0-0.5l-1-1l0-0.5l-1-1l-1.5-3.5l-2-3.5l0-1l-1-1.5l0-1l-0.5-0.5l-0.1-1l-0.5-0.5l0-1.5l-0.5-0.5l0-2l-0.5-0.5l0-2l-0.5-0.5l0-14l0.5-0.5l0-2.5l0.5-0.5l0-1.5l0.5-0.5l0-1.5l0.5-0.5l0-1l0.5-0.5l0.5-2.5l1-1.5l0-1l1.5-2.5l0.5-1.5l1-1l0.5-1.5l1-1l0-0.5l1-1l0-0.5l1.9-2l0-0.5l7.2-7.2l0.5 0l1.5-1.5l0.5 0l4-3l3.5-1.5l3.5-2l1 0l0.5-0.5l1 0l0.5-0.5l1 0l0.5-0.5l1 0l0.5-0.5l1.5 0l0.5-0.5l1.5 0l0.5-0.5l2.5 0l0.5-0.5l14 0l0.5 0.5l2.5 0l0.5 0.5l2 0l0.5 0.5l1.5 0l0.5 0.5l1 0l0.5 0.5l2.5 0.5l1.5 1l1 0l2.5 1.5l2.5 1l1 1l1.5 0.5l1 1l0.5 0l3.5 3l0.5 0l6.2 6.2l0 0.5l2 2l0 0.5l2.9 4l2.4 5.5l1 1.5l0 0.2l-5-0.5l-9.6 1.8l-3 1l-3.2 2l-1.8 2l-1.1 2l-1.5 8l-1.9 5.5l0.3 1.5l0.8 1.5l4.9 5.5l6.9 5l6.3 4l2.8 2.5l2.1 2.5l0 0.5l-1 1l-0.5 1.5l-1.5 1.5l0 0.5l-1 1l0 0.5l-5.5 6l-0.5 0l-3 3.1l-0.5 0l-3 2.5l-1.5 0.5l-1 1l-0.5 0l-2.5 1.5l-0.5 0l-2.5 1.5l-1 0l-1.5 1l-2.5 0.5l-0.5 0.5l-1.5 0l-0.5 0.5l-1.5 0l-0.5 0.5l-2 0l-0.5 0.5l-3 0zM260.1 479.9l2.9-1l2.6-1.5l1.2-1l0.8-1.5l-0.2-1.5l-2.5-5.5l-1-5.5l-0.7-2l-1.5-2l-2.6-1.5l-7.4-2.1l-2 0l-1.5 0.4l-1.5 1.1l-0.8 1.1l-1.2 3.5l0.1 4l1.5 4.5l2.9 4.2l5 5.1l2.5 1.3z"/>
<path fill="rgb(0,88,255)" fill-rule="evenodd" d="M257.7 524l-10.5 0l-0.5-0.5l-3.5 0l-0.5-0.5l-2 0l-0.5-0.5l-1.5 0l-0.5-0.5l-1 0l-0.5-0.5l-1 0l-0.5-0.5l-2.5-0.5l-2.5-1.5l-1 0l-0.5-0.5l-0.5 0l-1-1l-2.5-1l-2.5-2l-0.5 0l-1.5-1.6l-0.5 0l-2-2l-0.5 0l-4.5-4.5l0-0.5l-2-2l0-0.5l-2.5-3l0-0.5l3.5-1.9l2.6-2.1l1.1-1.5l-0.1-1l-1.1-0.5l-2.5 0.1l-3.5 0.8l-3 1.1l-0.5-1.5l-1-1.5l0-1l-1-1.5l-0.5-2.5l-0.5-0.5l0-1.5l-0.5-0.5l-0.1-2l-0.5-0.5l0-2l-0.5-0.5l0-14l0.5-0.5l0-2.5l0.5-0.5l0-1.5l0.5-0.5l0-1.5l0.5-0.5l0-1l0.5-0.5l0.5-2.5l1-1.5l0-1l1.5-2.5l0.5-1.5l1-1l0.5-1.5l1-1l0-0.5l1-1l0-0.5l2-2l0-0.5l7.1-7.2l0.5 0l1.5-1.5l0.5 0l4-3l3.5-1.5l3.5-2l1 0l0.5-0.5l1 0l0.5-0.5l1 0l0.5-0.5l1 0l0.5-0.5l1.5 0l0.5-0.5l1.5 0l0.5-0.5l2.5 0l0.5-0.5l14 0l0.5 0.5l2.5 0l0.5 0.5l2 0l0.5 0.5l1.5 0l0.5 0.5l1 0l0.5 0.5l1 0l0.5 0.5l1 0l1.5 1l1 0l2.5 1.5l2.5 1l1 1l1.5 0.5l1 1l0.5 0l3.5 3l0.5 0l6.2 6.2l0 0.5l2 2l0 0.5l2.9 4l1.9 4.5l1 1.5l-5 0l-10.9 2l-3.6 1.5l-2.3 1.5l-2 2l-1.6 2.5l-2.1 5l-1 1.1l-1.5 0.7l-1.5-0.2l-1.4-1.1l-0.8-1.5l-1-3.5l-1.2-2l-2.1-2.3l-2.5-1.5l-6.5-2l-3.5-0.5l-1.9 0.3l-1.6 0.7l-2.4 2.3l-1.1 2.5l-0.6 3l0.1 3l0.7 3l1 2.5l1.6 2.5l6.2 6.8l2.5 1.9l2.5 0.8l3 0l8-1l2.5 0.4l2.5 1l15.5 10.8l2.5 2.8l3.6 5.5l-0.6 1.5l-5.5 6l-0.5 0l-3 3l-0.5 0.1l-1.5 1.5l-0.5 0l-1 1l-1.5 0.5l-1 1l-0.5 0l-5.5 3l-1 0l-1.5 1l-2.5 0.5l-0.5 0.5l-3.5 0.5l-0.5 0.5l-2 0l-0.5 0.5l-3 0z"/>
<path fill="rgb(0,128,255)" fill-rule="evenodd" d="M257.7 524l-10.5 0l-0.5-0.5l-3.5 0l-0.5-0.5l-2 0l-0.5-0.5l-1.5 0l-0.5-0.5l-1 0l-0.5-0.5l-1 0l-0.5-0.5l-2.5-0.5l-2.5-1.5l-1 0l-0.5-0.5l-0.5-0.1l-1-1l-2.5-1l-2.5-2l-0.5 0l-1.5-1.5l-0.5 0l-2-2l-0.5 0l-4.5-4.5l-0.2-1l4.7-4.8l2-2.8l1.2-3.9l0-1.5l-0.5-1.5l-1.2-1.2l-1.5-0.8l-3.5-0.7l-4 0.3l-6 2.1l-0.5-0.2l0-0.5l-0.5-0.5l0-1l-0.5-0.5l0-1l-0.5-0.5l0-1.5l-0.5-0.5l0-2l-0.5-0.5l-0.1-2l-0.5-0.5l0-14l0.5-0.5l0-2.5l0.5-0.5l0-1.5l0.5-0.5l0-1.5l0.5-0.5l0-1l0.5-0.5l0.5-2.5l1-1.5l0-1l1.5-2.5l0.5-1.5l1-1l0.5-1.5l1-1l0-0.5l1-1l0-0.5l2-2l0-0.5l7.1-7.2l0.5 0l1.5-1.5l0.5 0l4-3l3.5-1.5l3.5-2l1 0l0.5-0.5l1 0l0.5-0.5l1 0l0.5-0.5l1 0l0.5-0.5l3.5-0.5l0.5-0.5l2.5 0l0.5-0.5l14 0l0.5 0.5l2.5 0l0.5 0.5l2 0l0.5 0.5l1.5 0l0.5 0.5l1 0l0.5 0.5l2.5 0.5l1.5 1l1 0l2.5 1.5l2.5 1l1 1l1.5 0.5l1 1l0.5 0l3.5 3l0.5 0l6.2 6.2l0 0.5l2 2l0 0.5l2.9 4l1.9 4.5l0.5 0.5l-4 0.3l-5.5 1.2l-5.5 0.5l-3.4 1l-4.5 2.5l-5.1 4.7l-1.5 1l-1-0.2l-5.3-4.5l-2.2-1.5l-3.5-1.4l-6-1.6l-3-0.3l-3 0.6l-2.5 1.5l-1.7 2.2l-1.3 3l-0.7 3l0 3l0.6 3l0.9 2.5l1.6 2.5l6.1 6.7l3.5 3l2.9 1.3l3.1 0.4l9-0.2l2.5 0.6l3 1.5l12.5 9.3l2.1 2.9l3.4 6.7l-0.5 1.3l-2.5 2.5l-0.5 0l-3 3l-0.5 0l-1.5 1.5l-0.5 0l-1 1.1l-1.5 0.5l-1 1l-0.5 0l-5.5 3l-1 0l-1.5 1l-2.5 0.5l-0.5 0.5l-3.5 0.5l-0.5 0.5l-2 0l-0.5 0.5l-3 0z"/>
<path fill="rgb(0,167,255)" fill-rule="evenodd" d="M257.7 524l-10.5 0l-0.5-0.5l-3.5-0.1l-0.5-0.5l-2 0l-0.5-0.5l-1.5 0l-0.5-0.5l-1 0l-0.5-0.5l-1 0l-0.5-0.5l-2.5-0.5l-2.5-1.5l-1 0l-0.5-0.5l-0.5 0l-1-1l-2.5-1l-2.5-2l-0.5 0l-1.5-1.5l-0.5 0l-2-2l-0.5 0l-1.7-2l4.7-7l1.6-3.5l0.6-5l-0.3-2l-0.9-2l-1.3-1.5l-1.7-1.2l-2-0.9l-2.5-0.5l-5 0.4l-6.5 2.2l0-1l-0.5-0.5l0-1.5l-0.5-0.5l0-2l-0.5-0.5l0-2l-0.5-0.5l-0.1-14l0.5-0.5l0-2.5l0.5-0.5l0-1.5l0.5-0.5l0-1.5l0.5-0.5l0-1l0.5-0.5l0.5-2.5l1-1.5l0-1l1.5-2.5l0.5-1.5l1-1l0.5-1.5l1-1l0-0.5l1-1l0-0.5l2-2l0-0.5l7.1-7.2l0.5 0l1.5-1.5l0.5 0l4-3l3.5-1.5l3.5-2l1 0l0.5-0.5l1 0l0.5-0.5l1 0l0.5-0.5l1 0l0.5-0.5l3.5-0.5l0.5-0.5l2.5 0l0.5-0.5l14 0l0.5 0.5l2.5 0l0.5 0.5l2 0l0.5 0.5l1.5 0l0.5 0.5l1 0l0.5 0.5l2.5 0.5l1.5 1l1 0l2.5 1.5l2.5 1l1 1l1.5 0.5l1 1l0.5 0l3.5 3l0.5 0l6.2 6.2l0 0.5l1.9 2l0 0.5l3 4l1.4 3.5l0.5 0.5l0 0.4l-3 0.2l-6 1.2l-6 0.5l-2.5 0.5l-4.1 1.7l-5.4 3.3l-2 0.7l-2.5-0.3l-4.7-2.7l-2.8-1.2l-6.5-1.9l-4-0.7l-3 0.2l-2.9 1.1l-1.9 1.5l-1.8 2.5l-2.2 5l-0.6 4l1.1 5l1 2l1.6 2l8.7 8.7l3.5 2.6l4 1.1l10 0.2l3 1l2.5 1.5l2.9 2.4l7.4 7.5l5.3 9.5l-0.1 0.5l-0.5 0l-3 3l-0.5 0l-1.5 1.5l-0.5 0l-1 1l-1.5 0.5l-1 1l-0.5 0l-5.5 3.1l-1 0l-1.5 1l-2.5 0.5l-0.5 0.5l-3.5 0.5l-0.5 0.5l-2 0l-0.5 0.5l-3 0z"/>
<path fill="rgb(0,206,255)" fill-rule="evenodd" d="M257.7 523.9l-10.5 0l-0.5-0.5l-3.5 0l-0.5-0.5l-2 0l-0.5-0.5l-1.5 0l-0.5-0.5l-1 0l-0.5-0.5l-1 0l-0.5-0.5l-2.5-0.5l-2.5-1.5l-1 0l-0.5-0.5l-0.5 0l-1-1l-2.5-1l-2.5-2l-0.5 0l-1.5-1.5l-0.5 0l-0.6-1l0.4-1.5l3.6-8.5l1-4.5l-0.1-5l-1.6-4.5l-1.7-2.1l-2-1.6l-2-1l-2.5-0.6l-2.5-0.1l-3 0.4l-7 2.5l0-0.5l-0.5-0.5l0-2l-0.5-0.5l0-2l-0.5-0.5l0-14l0.5-0.5l0-2.5l0.5-0.5l0-1.5l0.5-0.5l0-1.5l0.5-0.5l-0.1-1l0.5-0.5l0.5-2.5l1-1.5l0-1l1.5-2.5l0.5-1.5l1-1l0.5-1.5l1-1l0-0.5l1-1l0-0.5l2-2l0-0.5l7.1-7.2l0.5 0l1.5-1.5l0.5 0l4-3l3.5-1.5l3.5-2l1 0l0.5-0.5l1 0l0.5-0.5l1 0l0.5-0.5l1 0l0.5-0.5l1.5 0l0.5-0.5l1.5 0l0.5-0.5l2.5 0l0.5-0.5l14 0l0.5 0.5l2.5 0l0.5 0.5l2 0l0.5 0.5l1.5 0l0.5 0.5l1 0l0.5 0.5l2.5 0.5l1.5 1l1 0l2.5 1.5l2.5 1l1 1l1.5 0.5l1 1l0.5 0l3.5 3l0.5 0l6.2 6.2l0 0.5l1.9 2l0 0.5l3 4l0.9 2.5l0.5 0.5l0 0.7l-8 1.5l-6.5 0.3l-2.8 0.5l-3.7 1.2l-6.5 2.8l-2.5 0.5l-1.5-0.3l-5-2.2l-9-2.6l-4-0.6l-3.5 0.2l-3 1l-2.1 1.5l-1.7 2l-3.5 5.5l-1.3 3.5l-0.1 3.5l1 3.5l1.9 3l6.3 5.1l7 7l2.5 1.7l4 1.1l9.5 0.2l2.5 0.7l2.5 1.5l3.2 3.2l3.3 6l5 5.5l3 5.5l-4.5 3.5l-1.5 0.5l-1 1l-0.5 0l-5.5 3l-1 0.1l-1.5 1l-2.5 0.5l-0.5 0.5l-3.5 0.5l-0.5 0.5l-2 0l-0.5 0.5l-3-0.1z"/>
<path fill="rgb(0,245,255)" fill-rule="evenodd" d="M257.7 523.9l-10.5 0l-0.5-0.5l-3.5 0l-0.5-0.5l-2 0l-0.5-0.5l-1.5 0l-0.5-0.5l-1 0l-0.5-0.5l-1 0l-0.5-0.5l-2.5-0.5l-2.5-1.5l-1 0l-0.5-0.5l-0.5 0l-1-1l-2.5-1l-1-1l-0.3-3.5l0.4-3l1.9-7.5l0.3-5.5l-1.1-6.5l-2.2-5.1l-3-3.3l-3.5-1.6l-3-0.2l-3.5 0.4l-8.5 3l-0.5-0.7l0-2l-0.5-0.5l0-14l0.5-0.5l0-2.5l0.5-0.5l0-1.5l0.5-0.5l0-1.5l0.5-0.5l0-1l0.5-0.5l0.5-2.5l1-1.5l0-1l1.4-2.5l0.5-1.5l1-1l0.5-1.5l1-1l0-0.5l1-1l0-0.5l2-2l0-0.5l7.1-7.1l0.5 0l1.5-1.5l0.5 0l4-3.1l3.5-1.5l3.5-2l1 0l0.5-0.5l1 0l0.5-0.5l1 0l0.5-0.5l1 0l0.5-0.5l1.5 0l0.5-0.5l1.5 0l0.5-0.5l2.5 0l0.5-0.5l14 0l0.5 0.5l2.5 0l0.5 0.5l2 0l0.5 0.5l1.5 0l0.5 0.5l1 0l0.5 0.5l2.5 0.5l1.5 1l1 0l0.5 0.5l4.5 2l1 1l1.5 0.5l1 1l0.5 0l3.5 3l0.5 0l6.1 6.2l0 0.5l2 2l0 0.5l3 4l0 0.5l1.4 2.5l-9 1.8l-8 0.3l-9 2.5l-4.5 0.7l-16.5-4.1l-4-0.5l-3.2 0.3l-3.1 1l-2.5 1.5l-7.4 7l-2 2.5l-0.8 3l0.4 3.5l1.7 4l2.5 3l1.9 1.4l4 2l2.5 1.6l2.7 2.5l5.3 5.9l2.5 1.7l3.5 0.9l9.5 0l2.5 0.6l2 1.1l2.6 2.8l3.2 6.5l4.6 5.5l2 3.5l0.9 2.5l-0.3 0.5l-0.5 0l-1 1l-1.5 0.5l-1 1l-0.5 0l-3.5 2l-0.5 0l-1.5 1l-1 0l-1.5 1l-2.5 0.5l-0.5 0.5l-3.5 0.5l-0.5 0.5l-2 0l-0.5 0.5l-3 0z"/>
<path fill="rgb(29,255,226)" fill-rule="evenodd" d="M200.7 477.9l-0.5 0.1l0-12.6l0.5-0.5l0-2.5l0.5-0.5l0.5-3.5l0.5-0.5l0-1l0.5-0.5l0.5-2.5l1-1.5l0-1l1.5-2.5l0.5-1.5l0.9-1l0.5-1.5l1-1l0-0.5l1-1l0-0.5l2-2l0-0.5l5-5l4.1-3.6l0.5 0l4-3l3.5-1.5l3.5-2.1l1 0l0.5-0.5l1 0l0.5-0.5l1 0l0.5-0.5l1 0l0.5-0.5l1.5 0l0.5-0.5l1.5 0l0.5-0.5l2.5 0l0.5-0.5l14 0l0.5 0.5l2.5 0l0.5 0.5l2 0l0.5 0.5l1.5 0l0.5 0.5l1 0l0.5 0.5l2.5 0.5l1.5 1l1 0l2.5 1.5l2.5 1l1 1l1.5 0.5l3 2.5l0.5 0l1.5 1.5l0.5 0l6.1 6.2l0 0.5l2 2l0 0.5l1 1l0 0.5l1.9 2.5l0.5 1.5l0.5 0.5l0 0.4l-8 1.7l-8 0.1l-9 1.8l-3.5-0.1l-3.5 0.5l-5.5-0.7l-7.5-2.1l-4-0.7l-4-0.2l-4 0.7l-2.8 1.1l-6.2 3.3l-9.5 3l-2.5 1.2l-1.6 1.5l-1.3 2.5l-0.5 2.5l0 5l-1.1 2l-3.5 2l-6 1.8zM257.7 523.9l-10.5 0l-0.5-0.5l-3.5 0l-0.5-0.5l-2 0l-0.5-0.5l-1.5 0l-0.5-0.5l-1 0l-0.5-0.5l-0.6 0l-2.9-2l-2.5-2.1l-1.6-1.9l-1-2l-0.5-2l0.6-12l-0.6-5l-2.3-13l0-2.5l0.8-1.5l1.6-0.3l2.5 0.5l7 2.1l3 1.4l3.5 2.8l5.5 7.2l2.5 2l3 0.7l7.5-0.6l3.5 0.2l3 1.2l2.5 2.7l3.4 6.6l4.8 7l0.9 2.5l0.4 2.5l-0.5 0l-1 1l-0.5 0l-5.5 3l-1 0l-1.5 1l-2.5 0.5l-0.5 0.5l-1.5 0l-0.5 0.5l-1.5 0l-0.5 0.5l-2 0l-0.5 0.5l-3 0z"/>
<path fill="rgb(69,255,186)" fill-rule="evenodd" d="M201.7 462.1l-0.5 0.3l0-2l0.5-0.5l0-1.5l0.5-0.5l0-1l0.5-0.5l0.5-2.5l1-1.5l0-1l1.5-2.5l0.5-1.5l1-1l0.5-1.5l0.9-1l0-0.5l1-1l0-0.5l2-2l0-0.5l7.1-7.1l0.5 0l1.5-1.5l0.5 0l4-3l3.5-1.5l3.5-2l1 0l0.5-0.5l1 0l0.5-0.5l1 0l0.5-0.5l1 0l0.5-0.5l1.5 0l0.5-0.5l1.5 0l0.5-0.5l2.5 0l0.5-0.5l14 0l0.5 0.5l2.5 0l0.5 0.5l2 0l0.5 0.5l1.5 0l0.5 0.5l1 0l0.5 0.5l2.5 0.5l1.5 1l1 0l2.5 1.5l2.5 1l1 1l1.5 0.5l3 2.5l0.5 0l1.5 1.5l0.5 0l6.1 6.1l0 0.5l2 2l0 0.5l1 1l0 0.5l1 1l0 0.5l1.4 2l0 0.8l-8 1.9l-8-0.2l-8.5 1.1l-3.5-0.3l-5 0.8l-4.5-0.5l-11.5-2.8l-4-0.3l-3.5 0.3l-11.5 3.3l-10.5 1.3l-2.5 0.6l-3 1.4l-5.5 4zM200.7 462.7l0-0.3l0.5 0zM257.7 523.9l-7.7 0l-14.2-10.5l-2.4-2.5l-1.2-3l-3.8-19l0.2-4.5l0.6-1.5l1-1l2-0.8l3 0l3 0.8l2.5 1.4l3.4 3.6l4.1 7.7l1.2 1.3l1.3 0.7l2 0.3l7.5-1.5l4-0.1l3.3 1.1l2.4 2.5l6.7 12.5l0.7 3l-0.3 3.5l-3.8 2l-1 0l-1.5 1l-2.5 0.5l-0.5 0.5l-3.5 0.5l-0.5 0.5l-2 0l-0.5 0.5l-3 0z"/>
<path fill="rgb(108,255,147)" fill-rule="evenodd" d="M203.2 455.5l-0.5 0.2l0.5-0.8l0-1l1-1.5l0-1l1.5-2.5l0.5-1.5l1-1l0.5-1.5l1-1l0-0.5l1-1l0-0.5l1.9-2l0-0.5l7.1-7.1l0.5 0l1.5-1.5l0.5 0l4-3l3.5-1.5l3.5-2l1 0l0.5-0.5l1 0l0.5-0.5l1 0l0.5-0.5l1 0l0.5-0.5l3.5-0.5l0.5-0.5l2.5 0l0.5-0.5l14 0l0.5 0.5l2.5 0l0.5 0.5l2 0l0.5 0.5l1.5 0l0.5 0.5l1 0l0.5 0.5l2.5 0.5l1.5 1l1 0l2.5 1.5l2.5 1l1 1l1.5 0.5l3 2.5l0.5 0l1.5 1.5l0.5 0l6.1 6.1l0 0.5l2 2l0 0.5l1 1l0 0.5l1 1l-0.1 0.5l1.5 2l-5 1.5l-3.5 0.7l-8.5-0.4l-7 0.5l-4-0.2l-6.5 0.9l-3.5-0.4l-6.5-1.8l-5.5-1.2l-3.5-0.3l-3.5 0l-14 2.8l-9.5 0.7l-3.5 0.6l-3.1 1.1zM265.7 522.4l-4 0.1l-6.5-1.4l-4-2.1l-3.4-3.1l-3.8-4.5l-4.4-6.5l-4.9-5l-2-3.2l-1.5-3.6l-0.7-3.7l0.2-3l1.2-2l1.8-1l2.5-0.2l2.5 0.8l2.5 1.9l1.5 2l1 2.5l0.9 8l0.6 1.1l1 0.8l2 0.4l2.5-0.2l8-2.6l3.5-0.5l3 0.4l2.5 1.6l2 3l2.9 6l1.1 3.5l0.2 2.5l-0.8 3l-1.8 2.5l-2.1 1.5l-1 0l-0.5 0.5l-1.5 0z"/>
<path fill="rgb(147,255,108)" fill-rule="evenodd" d="M205.2 450.5l-0.5 0.2l1.5-3.3l1-1l0.5-1.5l1-1l0-0.5l1-1l0-0.5l1.9-2l0-0.5l5-5l4.1-3.6l0.5 0l4-3l3.5-1.5l3.5-2l1 0l0.5-0.5l1 0l0.5-0.5l1 0l0.5-0.5l1 0l0.5-0.5l1.5 0l0.5-0.5l1.5 0l0.5-0.5l2.5 0l0.5-0.5l14 0l0.5 0.5l2.5 0l0.5 0.5l2 0l0.5 0.5l1.5 0l0.5 0.5l1 0l0.5 0.5l2.5 0.5l1.5 1l1 0l2.5 1.5l2.5 1l1 1l1.5 0.5l3 2.5l0.5 0l1.5 1.5l0.5 0l6.1 6.1l0 0.5l2 2l0 0.5l2.9 4l0 0.7l-5 1.4l-3 0.6l-7.5-0.7l-11-0.1l-8 1l-3-0.2l-13-3.4l-6.5-0.4l-15 2.4l-12.5 0.5l-3 0.8zM238.2 495.5l-1.5 0l-1.5-0.8l-1.2-1.3l-0.9-2l-0.4-2l0.4-2l0.6-1l1.5-1l1.5 0l2 0.8l1.5 1.4l0.9 1.8l0.3 2l-0.5 2l-1.2 1.4zM264.2 518.4l-6-0.7l-3.5-1.3l-3.1-2.5l-1.8-3.5l0-3l1.5-2.5l4.1-3l4.3-1.8l3.9-0.2l2.6 1.3l2.5 3.7l1.7 4.5l0.2 3.5l-0.9 2.5l-1 1.2l-1.5 1z"/>
<path fill="rgb(186,255,69)" fill-rule="evenodd" d="M290.2 448l-2 0l-6.5-0.9l-9-0.5l-2.5 0.1l-5 0.9l-3.5 0.1l-14.5-3.7l-6-0.7l-16.5 2.3l-11.5 0l-6 1.2l0-0.9l1.5-2l0-0.5l1-1l0-0.5l2-2l0-0.5l7-7.1l0.5 0l1.5-1.5l0.5 0l4-3l3.5-1.5l3.5-2l1 0l0.5-0.5l1 0l0.5-0.5l1 0l0.5-0.5l1 0l0.5-0.5l1.5 0l0.5-0.5l1.5 0l0.5-0.5l2.5 0l0.5-0.5l14 0l0.5 0.5l2.5 0l0.5 0.5l2 0l0.5 0.5l1.5 0l0.5 0.5l1 0l0.5 0.5l2.5 0.5l1.5 1l1 0l2.5 1.5l2.5 1l1 1l1.5 0.5l3 2.5l0.5 0l1.5 1.5l0.5 0l6.1 6.1l0 0.5l2 2l0 0.5l2.9 4zM206.7 447l0.3-0.1zM237.7 490.6l-1.1-0.2l-0.2-1l0.3-0.4l0.8-0.1l0.5 0.5l0.1 0.5zM264.7 514.4l-2.5 0.5l-3-0.5l-2.2-1l-1.8-1.7l-0.8-1.8l0.1-2l1-2l2.2-2.1l2-1l2.5-0.2l2 0.7l1.6 1.6l1.4 3l0.2 3l-0.8 2z"/>
<path fill="rgb(226,255,29)" fill-rule="evenodd" d="M289.7 447.4l-16.5-2.1l-3 0.2l-4.5 0.9l-4.5 0l-14.5-3.7l-5.5-0.8l-17 2.3l-10.5-0.4l-5 0.5l0-0.9l3-3.5l0-0.5l7-7.1l0.5 0l1.5-1.5l0.5 0l4-3l3.5-1.5l3.5-2l1 0l0.5-0.5l1 0l0.5-0.5l1 0l0.5-0.5l1 0l0.5-0.5l1.5 0l0.5-0.5l1.5 0l0.5-0.5l2.5 0l0.5-0.5l14 0l0.5 0.5l2.5 0l0.5 0.5l2 0l0.5 0.5l1.5 0l0.5 0.5l1 0l0.5 0.5l2.5 0.5l1.5 1l1 0l0.5 0.5l4.5 2l1 1l1.5 0.5l3 2.5l0.5 0l1.5 1.5l0.5 0l6.1 6.1l0 0.5l2 2l0 0.5l0.9 1l0 0.5l1 1l0.4 1l-4.4 1.5zM262.2 510.6l-1.3-0.2l-0.9-1l0-1l0.9-1l1.3 0l1 1l-0.1 1.5z"/>
<path fill="rgb(255,245,0)" fill-rule="evenodd" d="M292.2 446.5l-4 0.2l-10-2.1l-5-0.6l-3.5 0.1l-4.5 0.9l-4-0.1l-8.5-1.8l-5.5-1.6l-6-0.9l-2.5 0.1l-7.5 1.4l-6.5 0.7l-15-0.5l0-0.4l2-2l0-0.5l7-7.1l0.5 0l1.5-1.5l0.5 0l4-3l3.5-1.5l3.5-2l1 0l0.5-0.5l1 0l0.5-0.5l1 0l0.5-0.5l1 0l0.5-0.5l1.5 0l0.5-0.5l1.5 0l0.5-0.5l2.5 0l0.5-0.5l14 0l0.5 0.5l2.5 0l0.5 0.5l2 0l0.5 0.5l1.5 0l0.5 0.5l1 0l0.5 0.5l1 0l0.5 0.5l1 0l1.5 1l1 0l2.5 1.5l2.5 1l1 1l1.5 0.5l3 2.5l0.5 0l1.5 1.5l0.5 0l6.1 6.1l0 0.5l2 2l-0.1 0.5l2 2.5l0 0.5z"/>
<path fill="rgb(255,206,0)" fill-rule="evenodd" d="M291.7 446l-3.5 0.1l-10.5-2.8l-4.5-0.7l-4-0.1l-6 0.8l-3-0.1l-12-2.9l-6.5-0.9l-3 0.1l-8.5 1.6l-5 0.4l-4-0.1l-10-1l0.5-0.5l0-0.5l7-7.1l0.5 0l1.5-1.5l0.5 0l4-3l3.5-1.5l3.5-2l1 0l0.5-0.5l1 0l0.5-0.5l1 0l0.5-0.5l1 0l0.5-0.5l1.5 0l0.5-0.5l1.5 0l0.5-0.5l2.5 0l0.5-0.5l14 0l0.5 0.5l2.5 0l0.5 0.5l2 0l0.5 0.5l1.5 0l0.5 0.5l1 0l0.5 0.5l2.5 0.5l1.5 1l1 0l2.5 1.5l2.5 1l1 1l1.5 0.5l3 2.5l0.5 0l1.5 1.5l0.5 0l6.1 6.1l0 0.5l1.9 2l0 0.5l1.5 2l0 0.4z"/>
<path fill="rgb(255,167,0)" fill-rule="evenodd" d="M291.2 445.5l-3.5-0.3l-9.5-3.1l-4-0.9l-7-0.4l-4.5 0.7l-3-0.1l-8.5-2l-7-1l-6 0l-8.5 1.5l-5 0.4l-4.5-0.3l-8-1.1l6.5-6.5l0.5 0l1.5-1.6l0.5 0l4-3l3.5-1.5l3.5-2l1 0l0.5-0.5l1 0l0.5-0.5l1 0l0.5-0.5l1 0l0.5-0.5l1.5 0l0.5-0.5l1.5 0l0.5-0.5l2.5 0l0.5-0.5l14 0l0.5 0.5l2.5 0l0.5 0.5l2 0l0.5 0.5l1.5 0l0.5 0.5l1 0l0.5 0.5l2.5 0.5l1.5 1l1 0l0.5 0.5l4.5 2l1 1l1.5 0.5l3 2.5l0.5 0l1.5 1.5l0.5 0l6.1 6.1l0 0.5l1.9 2l0 0.5l1 1l0 0.9z"/>
<path fill="rgb(255,128,0)" fill-rule="evenodd" d="M290.2 444.9l-3-0.6l-9.5-3.8l-5.5-1.1l-5.5-0.2l-7 0.5l-8-1.8l-8.5-0.8l-6 0.2l-7.5 1.4l-5.5 0.3l-4.5-0.3l-6-1.3l5-5l0.5 0l1.5-1.5l0.5 0l4-3.1l3.5-1.5l3.5-2l1 0l0.5-0.5l1 0l0.5-0.5l1 0l0.5-0.5l1 0l0.5-0.5l1.5 0l0.5-0.5l1.5 0l0.5-0.5l2.5 0l0.5-0.5l14 0l0.5 0.5l2.5 0l0.5 0.5l2 0l0.5 0.5l1.5 0l0.5 0.5l1 0l0.5 0.5l2.5 0.5l1.5 1l1 0l2.5 1.5l2.5 1l1 1l1.5 0.5l3 2.5l0.5 0l1.5 1.5l0.5 0l6 6.1l0 0.5l2 2l0 0.5l1 1l-3.5 1.6z"/>
<path fill="rgb(255,88,0)" fill-rule="evenodd" d="M291.2 444l-3-0.3l-9.5-4.4l-5.5-1.4l-5-0.2l-8 0.3l-9-1.6l-7.5-0.5l-7.5 0.2l-7.5 1.2l-6.5 0.3l-7-1.3l0-0.4l3.5-3.5l0.5 0l1.5-1.5l0.5 0l4-3l3.5-1.5l3.5-2.1l1 0l0.5-0.5l1 0l0.5-0.5l1 0l0.5-0.5l1 0l0.5-0.5l1.5 0l0.5-0.5l1.5 0l0.5-0.5l2.5 0l0.5-0.5l14 0l0.5 0.5l2.5 0l0.5 0.5l2 0l0.5 0.5l1.5 0l0.5 0.5l1 0l0.5 0.5l2.5 0.5l1.5 1l1 0l2.5 1.5l2.5 1l1 1l1.5 0.5l1 1l0.5 0l1.5 1.5l0.5 0l1.5 1.5l0.5 0l6 6.1l0 0.5l2 2l0.3 1z"/>
<path fill="rgb(255,49,0)" fill-rule="evenodd" d="M291.2 443l-1.5 0l-1.5-0.4l-9-4.8l-3-1.1l-2.5-0.4l-13 0l-15.5-1.8l-10.5 0.2l-12 1.3l-6.3-1.1l2.3-2.5l0.5 0l1.5-1.5l0.5 0l4-3l3.5-1.5l3.5-2l1 0l0.5-0.5l1 0l0.5-0.5l1 0l0.5-0.5l1 0l0.5-0.5l1.5 0l0.5-0.5l1.5 0l0.5-0.5l2.5 0l0.5-0.5l14 0l0.5 0.5l2.5 0l0.5 0.5l2 0l0.5 0.5l1.5 0l0.5 0.5l1 0l0.5 0.5l2.5 0.5l1.5 1l1 0l0.5 0.5l4.5 2l1 1l1.5 0.5l1 1l0.5 0l1.5 1.5l0.5 0l1.5 1.5l0.5 0l6 6l0 0.5l2 2z"/>
<path fill="rgb(255,10,0)" fill-rule="evenodd" d="M292.2 441.4l-1.5 0.4l-2-0.4l-9-5.2l-3-1.2l-2.5-0.4l-9 0.3l-20-1.9l-13 0.1l-9.5 1.1l-5-0.8l3-2.5l0.5 0l4-3l3.5-1.5l3.5-2l1 0l0.5-0.5l1 0l0.5-0.5l1 0l0.5-0.5l1 0l0.5-0.5l1.5 0l0.5-0.5l1.5 0l0.5-0.5l2.5 0l0.5-0.5l14 0l0.5 0.5l2.5 0l0.5 0.5l2 0l0.5 0.5l1.5 0l0.5 0.5l1 0l0.5 0.5l2.5 0.5l1.5 1l1 0l2.5 1.5l2.5 1l2 1.5l0.5 0l3 2.5l0.5 0l1.5 1.5l0.5 0l6 6l0 0.5l1 1l0 0.4z"/>
<path fill="rgb(226,0,0)" fill-rule="evenodd" d="M292.2 439.9l-2 0.2l-1.5-0.4l-9-5.4l-2.5-1.1l-2.5-0.5l-9 0.3l-20.5-1.8l-15-0.3l-7.5 1.1l-2.5-0.2l0-0.4l2-1.5l0.5 0l1-1l0.5 0l1-1l3.5-1.5l3.5-2l1 0l0.5-0.5l1 0l0.5-0.5l1 0l0.5-0.5l1 0l0.5-0.5l1.5 0l0.5-0.5l1.5 0l0.5-0.5l2.5 0l0.5-0.5l14 0l0.5 0.5l2.5 0l0.5 0.5l2 0l0.5 0.5l1.5 0l0.5 0.5l1 0l0.5 0.5l2.5 0.5l1.5 1l1 0l2.5 1.5l2.5 1l1 1l1.5 0.5l1 1l0.5 0l3.5 3l0.5 0l6 6l0 0.9z"/>
<path fill="rgb(186,0,0)" fill-rule="evenodd" d="M291.7 438.2l-2.5-0.4l-9.5-5.5l-2.5-1l-2.5-0.5l-8.5-0.1l-19.5-1.6l-14-0.4l-9.5 0.7l2-1.5l3.5-1.5l3.5-2l1 0l0.5-0.5l1 0l0.5-0.5l1 0l0.5-0.5l1 0l0.5-0.5l3.5-0.5l0.5-0.5l2.5 0l0.5-0.5l14 0l0.5 0.5l2.5 0l0.5 0.5l2 0l0.5 0.5l1.5 0l0.5 0.5l1 0l0.5 0.5l2.5 0.5l1.5 1l1 0l2.5 1.5l2.5 1l1 1l1.5 0.5l1 1l0.5 0l3.5 3l0.5 0z"/>
<path fill="rgb(147,0,0)" fill-rule="evenodd" d="M288.7 435.3l-9-5l-5.5-1.6l-22.5-2.1l-23.5-0.2l3.5-1.5l0.5-0.5l1 0l0.5-0.5l1 0l0.5-0.5l1 0l0.5-0.5l1 0l0.5-0.5l3.5-0.5l0.5-0.5l2.5 0l0.5-0.5l14 0l0.5 0.5l2.5 0l0.5 0.5l2 0l0.5 0.5l1.5 0l0.5 0.5l1 0l0.5 0.5l2.5 0.5l1.5 1l1 0l2.5 1.5l2.5 1l1 1l1.5 0.5l1 1l0.5 0l1.5 1.5l0.5 0l1.5 1.5l0.5 0l2 2zM289.2 435.5l-0.3-0.1z"/>
</g>
<ellipse cx="252.4" cy="472.3" rx="51.2" ry="50.4" fill="none" stroke="#1a1a1a" stroke-width="0.7"/>
<g clip-path="url(#ct5)">
<ellipse cx="391.8" cy="472.3" rx="52.4" ry="51.4" fill="rgb(0,0,147)"/>
<path fill="rgb(0,0,186)" fill-rule="evenodd" d="M397.4 524l-11 0l-0.5-0.5l-3 0l-0.5-0.5l-2 0l-0.5-0.5l-1.5 0l-0.5-0.5l-1.5 0l-0.5-0.5l-1 0l-0.5-0.5l-1 0l-1.5-1l-1 0l-2.5-1.5l-3.5-1.5l-1-1l-1.5-0.5l-3-2.5l-0.5 0l-6.6-6.1l0-0.5l-2.5-2.5l0-0.5l-1.5-1.5l0-0.5l-1-1l0-0.5l-1-1l0-0.5l-3.5-6.5l0-1l-1-1.5l-0.5-2.5l-0.5-0.5l0-1.5l-0.5-0.5l0-2l-0.5-0.5l0-2l-0.5-0.5l0-14l0.4-0.5l0-2.5l0.5-0.5l0-1.5l0.5-0.5l0-1.5l0.5-0.5l0-1l0.5-0.5l0.5-2.5l1-1.5l0-1l0.5-0.5l1.5-3.5l1-1l0.5-1.5l1-1l0-0.5l3-3.5l0-0.5l6.7-6.7l0.5 0l2-2l0.5 0l2.5-2l1.5-0.5l1-1l2.5-1l2.5-1.5l1 0l1.5-1l1 0l0.5-0.5l1 0l0.5-0.5l1 0l0.5-0.5l1.5 0l0.5-0.5l2 0l0.5-0.5l2.5 0l0.5-0.5l14 0l0.5 0.5l2.5 0l0.5 0.5l2 0l0.5 0.5l1 0l0.5 0.5l1.5 0l0.5 0.5l1 0l1.5 1l1 0l1.5 1l1 0l1.5 1l1.5 0.5l1 1l1.5 0.5l1 1l0.5 0l1 1l0.5 0l1.5 1.5l0.5 0l6.7 6.2l0 0.5l2.5 2.5l0 0.5l2.5 3l0.5 1.5l1 1l0 0.5l2.5 4.5l0 1l1 1.5l0.4 2.5l0.5 0.5l0 1l0.5 0.5l0 1.5l0.5 0.5l0 2l0.5 0.5l-0.1 3l0.5 0.5l0 6.9l-2.5-1.4l-3-0.6l-2.4 0.6l-1.1 1.5l-0.1 1.5l0.8 2l3.3 3.7l3.5 2.7l0 1.6l-0.5 0.5l0 1.5l-0.5 0.5l0 1l-1 1.5l0 1l-1 1.5l0 1l-1 1.5l0 0.5l-1 1l-1 2.5l-2.5 3l0 0.5l-1.5 1.5l0 0.5l-7 7l-0.5 0l-2 2.1l-0.5 0l-1 1l-0.5 0l-1 1l-1.5 0.5l-1 1l-0.5 0l-3.5 2l-1 0l-1.5 1l-1 0l-1.5 1l-1.5 0l-0.5 0.5l-1 0l-0.5 0.5l-1.5 0l-0.5 0.5l-2 0l-0.5 0.5l-3 0z"/>
<path fill="rgb(0,0,226)" fill-rule="evenodd" d="M397.4 524l-11 0l-0.5-0.5l-3 0l-0.5-0.5l-2 0l-0.5-0.5l-1.5 0l-0.5-0.5l-1.5 0l-0.5-0.5l-1 0l-0.5-0.5l-1 0l-1.5-1l-1 0l-2.5-1.5l-3.5-1.5l-1-1l-1.5-0.5l-3-2.5l-0.5 0l-6.6-6.1l0-0.5l-2.5-2.5l0-0.5l-1.5-1.5l0-0.5l-1-1l0-0.5l-1-1l0-0.5l-3.5-6.5l0-1l-1-1.5l-0.5-2.5l-0.5-0.5l0-1.5l-0.5-0.5l0-2l-0.5-0.5l0-2l-0.5-0.5l0-14l0.5-0.5l0-2.5l0.5-0.5l-0.1-1.5l0.5-0.5l0-1.5l0.5-0.5l0-1l0.5-0.5l0.5-2.5l1-1.5l0-1l0.5-0.5l1.5-3.5l1-1l0.5-1.5l1-1l0-0.5l3-3.5l0-0.5l6.7-6.7l0.5 0l2-2l0.5 0l2.5-2l1.5-0.5l1-1l2.5-1l2.5-1.5l1 0l1.5-1l1 0l0.5-0.5l1 0l0.5-0.5l1 0l0.5-0.5l1.5 0l0.5-0.5l2 0l0.5-0.5l2.5 0l0.5-0.5l14 0l0.5 0.5l2.5 0l0.5 0.5l2 0l0.5 0.5l1 0l0.5 0.5l1.5 0l0.5 0.5l1 0l1.5 1l1 0l1.5 1l1 0l1.5 1l1.5 0.5l1 1l1.5 0.5l1 1l0.5 0l1 1l0.5 0l1.5 1.5l0.5 0l6.7 6.2l0 0.5l2.5 2.5l0 0.5l2.5 3l0.5 1.5l1 1l0 0.5l2.5 4.5l0 1l0.9 1.5l0.5 2.5l0.5 0.5l0 1l0.5 0.5l0 1.5l0.5 0.5l0 2l0.5 0.5l-0.1 3l0.5 0.5l0 3.4l-5-1.5l-2-0.1l-2 0.4l-1.8 0.8l-2.1 1.5l-1.4 1.5l-1.1 2l-0.1 2l0.6 1.5l3.9 4l7 9.3l0 0.7l-0.5 0.5l0 1l-1 1.5l0 0.5l-1 1l-1 2.5l-2.5 3l0 0.5l-1.5 1.5l0 0.5l-7 7l-0.5 0l-2 2l-0.5 0l-1 1l-0.5 0l-1 1l-1.5 0.6l-1 1l-0.5 0l-3.5 2l-1 0l-1.5 1l-1 0l-1.5 1l-1.5 0l-0.5 0.5l-1 0l-0.5 0.5l-1.5 0l-0.5 0.5l-2 0l-0.5 0.5l-3 0z"/>
<path fill="rgb(0,10,255)" fill-rule="evenodd" d="M397.4 524l-11 0l-0.5-0.5l-3 0l-0.5-0.5l-2 0l-0.5-0.5l-1.5 0l-0.5-0.5l-1.5 0l-0.5-0.5l-1 0l-0.5-0.5l-1 0l-1.5-1l-1 0l-2.5-1.5l-3.5-1.5l-1-1l-1.5-0.5l-3-2.5l-0.5 0l-6.6-6.1l0-0.5l-2.5-2.5l0-0.5l-1.5-1.5l0-0.5l-1-1l0-0.5l-1-1l0-0.5l-3.5-6.5l0-1l-1-1.5l-0.5-2.5l-0.5-0.5l0-1.5l-0.5-0.5l0-2l-0.5-0.5l0-2l-0.5-0.5l0-14l0.5-0.5l0-2.5l0.5-0.5l0-1.5l0.5-0.5l0-1.5l0.5-0.5l-0.1-1l0.5-0.5l0.5-2.5l1-1.5l0-1l0.5-0.5l1.5-3.5l1-1l0.5-1.5l1-1l0-0.5l3-3.5l0-0.5l6.7-6.7l0.5 0l2-2l0.5 0l2.5-2l1.5-0.5l1-1l2.5-1l2.5-1.5l1 0l1.5-1l1 0l0.5-0.5l1 0l0.5-0.5l1 0l0.5-0.5l1.5 0l0.5-0.5l2 0l0.5-0.5l2.5 0l0.5-0.5l14 0l0.5 0.5l2.5 0l0.5 0.5l2 0l0.5 0.5l1 0l0.5 0.5l1.5 0l0.5 0.5l1 0l1.5 1l1 0l1.5 1l1 0l1.5 1l1.5 0.5l1 1l1.5 0.5l1 1l0.5 0l1 1l0.5 0l1.5 1.5l0.5 0l6.7 6.2l0 0.5l2.5 2.5l0 0.5l2.5 3l0.5 1.5l1 1l0 0.5l2.5 4.5l-0.1 1l1 1.5l0.5 2.5l0.5 0.5l0 1l0.5 0.5l0 1.5l0.5 0.5l-0.1 2l0.5 0.5l0 3l0.5 0.5l0 1.1l-5.5-1.4l-4 0.2l-10.5 4.8l-5.5 1.9l-1.6 0.9l-0.6 1.5l0.8 1.5l6.8 7.5l3.2 5l3.8 12.5l0.6 3.5l-6 6l-0.5 0l-2 2l-0.5 0l-1 1l-0.5 0l-1 1l-1.5 0.5l-1 1l-0.5 0l-3.5 2.1l-1 0l-1.5 1l-1 0l-1.5 1l-1.5 0l-0.5 0.5l-1 0l-0.5 0.5l-1.5 0l-0.5 0.5l-2 0l-0.5 0.5l-3 0z"/>
<path fill="rgb(0,49,255)" fill-rule="evenodd" d="M397.4 524l-11 0l-0.5-0.5l-3 0l-0.5-0.5l-2 0l-0.5-0.5l-1.5 0l-0.5-0.5l-1.5 0l-0.5-0.5l-1 0l-0.5-0.5l-1 0l-1.5-1l-1 0l-2.5-1.5l-3.5-1.5l-1-1l-1.5-0.5l-3-2.5l-0.5 0l-6.6-6.1l0-0.5l-2.5-2.5l0-0.5l-1.5-1.5l0-0.5l-1-1l0-0.5l-1-1l0-0.5l-3.5-6.5l0-1l-1-1.5l-0.5-2.5l-0.5-0.5l0-1.5l-0.5-0.5l0-2l-0.5-0.5l0-2l-0.5-0.5l0-14l0.5-0.5l0-2.5l0.5-0.5l0-1.5l0.5-0.5l0-1.5l0.5-0.5l0-1l0.5-0.5l0.4-2.5l1-1.5l0-1l0.5-0.5l1.5-3.5l1-1l0.5-1.5l1-1l0-0.5l3-3.5l0-0.5l6.7-6.7l0.5 0l2-2l0.5 0l2.5-2l1.5-0.5l1-1l2.5-1l2.5-1.5l1 0l1.5-1l1 0l0.5-0.5l1 0l0.5-0.5l1 0l0.5-0.5l1.5 0l0.5-0.5l2 0l0.5-0.5l2.5 0l0.5-0.5l14 0l0.5 0.5l2.5 0l0.5 0.5l2 0l0.5 0.5l1 0l0.5 0.5l1.5 0l0.5 0.5l1 0l1.5 1l1 0l1.5 1l1 0l1.5 1l1.5 0.5l1 1l1.5 0.5l2.5 2l0.5 0l4.5 4l0.5 0l3.7 3.7l0 0.5l2.5 2.5l0 0.5l1 1l0 0.5l1.5 1.5l0.5 1.5l1 1l0 0.5l1.5 2.5l0 0.5l0.9 1.5l0 1l1 1.5l0.5 2.5l0.5 0.5l0 1l0.5 0.5l0 1.5l0.5 0.5l-0.1 2l0.5 0.5l0 2.6l-5.5-1.3l-3.5 0.1l-11 3.6l-11.2 2.5l-2.3 1l-1.3 1l-0.4 1.5l0.6 2l7 8l2.9 5l0.8 3.5l0 6l0.5 3.5l1 3.5l2.9 7l-4 3l-1.5 0.5l-1 1l-0.5 0l-3.5 2l-1 0l-1.5 1l-1 0.1l-1.5 1l-1.5 0l-0.5 0.5l-1 0l-0.5 0.5l-1.5 0l-0.5 0.5l-2 0l-0.5 0.5l-3 0zM372.6 483.9l2.3-1.1l1.8-2.4l0.3-2.5l-1.1-2.5l-2.6-2l-4.9-2.1l-3-0.5l-2 0.6l-1.3 1.5l-0.5 2.5l0.5 3l1.3 2.4l1.7 1.6l2.2 1l3.1 0.7z"/>
<path fill="rgb(0,88,255)" fill-rule="evenodd" d="M397.4 524l-11 0l-0.5-0.5l-3 0l-0.5-0.5l-2 0l-0.5-0.5l-1.5 0l-0.5-0.5l-1.5 0l-0.5-0.5l-1 0l-0.5-0.5l-1 0l-1.5-1l-1 0l-2.5-1.5l-3.5-1.6l-1-1l-1.5-0.5l-3-2.5l-0.5 0l-6.5-6l0-0.5l-2.6-2.5l0-0.5l-1.5-1.5l0-0.5l-1-1l0-0.5l-1-1l0-0.5l-3.5-6.5l0-1l-1-1.5l-0.5-2.5l-0.5-0.5l0-1.5l-0.5-0.5l0-2l-0.5-0.5l0-2l-0.5-0.5l0-14l0.5-0.5l0-2.5l0.5-0.5l0-1.5l0.5-0.5l0-1.5l0.5-0.5l0-1l0.5-0.5l0.5-2.5l1-1.5l-0.1-1l0.5-0.5l1.5-3.5l1-1l0.5-1.5l1-1l0-0.5l3-3.5l0-0.5l6.7-6.7l0.5 0l2-2l0.5 0l2.5-2l1.5-0.5l1-1l2.5-1l2.5-1.5l1 0l1.5-1l1 0l0.5-0.5l1 0l0.5-0.5l1 0l0.5-0.5l1.5 0l0.5-0.5l2 0l0.5-0.5l2.5 0l0.5-0.5l14 0l0.5 0.5l2.5 0l0.5 0.5l2 0l0.5 0.5l1 0l0.5 0.5l1.5 0l0.5 0.5l1 0l1.5 1l1 0l1.5 1l1 0l1.5 1l1.5 0.5l1 1l1.5 0.5l2.5 2l0.5 0l4.5 4l0.5 0l3.7 3.7l0 0.5l2.5 2.5l0 0.5l1 1l0 0.5l1.5 1.5l0.5 1.5l1 1l0 0.5l1.4 2.5l0 0.5l1 1.5l0 1l1 1.5l0.5 2.5l0.5 0.5l0 1l0.5 0.5l-0.1 1.5l0.5 0.5l0 2l0.5 0.5l0 1l-6.5-1.4l-3.5 0.2l-10 2.9l-12 2.5l-3.1 1.3l-2.5 2l-1 2l0.3 2.5l6.3 9.5l3 6l0.4 2l-0.1 6l0.4 3.5l1.4 4.5l3 8l-1.1 0.5l-1 1l-0.5 0l-3.5 2l-1 0l-1.5 1l-1 0l-1.5 1l-1.5 0l-0.5 0.5l-1 0.1l-0.5 0.5l-1.5 0l-0.5 0.5l-2 0l-0.5 0.5l-3 0zM372.9 487.9l2-0.8l1.7-1.2l1.3-1.5l1.1-2l0.9-4l-0.2-2l-0.8-2l-1.2-1.5l-1.8-1.3l-6.5-2.4l-4-0.7l-2 0.3l-1.4 0.6l-2.1 2.2l-1 3.3l0.2 4.5l1.4 4l2 2.5l2.9 1.7l3.5 0.7z"/>
<path fill="rgb(0,128,255)" fill-rule="evenodd" d="M397.4 524l-11 0l-0.5-0.5l-3 0l-0.5-0.5l-2 0l-0.5-0.5l-1.5 0l-0.5-0.5l-1.5-0.1l-0.5-0.5l-1 0l-0.5-0.5l-1 0l-1.5-1l-1 0l-2.5-1.5l-3.5-1.5l-1-1l-1.5-0.5l-3-2.5l-0.5 0l-6.5-6l0-0.5l-2.5-2.5l0-0.5l-1.5-1.5l0-0.5l-1-1l0-0.5l-1-1l0-0.5l-3.6-6.5l0-1l-1-1.5l-0.5-2.5l-0.5-0.5l0-1.5l-0.5-0.5l0-2l-0.5-0.5l0-2l-0.5-0.5l0-14l0.5-0.5l0-2.5l0.5-0.5l0-1.5l0.5-0.5l0-1.5l0.5-0.5l0-1l0.5-0.5l0.5-2.5l1-1.5l0-1l0.5-0.5l1.4-3.5l1-1l0.5-1.5l1-1l0-0.5l3-3.5l0-0.5l6.7-6.7l0.5 0l2-2l0.5 0l2.5-2l1.5-0.5l1-1l2.5-1l2.5-1.5l1 0l1.5-1l1 0l0.5-0.5l1 0l0.5-0.5l1 0l0.5-0.5l1.5 0l0.5-0.5l2 0l0.5-0.5l2.5 0l0.5-0.5l14 0l0.5 0.5l2.5 0l0.5 0.5l2 0l0.5 0.5l1 0l0.5 0.5l1.5 0l0.5 0.5l1 0l1.5 1l1 0l1.5 1l1 0l1.5 1l1.5 0.5l1 1l1.5 0.5l2.5 2l0.5 0l4.5 4l0.5 0l3.7 3.7l0 0.5l2.5 2.5l0 0.5l1 1l0 0.5l1.5 1.5l0.5 1.5l1 1l-0.1 0.5l2.5 4.5l0 1l1 1.5l0.5 2.5l0.5 0.5l0 1l0.4 0.5l0 1.5l0.5 0.5l0 1.9l-6-1.2l-3-0.1l-21.5 4.8l-6 2.5l-2.3 1.6l-1.4 1.5l-0.8 2l0.1 2l0.8 2l3.5 6l3.5 8l0.6 3l0.5 7.5l4.7 15.5l-0.2 0.5l-0.5 0l-1.5 1l-1 0l-1.5 1l-1 0l-1.5 1l-1.5 0l-0.5 0.5l-1 0l-0.5 0.5l-1.5 0l-0.5 0.5l-2 0.1l-0.5 0.5l-3 0zM371.5 492.4l2.9-0.8l2.5-1.3l2-1.6l1.5-2l1.4-3.3l0.8-3.5l0.1-3l-0.6-3l-0.8-1.5l-1.3-1.5l-3.1-1.7l-10-2.6l-2.5-0.1l-2.5 0.5l-1.7 0.9l-1.5 1.5l-1.3 2l-0.7 2l-0.5 3l0 3.5l1.1 5.5l2.5 4l3.1 2.4l4 0.9z"/>
<path fill="rgb(0,167,255)" fill-rule="evenodd" d="M397.4 523.9l-11 0l-0.5-0.5l-3 0l-0.5-0.5l-2 0l-0.5-0.5l-1.5 0l-0.5-0.5l-1.5 0l-0.5-0.5l-1 0l-0.5-0.5l-1 0l-1.5-1l-1 0l-2.5-1.5l-3.5-1.5l-1-1l-1.5-0.5l-3-2.5l-0.5 0l-6.5-6l0-0.5l-2.5-2.5l0-0.5l-1.5-1.5l0-0.5l-1-1l0-0.5l-1-1l0-0.5l-3.5-6.5l0-1l-1-1.5l-0.5-2.5l-0.5-0.5l0-1.5l-0.5-0.5l0-2l-0.5-0.5l0-2l-0.5-0.5l-0.1-14l0.5-0.5l0-2.5l0.5-0.5l0-1.5l0.5-0.5l0-1.5l0.5-0.5l0-1l0.5-0.5l0.5-2.5l1-1.5l0-1l0.5-0.5l1.5-3.5l0.9-1l0.5-1.5l1-1l0-0.5l3-3.5l0-0.5l6.7-6.7l0.5 0l2-2l0.5 0l2.5-2l1.5-0.5l1-1l2.5-1l2.5-1.5l1 0l1.5-1l1 0l0.5-0.5l1 0l0.5-0.5l1 0l0.5-0.5l1.5 0l0.5-0.5l2 0l0.5-0.5l2.5 0l0.5-0.5l14 0l0.5 0.5l2.5 0l0.5 0.5l2 0l0.5 0.5l1 0l0.5 0.5l1.5 0l0.5 0.5l1 0l1.5 1l1 0l1.5 1l1 0l1.5 1l1.5 0.5l1 1l1.5 0.5l2.5 2l0.5 0l4.5 4l0.5 0l3.7 3.7l0 0.5l2.5 2.5l0 0.5l1 1l0 0.5l1.5 1.5l0.4 1.5l1 1l0 0.5l2.5 4.5l0 1l1 1.5l0.5 2.5l0.5 0.5l-0.1 1l0.5 0.5l0 1.5l0.5 0.5l0 0.7l-7-1.4l-3 0l-19.5 4.1l-4 1.3l-4 1.8l-3 2l-2.4 2.5l-1.2 2.5l0.1 2l4 7.1l3.3 8.9l0.7 3.5l0.6 6l3 10l1.4 8l-0.5 0l-0.5 0.5l-1 0l-1.5 1l-1.5 0l-0.5 0.5l-1 0l-0.5 0.5l-1.5 0l-0.5 0.5l-2 0l-0.5 0.5l-3 0zM366 498.4l5.9-1.4l5.5-2.3l4-2.8l2.5-3.1l1-2.9l0.8-4l0.1-7l-0.5-2l-1-2l-1.4-1.7l-2-1.4l-3-1l-9.5-1.9l-5-0.2l-2.5 0.6l-2 1.1l-2.2 2l-1.6 2.5l-1.3 4l-0.5 6.5l0.5 4.5l1.6 4.9l2 3.8l2.5 2.5l3 1.3z"/>
<path fill="rgb(0,206,255)" fill-rule="evenodd" d="M397.4 523.9l-11 0l-0.5-0.5l-3 0l-0.5-0.5l-2 0l-0.5-0.5l-1.5 0l-0.5-0.5l-1.5 0l-0.5-0.5l-1 0l-0.5-0.5l-1 0l-1.5-1l-1 0l-2.5-1.5l-3.5-1.5l-1-1l-1.5-0.5l-3-2.5l-0.5 0l-6.5-6l0-0.5l-2.5-2.5l0-0.5l-1.5-1.5l0-0.5l-1-1l0-0.5l-1-1l0-0.5l-3.5-6.5l0-1l-1-1.5l-0.5-2.5l-0.5-0.5l0-1.5l-0.5-0.5l0-2l-0.5-0.5l0-2l-0.5-0.5l-0.1-14l0.5-0.5l0-2.5l0.5-0.5l0-1.5l0.5-0.5l0-1.5l0.5-0.5l0-1l0.5-0.5l0.5-2.5l1-1.5l0-1l0.5-0.5l1.5-3.5l1-1l0.5-1.5l1-1l0-0.5l2.9-3.5l0-0.5l6.7-6.7l0.5 0l2-2l0.5 0l2.5-2l1.5-0.5l1-1l2.5-1l2.5-1.5l1 0l1.5-1l1 0l0.5-0.5l1 0l0.5-0.5l1 0l0.5-0.5l1.5 0l0.5-0.5l2 0l0.5-0.5l2.5 0l0.5-0.5l14 0l0.5 0.5l2.5 0l0.5 0.5l2 0l0.5 0.5l1 0l0.5 0.5l1.5 0l0.5 0.5l1 0l1.5 1l1 0l1.5 1l1 0l1.5 1l1.5 0.5l1 1l1.5 0.5l1 1l0.5 0l1 1l0.5 0l1.5 1.5l0.5 0l2.5 2.5l0.5 0l6.2 6.7l-0.1 0.5l2.5 3l0.5 1.5l1 1l0 0.5l2 3.5l0 0.5l0.5 0.5l0 1l1 1.5l0.4 2.5l0.5 0.5l0 1l0.5 0.5l0 1.4l-6.5-1.2l-4.5 0l-15 2.8l-4.5 1.1l-4 1.5l-4.5 2.3l-8.5 6.3l-2.5 1.2l-1-0.1l-1.5-1.1l-4-4.7l-2.4-2l-3.1-1.5l-3.5-0.8l-10.5-1.2l-5.5 0.5l-2 0.6l-2.3 1.4l-3.8 4l-1.5 2.5l-1 3l-1 6l0.3 4l2.1 12.5l1.7 6l2.6 5l1.4 1.6l2 1.2l2.5 0.2l2.5-1.1l7.5-7.4l8-4.8l4.1-3.2l3.1-4l3-8.5l1.8-2.6l1-0.4l1.5 0.3l2.5 1.5l2 1.9l1.5 2.5l1.4 3.8l5 20l0.9 5l0.4 7l-1.2 0l-0.5 0.5l-1 0l-0.5 0.5l-1.5 0l-0.5 0.5l-2 0l-0.5 0.5l-3 0z"/>
<path fill="rgb(0,245,255)" fill-rule="evenodd" d="M345.9 497.9l0-0.5l-3-5.5l0-1l-1-1.5l-0.5-2.5l-0.5-0.5l0-1.5l-0.5-0.5l0-2l-0.5-0.5l0-2l-0.5-0.5l0-14l0.5-0.5l-0.1-2.5l0.5-0.5l0-1.5l0.5-0.5l0-1.5l0.5-0.5l0-1l0.5-0.5l0.5-2.5l1-1.5l0-1l0.5-0.5l1.5-3.5l1-1l0.5-1.5l1-1l0-0.5l3-3.5l0-0.5l6.6-6.7l0.5 0l2-2l0.5 0l2.5-2l1.5-0.5l1-1l2.5-1l2.5-1.5l1 0l1.5-1l1 0l0.5-0.5l1 0l0.5-0.5l1 0l0.5-0.5l1.5 0l0.5-0.5l2 0l0.5-0.5l2.5 0l0.5-0.5l14 0l0.5 0.5l2.5 0l0.5 0.5l2 0l0.5 0.5l1 0l0.5 0.5l1.5 0l0.5 0.5l1 0l1.5 1l1 0l1.5 1l1 0l1.5 1l1.5 0.5l1 1l1.5 0.5l2.5 2l0.5 0l4.5 4l0.5 0l3.6 3.7l0 0.5l2.5 2.5l0 0.5l2.5 3l0.5 1.5l1 1l0 0.5l2.5 4.5l0 1l1 1.5l-0.1 1l0.5 0.5l0 1l0.5 0.5l0 1l0.5 0.8l-7-1l-5-0.2l-15 2.4l-7 2.3l-5.5 2.7l-6 3.4l-2.5 0.9l-2 0.1l-1.5-0.5l-6.4-4.9l-3.6-1.7l-3-0.9l-9.5-0.6l-4.5 0.1l-4 0.7l-3.4 1.4l-3.1 2.2l-3.3 3.3l-3.4 4.5l-2.8 4.5l-0.2 1.5l0.2 2l2.3 8.5l-0.1 3.5zM397.4 523.9l-11 0l-0.5-0.5l-3 0l-0.5-0.5l-2 0l-0.5-0.5l-1.5 0l-0.5-0.5l-1.5 0l-0.5-0.5l-1 0l-0.5-0.5l-1 0l-0.3-0.5l4.3-11l1.8-3l2.9-3l8.6-7.5l4.2-5.3l1-0.7l0.5 0.2l1 1.5l4 8.5l2.8 8.3l0.6 5l-0.3 9l-0.6 0l-0.5 0.5l-2 0l-0.5 0.5l-3 0z"/>
<path fill="rgb(29,255,226)" fill-rule="evenodd" d="M339.4 476l0-10.6l0.5-0.5l0-2.5l0.5-0.5l-0.1-1.5l0.5-0.5l0-1.5l0.5-0.5l0-1l0.5-0.5l0.5-2.5l1-1.5l0-1l0.5-0.5l1.5-3.5l1-1l0.5-1.5l1-1l0-0.5l3-3.5l0-0.5l6.6-6.6l0.5 0l2-2l0.5 0l2.5-2l1.5-0.5l1-1l2.5-1l2.5-1.5l1 0l1.5-1l1 0l0.5-0.5l1 0l0.5-0.5l1 0l0.5-0.6l1.5 0l0.5-0.5l2 0l0.5-0.5l2.5 0l0.5-0.5l14 0l0.5 0.5l2.5 0l0.5 0.5l2 0l0.5 0.5l1 0l0.5 0.5l1.5 0l0.5 0.6l1 0l1.5 1l1 0l1.5 1l1 0l1.5 1l1.5 0.5l1 1l1.5 0.5l1 1l0.5 0l1 1l0.5 0l4.5 4l0.5 0l6.1 6.6l0 0.5l2.5 3l0.5 1.5l1 1l0 0.5l2.5 4.5l0 1l0.9 1.5l0.5 2.5l0.5 0.5l0 0.7l-12.5-1.3l-15 2.2l-5.5 1.7l-12 6.2l-3 0.7l-3-0.7l-7.5-5.1l-4.5-2.1l-3-0.4l-6.5 0l-8 0.7l-4.5 1.4l-4.4 2.5l-10.5 8.5zM397.4 523.9l-11 0l-0.5-0.5l-3 0l-0.5-0.5l-1 0l0.3-3l0.9-4l1.1-3.5l1.5-3l1.7-2.5l2.5-2.5l2.5-1.7l2-0.7l2.5 0.3l2 1.4l1.5 2.6l1 3.6l0.2 5.5l-1 6.5l-0.4 1.5l-1.8 0z"/>
<path fill="rgb(69,255,186)" fill-rule="evenodd" d="M339.4 470.7l0-5.3l0.5-0.5l0-2.5l0.5-0.5l0-1.5l0.5-0.5l0-1.5l0.4-0.5l0-1l0.5-0.5l0.5-2.5l1-1.5l0-1l0.5-0.5l1.5-3.5l1-1l0.5-1.5l1-1l0-0.5l3-3.5l0-0.5l6.6-6.6l0.5 0l2-2l0.5 0l2.5-2l1.5-0.5l1-1l2.5-1l2.5-1.5l1 0l1.5-1l1 0l0.5-0.5l1 0l0.5-0.5l1 0l0.5-0.5l1.5 0l0.5-0.5l2 0l0.5-0.5l2.5 0l0.5-0.5l14 0l0.5 0.5l2.5 0l0.5 0.5l2 0l0.5 0.5l1 0l0.5 0.5l1.5 0l0.5 0.5l1 0l1.5 1l1 0l1.5 1l1 0l1.5 1l1.5 0.5l1 1l1.5 0.5l1 1l0.5 0l1 1l0.5 0l1.5 1.5l0.5 0l2.5 2.5l0.5 0l6.1 6.6l0 0.5l2.5 3l0.5 1.5l1 1l0 0.5l2.5 4.5l0 1l0.9 1.5l0 1l0.5 0.5l0 1.2l-12-1.5l-16 1.9l-5 1.7l-11 5.8l-3.5 0.8l-1.5-0.2l-2-0.9l-8.5-5.8l-3-1.3l-6-0.4l-9.5 0.8l-5 1.1l-5.2 2.3l-9.2 5.5zM392.9 518l-0.5 0.3l-0.4-0.9l0.4-1.4l0.5-0.4l0.4 0.8z"/>
<path fill="rgb(108,255,147)" fill-rule="evenodd" d="M339.4 467.1l0-1.7l0.5-0.5l0-2.5l0.5-0.5l0-1.5l0.5-0.5l0-1.5l0.5-0.5l0-1l0.5-0.5l0.4-2.5l1-1.5l0-1l0.5-0.5l1.5-3.5l1-1l0.5-1.5l2.5-3l0-0.5l1.5-1.5l0-0.5l6.6-6.6l0.5 0l2-2l0.5 0l2.5-2l1.5-0.5l1-1l2.5-1l2.5-1.5l1 0l1.5-1l1 0l0.5-0.5l1 0l0.5-0.5l1 0l0.5-0.5l1.5 0l0.5-0.5l2 0l0.5-0.5l2.5 0l0.5-0.5l14 0l0.5 0.5l2.5 0l0.5 0.5l2 0l0.5 0.5l1 0l0.5 0.5l1.5 0l0.5 0.5l1 0l1.5 1l1 0l1.5 1l1 0l1.5 1l1.5 0.5l1 1l1.5 0.5l1 1l0.5 0l1 1l0.5 0l1.5 1.5l0.5 0l2.5 2.5l0.5 0l6.1 6.6l0 0.5l2.5 3l0.5 1.5l1 1l0 0.5l2.5 4.5l-0.1 1l1 1.5l0 1l0.5 0.5l0 0.2l-5-0.3l-7-1.3l-16.5 1.3l-5 1.6l-10 5.8l-2 0.8l-2 0.2l-1.5-0.2l-2-0.8l-8-5.8l-3-1.5l-5-0.6l-7.5 0.5l-6.5 1.1l-5.5 1.9l-10 4.7z"/>
<path fill="rgb(147,255,108)" fill-rule="evenodd" d="M340.4 463.5l-0.5 0.3l0-1.4l0.5-0.5l0-1.5l0.5-0.5l0-1.5l0.5-0.5l0-1l0.5-0.5l0.5-2.5l0.9-1.5l0-1l0.5-0.5l1.5-3.5l1-1l0.5-1.5l1-1l0-0.5l3-3.5l0-0.5l6.6-6.6l0.5 0l2-2l0.5 0l2.5-2l1.5-0.5l1-1l2.5-1l2.5-1.5l1 0l1.5-1l1 0l0.5-0.5l1 0l0.5-0.5l1 0l0.5-0.5l1.5 0l0.5-0.5l2 0l0.5-0.5l2.5 0l0.5-0.5l14 0l0.5 0.5l2.5 0l0.5 0.5l2 0l0.5 0.5l1 0l0.5 0.5l1.5 0l0.5 0.5l1 0l1.5 1l1 0l1.5 1l1 0l1.5 1l1.5 0.5l1 1l1.5 0.5l1 1l0.5 0l1 1l0.5 0l1.5 1.5l0.5 0l6.6 6.1l0 0.5l2.5 2.5l0 0.5l1 1l0 0.5l1.5 1.5l0.5 1.5l1 1l0 0.5l1.5 2.5l0 0.5l0.9 1.5l0 1l1 1.5l0 0.8l-4-0.2l-5.5-1.3l-2.5-0.3l-17.5 0.8l-5 1.9l-8.5 5.6l-2 0.8l-2 0.3l-2-0.4l-2-1l-7-5.4l-3-1.6l-4-0.8l-5.5 0.1l-7 0.8l-4.5 1.1l-12.4 4.8z"/>
<path fill="rgb(186,255,69)" fill-rule="evenodd" d="M396.4 461l-2.5 0.3l-2-0.5l-2-1.1l-5-4.2l-3-2l-3.5-1.3l-4-0.5l-7 0.6l-6.5 1.2l-15.5 5.4l-5 2.1l0-0.6l0.5-0.5l0-1.5l0.5-0.5l0-1l0.5-0.5l0.5-2.5l1-1.5l-0.1-1l0.5-0.5l1.5-3.5l1-1l0.5-1.5l2.5-3l0-0.5l1.5-1.5l0-0.5l6.6-6.6l0.5 0l2-2l0.5 0l2.5-2l1.5-0.5l1-1l2.5-1l2.5-1.5l1 0l1.5-1l1 0l0.5-0.5l1 0l0.5-0.5l1 0l0.5-0.5l1.5 0l0.5-0.5l2 0l0.5-0.5l2.5 0l0.5-0.5l14 0l0.5 0.5l2.5 0l0.5 0.5l2 0l0.5 0.5l1 0l0.5 0.5l1.5 0l0.5 0.5l1 0l1.5 1l1 0l1.5 1l1 0l1.5 1l1.5 0.5l1 1l1.5 0.5l1 1l0.5 0l1 1l0.5 0l1.5 1.5l0.5 0l6.6 6.1l0 0.5l2.5 2.5l0 0.5l1 1l0 0.5l1.5 1.5l0.5 1.5l1 1l0 0.5l1.4 2.5l0 0.5l1 1.5l0 1l0.5 0.5l0 0.8l-3 0l-2-0.2l-4-1.3l-2-0.3l-7.5 0.2l-8-0.3l-3.5 0.2l-3 0.8l-2.5 1.3l-6.1 4.8z"/>
<path fill="rgb(226,255,29)" fill-rule="evenodd" d="M394.4 459.9l-1.5-0.1l-2-0.9l-6-5l-3.5-2.2l-3-1.2l-3-0.5l-6 0.4l-8.5 1.4l-19.5 6.6l0-1.5l0.5-0.5l0.5-2.5l1-1.5l0-1l0.5-0.5l1.4-3.5l1-1l0.5-1.5l1-1l0-0.5l3-3.5l0-0.5l6.6-6.6l0.5 0l2-2l0.5 0l2.5-2l1.5-0.5l1-1l2.5-1l2.5-1.5l1 0l1.5-1l1 0l0.5-0.5l1 0l0.5-0.5l1 0l0.5-0.5l1.5 0l0.5-0.5l2 0l0.5-0.5l2.5 0l0.5-0.5l14 0l0.5 0.5l2.5 0l0.5 0.5l2 0l0.5 0.5l1 0l0.5 0.5l1.5 0l0.5 0.5l1 0l1.5 1l1 0l1.5 1l1 0l1.5 1l1.5 0.5l1 1l1.5 0.5l1 1l0.5 0l1 1l0.5 0l1.5 1.5l0.5 0l6.6 6.1l0 0.5l2.5 2.5l0 0.5l1 1l0 0.5l1.5 1.5l0.5 1.5l1 1l0 0.5l2.4 4.5l0 1.4l-3 0.1l-7.5-2l-7.5-0.1l-9-0.8l-3.5 0.2l-2.5 0.7l-3.1 1.5l-2.1 1.5l-4 4l-1.8 1zM340.9 458.6l0.4-0.2z"/>
<path fill="rgb(255,245,0)" fill-rule="evenodd" d="M394.4 458.4l-1.5-0.1l-2-0.9l-6-5.2l-3.5-2.3l-3-1.2l-3-0.5l-4.5 0.3l-9 1.4l-3.5 0.9l-8 3.1l-8.5 2.3l0-0.8l0.5-0.5l0-1l1-1.5l0-1l0.5-0.5l1.4-3.5l1-1l0.5-1.5l1-1l0-0.5l3-3.5l0-0.5l6.6-6.6l0.5 0l2-2l0.5 0l2.5-2l1.5-0.5l1-1l2.5-1l2.5-1.5l1 0l1.5-1l1 0l0.5-0.5l1 0l0.5-0.5l1 0l0.5-0.5l1.5 0l0.5-0.5l2 0l0.5-0.5l2.5 0l0.5-0.5l14 0l0.5 0.5l2.5 0l0.5 0.5l2 0l0.5 0.5l1 0l0.5 0.5l1.5 0l0.5 0.5l1 0l1.5 1l1 0l1.5 1l1 0l1.5 1l1.5 0.5l1 1l1.5 0.5l1 1l0.5 0l1 1l0.5 0l1.5 1.5l0.5 0l6.6 6.1l0 0.5l2.5 2.5l0 0.5l1 1l0 0.5l1.5 1.5l0.4 1.5l1 1l0 0.5l2.5 4.5l0 0.3l-3.5 0.2l-7-2.1l-7.5-0.3l-9.5-1.2l-3.5 0l-3 0.9l-3.5 1.9l-2 1.6l-3.5 3.8l-1.5 1z"/>
<path fill="rgb(255,206,0)" fill-rule="evenodd" d="M393.9 456.9l-1-0.1l-1.5-0.7l-6-5.3l-3.5-2.4l-3-1.4l-3-0.5l-4.5 0.3l-10 1.5l-3 0.9l-7.5 3l-8.5 2l0-0.3l1-1.5l0-1l0.5-0.5l1.5-3.5l1-1l0.4-1.5l1-1l0-0.5l3-3.5l0-0.5l6.6-6.6l0.5 0l2-2l0.5 0l2.5-2l1.5-0.5l1-1l2.5-1l2.5-1.5l1 0l1.5-1l1 0l0.5-0.5l1 0l0.5-0.5l1 0l0.5-0.5l1.5 0l0.5-0.5l2 0l0.5-0.5l2.5 0l0.5-0.5l14 0l0.5 0.5l2.5 0l0.5 0.5l2 0l0.5 0.5l1 0l0.5 0.5l1.5 0l0.5 0.5l1 0l1.5 1l1 0l1.5 1l1 0l1.5 1l1.5 0.5l1 1l1.5 0.5l1 1l0.5 0l1 1l0.5 0l1.5 1.5l0.5 0l6.6 6.1l0 0.5l2.5 2.5l0 0.5l1 1l0 0.5l1.4 1.5l0.5 1.5l1 1l0 0.5l2 3.5l0 0.3l-3 0l-7-2l-7.5-0.5l-9.5-1.7l-3.5 0l-3 0.7l-3.5 1.8l-2.5 1.9l-4 4.4z"/>
<path fill="rgb(255,167,0)" fill-rule="evenodd" d="M393.9 455l-1 0l-1.5-0.9l-5.5-4.9l-3.5-2.6l-3-1.4l-2.5-0.5l-4 0.2l-10.5 1.6l-4 1.1l-8.5 3.4l-6.5 1.2l0-0.8l0.5-0.5l1.5-3.5l1-1l0.5-1.5l2.4-3l0-0.5l1.5-1.5l0-0.5l6.6-6.6l0.5 0l2-2l0.5 0l2.5-2l1.5-0.5l1-1l2.5-1l2.5-1.5l1 0l1.5-1l1 0l0.5-0.5l1 0l0.5-0.5l1 0l0.5-0.5l1.5 0l0.5-0.5l2 0l0.5-0.5l2.5 0l0.5-0.5l14 0l0.5 0.5l2.5 0l0.5 0.5l2 0l0.5 0.5l1 0l0.5 0.5l1.5 0l0.5 0.5l1 0l1.5 1l1 0l1.5 1l1 0l1.5 1l1.5 0.5l1 1l1.5 0.5l1 1l0.5 0l1 1l0.5 0l1.5 1.5l0.5 0l6.6 6.1l0 0.5l2.4 2.5l0 0.5l1 1l0 0.5l1.5 1.5l0.5 1.5l1 1l0 0.5l1.5 2.5l-2.5 0l-6-1.7l-8.5-1l-8.5-1.8l-4.5-0.3l-3.5 0.8l-3.5 1.8l-2.8 2.2l-3.8 4z"/>
<path fill="rgb(255,128,0)" fill-rule="evenodd" d="M394.4 452l-1 0.2l-1.5-0.4l-9-7.1l-3-1.4l-2.5-0.5l-3.5 0.2l-12.5 2l-3.5 1.1l-7 3.1l-7 1.2l0.5-0.5l1-2.5l1-1l0.5-1.5l2.5-3l0-0.5l1.5-1.5l0-0.5l6.5-6.6l0.5 0l2-2l0.5 0l2.5-2l1.5-0.5l1-1l2.5-1l2.5-1.5l1 0l1.5-1l1 0l0.5-0.5l1 0l0.5-0.5l1 0l0.5-0.5l1.5 0l0.5-0.5l2 0l0.5-0.5l2.5 0l0.5-0.5l14 0l0.5 0.5l2.5 0l0.5 0.5l2 0l0.5 0.5l1 0l0.5 0.5l1.5 0l0.5 0.5l1 0l1.5 1l1 0l1.5 1l1 0l1.5 1l1.5 0.5l1 1l1.5 0.5l1 1l0.5 0l1 1l0.5 0l1.5 1.5l0.5 0l6.5 6.1l0 0.5l2.5 2.5l0 0.5l1 1l0 0.5l1.5 1.5l0.5 1.5l1.5 2l0 0.6l-1.5-0.1l-6.5-1.7l-7.5-1l-9-2.2l-4.5-0.3l-3.5 0.7l-3.5 1.6l-2.8 1.9z"/>
<path fill="rgb(255,88,0)" fill-rule="evenodd" d="M394.4 448.5l-1 0.3l-1.5-0.3l-9.5-6.3l-3-1.1l-2.5-0.2l-16 2.4l-3.5 1.2l-7 3.3l-5.5 0.9l0-0.3l1.5-2l0.5-1.5l1-1l0-0.5l3-3.5l0-0.5l6.5-6.5l0.5 0l2-2l0.5 0l2.5-2l1.5-0.5l1-1l2.5-1l2.5-1.5l1 0l1.5-1l1 0l0.5-0.6l1 0l0.5-0.5l1 0l0.5-0.5l1.5 0l0.5-0.5l2 0l0.5-0.5l2.5 0l0.5-0.5l14 0l0.5 0.5l2.5 0l0.5 0.5l2 0l0.5 0.5l1 0l0.5 0.5l1.5 0l0.5 0.5l1 0l0.5 0.5l0.5 0l0.5 0.5l1 0l1.5 1.1l1 0l1.5 1l1.5 0.5l1 1l1.5 0.5l2.5 2l0.5 0l4.5 4l0.5 0l6 6.5l0 0.5l2.5 3l0 0.5l1 1.5l0 0.4l-0.5-0.1l-6-1.4l-7-1.1l-10-2.7l-4-0.4l-3.5 0.5l-3.5 1.3l-3 1.7z"/>
<path fill="rgb(255,49,0)" fill-rule="evenodd" d="M348.9 446.5l-2.5 0.3l0-0.9l1.5-2l0-0.5l3-3.5l0-0.5l6.5-6.5l0.5 0l2-2l0.5 0l2.5-2l1.5-0.5l1-1l2.5-1l2.5-1.5l1 0l1.5-1l1 0l0.5-0.5l1 0l0.5-0.5l1 0l0.5-0.5l1.5 0l0.5-0.5l2 0l0.5-0.5l2.5 0l0.5-0.5l14 0l0.5 0.5l2.5 0l0.5 0.5l2 0l0.5 0.5l1 0l0.5 0.5l1.5 0l0.5 0.5l1 0l0.5 0.5l0.5 0l0.5 0.5l1 0l1.5 1l1 0l1.5 1l1.5 0.5l1 1l1.5 0.5l2.5 2l0.5 0l4.5 4l0.5 0l3.5 3.5l0 0.5l2.5 2.5l0 0.5l1 1l0 0.5l1.5 1.5l0 0.4l-11-2.2l-10.5-3.3l-4-0.5l-3.5 0.3l-3.5 1l-3.2 1.3l-5.8 3.1l-2.5 0.4l-2.5-0.8l-4.5-2.8l-3-1.5l-3-0.8l-3-0.2l-16 2.6l-3.5 1.3l-6 3.2z"/>
<path fill="rgb(255,10,0)" fill-rule="evenodd" d="M348.4 444.5l-1 0.2l0.5-1.3l3-3.5l0-0.5l6.5-6.5l0.5 0l2-2l0.5 0l2.5-2l1.5-0.5l1-1l2.5-1l2.5-1.5l1 0l1.5-1l1 0l0.5-0.5l1 0l0.5-0.5l1 0l0.5-0.5l1.5 0l0.5-0.5l2 0l0.5-0.5l2.5 0l0.5-0.5l14 0l0.5 0.5l2.5 0l0.5 0.5l2 0l0.5 0.5l1 0l0.5 0.5l1.5 0l0.5 0.5l1 0l0.5 0.5l0.5 0l0.5 0.5l1 0l1.5 1l1 0l1.5 1l1.5 0.5l1 1l1.5 0.5l1 1l0.5 0l1 1l0.5 0l1.5 1.5l0.5 0l6.5 6l0 0.5l2.5 2.5l0 0.5l1 1l-9.5-1.9l-9.5-3.8l-3-0.7l-3 0.1l-4.5 0.9l-4 1.2l-6 2.3l-2.5 0.4l-2.5-0.4l-8-3.2l-7-0.8l-3 0.3l-4 1.1l-4.5 0.4l-3.5 0.8l-4 1.6l-6 3.2z"/>
<path fill="rgb(226,0,0)" fill-rule="evenodd" d="M349.9 441.4l-0.5 0.2l1.5-1.7l0-0.5l6.5-6.5l0.5 0l2-2l0.5 0l2.5-2l1.5-0.5l1-1l2.5-1l2.5-1.5l1 0l1.5-1l1 0l0.5-0.5l1 0l0.5-0.5l1 0l0.5-0.5l1.5 0l0.5-0.5l2 0l0.5-0.5l2.5 0l0.5-0.5l14 0l0.5 0.5l2.5 0l0.5 0.5l2 0l0.5 0.5l1 0l0.5 0.5l1.5 0l0.5 0.5l1 0l1.5 1l1 0l1.5 1l1 0l1.5 1l1.5 0.5l1 1l1.5 0.5l1 1l0.5 0l1 1l0.5 0l4.5 4l0.5 0l3.5 3.5l0 0.5l1.5 1.5l-7.5-2l-9-4.7l-2.5-0.7l-4 0.2l-13.5 3.2l-3.5 0.5l-18.5-3.4l-4-0.4l-2 0.4l-9 3.6z"/>
<path fill="rgb(186,0,0)" fill-rule="evenodd" d="M429.9 436.6l-5-2.1l-7.5-4.7l-3.5-1l-5.5 0l-12 2.3l-5 0.3l-9.5-1.1l-8.9-2.4l-2.6-0.4l-2 0.2l-2.1 0.7l-10.9 6.8l0-0.3l4.5-4l0.5 0l2.5-2l1.5-0.5l1-1l2.5-1l2.5-1.5l1 0l1.5-1l1 0l0.5-0.5l1 0l0.5-0.5l1 0l0.5-0.5l1.5 0l0.5-0.5l2 0l0.5-0.5l2.5 0l0.5-0.5l14 0l0.5 0.5l2.5 0l0.5 0.5l2 0l0.5 0.5l1 0l0.5 0.5l1.5 0l0.5 0.5l1 0l1.5 1l1 0l1.5 1l1 0l1.5 1l1.5 0.5l1 1l1.5 0.5l1 1l0.5 0l1 1l0.5 0l1.5 1.5l0.5 0l2.5 2.5l0.5 0zM354.9 435.5l0.2-0.1z"/>
<path fill="rgb(147,0,0)" fill-rule="evenodd" d="M395.4 425.9l-5 0.3l-5-0.3l-11-2l0-0.5l2.5-0.5l0.5-0.5l1.5 0l0.5-0.5l2 0l0.5-0.5l2.5 0l0.5-0.5l14 0l0.5 0.5l2.5 0l0.5 0.5l2 0l0.5 0.5l1 0l0.5 0.5l1.5 0l0.5 0.5l1 0l1.5 1l1 0l0.5 0.5l0.5 0l-9-0.2z"/>
</g>
<ellipse cx="391.8" cy="472.3" rx="51.4" ry="50.4" fill="none" stroke="#1a1a1a" stroke-width="0.7"/>
<rect x="170.6" y="319.2" width="5.2" height="98.6" fill="url(#cb)"/>
<text class="t" x="177.2" y="325.2" style="font-size:2.7px;fill:#555">30</text>
<text class="t" x="177.2" y="341.1" style="font-size:2.7px;fill:#555">25</text>
<text class="t" x="177.2" y="357" style="font-size:2.7px;fill:#555">20</text>
<text class="t" x="177.2" y="372.9" style="font-size:2.7px;fill:#555">15</text>
<text class="t" x="177.2" y="388.8" style="font-size:2.7px;fill:#555">10</text>
<text class="t" x="177.2" y="404.7" style="font-size:2.7px;fill:#555">5</text>
<rect x="170.6" y="422" width="5.2" height="99" fill="url(#cb)"/>
<text class="t" x="177.2" y="428" style="font-size:2.7px;fill:#555">30</text>
<text class="t" x="177.2" y="443.9" style="font-size:2.7px;fill:#555">25</text>
<text class="t" x="177.2" y="459.8" style="font-size:2.7px;fill:#555">20</text>
<text class="t" x="177.2" y="475.7" style="font-size:2.7px;fill:#555">15</text>
<text class="t" x="177.2" y="491.6" style="font-size:2.7px;fill:#555">10</text>
<text class="t" x="177.2" y="507.5" style="font-size:2.7px;fill:#555">5</text>
<rect x="308" y="319.2" width="5.4" height="98.6" fill="url(#cb)"/>
<text class="t" x="314.8" y="325.2" style="font-size:2.7px;fill:#555">30</text>
<text class="t" x="314.8" y="341.1" style="font-size:2.7px;fill:#555">25</text>
<text class="t" x="314.8" y="357" style="font-size:2.7px;fill:#555">20</text>
<text class="t" x="314.8" y="372.9" style="font-size:2.7px;fill:#555">15</text>
<text class="t" x="314.8" y="388.8" style="font-size:2.7px;fill:#555">10</text>
<text class="t" x="314.8" y="404.7" style="font-size:2.7px;fill:#555">5</text>
<rect x="308" y="422" width="5.4" height="99" fill="url(#cb)"/>
<text class="t" x="314.8" y="428" style="font-size:2.7px;fill:#555">30</text>
<text class="t" x="314.8" y="443.9" style="font-size:2.7px;fill:#555">25</text>
<text class="t" x="314.8" y="459.8" style="font-size:2.7px;fill:#555">20</text>
<text class="t" x="314.8" y="475.7" style="font-size:2.7px;fill:#555">15</text>
<text class="t" x="314.8" y="491.6" style="font-size:2.7px;fill:#555">10</text>
<text class="t" x="314.8" y="507.5" style="font-size:2.7px;fill:#555">5</text>
<rect x="446.6" y="319.2" width="5.2" height="98.6" fill="url(#cb)"/>
<text class="t" x="453.2" y="325.2" style="font-size:2.7px;fill:#555">30</text>
<text class="t" x="453.2" y="341.1" style="font-size:2.7px;fill:#555">25</text>
<text class="t" x="453.2" y="357" style="font-size:2.7px;fill:#555">20</text>
<text class="t" x="453.2" y="372.9" style="font-size:2.7px;fill:#555">15</text>
<text class="t" x="453.2" y="388.8" style="font-size:2.7px;fill:#555">10</text>
<text class="t" x="453.2" y="404.7" style="font-size:2.7px;fill:#555">5</text>
<rect x="446.6" y="422" width="5.2" height="99" fill="url(#cb)"/>
<text class="t" x="453.2" y="428" style="font-size:2.7px;fill:#555">30</text>
<text class="t" x="453.2" y="443.9" style="font-size:2.7px;fill:#555">25</text>
<text class="t" x="453.2" y="459.8" style="font-size:2.7px;fill:#555">20</text>
<text class="t" x="453.2" y="475.7" style="font-size:2.7px;fill:#555">15</text>
<text class="t" x="453.2" y="491.6" style="font-size:2.7px;fill:#555">10</text>
<text class="t" x="453.2" y="507.5" style="font-size:2.7px;fill:#555">5</text>
<g transform="translate(461.2 344) rotate(90)">
<text class="b" x="0" y="0" font-size="13" textLength="56" lengthAdjust="spacingAndGlyphs">Sham-NF</text>
</g>
<g transform="translate(461.2 469.8) rotate(90)">
<text class="b" x="0" y="0" font-size="13" textLength="16.4" lengthAdjust="spacingAndGlyphs">NF</text>
</g>
<text class="s" x="257" y="540.6" font-size="16.5" textLength="17.8" lengthAdjust="spacingAndGlyphs">(b)</text>
</svg></body></html>
